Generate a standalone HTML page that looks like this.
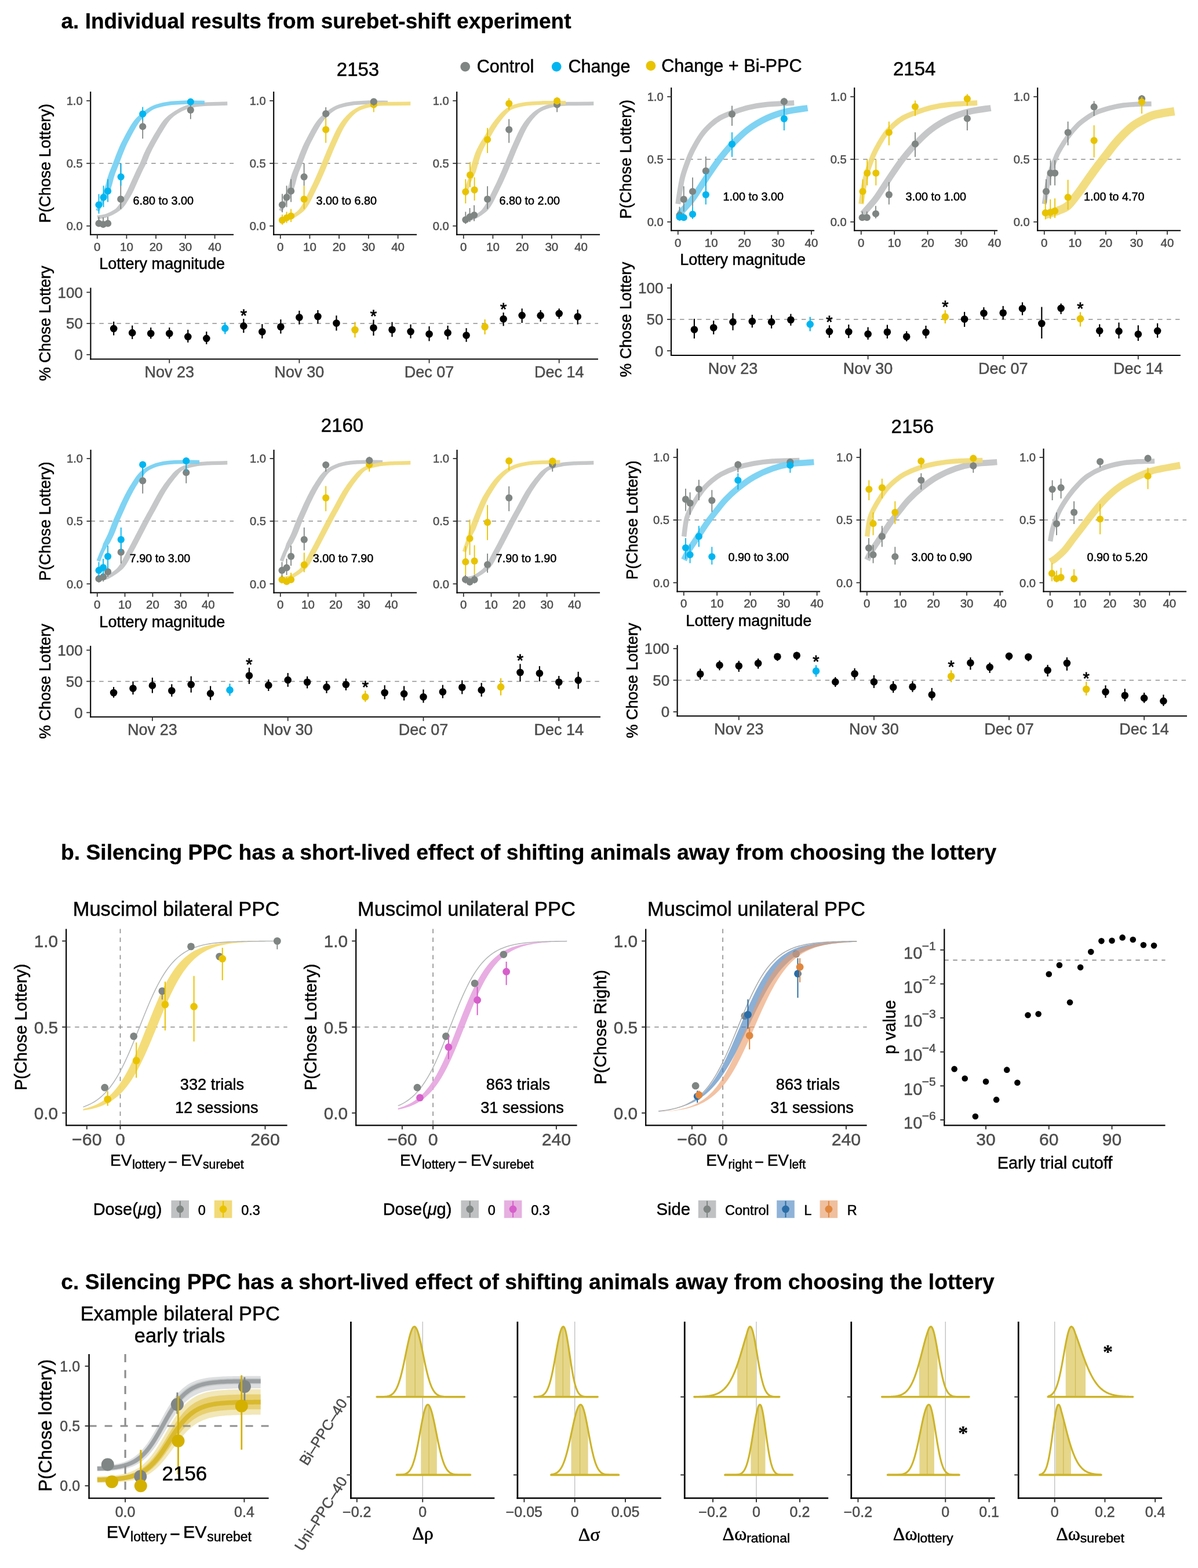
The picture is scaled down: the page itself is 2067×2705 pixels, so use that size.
<!DOCTYPE html>
<html><head><meta charset="utf-8"><title>Figure</title>
<style>html,body{margin:0;padding:0;background:#fff;}svg{display:block;}
text{font-family:'Liberation Sans',Arial,Helvetica,sans-serif;}</style></head>
<body><svg width="2067" height="2705" viewBox="0 0 2067 2705">
<rect x="0" y="0" width="2067" height="2705" fill="#fff"/>
<text x="105.5" y="48.7" font-size="37" font-weight="bold" stroke="#000" stroke-width="0.3">a. Individual results from surebet-shift experiment</text>
<text x="617.5" y="130.8" font-size="33" text-anchor="middle" stroke="#000" stroke-width="0.5">2153</text>
<text x="1577.7" y="129.5" font-size="33" text-anchor="middle" stroke="#000" stroke-width="0.5">2154</text>
<text x="590.5" y="744.6" font-size="33" text-anchor="middle" stroke="#000" stroke-width="0.5">2160</text>
<text x="1574.3" y="747" font-size="33" text-anchor="middle" stroke="#000" stroke-width="0.5">2156</text>
<circle cx="802.7" cy="115.1" r="8.4" fill="#7e8583"/>
<text x="822.7" y="124.7" font-size="30.6" stroke="#000" stroke-width="0.5">Control</text>
<circle cx="960.2" cy="115.1" r="8.4" fill="#00b5f0"/>
<text x="980.4" y="124.7" font-size="30.6" stroke="#000" stroke-width="0.5">Change</text>
<circle cx="1122.9" cy="113.5" r="8.4" fill="#e8c300"/>
<text x="1141.2" y="123.5" font-size="30.6" stroke="#000" stroke-width="0.5">Change + Bi-PPC</text>
<line x1="156.21" y1="281.79" x2="403.08" y2="281.79" stroke="#8e8e8e" stroke-width="1.5" stroke-dasharray="7.5 7.5"/>
<g opacity="0.93">
<path d="M168.11,375.01 L168.58,374.87 L169.17,374.71 L169.86,374.54 L170.64,374.35 L171.48,374.14 L172.38,373.9 L173.31,373.64 L174.25,373.34 L175.2,373.01 L176.13,372.65 L177.29,372.24 L178.68,371.79 L180.04,371.29 L181.45,370.72 L182.89,370.1 L184.33,369.44 L185.78,368.75 L187.22,368.03 L188.63,367.29 L189.99,366.56 L191.3,365.82 L192.54,365.11 L193.69,364.41 L194.75,363.76 L195.7,363.14 L196.56,362.56 L197.33,362.01 L198.03,361.47 L198.67,360.93 L199.27,360.39 L199.85,359.84 L200.41,359.26 L200.97,358.65 L201.54,358 L202.14,357.29 L202.79,356.53 L203.46,355.7 L204.13,354.82 L204.8,353.91 L205.47,352.95 L206.14,351.97 L206.81,350.95 L207.48,349.91 L208.15,348.85 L208.82,347.77 L209.48,346.68 L210.15,345.58 L210.82,344.47 L211.49,343.36 L212.16,342.24 L212.83,341.1 L213.5,339.95 L214.17,338.78 L214.84,337.59 L215.51,336.38 L216.18,335.16 L216.85,333.91 L217.52,332.63 L218.19,331.33 L218.86,330.01 L219.53,328.65 L220.2,327.25 L220.87,325.81 L221.54,324.35 L222.21,322.87 L222.88,321.37 L223.55,319.86 L224.22,318.34 L224.89,316.82 L225.56,315.31 L226.23,313.81 L226.9,312.33 L227.57,310.84 L228.25,309.32 L228.94,307.79 L229.63,306.26 L230.33,304.72 L231.01,303.19 L231.7,301.67 L232.37,300.18 L233.04,298.73 L233.69,297.32 L234.32,295.95 L234.93,294.65 L235.51,293.44 L236.06,292.34 L236.58,291.32 L237.07,290.36 L237.56,289.44 L238.05,288.52 L238.54,287.59 L239.04,286.61 L239.57,285.57 L240.12,284.44 L240.72,283.18 L241.36,281.79 L242.03,280.27 L242.71,278.67 L243.39,276.99 L244.1,275.24 L244.83,273.42 L245.58,271.54 L246.37,269.61 L247.19,267.62 L248.07,265.59 L248.99,263.52 L249.97,261.42 L251,259.29 L252.12,257.09 L253.31,254.78 L254.57,252.4 L255.89,249.94 L257.24,247.45 L258.64,244.93 L260.05,242.4 L261.48,239.88 L262.91,237.4 L264.32,234.98 L265.72,232.62 L267.08,230.36 L268.42,228.15 L269.75,225.93 L271.09,223.73 L272.43,221.55 L273.77,219.4 L275.11,217.3 L276.45,215.26 L277.79,213.28 L279.13,211.37 L280.47,209.56 L281.81,207.85 L283.15,206.25 L284.49,204.77 L285.83,203.4 L287.17,202.13 L288.51,200.95 L289.84,199.85 L291.18,198.82 L292.52,197.84 L293.86,196.91 L295.2,196.01 L296.54,195.13 L297.88,194.26 L299.22,193.39 L300.56,192.54 L301.9,191.73 L303.24,190.95 L304.58,190.21 L305.92,189.5 L307.26,188.82 L308.6,188.18 L309.93,187.56 L311.27,186.97 L312.61,186.41 L313.95,185.87 L315.29,185.36 L316.63,184.88 L317.97,184.43 L319.31,184.01 L320.65,183.63 L321.99,183.28 L323.33,182.95 L324.67,182.64 L326.01,182.35 L327.35,182.08 L328.69,181.82 L330.02,181.58 L331.36,181.34 L332.63,181.12 L333.77,180.93 L334.84,180.76 L335.86,180.61 L336.88,180.48 L337.94,180.36 L339.09,180.25 L340.35,180.14 L341.78,180.04 L343.41,179.95 L345.28,179.84 L347.44,179.73 L350.03,179.62 L353.11,179.5 L356.56,179.39 L360.29,179.28 L364.18,179.17 L368.13,179.07 L372.02,178.97 L375.74,178.88 L379.19,178.8 L382.26,178.72 L384.84,178.66 L386.81,178.61 L392.31,178.61 L390.19,178.8 L386.74,178.88 L383.02,178.97 L379.13,179.07 L375.18,179.17 L371.29,179.28 L367.56,179.39 L364.11,179.5 L361.03,179.62 L358.44,179.73 L356.28,179.84 L354.41,179.95 L352.78,180.04 L351.35,180.14 L350.09,180.25 L348.94,180.36 L347.88,180.48 L346.86,180.61 L345.84,180.76 L344.77,180.93 L343.63,181.12 L342.36,181.34 L341.02,181.58 L339.69,181.82 L338.35,182.08 L337.01,182.35 L335.67,182.64 L334.33,182.95 L332.99,183.28 L331.65,183.63 L330.31,184.01 L328.97,184.43 L327.63,184.88 L326.29,185.36 L324.95,185.87 L323.61,186.41 L322.27,186.97 L320.93,187.56 L319.6,188.18 L318.26,188.82 L316.92,189.5 L315.58,190.21 L314.24,190.95 L312.9,191.73 L311.56,192.54 L310.22,193.39 L308.88,194.26 L307.54,195.13 L306.2,196.01 L304.86,196.91 L303.52,197.84 L302.18,198.82 L300.84,199.85 L299.51,200.95 L298.17,202.13 L296.83,203.4 L295.49,204.77 L294.15,206.25 L292.81,207.85 L291.47,209.56 L290.13,211.37 L288.79,213.28 L287.45,215.26 L286.11,217.3 L284.77,219.4 L283.43,221.55 L282.09,223.73 L280.75,225.93 L279.42,228.15 L278.08,230.36 L276.72,232.62 L275.32,234.98 L273.91,237.4 L272.48,239.88 L271.05,242.4 L269.64,244.93 L268.24,247.45 L266.89,249.94 L265.57,252.4 L264.31,254.78 L263.12,257.09 L262,259.29 L260.97,261.42 L259.99,263.52 L259.07,265.59 L258.19,267.62 L257.37,269.61 L256.58,271.54 L255.83,273.42 L255.1,275.24 L254.39,276.99 L253.71,278.67 L253.03,280.27 L252.36,281.79 L251.72,283.18 L251.12,284.44 L250.57,285.57 L250.04,286.61 L249.54,287.59 L249.05,288.52 L248.56,289.44 L248.07,290.36 L247.58,291.32 L247.06,292.34 L246.51,293.44 L245.93,294.65 L245.32,295.95 L244.69,297.32 L244.04,298.73 L243.37,300.18 L242.7,301.67 L242.01,303.19 L241.33,304.72 L240.63,306.26 L239.94,307.79 L239.25,309.32 L238.57,310.84 L237.9,312.33 L237.23,313.81 L236.56,315.31 L235.89,316.82 L235.22,318.34 L234.55,319.86 L233.88,321.37 L233.21,322.87 L232.54,324.35 L231.87,325.81 L231.2,327.25 L230.53,328.65 L229.86,330.01 L229.19,331.33 L228.52,332.63 L227.85,333.91 L227.18,335.16 L226.51,336.38 L225.84,337.59 L225.17,338.78 L224.5,339.95 L223.83,341.1 L223.16,342.24 L222.49,343.36 L221.82,344.47 L221.15,345.58 L220.48,346.68 L219.82,347.77 L219.15,348.85 L218.48,349.91 L217.81,350.95 L217.14,351.97 L216.47,352.95 L215.8,353.91 L215.13,354.82 L214.46,355.7 L213.79,356.53 L213.14,357.29 L212.54,358 L211.97,358.65 L211.41,359.26 L210.85,359.84 L210.27,360.39 L209.67,360.93 L209.03,361.47 L208.33,362.01 L207.56,362.56 L206.7,363.14 L205.75,363.76 L204.69,364.41 L203.54,365.11 L202.3,365.82 L200.99,366.56 L199.63,367.29 L198.22,368.03 L196.78,368.75 L195.33,369.44 L193.89,370.1 L192.45,370.72 L191.04,371.29 L189.68,371.79 L188.29,372.24 L186.5,372.65 L184.37,373.01 L182.2,373.34 L180.03,373.64 L177.9,373.9 L175.85,374.14 L173.91,374.35 L172.13,374.54 L170.54,374.71 L169.19,374.87 L168.11,375.01Z" fill="#c1c3c4"/>
<path d="M168.11,375.01C170.79,374.47 178.82,373.67 184.18,371.79C189.54,369.92 196.23,366.3 200.25,363.76C204.27,361.21 205.61,359.74 208.29,356.53C210.97,353.31 213.65,348.89 216.32,344.47C219,340.05 221.68,335.36 224.36,330.01C227.04,324.65 229.72,318.22 232.4,312.33C235.07,306.43 238.02,299.74 240.43,294.65C242.84,289.56 244.18,287.68 246.86,281.79C249.54,275.9 252.22,267.86 256.5,259.29C260.79,250.72 267.22,239.2 272.58,230.36C277.93,221.52 283.29,212.41 288.65,206.25C294.01,200.09 299.36,196.88 304.72,193.39C310.08,189.91 315.43,187.37 320.79,185.36C326.15,183.35 331.51,182.28 336.86,181.34C342.22,180.4 343.69,180.19 352.94,179.73C362.18,179.28 385.75,178.8 392.31,178.61" fill="none" stroke="#c1c3c4" stroke-width="6.5"/>
</g>
<g opacity="0.93">
<path d="M168.11,363.76 L168.34,363 L168.63,362.08 L168.96,361.02 L169.34,359.83 L169.75,358.53 L170.18,357.13 L170.64,355.65 L171.11,354.11 L171.58,352.53 L172.06,350.92 L172.53,349.3 L172.99,347.69 L173.45,346.04 L173.93,344.31 L174.43,342.51 L174.94,340.66 L175.46,338.77 L175.98,336.84 L176.49,334.89 L177.25,332.92 L178.06,330.96 L178.85,329.01 L179.59,327.08 L180.29,325.18 L180.93,323.3 L181.53,321.42 L182.08,319.52 L182.61,317.63 L183.11,315.73 L183.6,313.83 L184.09,311.95 L184.57,310.07 L185.07,308.2 L185.59,306.34 L186.13,304.5 L186.72,302.68 L187.33,300.89 L187.96,299.11 L188.61,297.35 L189.28,295.6 L189.95,293.86 L190.63,292.14 L191.32,290.41 L192.01,288.7 L192.71,286.98 L193.39,285.25 L194.08,283.53 L194.75,281.79 L195.42,280.04 L196.09,278.27 L196.76,276.49 L197.43,274.71 L198.1,272.92 L198.77,271.14 L199.44,269.37 L200.11,267.62 L200.78,265.89 L201.45,264.19 L202.12,262.53 L202.79,260.9 L203.43,259.35 L204.03,257.89 L204.61,256.51 L205.17,255.18 L205.73,253.87 L206.3,252.56 L206.91,251.22 L207.55,249.82 L208.25,248.35 L209.02,246.78 L209.87,245.07 L210.82,243.22 L211.89,241.16 L213.06,238.9 L214.33,236.47 L215.67,233.93 L217.06,231.31 L218.5,228.65 L219.95,226 L221.41,223.4 L222.85,220.88 L224.25,218.5 L225.61,216.28 L226.9,214.29 L228.11,212.49 L229.28,210.83 L230.4,209.29 L231.5,207.86 L232.59,206.52 L233.67,205.25 L234.75,204.03 L235.86,202.86 L237,201.71 L238.18,200.56 L239.42,199.4 L240.72,198.22 L242.07,197.01 L243.44,195.81 L244.85,194.62 L246.28,193.45 L247.74,192.31 L249.24,191.18 L250.77,190.1 L252.34,189.05 L253.95,188.05 L255.6,187.09 L257.3,186.19 L259.04,185.36 L260.82,184.58 L262.63,183.87 L264.47,183.21 L266.35,182.59 L268.27,182.02 L270.23,181.49 L272.24,181 L274.3,180.54 L276.42,180.1 L278.6,179.69 L280.84,179.3 L283.15,178.93 L285.55,178.58 L288.04,178.26 L290.62,177.98 L293.27,177.72 L295.97,177.49 L298.72,177.29 L301.49,177.11 L304.28,176.96 L307.07,176.82 L309.84,176.71 L312.59,176.61 L315.29,176.52 L318.07,176.46 L321.02,176.44 L324.08,176.45 L327.2,176.48 L330.31,176.54 L333.37,176.61 L336.32,176.69 L339.1,176.77 L341.66,176.85 L343.94,176.92 L345.88,176.97 L347.44,177 L352.94,177 L352.66,176.85 L350.1,176.77 L347.32,176.69 L344.37,176.61 L341.31,176.54 L338.2,176.48 L335.08,176.45 L332.02,176.44 L329.07,176.46 L326.29,176.52 L323.59,176.61 L320.84,176.71 L318.07,176.82 L315.28,176.96 L312.49,177.11 L309.72,177.29 L306.97,177.49 L304.27,177.72 L301.62,177.98 L299.04,178.26 L296.55,178.58 L294.15,178.93 L291.84,179.3 L289.6,179.69 L287.42,180.1 L285.3,180.54 L283.24,181 L281.23,181.49 L279.27,182.02 L277.35,182.59 L275.47,183.21 L273.63,183.87 L271.82,184.58 L270.04,185.36 L268.3,186.19 L266.6,187.09 L264.95,188.05 L263.34,189.05 L261.77,190.1 L260.24,191.18 L258.74,192.31 L257.28,193.45 L255.85,194.62 L254.44,195.81 L253.07,197.01 L251.72,198.22 L250.42,199.4 L249.18,200.56 L248,201.71 L246.86,202.86 L245.75,204.03 L244.67,205.25 L243.59,206.52 L242.5,207.86 L241.4,209.29 L240.28,210.83 L239.11,212.49 L237.9,214.29 L236.61,216.28 L235.25,218.5 L233.85,220.88 L232.41,223.4 L230.95,226 L229.5,228.65 L228.06,231.31 L226.67,233.93 L225.33,236.47 L224.06,238.9 L222.89,241.16 L221.82,243.22 L220.87,245.07 L220.02,246.78 L219.25,248.35 L218.55,249.82 L217.91,251.22 L217.3,252.56 L216.73,253.87 L216.17,255.18 L215.61,256.51 L215.03,257.89 L214.43,259.35 L213.79,260.9 L213.12,262.53 L212.45,264.19 L211.78,265.89 L211.11,267.62 L210.44,269.37 L209.77,271.14 L209.1,272.92 L208.43,274.71 L207.76,276.49 L207.09,278.27 L206.42,280.04 L205.75,281.79 L205.08,283.53 L204.39,285.25 L203.71,286.98 L203.01,288.7 L202.32,290.41 L201.63,292.14 L200.95,293.86 L200.28,295.6 L199.61,297.35 L198.96,299.11 L198.33,300.89 L197.72,302.68 L197.13,304.5 L196.59,306.34 L196.07,308.2 L195.57,310.07 L195.09,311.95 L194.6,313.83 L194.11,315.73 L193.61,317.63 L193.08,319.52 L192.53,321.42 L191.93,323.3 L191.29,325.18 L190.59,327.08 L189.85,329.01 L189.06,330.96 L188.25,332.92 L187.34,334.89 L186.16,336.84 L184.97,338.77 L183.78,340.66 L182.61,342.51 L181.46,344.31 L180.36,346.04 L179.3,347.69 L178.25,349.3 L177.18,350.92 L176.08,352.53 L174.99,354.11 L173.91,355.65 L172.87,357.13 L171.86,358.53 L170.93,359.83 L170.07,361.02 L169.3,362.08 L168.64,363 L168.11,363.76Z" fill="#76d0f3"/>
<path d="M168.11,363.76C169.45,361.08 173.2,354.11 176.14,347.69C179.09,341.26 183.11,332.69 185.79,325.18C188.47,317.68 189.81,309.92 192.22,302.68C194.63,295.45 197.57,288.75 200.25,281.79C202.93,274.83 205.61,267.33 208.29,260.9C210.97,254.47 212.31,250.99 216.32,243.22C220.34,235.45 227.41,221.79 232.4,214.29C237.38,206.79 240.86,203.04 246.22,198.22C251.58,193.39 257.47,188.57 264.54,185.36C271.61,182.14 279.27,180.4 288.65,178.93C298.02,177.46 310.08,176.84 320.79,176.52C331.51,176.2 347.58,176.92 352.94,177" fill="none" stroke="#76d0f3" stroke-width="6.5"/>
</g>
<line x1="170.52" y1="374.2" x2="170.52" y2="391.08" stroke="#7e8583" stroke-width="1.8"/>
<line x1="178.07" y1="375.01" x2="178.07" y2="391.88" stroke="#7e8583" stroke-width="1.8"/>
<line x1="186.11" y1="374.2" x2="186.11" y2="391.08" stroke="#7e8583" stroke-width="1.8"/>
<line x1="208.29" y1="281.79" x2="208.29" y2="360.54" stroke="#7e8583" stroke-width="1.8"/>
<line x1="246.22" y1="196.61" x2="246.22" y2="239.2" stroke="#7e8583" stroke-width="1.8"/>
<line x1="328.83" y1="175.72" x2="328.83" y2="205.45" stroke="#7e8583" stroke-width="1.8"/>
<circle cx="170.52" cy="385.45" r="6.1" fill="#7e8583"/>
<circle cx="178.07" cy="387.06" r="6.1" fill="#7e8583"/>
<circle cx="186.11" cy="385.45" r="6.1" fill="#7e8583"/>
<circle cx="208.29" cy="343.67" r="6.1" fill="#7e8583"/>
<circle cx="246.22" cy="218.31" r="6.1" fill="#7e8583"/>
<circle cx="328.83" cy="189.86" r="6.1" fill="#7e8583"/>
<line x1="170.52" y1="334.83" x2="170.52" y2="368.58" stroke="#00b5f0" stroke-width="1.8"/>
<line x1="178.55" y1="320.36" x2="178.55" y2="357.33" stroke="#00b5f0" stroke-width="1.8"/>
<line x1="186.11" y1="309.11" x2="186.11" y2="348.49" stroke="#00b5f0" stroke-width="1.8"/>
<line x1="208.61" y1="281.79" x2="208.61" y2="320.36" stroke="#00b5f0" stroke-width="1.8"/>
<line x1="246.22" y1="184.55" x2="246.22" y2="207.86" stroke="#00b5f0" stroke-width="1.8"/>
<line x1="328.83" y1="170.89" x2="328.83" y2="182.14" stroke="#00b5f0" stroke-width="1.8"/>
<circle cx="170.52" cy="353.31" r="6.1" fill="#00b5f0"/>
<circle cx="178.55" cy="340.45" r="6.1" fill="#00b5f0"/>
<circle cx="186.11" cy="329.68" r="6.1" fill="#00b5f0"/>
<circle cx="208.61" cy="305.09" r="6.1" fill="#00b5f0"/>
<circle cx="246.22" cy="196.61" r="6.1" fill="#00b5f0"/>
<circle cx="328.83" cy="175.72" r="6.1" fill="#00b5f0"/>
<line x1="156.21" y1="158.04" x2="156.21" y2="405.74" stroke="#000" stroke-width="2.1"/>
<line x1="155.21" y1="404.74" x2="403.08" y2="404.74" stroke="#000" stroke-width="2.1"/>
<line x1="149.21" y1="389.79" x2="156.21" y2="389.79" stroke="#333" stroke-width="1.8"/>
<text x="142.71" y="397.09" font-size="20.2" text-anchor="end" fill="#4d4d4d" stroke="#4d4d4d" stroke-width="0.5">0.0</text>
<line x1="149.21" y1="281.79" x2="156.21" y2="281.79" stroke="#333" stroke-width="1.8"/>
<text x="142.71" y="289.09" font-size="20.2" text-anchor="end" fill="#4d4d4d" stroke="#4d4d4d" stroke-width="0.5">0.5</text>
<line x1="149.21" y1="173.79" x2="156.21" y2="173.79" stroke="#333" stroke-width="1.8"/>
<text x="142.71" y="181.09" font-size="20.2" text-anchor="end" fill="#4d4d4d" stroke="#4d4d4d" stroke-width="0.5">1.0</text>
<line x1="167.79" y1="404.74" x2="167.79" y2="411.74" stroke="#333" stroke-width="1.8"/>
<text x="167.79" y="432.54" font-size="20.5" text-anchor="middle" fill="#4d4d4d" stroke="#4d4d4d" stroke-width="0.5">0</text>
<line x1="218.41" y1="404.74" x2="218.41" y2="411.74" stroke="#333" stroke-width="1.8"/>
<text x="218.41" y="432.54" font-size="20.5" text-anchor="middle" fill="#4d4d4d" stroke="#4d4d4d" stroke-width="0.5">10</text>
<line x1="269.04" y1="404.74" x2="269.04" y2="411.74" stroke="#333" stroke-width="1.8"/>
<text x="269.04" y="432.54" font-size="20.5" text-anchor="middle" fill="#4d4d4d" stroke="#4d4d4d" stroke-width="0.5">20</text>
<line x1="319.83" y1="404.74" x2="319.83" y2="411.74" stroke="#333" stroke-width="1.8"/>
<text x="319.83" y="432.54" font-size="20.5" text-anchor="middle" fill="#4d4d4d" stroke="#4d4d4d" stroke-width="0.5">30</text>
<line x1="370.62" y1="404.74" x2="370.62" y2="411.74" stroke="#333" stroke-width="1.8"/>
<text x="370.62" y="432.54" font-size="20.5" text-anchor="middle" fill="#4d4d4d" stroke="#4d4d4d" stroke-width="0.5">40</text>
<text x="229.49" y="353.31" font-size="19.8" stroke="#000" stroke-width="0.5">6.80 to 3.00</text>
<text x="279.65" y="463.74" font-size="27.1" text-anchor="middle" stroke="#000" stroke-width="0.5">Lottery magnitude</text>
<text x="87" y="281.79" font-size="27.2" text-anchor="middle" transform="rotate(-90 87 281.79)" stroke="#000" stroke-width="0.5">P(Chose Lottery)</text>
<line x1="472.21" y1="281.79" x2="719.08" y2="281.79" stroke="#8e8e8e" stroke-width="1.5" stroke-dasharray="7.5 7.5"/>
<g opacity="0.93">
<path d="M484.11,363.76 L484.34,363 L484.63,362.08 L484.96,361.02 L485.34,359.83 L485.75,358.53 L486.18,357.13 L486.64,355.65 L487.11,354.11 L487.58,352.53 L488.06,350.92 L488.53,349.3 L488.99,347.69 L489.45,346.04 L489.93,344.31 L490.43,342.51 L490.94,340.66 L491.46,338.77 L491.98,336.84 L492.49,334.89 L493.25,332.92 L494.06,330.96 L494.85,329.01 L495.59,327.08 L496.29,325.18 L496.93,323.3 L497.53,321.42 L498.08,319.52 L498.61,317.63 L499.11,315.73 L499.6,313.83 L500.09,311.95 L500.57,310.07 L501.07,308.2 L501.59,306.34 L502.13,304.5 L502.72,302.68 L503.33,300.89 L503.96,299.11 L504.61,297.35 L505.28,295.6 L505.95,293.86 L506.63,292.14 L507.32,290.41 L508.01,288.7 L508.71,286.98 L509.39,285.25 L510.08,283.53 L510.75,281.79 L511.42,280.04 L512.09,278.27 L512.76,276.49 L513.43,274.71 L514.1,272.92 L514.77,271.14 L515.44,269.37 L516.11,267.62 L516.78,265.89 L517.45,264.19 L518.12,262.53 L518.79,260.9 L519.43,259.35 L520.03,257.89 L520.61,256.51 L521.17,255.18 L521.73,253.87 L522.3,252.56 L522.91,251.22 L523.55,249.82 L524.25,248.35 L525.02,246.78 L525.87,245.07 L526.82,243.22 L527.89,241.16 L529.06,238.9 L530.33,236.47 L531.67,233.93 L533.06,231.31 L534.5,228.65 L535.95,226 L537.41,223.4 L538.85,220.88 L540.25,218.5 L541.61,216.28 L542.9,214.29 L544.11,212.49 L545.28,210.83 L546.4,209.29 L547.5,207.86 L548.59,206.52 L549.67,205.25 L550.75,204.03 L551.86,202.86 L553,201.71 L554.18,200.56 L555.42,199.4 L556.72,198.22 L558.07,197.01 L559.44,195.81 L560.85,194.62 L562.28,193.45 L563.74,192.31 L565.24,191.18 L566.77,190.1 L568.34,189.05 L569.95,188.05 L571.6,187.09 L573.3,186.19 L575.04,185.36 L576.82,184.58 L578.63,183.87 L580.47,183.21 L582.35,182.59 L584.27,182.02 L586.23,181.49 L588.24,181 L590.3,180.54 L592.42,180.1 L594.6,179.69 L596.84,179.3 L599.15,178.93 L601.55,178.58 L604.04,178.26 L606.62,177.98 L609.27,177.72 L611.97,177.49 L614.72,177.29 L617.49,177.11 L620.28,176.96 L623.07,176.82 L625.84,176.71 L628.59,176.61 L631.29,176.52 L634.07,176.46 L637.02,176.44 L640.08,176.45 L643.2,176.48 L646.31,176.54 L649.37,176.61 L652.32,176.69 L655.1,176.77 L657.66,176.85 L659.94,176.92 L661.88,176.97 L663.44,177 L668.94,177 L668.66,176.85 L666.1,176.77 L663.32,176.69 L660.37,176.61 L657.31,176.54 L654.2,176.48 L651.08,176.45 L648.02,176.44 L645.07,176.46 L642.29,176.52 L639.59,176.61 L636.84,176.71 L634.07,176.82 L631.28,176.96 L628.49,177.11 L625.72,177.29 L622.97,177.49 L620.27,177.72 L617.62,177.98 L615.04,178.26 L612.55,178.58 L610.15,178.93 L607.84,179.3 L605.6,179.69 L603.42,180.1 L601.3,180.54 L599.24,181 L597.23,181.49 L595.27,182.02 L593.35,182.59 L591.47,183.21 L589.63,183.87 L587.82,184.58 L586.04,185.36 L584.3,186.19 L582.6,187.09 L580.95,188.05 L579.34,189.05 L577.77,190.1 L576.24,191.18 L574.74,192.31 L573.28,193.45 L571.85,194.62 L570.44,195.81 L569.07,197.01 L567.72,198.22 L566.42,199.4 L565.18,200.56 L564,201.71 L562.86,202.86 L561.75,204.03 L560.67,205.25 L559.59,206.52 L558.5,207.86 L557.4,209.29 L556.28,210.83 L555.11,212.49 L553.9,214.29 L552.61,216.28 L551.25,218.5 L549.85,220.88 L548.41,223.4 L546.95,226 L545.5,228.65 L544.06,231.31 L542.67,233.93 L541.33,236.47 L540.06,238.9 L538.89,241.16 L537.82,243.22 L536.87,245.07 L536.02,246.78 L535.25,248.35 L534.55,249.82 L533.91,251.22 L533.3,252.56 L532.73,253.87 L532.17,255.18 L531.61,256.51 L531.03,257.89 L530.43,259.35 L529.79,260.9 L529.12,262.53 L528.45,264.19 L527.78,265.89 L527.11,267.62 L526.44,269.37 L525.77,271.14 L525.1,272.92 L524.43,274.71 L523.76,276.49 L523.09,278.27 L522.42,280.04 L521.75,281.79 L521.08,283.53 L520.39,285.25 L519.71,286.98 L519.01,288.7 L518.32,290.41 L517.63,292.14 L516.95,293.86 L516.28,295.6 L515.61,297.35 L514.96,299.11 L514.33,300.89 L513.72,302.68 L513.13,304.5 L512.59,306.34 L512.07,308.2 L511.57,310.07 L511.09,311.95 L510.6,313.83 L510.11,315.73 L509.61,317.63 L509.08,319.52 L508.53,321.42 L507.93,323.3 L507.29,325.18 L506.59,327.08 L505.85,329.01 L505.06,330.96 L504.25,332.92 L503.34,334.89 L502.16,336.84 L500.97,338.77 L499.78,340.66 L498.61,342.51 L497.46,344.31 L496.36,346.04 L495.3,347.69 L494.25,349.3 L493.18,350.92 L492.08,352.53 L490.99,354.11 L489.91,355.65 L488.87,357.13 L487.86,358.53 L486.93,359.83 L486.07,361.02 L485.3,362.08 L484.64,363 L484.11,363.76Z" fill="#c1c3c4"/>
<path d="M484.11,363.76C485.45,361.08 489.2,354.11 492.14,347.69C495.09,341.26 499.11,332.69 501.79,325.18C504.47,317.68 505.81,309.92 508.22,302.68C510.63,295.45 513.57,288.75 516.25,281.79C518.93,274.83 521.61,267.33 524.29,260.9C526.97,254.47 528.31,250.99 532.32,243.22C536.34,235.45 543.41,221.79 548.4,214.29C553.38,206.79 556.86,203.04 562.22,198.22C567.58,193.39 573.47,188.57 580.54,185.36C587.61,182.14 595.27,180.4 604.65,178.93C614.02,177.46 626.08,176.84 636.79,176.52C647.51,176.2 663.58,176.92 668.94,177" fill="none" stroke="#c1c3c4" stroke-width="6.5"/>
</g>
<g opacity="0.93">
<path d="M484.11,382.24 L484.83,381.75 L485.76,381.15 L486.85,380.46 L488.08,379.68 L489.42,378.83 L490.82,377.92 L492.25,376.96 L494.38,375.96 L496.69,374.93 L498.88,373.89 L500.91,372.84 L502.72,371.79 L504.34,370.78 L505.86,369.8 L507.3,368.84 L508.67,367.86 L509.98,366.87 L511.25,365.82 L512.5,364.7 L513.73,363.49 L514.96,362.17 L516.2,360.72 L517.47,359.11 L518.79,357.33 L520.14,355.33 L521.52,353.1 L522.92,350.67 L524.32,348.1 L525.73,345.42 L527.13,342.66 L528.51,339.87 L529.86,337.09 L531.18,334.35 L532.46,331.7 L533.69,329.16 L534.86,326.79 L535.97,324.55 L537.04,322.36 L538.07,320.24 L539.06,318.16 L540.01,316.13 L540.94,314.14 L541.84,312.18 L542.72,310.24 L543.58,308.33 L544.43,306.44 L545.27,304.56 L546.11,302.68 L546.92,300.86 L547.69,299.11 L548.41,297.42 L549.12,295.78 L549.8,294.16 L550.48,292.54 L551.16,290.9 L551.85,289.23 L552.57,287.5 L553.32,285.7 L554.11,283.8 L554.95,281.79 L555.83,279.68 L556.73,277.49 L557.64,275.24 L558.58,272.92 L559.54,270.55 L560.52,268.13 L561.53,265.66 L562.57,263.16 L563.63,260.62 L564.73,258.05 L565.85,255.47 L567,252.86 L568.2,250.18 L569.45,247.37 L570.74,244.46 L572.06,241.49 L573.42,238.49 L574.79,235.48 L576.18,232.51 L577.57,229.59 L578.96,226.76 L580.35,224.05 L581.72,221.49 L583.08,219.11 L584.42,216.89 L585.75,214.77 L587.09,212.76 L588.43,210.84 L589.77,209 L591.11,207.26 L592.45,205.59 L593.79,203.99 L595.13,202.46 L596.47,200.99 L597.81,199.58 L599.15,198.22 L600.46,196.93 L601.73,195.73 L602.98,194.61 L604.21,193.57 L605.44,192.6 L606.68,191.69 L607.95,190.82 L609.27,190 L610.64,189.21 L612.08,188.45 L613.6,187.7 L615.22,186.97 L616.95,186.25 L618.77,185.56 L620.68,184.91 L622.66,184.29 L624.7,183.7 L626.77,183.15 L628.88,182.63 L630.99,182.14 L633.11,181.69 L635.22,181.27 L637.29,180.89 L639.33,180.54 L641.29,180.23 L643.17,179.98 L645,179.77 L646.8,179.6 L648.6,179.46 L650.43,179.35 L652.31,179.26 L654.27,179.19 L656.34,179.13 L658.53,179.07 L660.89,179 L663.44,178.93 L666.31,178.86 L669.57,178.8 L673.13,178.75 L676.89,178.72 L680.75,178.69 L684.63,178.67 L688.42,178.65 L692.04,178.64 L695.38,178.64 L698.35,178.63 L700.86,178.62 L702.81,178.61 L708.31,178.61 L706.38,178.64 L703.04,178.64 L699.42,178.65 L695.63,178.67 L691.75,178.69 L687.89,178.72 L684.13,178.75 L680.57,178.8 L677.31,178.86 L674.44,178.93 L671.89,179 L669.53,179.07 L667.34,179.13 L665.27,179.19 L663.31,179.26 L661.43,179.35 L659.6,179.46 L657.8,179.6 L656,179.77 L654.17,179.98 L652.29,180.23 L650.33,180.54 L648.29,180.89 L646.22,181.27 L644.11,181.69 L641.99,182.14 L639.88,182.63 L637.77,183.15 L635.7,183.7 L633.66,184.29 L631.68,184.91 L629.77,185.56 L627.95,186.25 L626.22,186.97 L624.6,187.7 L623.08,188.45 L621.64,189.21 L620.27,190 L618.95,190.82 L617.68,191.69 L616.44,192.6 L615.21,193.57 L613.98,194.61 L612.73,195.73 L611.46,196.93 L610.15,198.22 L608.81,199.58 L607.47,200.99 L606.13,202.46 L604.79,203.99 L603.45,205.59 L602.11,207.26 L600.77,209 L599.43,210.84 L598.09,212.76 L596.75,214.77 L595.42,216.89 L594.08,219.11 L592.72,221.49 L591.35,224.05 L589.96,226.76 L588.57,229.59 L587.18,232.51 L585.79,235.48 L584.42,238.49 L583.06,241.49 L581.74,244.46 L580.45,247.37 L579.2,250.18 L578,252.86 L576.85,255.47 L575.73,258.05 L574.63,260.62 L573.57,263.16 L572.53,265.66 L571.52,268.13 L570.54,270.55 L569.58,272.92 L568.64,275.24 L567.73,277.49 L566.83,279.68 L565.95,281.79 L565.11,283.8 L564.32,285.7 L563.57,287.5 L562.85,289.23 L562.16,290.9 L561.48,292.54 L560.8,294.16 L560.12,295.78 L559.41,297.42 L558.69,299.11 L557.92,300.86 L557.11,302.68 L556.27,304.56 L555.43,306.44 L554.58,308.33 L553.72,310.24 L552.84,312.18 L551.94,314.14 L551.01,316.13 L550.06,318.16 L549.07,320.24 L548.04,322.36 L546.97,324.55 L545.86,326.79 L544.69,329.16 L543.46,331.7 L542.18,334.35 L540.86,337.09 L539.51,339.87 L538.13,342.66 L536.73,345.42 L535.32,348.1 L533.92,350.67 L532.52,353.1 L531.14,355.33 L529.79,357.33 L528.47,359.11 L527.2,360.72 L525.96,362.17 L524.73,363.49 L523.5,364.7 L522.25,365.82 L520.98,366.87 L519.67,367.86 L518.3,368.84 L516.86,369.8 L515.34,370.78 L513.72,371.79 L511.91,372.84 L509.88,373.89 L507.69,374.93 L505.38,375.96 L502.79,376.96 L499.5,377.92 L496.29,378.83 L493.23,379.68 L490.4,380.46 L487.89,381.15 L485.77,381.75 L484.11,382.24Z" fill="#f2db78"/>
<path d="M484.11,382.24C488.13,380.5 501.52,375.95 508.22,371.79C514.91,367.64 518.93,364.83 524.29,357.33C529.65,349.83 535.81,335.9 540.36,326.79C544.91,317.68 548.26,310.18 551.61,302.68C554.96,295.18 556.97,290.09 560.45,281.79C563.93,273.49 567.82,263.31 572.5,252.86C577.19,242.41 583.22,228.22 588.58,219.11C593.93,210 599.29,203.57 604.65,198.22C610.01,192.86 614.02,189.91 620.72,186.97C627.42,184.02 636.79,181.88 644.83,180.54C652.86,179.2 658.36,179.25 668.94,178.93C679.52,178.61 701.75,178.66 708.31,178.61" fill="none" stroke="#f2db78" stroke-width="6.5"/>
</g>
<line x1="487" y1="370.19" x2="487" y2="387.87" stroke="#e8c300" stroke-width="1.8"/>
<line x1="494.55" y1="365.36" x2="494.55" y2="384.65" stroke="#e8c300" stroke-width="1.8"/>
<line x1="502.11" y1="360.54" x2="502.11" y2="383.04" stroke="#e8c300" stroke-width="1.8"/>
<line x1="524.61" y1="320.36" x2="524.61" y2="360.54" stroke="#e8c300" stroke-width="1.8"/>
<line x1="562.22" y1="203.04" x2="562.22" y2="246.43" stroke="#e8c300" stroke-width="1.8"/>
<line x1="644.83" y1="174.11" x2="644.83" y2="193.39" stroke="#e8c300" stroke-width="1.8"/>
<circle cx="487" cy="379.83" r="6.1" fill="#e8c300"/>
<circle cx="494.55" cy="375.81" r="6.1" fill="#e8c300"/>
<circle cx="502.11" cy="372.6" r="6.1" fill="#e8c300"/>
<circle cx="524.61" cy="343.67" r="6.1" fill="#e8c300"/>
<circle cx="562.22" cy="223.61" r="6.1" fill="#e8c300"/>
<circle cx="644.83" cy="180.54" r="6.1" fill="#e8c300"/>
<line x1="487" y1="334.51" x2="487" y2="366.17" stroke="#7e8583" stroke-width="1.8"/>
<line x1="494.55" y1="320.36" x2="494.55" y2="357.33" stroke="#7e8583" stroke-width="1.8"/>
<line x1="502.11" y1="309.11" x2="502.11" y2="348.49" stroke="#7e8583" stroke-width="1.8"/>
<line x1="524.61" y1="281.79" x2="524.61" y2="320.36" stroke="#7e8583" stroke-width="1.8"/>
<line x1="562.22" y1="185.04" x2="562.22" y2="203.04" stroke="#7e8583" stroke-width="1.8"/>
<line x1="644.83" y1="170.89" x2="644.83" y2="182.14" stroke="#7e8583" stroke-width="1.8"/>
<circle cx="487" cy="353.31" r="6.1" fill="#7e8583"/>
<circle cx="494.55" cy="340.45" r="6.1" fill="#7e8583"/>
<circle cx="502.11" cy="329.68" r="6.1" fill="#7e8583"/>
<circle cx="524.61" cy="305.09" r="6.1" fill="#7e8583"/>
<circle cx="562.22" cy="196.13" r="6.1" fill="#7e8583"/>
<circle cx="644.83" cy="175.39" r="6.1" fill="#7e8583"/>
<line x1="472.21" y1="158.04" x2="472.21" y2="405.74" stroke="#000" stroke-width="2.1"/>
<line x1="471.21" y1="404.74" x2="719.08" y2="404.74" stroke="#000" stroke-width="2.1"/>
<line x1="465.21" y1="389.79" x2="472.21" y2="389.79" stroke="#333" stroke-width="1.8"/>
<text x="458.71" y="397.09" font-size="20.2" text-anchor="end" fill="#4d4d4d" stroke="#4d4d4d" stroke-width="0.5">0.0</text>
<line x1="465.21" y1="281.79" x2="472.21" y2="281.79" stroke="#333" stroke-width="1.8"/>
<text x="458.71" y="289.09" font-size="20.2" text-anchor="end" fill="#4d4d4d" stroke="#4d4d4d" stroke-width="0.5">0.5</text>
<line x1="465.21" y1="173.79" x2="472.21" y2="173.79" stroke="#333" stroke-width="1.8"/>
<text x="458.71" y="181.09" font-size="20.2" text-anchor="end" fill="#4d4d4d" stroke="#4d4d4d" stroke-width="0.5">1.0</text>
<line x1="483.79" y1="404.74" x2="483.79" y2="411.74" stroke="#333" stroke-width="1.8"/>
<text x="483.79" y="432.54" font-size="20.5" text-anchor="middle" fill="#4d4d4d" stroke="#4d4d4d" stroke-width="0.5">0</text>
<line x1="534.41" y1="404.74" x2="534.41" y2="411.74" stroke="#333" stroke-width="1.8"/>
<text x="534.41" y="432.54" font-size="20.5" text-anchor="middle" fill="#4d4d4d" stroke="#4d4d4d" stroke-width="0.5">10</text>
<line x1="585.04" y1="404.74" x2="585.04" y2="411.74" stroke="#333" stroke-width="1.8"/>
<text x="585.04" y="432.54" font-size="20.5" text-anchor="middle" fill="#4d4d4d" stroke="#4d4d4d" stroke-width="0.5">20</text>
<line x1="635.83" y1="404.74" x2="635.83" y2="411.74" stroke="#333" stroke-width="1.8"/>
<text x="635.83" y="432.54" font-size="20.5" text-anchor="middle" fill="#4d4d4d" stroke="#4d4d4d" stroke-width="0.5">30</text>
<line x1="686.62" y1="404.74" x2="686.62" y2="411.74" stroke="#333" stroke-width="1.8"/>
<text x="686.62" y="432.54" font-size="20.5" text-anchor="middle" fill="#4d4d4d" stroke="#4d4d4d" stroke-width="0.5">40</text>
<text x="545.49" y="353.31" font-size="19.8" stroke="#000" stroke-width="0.5">3.00 to 6.80</text>
<line x1="788.21" y1="281.79" x2="1035.08" y2="281.79" stroke="#8e8e8e" stroke-width="1.5" stroke-dasharray="7.5 7.5"/>
<g opacity="0.93">
<path d="M800.11,382.24 L800.83,381.75 L801.76,381.15 L802.85,380.46 L804.08,379.68 L805.42,378.83 L806.82,377.92 L808.25,376.96 L810.38,375.96 L812.69,374.93 L814.88,373.89 L816.91,372.84 L818.72,371.79 L820.34,370.78 L821.86,369.8 L823.3,368.84 L824.67,367.86 L825.98,366.87 L827.25,365.82 L828.5,364.7 L829.73,363.49 L830.96,362.17 L832.2,360.72 L833.47,359.11 L834.79,357.33 L836.14,355.33 L837.52,353.1 L838.92,350.67 L840.32,348.1 L841.73,345.42 L843.13,342.66 L844.51,339.87 L845.86,337.09 L847.18,334.35 L848.46,331.7 L849.69,329.16 L850.86,326.79 L851.97,324.55 L853.04,322.36 L854.07,320.24 L855.06,318.16 L856.01,316.13 L856.94,314.14 L857.84,312.18 L858.72,310.24 L859.58,308.33 L860.43,306.44 L861.27,304.56 L862.11,302.68 L862.92,300.86 L863.69,299.11 L864.41,297.42 L865.12,295.78 L865.8,294.16 L866.48,292.54 L867.16,290.9 L867.85,289.23 L868.57,287.5 L869.32,285.7 L870.11,283.8 L870.95,281.79 L871.83,279.68 L872.73,277.49 L873.64,275.24 L874.58,272.92 L875.54,270.55 L876.52,268.13 L877.53,265.66 L878.57,263.16 L879.63,260.62 L880.73,258.05 L881.85,255.47 L883,252.86 L884.2,250.18 L885.45,247.37 L886.74,244.46 L888.06,241.49 L889.42,238.49 L890.79,235.48 L892.18,232.51 L893.57,229.59 L894.96,226.76 L896.35,224.05 L897.72,221.49 L899.08,219.11 L900.42,216.89 L901.75,214.77 L903.09,212.76 L904.43,210.84 L905.77,209 L907.11,207.26 L908.45,205.59 L909.79,203.99 L911.13,202.46 L912.47,200.99 L913.81,199.58 L915.15,198.22 L916.46,196.93 L917.73,195.73 L918.98,194.61 L920.21,193.57 L921.44,192.6 L922.68,191.69 L923.95,190.82 L925.27,190 L926.64,189.21 L928.08,188.45 L929.6,187.7 L931.22,186.97 L932.95,186.25 L934.77,185.56 L936.68,184.91 L938.66,184.29 L940.7,183.7 L942.77,183.15 L944.88,182.63 L946.99,182.14 L949.11,181.69 L951.22,181.27 L953.29,180.89 L955.33,180.54 L957.29,180.23 L959.17,179.98 L961,179.77 L962.8,179.6 L964.6,179.46 L966.43,179.35 L968.31,179.26 L970.27,179.19 L972.34,179.13 L974.53,179.07 L976.89,179 L979.44,178.93 L982.31,178.86 L985.57,178.8 L989.13,178.75 L992.89,178.72 L996.75,178.69 L1000.63,178.67 L1004.42,178.65 L1008.04,178.64 L1011.38,178.64 L1014.35,178.63 L1016.86,178.62 L1018.81,178.61 L1024.31,178.61 L1022.38,178.64 L1019.04,178.64 L1015.42,178.65 L1011.63,178.67 L1007.75,178.69 L1003.89,178.72 L1000.13,178.75 L996.57,178.8 L993.31,178.86 L990.44,178.93 L987.89,179 L985.53,179.07 L983.34,179.13 L981.27,179.19 L979.31,179.26 L977.43,179.35 L975.6,179.46 L973.8,179.6 L972,179.77 L970.17,179.98 L968.29,180.23 L966.33,180.54 L964.29,180.89 L962.22,181.27 L960.11,181.69 L957.99,182.14 L955.88,182.63 L953.77,183.15 L951.7,183.7 L949.66,184.29 L947.68,184.91 L945.77,185.56 L943.95,186.25 L942.22,186.97 L940.6,187.7 L939.08,188.45 L937.64,189.21 L936.27,190 L934.95,190.82 L933.68,191.69 L932.44,192.6 L931.21,193.57 L929.98,194.61 L928.73,195.73 L927.46,196.93 L926.15,198.22 L924.81,199.58 L923.47,200.99 L922.13,202.46 L920.79,203.99 L919.45,205.59 L918.11,207.26 L916.77,209 L915.43,210.84 L914.09,212.76 L912.75,214.77 L911.42,216.89 L910.08,219.11 L908.72,221.49 L907.35,224.05 L905.96,226.76 L904.57,229.59 L903.18,232.51 L901.79,235.48 L900.42,238.49 L899.06,241.49 L897.74,244.46 L896.45,247.37 L895.2,250.18 L894,252.86 L892.85,255.47 L891.73,258.05 L890.63,260.62 L889.57,263.16 L888.53,265.66 L887.52,268.13 L886.54,270.55 L885.58,272.92 L884.64,275.24 L883.73,277.49 L882.83,279.68 L881.95,281.79 L881.11,283.8 L880.32,285.7 L879.57,287.5 L878.85,289.23 L878.16,290.9 L877.48,292.54 L876.8,294.16 L876.12,295.78 L875.41,297.42 L874.69,299.11 L873.92,300.86 L873.11,302.68 L872.27,304.56 L871.43,306.44 L870.58,308.33 L869.72,310.24 L868.84,312.18 L867.94,314.14 L867.01,316.13 L866.06,318.16 L865.07,320.24 L864.04,322.36 L862.97,324.55 L861.86,326.79 L860.69,329.16 L859.46,331.7 L858.18,334.35 L856.86,337.09 L855.51,339.87 L854.13,342.66 L852.73,345.42 L851.32,348.1 L849.92,350.67 L848.52,353.1 L847.14,355.33 L845.79,357.33 L844.47,359.11 L843.2,360.72 L841.96,362.17 L840.73,363.49 L839.5,364.7 L838.25,365.82 L836.98,366.87 L835.67,367.86 L834.3,368.84 L832.86,369.8 L831.34,370.78 L829.72,371.79 L827.91,372.84 L825.88,373.89 L823.69,374.93 L821.38,375.96 L818.79,376.96 L815.5,377.92 L812.29,378.83 L809.23,379.68 L806.4,380.46 L803.89,381.15 L801.77,381.75 L800.11,382.24Z" fill="#c1c3c4"/>
<path d="M800.11,382.24C804.13,380.5 817.52,375.95 824.22,371.79C830.91,367.64 834.93,364.83 840.29,357.33C845.65,349.83 851.81,335.9 856.36,326.79C860.91,317.68 864.26,310.18 867.61,302.68C870.96,295.18 872.97,290.09 876.45,281.79C879.93,273.49 883.82,263.31 888.5,252.86C893.19,242.41 899.22,228.22 904.58,219.11C909.93,210 915.29,203.57 920.65,198.22C926.01,192.86 930.02,189.91 936.72,186.97C943.42,184.02 952.79,181.88 960.83,180.54C968.86,179.2 974.36,179.25 984.94,178.93C995.52,178.61 1017.75,178.66 1024.31,178.61" fill="none" stroke="#c1c3c4" stroke-width="6.5"/>
</g>
<g opacity="0.93">
<path d="M801.72,336.44 L801.9,335.5 L802.14,334.32 L802.42,332.93 L802.73,331.38 L803.06,329.69 L803.42,327.9 L803.79,326.05 L804.17,324.17 L804.55,322.31 L804.92,320.49 L805.28,318.76 L805.62,317.15 L805.94,315.67 L806.25,314.28 L806.55,312.96 L806.85,311.67 L807.15,310.4 L807.45,309.11 L807.76,307.78 L808.08,306.37 L808.41,304.87 L808.76,303.23 L809.13,301.44 L809.52,299.47 L809.94,297.25 L810.51,294.78 L811.3,292.11 L812.11,289.29 L812.94,286.37 L813.79,283.4 L814.65,280.43 L815.5,277.5 L816.34,274.68 L817.16,272.01 L817.96,269.54 L818.72,267.33 L819.44,265.33 L820.15,263.49 L820.84,261.78 L821.51,260.18 L822.18,258.69 L822.83,257.28 L823.49,255.94 L824.13,254.65 L824.78,253.39 L825.43,252.15 L826.09,250.9 L826.75,249.65 L827.4,248.45 L828,247.37 L828.57,246.39 L829.13,245.48 L829.69,244.6 L830.27,243.72 L830.87,242.81 L831.51,241.85 L832.21,240.79 L832.98,239.62 L833.84,238.3 L834.79,236.79 L835.83,235.09 L836.93,233.22 L838.11,231.21 L839.34,229.08 L840.62,226.86 L841.96,224.58 L843.35,222.27 L844.78,219.94 L846.25,217.63 L847.75,215.37 L849.29,213.17 L850.86,211.07 L852.46,209 L854.12,206.87 L855.81,204.72 L857.55,202.56 L859.33,200.42 L861.15,198.32 L863,196.27 L864.88,194.32 L866.8,192.47 L868.75,190.74 L870.72,189.17 L872.72,187.77 L874.74,186.55 L876.78,185.48 L878.86,184.55 L880.96,183.75 L883.09,183.05 L885.25,182.45 L887.46,181.91 L889.69,181.43 L891.97,180.99 L894.3,180.57 L896.66,180.16 L899.08,179.73 L901.53,179.33 L904.01,178.98 L906.54,178.68 L909.09,178.42 L911.69,178.21 L914.33,178.03 L917.02,177.87 L919.76,177.74 L922.54,177.62 L925.38,177.52 L928.27,177.42 L931.22,177.32 L934.37,177.24 L937.82,177.18 L941.48,177.15 L945.27,177.14 L949.11,177.15 L952.92,177.17 L956.61,177.2 L960.12,177.23 L963.35,177.27 L966.23,177.29 L968.67,177.31 L970.6,177.32 L976.1,177.32 L974.35,177.27 L971.12,177.23 L967.61,177.2 L963.92,177.17 L960.11,177.15 L956.27,177.14 L952.48,177.15 L948.82,177.18 L945.37,177.24 L942.22,177.32 L939.27,177.42 L936.38,177.52 L933.54,177.62 L930.76,177.74 L928.02,177.87 L925.33,178.03 L922.69,178.21 L920.09,178.42 L917.54,178.68 L915.01,178.98 L912.53,179.33 L910.08,179.73 L907.66,180.16 L905.3,180.57 L902.97,180.99 L900.69,181.43 L898.46,181.91 L896.25,182.45 L894.09,183.05 L891.96,183.75 L889.86,184.55 L887.78,185.48 L885.74,186.55 L883.72,187.77 L881.72,189.17 L879.75,190.74 L877.8,192.47 L875.88,194.32 L874,196.27 L872.15,198.32 L870.33,200.42 L868.55,202.56 L866.81,204.72 L865.12,206.87 L863.46,209 L861.86,211.07 L860.29,213.17 L858.75,215.37 L857.25,217.63 L855.78,219.94 L854.35,222.27 L852.96,224.58 L851.62,226.86 L850.34,229.08 L849.11,231.21 L847.93,233.22 L846.83,235.09 L845.79,236.79 L844.84,238.3 L843.98,239.62 L843.21,240.79 L842.51,241.85 L841.87,242.81 L841.27,243.72 L840.69,244.6 L840.13,245.48 L839.57,246.39 L839,247.37 L838.4,248.45 L837.75,249.65 L837.09,250.9 L836.43,252.15 L835.78,253.39 L835.13,254.65 L834.49,255.94 L833.83,257.28 L833.18,258.69 L832.51,260.18 L831.84,261.78 L831.15,263.49 L830.44,265.33 L829.72,267.33 L828.96,269.54 L828.16,272.01 L827.34,274.68 L826.5,277.5 L825.65,280.43 L824.79,283.4 L823.94,286.37 L823.11,289.29 L822.3,292.11 L821.51,294.78 L820.59,297.25 L819.62,299.47 L818.72,301.44 L817.87,303.23 L817.07,304.87 L816.31,306.37 L815.58,307.78 L814.87,309.11 L814.17,310.4 L813.49,311.67 L812.8,312.96 L812.11,314.28 L811.4,315.67 L810.67,317.15 L809.89,318.76 L809.07,320.49 L808.22,322.31 L807.35,324.17 L806.49,326.05 L805.63,327.9 L804.81,329.69 L804.04,331.38 L803.32,332.93 L802.69,334.32 L802.15,335.5 L801.72,336.44Z" fill="#f2db78"/>
<path d="M801.72,336.44C802.79,333.22 806,323.31 808.14,317.15C810.29,310.99 811.89,307.77 814.57,299.47C817.25,291.17 821.27,275.63 824.22,267.33C827.16,259.02 829.57,254.74 832.25,249.65C834.93,244.56 836.27,243.22 840.29,236.79C844.31,230.36 850.04,219.24 856.36,211.07C862.68,202.9 870.18,192.99 878.22,187.77C886.25,182.55 894.83,181.47 904.58,179.73C914.33,177.99 924.8,177.72 936.72,177.32C948.64,176.92 969.53,177.32 976.1,177.32" fill="none" stroke="#f2db78" stroke-width="6.5"/>
</g>
<line x1="803.32" y1="365.36" x2="803.32" y2="386.26" stroke="#7e8583" stroke-width="1.8"/>
<line x1="810.55" y1="358.94" x2="810.55" y2="383.04" stroke="#7e8583" stroke-width="1.8"/>
<line x1="818.11" y1="354.11" x2="818.11" y2="381.44" stroke="#7e8583" stroke-width="1.8"/>
<line x1="841.09" y1="321.17" x2="841.09" y2="360.54" stroke="#7e8583" stroke-width="1.8"/>
<line x1="878.22" y1="205.45" x2="878.22" y2="246.43" stroke="#7e8583" stroke-width="1.8"/>
<line x1="961.15" y1="174.11" x2="961.15" y2="193.39" stroke="#7e8583" stroke-width="1.8"/>
<circle cx="803.32" cy="379.03" r="6.1" fill="#7e8583"/>
<circle cx="810.55" cy="374.2" r="6.1" fill="#7e8583"/>
<circle cx="818.11" cy="370.99" r="6.1" fill="#7e8583"/>
<circle cx="841.09" cy="343.67" r="6.1" fill="#7e8583"/>
<circle cx="878.22" cy="223.61" r="6.1" fill="#7e8583"/>
<circle cx="961.15" cy="180.54" r="6.1" fill="#7e8583"/>
<line x1="803.32" y1="309.11" x2="803.32" y2="350.9" stroke="#e8c300" stroke-width="1.8"/>
<line x1="811.04" y1="279.38" x2="811.04" y2="322.77" stroke="#e8c300" stroke-width="1.8"/>
<line x1="818.59" y1="305.9" x2="818.59" y2="346.08" stroke="#e8c300" stroke-width="1.8"/>
<line x1="841.09" y1="220.72" x2="841.09" y2="264.11" stroke="#e8c300" stroke-width="1.8"/>
<line x1="878.22" y1="169.29" x2="878.22" y2="189.38" stroke="#e8c300" stroke-width="1.8"/>
<line x1="961.15" y1="167.68" x2="961.15" y2="180.54" stroke="#e8c300" stroke-width="1.8"/>
<circle cx="803.32" cy="330.81" r="6.1" fill="#e8c300"/>
<circle cx="811.04" cy="301.88" r="6.1" fill="#e8c300"/>
<circle cx="818.59" cy="327.6" r="6.1" fill="#e8c300"/>
<circle cx="841.09" cy="240.81" r="6.1" fill="#e8c300"/>
<circle cx="878.22" cy="178.61" r="6.1" fill="#e8c300"/>
<circle cx="961.15" cy="174.11" r="6.1" fill="#e8c300"/>
<line x1="788.21" y1="158.04" x2="788.21" y2="405.74" stroke="#000" stroke-width="2.1"/>
<line x1="787.21" y1="404.74" x2="1035.08" y2="404.74" stroke="#000" stroke-width="2.1"/>
<line x1="781.21" y1="389.79" x2="788.21" y2="389.79" stroke="#333" stroke-width="1.8"/>
<text x="774.71" y="397.09" font-size="20.2" text-anchor="end" fill="#4d4d4d" stroke="#4d4d4d" stroke-width="0.5">0.0</text>
<line x1="781.21" y1="281.79" x2="788.21" y2="281.79" stroke="#333" stroke-width="1.8"/>
<text x="774.71" y="289.09" font-size="20.2" text-anchor="end" fill="#4d4d4d" stroke="#4d4d4d" stroke-width="0.5">0.5</text>
<line x1="781.21" y1="173.79" x2="788.21" y2="173.79" stroke="#333" stroke-width="1.8"/>
<text x="774.71" y="181.09" font-size="20.2" text-anchor="end" fill="#4d4d4d" stroke="#4d4d4d" stroke-width="0.5">1.0</text>
<line x1="799.79" y1="404.74" x2="799.79" y2="411.74" stroke="#333" stroke-width="1.8"/>
<text x="799.79" y="432.54" font-size="20.5" text-anchor="middle" fill="#4d4d4d" stroke="#4d4d4d" stroke-width="0.5">0</text>
<line x1="850.41" y1="404.74" x2="850.41" y2="411.74" stroke="#333" stroke-width="1.8"/>
<text x="850.41" y="432.54" font-size="20.5" text-anchor="middle" fill="#4d4d4d" stroke="#4d4d4d" stroke-width="0.5">10</text>
<line x1="901.04" y1="404.74" x2="901.04" y2="411.74" stroke="#333" stroke-width="1.8"/>
<text x="901.04" y="432.54" font-size="20.5" text-anchor="middle" fill="#4d4d4d" stroke="#4d4d4d" stroke-width="0.5">20</text>
<line x1="951.83" y1="404.74" x2="951.83" y2="411.74" stroke="#333" stroke-width="1.8"/>
<text x="951.83" y="432.54" font-size="20.5" text-anchor="middle" fill="#4d4d4d" stroke="#4d4d4d" stroke-width="0.5">30</text>
<line x1="1002.62" y1="404.74" x2="1002.62" y2="411.74" stroke="#333" stroke-width="1.8"/>
<text x="1002.62" y="432.54" font-size="20.5" text-anchor="middle" fill="#4d4d4d" stroke="#4d4d4d" stroke-width="0.5">40</text>
<text x="861.49" y="353.31" font-size="19.8" stroke="#000" stroke-width="0.5">6.80 to 2.00</text>
<line x1="1158.21" y1="274.79" x2="1405.08" y2="274.79" stroke="#8e8e8e" stroke-width="1.5" stroke-dasharray="7.5 7.5"/>
<g opacity="0.93">
<path d="M1169.79,351.94 L1169.91,350.77 L1170.05,349.31 L1170.22,347.6 L1170.41,345.69 L1170.61,343.6 L1170.83,341.39 L1171.07,339.09 L1171.31,336.76 L1171.56,334.42 L1171.81,332.13 L1172.06,329.91 L1172.31,327.83 L1172.56,325.82 L1172.81,323.81 L1173.05,321.8 L1173.31,319.79 L1173.57,317.78 L1173.83,315.77 L1174.11,313.77 L1174.4,311.76 L1174.71,309.75 L1175.04,307.74 L1175.39,305.73 L1175.76,303.72 L1176.15,301.7 L1176.58,299.65 L1177.03,297.58 L1177.5,295.51 L1177.99,293.43 L1178.48,291.36 L1178.99,289.32 L1179.5,287.29 L1180.1,285.3 L1180.8,283.35 L1181.5,281.45 L1182.18,279.61 L1182.82,277.86 L1183.43,276.21 L1184,274.64 L1184.56,273.12 L1185.12,271.64 L1185.7,270.17 L1186.3,268.69 L1186.94,267.17 L1187.64,265.6 L1188.41,263.95 L1189.26,262.2 L1190.22,260.33 L1191.27,258.3 L1192.43,256.13 L1193.67,253.83 L1194.98,251.46 L1196.34,249.02 L1197.75,246.56 L1199.18,244.11 L1200.63,241.69 L1202.08,239.34 L1203.52,237.09 L1204.92,234.97 L1206.29,233 L1207.63,231.17 L1208.97,229.43 L1210.31,227.77 L1211.65,226.19 L1212.98,224.67 L1214.32,223.21 L1215.66,221.8 L1217,220.44 L1218.34,219.12 L1219.68,217.83 L1221.02,216.57 L1222.36,215.32 L1223.69,214.11 L1224.99,212.95 L1226.27,211.84 L1227.55,210.77 L1228.83,209.74 L1230.11,208.74 L1231.42,207.78 L1232.74,206.84 L1234.1,205.93 L1235.49,205.03 L1236.94,204.14 L1238.43,203.27 L1239.97,202.42 L1241.52,201.61 L1243.09,200.83 L1244.69,200.09 L1246.33,199.36 L1247.99,198.65 L1249.7,197.95 L1251.46,197.26 L1253.26,196.56 L1255.11,195.87 L1257.03,195.16 L1259,194.43 L1261.05,193.68 L1263.15,192.92 L1265.31,192.14 L1267.53,191.35 L1269.79,190.57 L1272.1,189.79 L1274.45,189.02 L1276.84,188.28 L1279.25,187.55 L1281.7,186.86 L1284.16,186.2 L1286.65,185.59 L1289.12,185.02 L1291.57,184.47 L1294.01,183.96 L1296.46,183.47 L1298.95,183 L1301.48,182.56 L1304.09,182.14 L1306.78,181.73 L1309.58,181.35 L1312.5,180.98 L1315.56,180.63 L1318.79,180.29 L1322.36,179.96 L1326.36,179.65 L1330.68,179.36 L1335.22,179.08 L1339.87,178.83 L1344.51,178.59 L1349.04,178.37 L1353.35,178.17 L1357.33,177.99 L1360.87,177.82 L1363.86,177.68 L1366.2,177.55 L1370.2,177.55 L1368.87,177.82 L1365.33,177.99 L1361.35,178.17 L1357.04,178.37 L1352.51,178.59 L1347.87,178.83 L1343.22,179.08 L1338.68,179.36 L1334.36,179.65 L1330.36,179.96 L1326.79,180.29 L1323.56,180.63 L1320.5,180.98 L1317.58,181.35 L1314.78,181.73 L1312.09,182.14 L1309.48,182.56 L1306.95,183 L1304.46,183.47 L1302.01,183.96 L1299.57,184.47 L1297.12,185.02 L1294.65,185.59 L1292.16,186.2 L1289.7,186.86 L1287.25,187.55 L1284.84,188.28 L1282.45,189.02 L1280.1,189.79 L1277.79,190.57 L1275.53,191.35 L1273.31,192.14 L1271.15,192.92 L1269.05,193.68 L1267,194.43 L1265.03,195.16 L1263.11,195.87 L1261.26,196.56 L1259.46,197.26 L1257.7,197.95 L1255.99,198.65 L1254.33,199.36 L1252.69,200.09 L1251.09,200.83 L1249.52,201.61 L1247.97,202.42 L1246.43,203.27 L1244.94,204.14 L1243.49,205.03 L1242.1,205.93 L1240.74,206.84 L1239.42,207.78 L1238.11,208.74 L1236.83,209.74 L1235.55,210.77 L1234.27,211.84 L1232.99,212.95 L1231.69,214.11 L1230.36,215.32 L1229.02,216.57 L1227.68,217.83 L1226.34,219.12 L1225,220.44 L1223.66,221.8 L1222.32,223.21 L1220.98,224.67 L1219.65,226.19 L1218.31,227.77 L1216.97,229.43 L1215.63,231.17 L1214.29,233 L1212.92,234.97 L1211.52,237.09 L1210.08,239.34 L1208.63,241.69 L1207.18,244.11 L1205.75,246.56 L1204.34,249.02 L1202.98,251.46 L1201.67,253.83 L1200.43,256.13 L1199.27,258.3 L1198.22,260.33 L1197.26,262.2 L1196.41,263.95 L1195.64,265.6 L1194.94,267.17 L1194.3,268.69 L1193.7,270.17 L1193.12,271.64 L1192.56,273.12 L1192,274.64 L1191.43,276.21 L1190.82,277.86 L1190.18,279.61 L1189.5,281.45 L1188.8,283.35 L1188.1,285.3 L1187.27,287.29 L1186.35,289.32 L1185.44,291.36 L1184.54,293.43 L1183.67,295.51 L1182.82,297.58 L1182.01,299.65 L1181.25,301.7 L1180.53,303.72 L1179.87,305.73 L1179.24,307.74 L1178.65,309.75 L1178.1,311.76 L1177.57,313.77 L1177.07,315.77 L1176.59,317.78 L1176.12,319.79 L1175.67,321.8 L1175.22,323.81 L1174.78,325.82 L1174.33,327.83 L1173.88,329.91 L1173.43,332.13 L1172.97,334.42 L1172.53,336.76 L1172.09,339.09 L1171.67,341.39 L1171.27,343.6 L1170.9,345.69 L1170.56,347.6 L1170.26,349.31 L1170,350.77 L1169.79,351.94Z" fill="#c1c3c4"/>
<path d="M1169.79,351.94C1170.38,347.92 1171.93,335.86 1173.32,327.83C1174.72,319.79 1176,311.76 1178.14,303.72C1180.29,295.68 1183.5,286.84 1186.18,279.61C1188.86,272.38 1190.2,268.09 1194.22,260.33C1198.23,252.56 1204.93,240.5 1210.29,233C1215.65,225.5 1221,220.28 1226.36,215.32C1231.72,210.37 1236.32,206.75 1242.43,203.27C1248.54,199.79 1254.97,197.38 1263,194.43C1271.04,191.48 1280.68,187.95 1290.65,185.59C1300.61,183.23 1309.53,181.63 1322.79,180.29C1336.05,178.95 1362.3,178.01 1370.2,177.55" fill="none" stroke="#c1c3c4" stroke-width="9"/>
</g>
<g opacity="0.93">
<path d="M1172.52,368.81 L1173.24,367.61 L1174.16,366.09 L1175.25,364.32 L1176.48,362.32 L1177.8,360.16 L1179.2,357.86 L1180.63,355.48 L1182.1,353.07 L1184.18,350.66 L1186.17,348.29 L1188.04,346.03 L1189.72,343.9 L1191.25,341.86 L1192.72,339.84 L1194.13,337.82 L1195.49,335.8 L1196.81,333.8 L1198.1,331.8 L1199.38,329.8 L1200.64,327.8 L1201.9,325.8 L1203.17,323.8 L1204.47,321.8 L1205.79,319.79 L1207.13,317.78 L1208.47,315.76 L1209.81,313.73 L1211.15,311.7 L1212.48,309.67 L1213.82,307.64 L1215.16,305.62 L1216.5,303.6 L1217.84,301.6 L1219.18,299.61 L1220.52,297.64 L1221.86,295.68 L1223.19,293.76 L1224.49,291.86 L1225.77,289.98 L1227.05,288.12 L1228.33,286.28 L1229.61,284.43 L1230.92,282.59 L1232.24,280.74 L1233.6,278.88 L1234.99,277.01 L1236.44,275.11 L1237.93,273.18 L1239.47,271.24 L1241.02,269.28 L1242.59,267.31 L1244.19,265.33 L1245.83,263.33 L1247.49,261.33 L1249.2,259.32 L1250.96,257.29 L1252.76,255.25 L1254.61,253.2 L1256.53,251.15 L1258.5,249.08 L1260.55,246.97 L1262.65,244.81 L1264.81,242.61 L1267.03,240.38 L1269.29,238.15 L1271.6,235.92 L1273.95,233.7 L1276.34,231.52 L1278.75,229.37 L1281.2,227.29 L1283.66,225.28 L1286.15,223.36 L1288.67,221.5 L1291.24,219.68 L1293.87,217.9 L1296.53,216.16 L1299.22,214.46 L1301.94,212.81 L1304.67,211.21 L1307.41,209.67 L1310.15,208.18 L1312.88,206.75 L1315.6,205.38 L1318.29,204.07 L1320.95,202.84 L1323.57,201.68 L1326.18,200.58 L1328.77,199.55 L1331.36,198.57 L1333.96,197.64 L1336.59,196.76 L1339.25,195.92 L1341.95,195.11 L1344.71,194.33 L1347.53,193.57 L1350.44,192.82 L1353.55,192.1 L1356.94,191.4 L1360.53,190.73 L1364.25,190.09 L1368.01,189.48 L1371.73,188.91 L1375.35,188.37 L1378.77,187.88 L1381.93,187.44 L1384.74,187.04 L1387.12,186.69 L1389.01,186.39 L1393.51,186.39 L1390.93,187.44 L1387.77,187.88 L1384.35,188.37 L1380.73,188.91 L1377.01,189.48 L1373.25,190.09 L1369.53,190.73 L1365.94,191.4 L1362.55,192.1 L1359.44,192.82 L1356.53,193.57 L1353.71,194.33 L1350.95,195.11 L1348.25,195.92 L1345.59,196.76 L1342.96,197.64 L1340.36,198.57 L1337.77,199.55 L1335.18,200.58 L1332.57,201.68 L1329.95,202.84 L1327.29,204.07 L1324.6,205.38 L1321.88,206.75 L1319.15,208.18 L1316.41,209.67 L1313.67,211.21 L1310.94,212.81 L1308.22,214.46 L1305.53,216.16 L1302.87,217.9 L1300.24,219.68 L1297.67,221.5 L1295.15,223.36 L1292.66,225.28 L1290.2,227.29 L1287.75,229.37 L1285.34,231.52 L1282.95,233.7 L1280.6,235.92 L1278.29,238.15 L1276.03,240.38 L1273.81,242.61 L1271.65,244.81 L1269.55,246.97 L1267.5,249.08 L1265.53,251.15 L1263.61,253.2 L1261.76,255.25 L1259.96,257.29 L1258.2,259.32 L1256.49,261.33 L1254.83,263.33 L1253.19,265.33 L1251.59,267.31 L1250.02,269.28 L1248.47,271.24 L1246.93,273.18 L1245.44,275.11 L1243.99,277.01 L1242.6,278.88 L1241.24,280.74 L1239.92,282.59 L1238.61,284.43 L1237.33,286.28 L1236.05,288.12 L1234.77,289.98 L1233.49,291.86 L1232.19,293.76 L1230.86,295.68 L1229.52,297.64 L1228.18,299.61 L1226.84,301.6 L1225.5,303.6 L1224.16,305.62 L1222.82,307.64 L1221.48,309.67 L1220.15,311.7 L1218.81,313.73 L1217.47,315.76 L1216.13,317.78 L1214.79,319.79 L1213.47,321.8 L1212.17,323.8 L1210.9,325.8 L1209.64,327.8 L1208.38,329.8 L1207.1,331.8 L1205.81,333.8 L1204.49,335.8 L1203.13,337.82 L1201.72,339.84 L1200.25,341.86 L1198.72,343.9 L1197.04,346.03 L1195.17,348.29 L1193.18,350.66 L1191.1,353.07 L1188.32,355.48 L1185.53,357.86 L1182.81,360.16 L1180.23,362.32 L1177.84,364.32 L1175.72,366.09 L1173.93,367.61 L1172.52,368.81Z" fill="#76d0f3"/>
<path d="M1172.52,368.81C1176.14,364.66 1187.92,352.07 1194.22,343.9C1200.51,335.73 1204.93,327.83 1210.29,319.79C1215.65,311.76 1221,303.45 1226.36,295.68C1231.72,287.92 1236.32,280.95 1242.43,273.18C1248.54,265.42 1254.97,257.38 1263,249.08C1271.04,240.77 1280.68,230.86 1290.65,223.36C1300.61,215.86 1312.08,209.16 1322.79,204.07C1333.51,198.98 1343.15,195.77 1354.94,192.82C1366.72,189.88 1387.08,187.47 1393.51,186.39" fill="none" stroke="#76d0f3" stroke-width="11"/>
</g>
<line x1="1172.52" y1="356.76" x2="1172.52" y2="379.26" stroke="#7e8583" stroke-width="1.8"/>
<line x1="1179.75" y1="321.4" x2="1179.75" y2="364.79" stroke="#7e8583" stroke-width="1.8"/>
<line x1="1195.02" y1="306.13" x2="1195.02" y2="356.76" stroke="#7e8583" stroke-width="1.8"/>
<line x1="1217.84" y1="269.97" x2="1217.84" y2="335.86" stroke="#7e8583" stroke-width="1.8"/>
<line x1="1263" y1="182.38" x2="1263" y2="216.93" stroke="#7e8583" stroke-width="1.8"/>
<line x1="1352.85" y1="168.72" x2="1352.85" y2="192.82" stroke="#7e8583" stroke-width="1.8"/>
<circle cx="1172.52" cy="371.22" r="6.1" fill="#7e8583"/>
<circle cx="1179.75" cy="343.9" r="6.1" fill="#7e8583"/>
<circle cx="1195.02" cy="330.24" r="6.1" fill="#7e8583"/>
<circle cx="1217.84" cy="294.88" r="6.1" fill="#7e8583"/>
<circle cx="1263" cy="196.84" r="6.1" fill="#7e8583"/>
<circle cx="1352.85" cy="175.14" r="6.1" fill="#7e8583"/>
<line x1="1172.52" y1="366.4" x2="1172.52" y2="380.87" stroke="#00b5f0" stroke-width="1.8"/>
<line x1="1179.75" y1="368.01" x2="1179.75" y2="380.87" stroke="#00b5f0" stroke-width="1.8"/>
<line x1="1195.02" y1="356.76" x2="1195.02" y2="377.65" stroke="#00b5f0" stroke-width="1.8"/>
<line x1="1217.84" y1="297.29" x2="1217.84" y2="352.74" stroke="#00b5f0" stroke-width="1.8"/>
<line x1="1263" y1="228.18" x2="1263" y2="270.77" stroke="#00b5f0" stroke-width="1.8"/>
<line x1="1352.85" y1="183.18" x2="1352.85" y2="224.97" stroke="#00b5f0" stroke-width="1.8"/>
<circle cx="1172.52" cy="374.44" r="6.1" fill="#00b5f0"/>
<circle cx="1179.75" cy="375.24" r="6.1" fill="#00b5f0"/>
<circle cx="1195.02" cy="369.62" r="6.1" fill="#00b5f0"/>
<circle cx="1217.84" cy="335.86" r="6.1" fill="#00b5f0"/>
<circle cx="1263" cy="248.59" r="6.1" fill="#00b5f0"/>
<circle cx="1352.85" cy="204.88" r="6.1" fill="#00b5f0"/>
<line x1="1158.21" y1="151.04" x2="1158.21" y2="398.74" stroke="#000" stroke-width="2.1"/>
<line x1="1157.21" y1="397.74" x2="1405.08" y2="397.74" stroke="#000" stroke-width="2.1"/>
<line x1="1151.21" y1="382.79" x2="1158.21" y2="382.79" stroke="#333" stroke-width="1.8"/>
<text x="1144.71" y="390.09" font-size="20.2" text-anchor="end" fill="#4d4d4d" stroke="#4d4d4d" stroke-width="0.5">0.0</text>
<line x1="1151.21" y1="274.79" x2="1158.21" y2="274.79" stroke="#333" stroke-width="1.8"/>
<text x="1144.71" y="282.09" font-size="20.2" text-anchor="end" fill="#4d4d4d" stroke="#4d4d4d" stroke-width="0.5">0.5</text>
<line x1="1151.21" y1="166.79" x2="1158.21" y2="166.79" stroke="#333" stroke-width="1.8"/>
<text x="1144.71" y="174.09" font-size="20.2" text-anchor="end" fill="#4d4d4d" stroke="#4d4d4d" stroke-width="0.5">1.0</text>
<line x1="1169.79" y1="397.74" x2="1169.79" y2="404.74" stroke="#333" stroke-width="1.8"/>
<text x="1169.79" y="425.54" font-size="20.5" text-anchor="middle" fill="#4d4d4d" stroke="#4d4d4d" stroke-width="0.5">0</text>
<line x1="1227.16" y1="397.74" x2="1227.16" y2="404.74" stroke="#333" stroke-width="1.8"/>
<text x="1227.16" y="425.54" font-size="20.5" text-anchor="middle" fill="#4d4d4d" stroke="#4d4d4d" stroke-width="0.5">10</text>
<line x1="1284.54" y1="397.74" x2="1284.54" y2="404.74" stroke="#333" stroke-width="1.8"/>
<text x="1284.54" y="425.54" font-size="20.5" text-anchor="middle" fill="#4d4d4d" stroke="#4d4d4d" stroke-width="0.5">20</text>
<line x1="1342.4" y1="397.74" x2="1342.4" y2="404.74" stroke="#333" stroke-width="1.8"/>
<text x="1342.4" y="425.54" font-size="20.5" text-anchor="middle" fill="#4d4d4d" stroke="#4d4d4d" stroke-width="0.5">30</text>
<line x1="1399.94" y1="397.74" x2="1399.94" y2="404.74" stroke="#333" stroke-width="1.8"/>
<text x="1399.94" y="425.54" font-size="20.5" text-anchor="middle" fill="#4d4d4d" stroke="#4d4d4d" stroke-width="0.5">40</text>
<text x="1247.56" y="346.31" font-size="19.8" stroke="#000" stroke-width="0.5">1.00 to 3.00</text>
<text x="1281.65" y="456.74" font-size="27.1" text-anchor="middle" stroke="#000" stroke-width="0.5">Lottery magnitude</text>
<text x="1089" y="274.79" font-size="27.2" text-anchor="middle" transform="rotate(-90 1089 274.79)" stroke="#000" stroke-width="0.5">P(Chose Lottery)</text>
<line x1="1474.21" y1="274.79" x2="1721.08" y2="274.79" stroke="#8e8e8e" stroke-width="1.5" stroke-dasharray="7.5 7.5"/>
<g opacity="0.93">
<path d="M1488.52,368.81 L1489.24,367.61 L1490.16,366.09 L1491.25,364.32 L1492.48,362.32 L1493.8,360.16 L1495.2,357.86 L1496.63,355.48 L1498.1,353.07 L1500.18,350.66 L1502.17,348.29 L1504.04,346.03 L1505.72,343.9 L1507.25,341.86 L1508.72,339.84 L1510.13,337.82 L1511.49,335.8 L1512.81,333.8 L1514.1,331.8 L1515.38,329.8 L1516.64,327.8 L1517.9,325.8 L1519.17,323.8 L1520.47,321.8 L1521.79,319.79 L1523.13,317.78 L1524.47,315.76 L1525.81,313.73 L1527.15,311.7 L1528.48,309.67 L1529.82,307.64 L1531.16,305.62 L1532.5,303.6 L1533.84,301.6 L1535.18,299.61 L1536.52,297.64 L1537.86,295.68 L1539.19,293.76 L1540.49,291.86 L1541.77,289.98 L1543.05,288.12 L1544.33,286.28 L1545.61,284.43 L1546.92,282.59 L1548.24,280.74 L1549.6,278.88 L1550.99,277.01 L1552.44,275.11 L1553.93,273.18 L1555.47,271.24 L1557.02,269.28 L1558.59,267.31 L1560.19,265.33 L1561.83,263.33 L1563.49,261.33 L1565.2,259.32 L1566.96,257.29 L1568.76,255.25 L1570.61,253.2 L1572.53,251.15 L1574.5,249.08 L1576.55,246.97 L1578.65,244.81 L1580.81,242.61 L1583.03,240.38 L1585.29,238.15 L1587.6,235.92 L1589.95,233.7 L1592.34,231.52 L1594.75,229.37 L1597.2,227.29 L1599.66,225.28 L1602.15,223.36 L1604.67,221.5 L1607.24,219.68 L1609.87,217.9 L1612.53,216.16 L1615.22,214.46 L1617.94,212.81 L1620.67,211.21 L1623.41,209.67 L1626.15,208.18 L1628.88,206.75 L1631.6,205.38 L1634.29,204.07 L1636.95,202.84 L1639.57,201.68 L1642.18,200.58 L1644.77,199.55 L1647.36,198.57 L1649.96,197.64 L1652.59,196.76 L1655.25,195.92 L1657.95,195.11 L1660.71,194.33 L1663.53,193.57 L1666.44,192.82 L1669.55,192.1 L1672.94,191.4 L1676.53,190.73 L1680.25,190.09 L1684.01,189.48 L1687.73,188.91 L1691.35,188.37 L1694.77,187.88 L1697.93,187.44 L1700.74,187.04 L1703.12,186.69 L1705.01,186.39 L1709.51,186.39 L1706.93,187.44 L1703.77,187.88 L1700.35,188.37 L1696.73,188.91 L1693.01,189.48 L1689.25,190.09 L1685.53,190.73 L1681.94,191.4 L1678.55,192.1 L1675.44,192.82 L1672.53,193.57 L1669.71,194.33 L1666.95,195.11 L1664.25,195.92 L1661.59,196.76 L1658.96,197.64 L1656.36,198.57 L1653.77,199.55 L1651.18,200.58 L1648.57,201.68 L1645.95,202.84 L1643.29,204.07 L1640.6,205.38 L1637.88,206.75 L1635.15,208.18 L1632.41,209.67 L1629.67,211.21 L1626.94,212.81 L1624.22,214.46 L1621.53,216.16 L1618.87,217.9 L1616.24,219.68 L1613.67,221.5 L1611.15,223.36 L1608.66,225.28 L1606.2,227.29 L1603.75,229.37 L1601.34,231.52 L1598.95,233.7 L1596.6,235.92 L1594.29,238.15 L1592.03,240.38 L1589.81,242.61 L1587.65,244.81 L1585.55,246.97 L1583.5,249.08 L1581.53,251.15 L1579.61,253.2 L1577.76,255.25 L1575.96,257.29 L1574.2,259.32 L1572.49,261.33 L1570.83,263.33 L1569.19,265.33 L1567.59,267.31 L1566.02,269.28 L1564.47,271.24 L1562.93,273.18 L1561.44,275.11 L1559.99,277.01 L1558.6,278.88 L1557.24,280.74 L1555.92,282.59 L1554.61,284.43 L1553.33,286.28 L1552.05,288.12 L1550.77,289.98 L1549.49,291.86 L1548.19,293.76 L1546.86,295.68 L1545.52,297.64 L1544.18,299.61 L1542.84,301.6 L1541.5,303.6 L1540.16,305.62 L1538.82,307.64 L1537.48,309.67 L1536.15,311.7 L1534.81,313.73 L1533.47,315.76 L1532.13,317.78 L1530.79,319.79 L1529.47,321.8 L1528.17,323.8 L1526.9,325.8 L1525.64,327.8 L1524.38,329.8 L1523.1,331.8 L1521.81,333.8 L1520.49,335.8 L1519.13,337.82 L1517.72,339.84 L1516.25,341.86 L1514.72,343.9 L1513.04,346.03 L1511.17,348.29 L1509.18,350.66 L1507.1,353.07 L1504.32,355.48 L1501.53,357.86 L1498.81,360.16 L1496.23,362.32 L1493.84,364.32 L1491.72,366.09 L1489.93,367.61 L1488.52,368.81Z" fill="#c1c3c4"/>
<path d="M1488.52,368.81C1492.14,364.66 1503.92,352.07 1510.22,343.9C1516.51,335.73 1520.93,327.83 1526.29,319.79C1531.65,311.76 1537,303.45 1542.36,295.68C1547.72,287.92 1552.32,280.95 1558.43,273.18C1564.54,265.42 1570.97,257.38 1579,249.08C1587.04,240.77 1596.68,230.86 1606.65,223.36C1616.61,215.86 1628.08,209.16 1638.79,204.07C1649.51,198.98 1659.15,195.77 1670.94,192.82C1682.72,189.88 1703.08,187.47 1709.51,186.39" fill="none" stroke="#c1c3c4" stroke-width="11"/>
</g>
<g opacity="0.93">
<path d="M1485.79,351.94 L1485.91,350.77 L1486.05,349.31 L1486.22,347.6 L1486.41,345.69 L1486.61,343.6 L1486.83,341.39 L1487.07,339.09 L1487.31,336.76 L1487.56,334.42 L1487.81,332.13 L1488.06,329.91 L1488.31,327.83 L1488.56,325.82 L1488.81,323.81 L1489.05,321.8 L1489.31,319.79 L1489.57,317.78 L1489.83,315.77 L1490.11,313.77 L1490.4,311.76 L1490.71,309.75 L1491.04,307.74 L1491.39,305.73 L1491.76,303.72 L1492.15,301.7 L1492.58,299.65 L1493.03,297.58 L1493.5,295.51 L1493.99,293.43 L1494.48,291.36 L1494.99,289.32 L1495.5,287.29 L1496.1,285.3 L1496.8,283.35 L1497.5,281.45 L1498.18,279.61 L1498.82,277.86 L1499.43,276.21 L1500,274.64 L1500.56,273.12 L1501.12,271.64 L1501.7,270.17 L1502.3,268.69 L1502.94,267.17 L1503.64,265.6 L1504.41,263.95 L1505.26,262.2 L1506.22,260.33 L1507.27,258.3 L1508.43,256.13 L1509.67,253.83 L1510.98,251.46 L1512.34,249.02 L1513.75,246.56 L1515.18,244.11 L1516.63,241.69 L1518.08,239.34 L1519.52,237.09 L1520.92,234.97 L1522.29,233 L1523.63,231.17 L1524.97,229.43 L1526.31,227.77 L1527.65,226.19 L1528.98,224.67 L1530.32,223.21 L1531.66,221.8 L1533,220.44 L1534.34,219.12 L1535.68,217.83 L1537.02,216.57 L1538.36,215.32 L1539.69,214.11 L1540.99,212.95 L1542.27,211.84 L1543.55,210.77 L1544.83,209.74 L1546.11,208.74 L1547.42,207.78 L1548.74,206.84 L1550.1,205.93 L1551.49,205.03 L1552.94,204.14 L1554.43,203.27 L1555.97,202.42 L1557.52,201.61 L1559.09,200.83 L1560.69,200.09 L1562.33,199.36 L1563.99,198.65 L1565.7,197.95 L1567.46,197.26 L1569.26,196.56 L1571.11,195.87 L1573.03,195.16 L1575,194.43 L1577.05,193.68 L1579.15,192.92 L1581.31,192.14 L1583.53,191.35 L1585.79,190.57 L1588.1,189.79 L1590.45,189.02 L1592.84,188.28 L1595.25,187.55 L1597.7,186.86 L1600.16,186.2 L1602.65,185.59 L1605.12,185.02 L1607.57,184.47 L1610.01,183.96 L1612.46,183.47 L1614.95,183 L1617.48,182.56 L1620.09,182.14 L1622.78,181.73 L1625.58,181.35 L1628.5,180.98 L1631.56,180.63 L1634.79,180.29 L1638.36,179.96 L1642.36,179.65 L1646.68,179.36 L1651.22,179.08 L1655.87,178.83 L1660.51,178.59 L1665.04,178.37 L1669.35,178.17 L1673.33,177.99 L1676.87,177.82 L1679.86,177.68 L1682.2,177.55 L1686.2,177.55 L1684.87,177.82 L1681.33,177.99 L1677.35,178.17 L1673.04,178.37 L1668.51,178.59 L1663.87,178.83 L1659.22,179.08 L1654.68,179.36 L1650.36,179.65 L1646.36,179.96 L1642.79,180.29 L1639.56,180.63 L1636.5,180.98 L1633.58,181.35 L1630.78,181.73 L1628.09,182.14 L1625.48,182.56 L1622.95,183 L1620.46,183.47 L1618.01,183.96 L1615.57,184.47 L1613.12,185.02 L1610.65,185.59 L1608.16,186.2 L1605.7,186.86 L1603.25,187.55 L1600.84,188.28 L1598.45,189.02 L1596.1,189.79 L1593.79,190.57 L1591.53,191.35 L1589.31,192.14 L1587.15,192.92 L1585.05,193.68 L1583,194.43 L1581.03,195.16 L1579.11,195.87 L1577.26,196.56 L1575.46,197.26 L1573.7,197.95 L1571.99,198.65 L1570.33,199.36 L1568.69,200.09 L1567.09,200.83 L1565.52,201.61 L1563.97,202.42 L1562.43,203.27 L1560.94,204.14 L1559.49,205.03 L1558.1,205.93 L1556.74,206.84 L1555.42,207.78 L1554.11,208.74 L1552.83,209.74 L1551.55,210.77 L1550.27,211.84 L1548.99,212.95 L1547.69,214.11 L1546.36,215.32 L1545.02,216.57 L1543.68,217.83 L1542.34,219.12 L1541,220.44 L1539.66,221.8 L1538.32,223.21 L1536.98,224.67 L1535.65,226.19 L1534.31,227.77 L1532.97,229.43 L1531.63,231.17 L1530.29,233 L1528.92,234.97 L1527.52,237.09 L1526.08,239.34 L1524.63,241.69 L1523.18,244.11 L1521.75,246.56 L1520.34,249.02 L1518.98,251.46 L1517.67,253.83 L1516.43,256.13 L1515.27,258.3 L1514.22,260.33 L1513.26,262.2 L1512.41,263.95 L1511.64,265.6 L1510.94,267.17 L1510.3,268.69 L1509.7,270.17 L1509.12,271.64 L1508.56,273.12 L1508,274.64 L1507.43,276.21 L1506.82,277.86 L1506.18,279.61 L1505.5,281.45 L1504.8,283.35 L1504.1,285.3 L1503.27,287.29 L1502.35,289.32 L1501.44,291.36 L1500.54,293.43 L1499.67,295.51 L1498.82,297.58 L1498.01,299.65 L1497.25,301.7 L1496.53,303.72 L1495.87,305.73 L1495.24,307.74 L1494.65,309.75 L1494.1,311.76 L1493.57,313.77 L1493.07,315.77 L1492.59,317.78 L1492.12,319.79 L1491.67,321.8 L1491.22,323.81 L1490.78,325.82 L1490.33,327.83 L1489.88,329.91 L1489.43,332.13 L1488.97,334.42 L1488.53,336.76 L1488.09,339.09 L1487.67,341.39 L1487.27,343.6 L1486.9,345.69 L1486.56,347.6 L1486.26,349.31 L1486,350.77 L1485.79,351.94Z" fill="#f2db78"/>
<path d="M1485.79,351.94C1486.38,347.92 1487.93,335.86 1489.32,327.83C1490.72,319.79 1492,311.76 1494.14,303.72C1496.29,295.68 1499.5,286.84 1502.18,279.61C1504.86,272.38 1506.2,268.09 1510.22,260.33C1514.23,252.56 1520.93,240.5 1526.29,233C1531.65,225.5 1537,220.28 1542.36,215.32C1547.72,210.37 1552.32,206.75 1558.43,203.27C1564.54,199.79 1570.97,197.38 1579,194.43C1587.04,191.48 1596.68,187.95 1606.65,185.59C1616.61,183.23 1625.53,181.63 1638.79,180.29C1652.05,178.95 1678.3,178.01 1686.2,177.55" fill="none" stroke="#f2db78" stroke-width="9"/>
</g>
<line x1="1487.72" y1="364.79" x2="1487.72" y2="380.87" stroke="#7e8583" stroke-width="1.8"/>
<line x1="1495.75" y1="364.79" x2="1495.75" y2="380.87" stroke="#7e8583" stroke-width="1.8"/>
<line x1="1511.02" y1="355.15" x2="1511.02" y2="376.85" stroke="#7e8583" stroke-width="1.8"/>
<line x1="1533.84" y1="314.17" x2="1533.84" y2="352.74" stroke="#7e8583" stroke-width="1.8"/>
<line x1="1579" y1="228.18" x2="1579" y2="270.77" stroke="#7e8583" stroke-width="1.8"/>
<line x1="1668.85" y1="189.61" x2="1668.85" y2="224.97" stroke="#7e8583" stroke-width="1.8"/>
<circle cx="1487.72" cy="375.24" r="6.1" fill="#7e8583"/>
<circle cx="1495.75" cy="375.24" r="6.1" fill="#7e8583"/>
<circle cx="1511.02" cy="368.81" r="6.1" fill="#7e8583"/>
<circle cx="1533.84" cy="335.86" r="6.1" fill="#7e8583"/>
<circle cx="1579" cy="248.27" r="6.1" fill="#7e8583"/>
<circle cx="1668.85" cy="204.56" r="6.1" fill="#7e8583"/>
<line x1="1488.52" y1="309.35" x2="1488.52" y2="350.33" stroke="#e8c300" stroke-width="1.8"/>
<line x1="1496.23" y1="274.79" x2="1496.23" y2="319.79" stroke="#e8c300" stroke-width="1.8"/>
<line x1="1511.34" y1="274.79" x2="1511.34" y2="319.79" stroke="#e8c300" stroke-width="1.8"/>
<line x1="1533.84" y1="209.7" x2="1533.84" y2="250.68" stroke="#e8c300" stroke-width="1.8"/>
<line x1="1579" y1="173.54" x2="1579" y2="200.06" stroke="#e8c300" stroke-width="1.8"/>
<line x1="1668.85" y1="162.29" x2="1668.85" y2="182.38" stroke="#e8c300" stroke-width="1.8"/>
<circle cx="1488.52" cy="330.24" r="6.1" fill="#e8c300"/>
<circle cx="1496.23" cy="298.58" r="6.1" fill="#e8c300"/>
<circle cx="1511.34" cy="298.58" r="6.1" fill="#e8c300"/>
<circle cx="1533.84" cy="228.5" r="6.1" fill="#e8c300"/>
<circle cx="1579" cy="183.98" r="6.1" fill="#e8c300"/>
<circle cx="1668.85" cy="170.32" r="6.1" fill="#e8c300"/>
<line x1="1474.21" y1="151.04" x2="1474.21" y2="398.74" stroke="#000" stroke-width="2.1"/>
<line x1="1473.21" y1="397.74" x2="1721.08" y2="397.74" stroke="#000" stroke-width="2.1"/>
<line x1="1467.21" y1="382.79" x2="1474.21" y2="382.79" stroke="#333" stroke-width="1.8"/>
<text x="1460.71" y="390.09" font-size="20.2" text-anchor="end" fill="#4d4d4d" stroke="#4d4d4d" stroke-width="0.5">0.0</text>
<line x1="1467.21" y1="274.79" x2="1474.21" y2="274.79" stroke="#333" stroke-width="1.8"/>
<text x="1460.71" y="282.09" font-size="20.2" text-anchor="end" fill="#4d4d4d" stroke="#4d4d4d" stroke-width="0.5">0.5</text>
<line x1="1467.21" y1="166.79" x2="1474.21" y2="166.79" stroke="#333" stroke-width="1.8"/>
<text x="1460.71" y="174.09" font-size="20.2" text-anchor="end" fill="#4d4d4d" stroke="#4d4d4d" stroke-width="0.5">1.0</text>
<line x1="1485.79" y1="397.74" x2="1485.79" y2="404.74" stroke="#333" stroke-width="1.8"/>
<text x="1485.79" y="425.54" font-size="20.5" text-anchor="middle" fill="#4d4d4d" stroke="#4d4d4d" stroke-width="0.5">0</text>
<line x1="1543.16" y1="397.74" x2="1543.16" y2="404.74" stroke="#333" stroke-width="1.8"/>
<text x="1543.16" y="425.54" font-size="20.5" text-anchor="middle" fill="#4d4d4d" stroke="#4d4d4d" stroke-width="0.5">10</text>
<line x1="1600.54" y1="397.74" x2="1600.54" y2="404.74" stroke="#333" stroke-width="1.8"/>
<text x="1600.54" y="425.54" font-size="20.5" text-anchor="middle" fill="#4d4d4d" stroke="#4d4d4d" stroke-width="0.5">20</text>
<line x1="1658.4" y1="397.74" x2="1658.4" y2="404.74" stroke="#333" stroke-width="1.8"/>
<text x="1658.4" y="425.54" font-size="20.5" text-anchor="middle" fill="#4d4d4d" stroke="#4d4d4d" stroke-width="0.5">30</text>
<line x1="1715.94" y1="397.74" x2="1715.94" y2="404.74" stroke="#333" stroke-width="1.8"/>
<text x="1715.94" y="425.54" font-size="20.5" text-anchor="middle" fill="#4d4d4d" stroke="#4d4d4d" stroke-width="0.5">40</text>
<text x="1562.43" y="346.31" font-size="19.8" stroke="#000" stroke-width="0.5">3.00 to 1.00</text>
<line x1="1790.21" y1="274.79" x2="2037.08" y2="274.79" stroke="#8e8e8e" stroke-width="1.5" stroke-dasharray="7.5 7.5"/>
<g opacity="0.93">
<path d="M1801.79,351.94 L1802.07,349.54 L1802.42,346.45 L1802.83,342.78 L1803.29,338.66 L1803.79,334.21 L1804.33,329.54 L1804.89,324.77 L1805.46,320.03 L1806.04,315.44 L1806.63,311.1 L1807.2,307.16 L1807.76,303.72 L1808.32,300.67 L1808.91,297.81 L1809.52,295.12 L1810.15,292.59 L1810.78,290.2 L1811.42,287.95 L1812.15,285.81 L1813.01,283.78 L1813.85,281.83 L1814.65,279.97 L1815.41,278.16 L1816.11,276.4 L1816.72,274.78 L1817.23,273.37 L1817.67,272.14 L1818.06,271.04 L1818.42,270.03 L1818.78,269.06 L1819.16,268.11 L1819.58,267.11 L1820.08,266.04 L1820.67,264.85 L1821.37,263.49 L1822.22,261.93 L1823.21,260.16 L1824.32,258.22 L1825.53,256.14 L1826.84,253.96 L1828.21,251.69 L1829.63,249.38 L1831.09,247.05 L1832.56,244.73 L1834.04,242.46 L1835.49,240.26 L1836.92,238.17 L1838.29,236.22 L1839.63,234.36 L1840.97,232.56 L1842.31,230.79 L1843.65,229.07 L1844.98,227.4 L1846.32,225.77 L1847.66,224.19 L1849,222.65 L1850.34,221.15 L1851.68,219.7 L1853.02,218.29 L1854.36,216.93 L1855.7,215.62 L1857.04,214.38 L1858.38,213.19 L1859.72,212.05 L1861.06,210.96 L1862.4,209.9 L1863.74,208.88 L1865.07,207.88 L1866.41,206.91 L1867.75,205.96 L1869.09,205.01 L1870.43,204.07 L1871.75,203.15 L1873.02,202.26 L1874.26,201.4 L1875.49,200.56 L1876.72,199.75 L1877.97,198.95 L1879.24,198.17 L1880.55,197.41 L1881.92,196.65 L1883.36,195.91 L1884.88,195.17 L1886.5,194.43 L1888.23,193.69 L1890.06,192.96 L1891.97,192.23 L1893.94,191.51 L1895.98,190.81 L1898.06,190.11 L1900.16,189.43 L1902.28,188.78 L1904.4,188.14 L1906.5,187.53 L1908.58,186.95 L1910.61,186.39 L1912.62,185.87 L1914.63,185.37 L1916.64,184.9 L1918.65,184.44 L1920.66,184.01 L1922.67,183.6 L1924.68,183.21 L1926.68,182.85 L1928.69,182.5 L1930.7,182.17 L1932.71,181.86 L1934.72,181.57 L1936.73,181.31 L1938.74,181.07 L1940.75,180.85 L1942.77,180.66 L1944.78,180.49 L1946.79,180.34 L1948.81,180.2 L1950.82,180.07 L1952.82,179.96 L1954.83,179.85 L1956.83,179.75 L1958.83,179.64 L1960.9,179.55 L1963.09,179.47 L1965.35,179.41 L1967.66,179.36 L1969.97,179.32 L1972.23,179.28 L1974.41,179.26 L1976.46,179.23 L1978.35,179.21 L1980.03,179.2 L1981.47,179.18 L1982.61,179.16 L1986.61,179.16 L1986.35,179.21 L1984.46,179.23 L1982.41,179.26 L1980.23,179.28 L1977.97,179.32 L1975.66,179.36 L1973.35,179.41 L1971.09,179.47 L1968.9,179.55 L1966.83,179.64 L1964.83,179.75 L1962.83,179.85 L1960.82,179.96 L1958.82,180.07 L1956.81,180.2 L1954.79,180.34 L1952.78,180.49 L1950.77,180.66 L1948.75,180.85 L1946.74,181.07 L1944.73,181.31 L1942.72,181.57 L1940.71,181.86 L1938.7,182.17 L1936.69,182.5 L1934.68,182.85 L1932.68,183.21 L1930.67,183.6 L1928.66,184.01 L1926.65,184.44 L1924.64,184.9 L1922.63,185.37 L1920.62,185.87 L1918.61,186.39 L1916.58,186.95 L1914.5,187.53 L1912.4,188.14 L1910.28,188.78 L1908.16,189.43 L1906.06,190.11 L1903.98,190.81 L1901.94,191.51 L1899.97,192.23 L1898.06,192.96 L1896.23,193.69 L1894.5,194.43 L1892.88,195.17 L1891.36,195.91 L1889.92,196.65 L1888.55,197.41 L1887.24,198.17 L1885.97,198.95 L1884.72,199.75 L1883.49,200.56 L1882.26,201.4 L1881.02,202.26 L1879.75,203.15 L1878.43,204.07 L1877.09,205.01 L1875.75,205.96 L1874.41,206.91 L1873.07,207.88 L1871.74,208.88 L1870.4,209.9 L1869.06,210.96 L1867.72,212.05 L1866.38,213.19 L1865.04,214.38 L1863.7,215.62 L1862.36,216.93 L1861.02,218.29 L1859.68,219.7 L1858.34,221.15 L1857,222.65 L1855.66,224.19 L1854.32,225.77 L1852.98,227.4 L1851.65,229.07 L1850.31,230.79 L1848.97,232.56 L1847.63,234.36 L1846.29,236.22 L1844.92,238.17 L1843.49,240.26 L1842.04,242.46 L1840.56,244.73 L1839.09,247.05 L1837.63,249.38 L1836.21,251.69 L1834.84,253.96 L1833.53,256.14 L1832.32,258.22 L1831.21,260.16 L1830.22,261.93 L1829.37,263.49 L1828.67,264.85 L1828.08,266.04 L1827.58,267.11 L1827.16,268.11 L1826.78,269.06 L1826.42,270.03 L1826.06,271.04 L1825.67,272.14 L1825.23,273.37 L1824.72,274.78 L1824.11,276.4 L1823.41,278.16 L1822.65,279.97 L1821.85,281.83 L1821.01,283.78 L1820.15,285.81 L1819.12,287.95 L1817.97,290.2 L1816.83,292.59 L1815.71,295.12 L1814.6,297.81 L1813.54,300.67 L1812.53,303.72 L1811.53,307.16 L1810.5,311.1 L1809.45,315.44 L1808.4,320.03 L1807.36,324.77 L1806.36,329.54 L1805.4,334.21 L1804.5,338.66 L1803.67,342.78 L1802.93,346.45 L1802.3,349.54 L1801.79,351.94Z" fill="#c1c3c4"/>
<path d="M1801.79,351.94C1803.18,343.9 1807.09,316.31 1810.14,303.72C1813.2,291.13 1817.43,283.36 1820.11,276.4C1822.79,269.43 1822.52,268.63 1826.22,261.93C1829.91,255.24 1836.93,243.72 1842.29,236.22C1847.65,228.72 1853,222.29 1858.36,216.93C1863.72,211.57 1869.07,207.82 1874.43,204.07C1879.79,200.32 1883.81,197.38 1890.5,194.43C1897.2,191.48 1906.58,188.54 1914.61,186.39C1922.65,184.25 1930.68,182.7 1938.72,181.57C1946.76,180.45 1954.85,180.05 1962.83,179.64C1970.81,179.24 1982.65,179.24 1986.61,179.16" fill="none" stroke="#c1c3c4" stroke-width="8.5"/>
</g>
<g opacity="0.93">
<path d="M1801.79,371.22 L1802.65,370.83 L1803.75,370.35 L1805.06,369.78 L1806.53,369.14 L1808.12,368.44 L1809.79,367.71 L1811.51,366.94 L1813.79,366.16 L1816.12,365.38 L1818.35,364.62 L1820.4,363.88 L1822.22,363.19 L1823.85,362.55 L1825.38,361.98 L1826.82,361.44 L1828.19,360.92 L1829.51,360.41 L1830.77,359.87 L1832.01,359.3 L1833.24,358.66 L1834.47,357.95 L1835.71,357.14 L1836.98,356.21 L1838.29,355.15 L1839.63,353.95 L1840.97,352.62 L1842.31,351.2 L1843.65,349.67 L1844.98,348.07 L1846.32,346.41 L1847.66,344.7 L1849,342.95 L1850.34,341.18 L1851.68,339.39 L1853.02,337.62 L1854.36,335.86 L1855.7,334.1 L1857.04,332.3 L1858.38,330.46 L1859.72,328.6 L1861.06,326.72 L1862.4,324.81 L1863.74,322.9 L1865.07,320.98 L1866.41,319.06 L1867.75,317.15 L1869.09,315.25 L1870.43,313.36 L1871.77,311.48 L1873.11,309.59 L1874.45,307.7 L1875.79,305.8 L1877.13,303.91 L1878.47,302.01 L1879.81,300.12 L1881.15,298.24 L1882.49,296.37 L1883.83,294.52 L1885.16,292.68 L1886.5,290.86 L1887.84,289.07 L1889.18,287.29 L1890.52,285.53 L1891.86,283.78 L1893.2,282.04 L1894.54,280.32 L1895.88,278.59 L1897.22,276.87 L1898.56,275.15 L1899.9,273.43 L1901.24,271.7 L1902.58,269.97 L1903.92,268.22 L1905.25,266.45 L1906.59,264.67 L1907.93,262.89 L1909.27,261.1 L1910.61,259.32 L1911.95,257.55 L1913.29,255.8 L1914.63,254.07 L1915.97,252.37 L1917.31,250.7 L1918.65,249.08 L1919.99,247.48 L1921.33,245.91 L1922.67,244.35 L1924.01,242.82 L1925.34,241.32 L1926.68,239.83 L1928.02,238.37 L1929.36,236.93 L1930.7,235.51 L1932.04,234.12 L1933.38,232.75 L1934.72,231.4 L1936.06,230.06 L1937.4,228.74 L1938.74,227.44 L1940.08,226.16 L1941.42,224.9 L1942.76,223.66 L1944.1,222.45 L1945.43,221.28 L1946.77,220.13 L1948.11,219.03 L1949.45,217.96 L1950.79,216.93 L1952.13,215.95 L1953.47,215.02 L1954.81,214.14 L1956.15,213.29 L1957.49,212.47 L1958.83,211.69 L1960.17,210.93 L1961.51,210.18 L1962.85,209.45 L1964.19,208.73 L1965.52,208.01 L1966.86,207.29 L1968.19,206.57 L1969.51,205.85 L1970.81,205.14 L1972.1,204.45 L1973.4,203.77 L1974.7,203.1 L1976.01,202.45 L1977.34,201.82 L1978.69,201.22 L1980.07,200.64 L1981.48,200.09 L1982.94,199.57 L1984.43,199.09 L1985.96,198.64 L1987.51,198.22 L1989.1,197.84 L1990.7,197.47 L1992.33,197.12 L1993.97,196.79 L1995.62,196.47 L1997.27,196.16 L1998.92,195.85 L2000.58,195.55 L2002.22,195.23 L2003.93,194.92 L2005.76,194.6 L2007.66,194.28 L2009.6,193.96 L2011.55,193.65 L2013.47,193.36 L2015.33,193.07 L2017.07,192.81 L2018.68,192.57 L2020.12,192.36 L2021.34,192.17 L2022.31,192.02 L2026.31,192.02 L2025.07,192.81 L2023.33,193.07 L2021.47,193.36 L2019.55,193.65 L2017.6,193.96 L2015.66,194.28 L2013.76,194.6 L2011.93,194.92 L2010.22,195.23 L2008.58,195.55 L2006.92,195.85 L2005.27,196.16 L2003.62,196.47 L2001.97,196.79 L2000.33,197.12 L1998.7,197.47 L1997.1,197.84 L1995.51,198.22 L1993.96,198.64 L1992.43,199.09 L1990.94,199.57 L1989.48,200.09 L1988.07,200.64 L1986.69,201.22 L1985.34,201.82 L1984.01,202.45 L1982.7,203.1 L1981.4,203.77 L1980.1,204.45 L1978.81,205.14 L1977.51,205.85 L1976.19,206.57 L1974.86,207.29 L1973.52,208.01 L1972.19,208.73 L1970.85,209.45 L1969.51,210.18 L1968.17,210.93 L1966.83,211.69 L1965.49,212.47 L1964.15,213.29 L1962.81,214.14 L1961.47,215.02 L1960.13,215.95 L1958.79,216.93 L1957.45,217.96 L1956.11,219.03 L1954.77,220.13 L1953.43,221.28 L1952.1,222.45 L1950.76,223.66 L1949.42,224.9 L1948.08,226.16 L1946.74,227.44 L1945.4,228.74 L1944.06,230.06 L1942.72,231.4 L1941.38,232.75 L1940.04,234.12 L1938.7,235.51 L1937.36,236.93 L1936.02,238.37 L1934.68,239.83 L1933.34,241.32 L1932.01,242.82 L1930.67,244.35 L1929.33,245.91 L1927.99,247.48 L1926.65,249.08 L1925.31,250.7 L1923.97,252.37 L1922.63,254.07 L1921.29,255.8 L1919.95,257.55 L1918.61,259.32 L1917.27,261.1 L1915.93,262.89 L1914.59,264.67 L1913.25,266.45 L1911.92,268.22 L1910.58,269.97 L1909.24,271.7 L1907.9,273.43 L1906.56,275.15 L1905.22,276.87 L1903.88,278.59 L1902.54,280.32 L1901.2,282.04 L1899.86,283.78 L1898.52,285.53 L1897.18,287.29 L1895.84,289.07 L1894.5,290.86 L1893.16,292.68 L1891.83,294.52 L1890.49,296.37 L1889.15,298.24 L1887.81,300.12 L1886.47,302.01 L1885.13,303.91 L1883.79,305.8 L1882.45,307.7 L1881.11,309.59 L1879.77,311.48 L1878.43,313.36 L1877.09,315.25 L1875.75,317.15 L1874.41,319.06 L1873.07,320.98 L1871.74,322.9 L1870.4,324.81 L1869.06,326.72 L1867.72,328.6 L1866.38,330.46 L1865.04,332.3 L1863.7,334.1 L1862.36,335.86 L1861.02,337.62 L1859.68,339.39 L1858.34,341.18 L1857,342.95 L1855.66,344.7 L1854.32,346.41 L1852.98,348.07 L1851.65,349.67 L1850.31,351.2 L1848.97,352.62 L1847.63,353.95 L1846.29,355.15 L1844.98,356.21 L1843.71,357.14 L1842.47,357.95 L1841.24,358.66 L1840.01,359.3 L1838.77,359.87 L1837.51,360.41 L1836.19,360.92 L1834.82,361.44 L1833.38,361.98 L1831.85,362.55 L1830.22,363.19 L1828.4,363.88 L1826.35,364.62 L1824.12,365.38 L1821.79,366.16 L1819.28,366.94 L1816.2,367.71 L1813.19,368.44 L1810.33,369.14 L1807.68,369.78 L1805.33,370.35 L1803.34,370.83 L1801.79,371.22Z" fill="#f2db78"/>
<path d="M1801.79,371.22C1805.86,369.88 1819.47,365.87 1826.22,363.19C1832.97,360.51 1836.93,359.7 1842.29,355.15C1847.65,350.6 1853,342.83 1858.36,335.86C1863.72,328.9 1869.07,320.86 1874.43,313.36C1879.79,305.86 1885.15,298.09 1890.5,290.86C1895.86,283.63 1901.22,276.93 1906.58,269.97C1911.93,263 1917.29,255.5 1922.65,249.08C1928.01,242.65 1933.36,236.75 1938.72,231.4C1944.08,226.04 1949.43,220.95 1954.79,216.93C1960.15,212.91 1965.51,210.18 1970.86,207.29C1976.22,204.4 1981.04,201.58 1986.94,199.57C1992.83,197.56 1999.66,196.49 2006.22,195.23C2012.79,193.98 2022.96,192.56 2026.31,192.02" fill="none" stroke="#f2db78" stroke-width="14.5"/>
</g>
<line x1="1805" y1="309.35" x2="1805" y2="350.33" stroke="#7e8583" stroke-width="1.8"/>
<line x1="1812.55" y1="276.4" x2="1812.55" y2="319.79" stroke="#7e8583" stroke-width="1.8"/>
<line x1="1820.11" y1="276.4" x2="1820.11" y2="319.79" stroke="#7e8583" stroke-width="1.8"/>
<line x1="1842.61" y1="209.7" x2="1842.61" y2="250.68" stroke="#7e8583" stroke-width="1.8"/>
<line x1="1887.61" y1="174.34" x2="1887.61" y2="200.06" stroke="#7e8583" stroke-width="1.8"/>
<line x1="1970.06" y1="163.89" x2="1970.06" y2="175.14" stroke="#7e8583" stroke-width="1.8"/>
<circle cx="1805" cy="330.24" r="6.1" fill="#7e8583"/>
<circle cx="1812.55" cy="298.58" r="6.1" fill="#7e8583"/>
<circle cx="1820.11" cy="298.58" r="6.1" fill="#7e8583"/>
<circle cx="1842.61" cy="228.5" r="6.1" fill="#7e8583"/>
<circle cx="1887.61" cy="184.47" r="6.1" fill="#7e8583"/>
<circle cx="1970.06" cy="170.32" r="6.1" fill="#7e8583"/>
<line x1="1803.72" y1="344.7" x2="1803.72" y2="378.45" stroke="#e8c300" stroke-width="1.8"/>
<line x1="1812.23" y1="343.9" x2="1812.23" y2="377.65" stroke="#e8c300" stroke-width="1.8"/>
<line x1="1820.11" y1="342.29" x2="1820.11" y2="376.04" stroke="#e8c300" stroke-width="1.8"/>
<line x1="1842.61" y1="310.15" x2="1842.61" y2="361.58" stroke="#e8c300" stroke-width="1.8"/>
<line x1="1887.61" y1="216.13" x2="1887.61" y2="271.58" stroke="#e8c300" stroke-width="1.8"/>
<line x1="1970.06" y1="167.11" x2="1970.06" y2="196.04" stroke="#e8c300" stroke-width="1.8"/>
<circle cx="1803.72" cy="367.2" r="6.1" fill="#e8c300"/>
<circle cx="1812.23" cy="366.4" r="6.1" fill="#e8c300"/>
<circle cx="1820.11" cy="363.99" r="6.1" fill="#e8c300"/>
<circle cx="1842.61" cy="340.36" r="6.1" fill="#e8c300"/>
<circle cx="1887.61" cy="242.32" r="6.1" fill="#e8c300"/>
<circle cx="1970.06" cy="175.95" r="6.1" fill="#e8c300"/>
<line x1="1790.21" y1="151.04" x2="1790.21" y2="398.74" stroke="#000" stroke-width="2.1"/>
<line x1="1789.21" y1="397.74" x2="2037.08" y2="397.74" stroke="#000" stroke-width="2.1"/>
<line x1="1783.21" y1="382.79" x2="1790.21" y2="382.79" stroke="#333" stroke-width="1.8"/>
<text x="1776.71" y="390.09" font-size="20.2" text-anchor="end" fill="#4d4d4d" stroke="#4d4d4d" stroke-width="0.5">0.0</text>
<line x1="1783.21" y1="274.79" x2="1790.21" y2="274.79" stroke="#333" stroke-width="1.8"/>
<text x="1776.71" y="282.09" font-size="20.2" text-anchor="end" fill="#4d4d4d" stroke="#4d4d4d" stroke-width="0.5">0.5</text>
<line x1="1783.21" y1="166.79" x2="1790.21" y2="166.79" stroke="#333" stroke-width="1.8"/>
<text x="1776.71" y="174.09" font-size="20.2" text-anchor="end" fill="#4d4d4d" stroke="#4d4d4d" stroke-width="0.5">1.0</text>
<line x1="1801.79" y1="397.74" x2="1801.79" y2="404.74" stroke="#333" stroke-width="1.8"/>
<text x="1801.79" y="425.54" font-size="20.5" text-anchor="middle" fill="#4d4d4d" stroke="#4d4d4d" stroke-width="0.5">0</text>
<line x1="1854.82" y1="397.74" x2="1854.82" y2="404.74" stroke="#333" stroke-width="1.8"/>
<text x="1854.82" y="425.54" font-size="20.5" text-anchor="middle" fill="#4d4d4d" stroke="#4d4d4d" stroke-width="0.5">10</text>
<line x1="1907.86" y1="397.74" x2="1907.86" y2="404.74" stroke="#333" stroke-width="1.8"/>
<text x="1907.86" y="425.54" font-size="20.5" text-anchor="middle" fill="#4d4d4d" stroke="#4d4d4d" stroke-width="0.5">20</text>
<line x1="1960.9" y1="397.74" x2="1960.9" y2="404.74" stroke="#333" stroke-width="1.8"/>
<text x="1960.9" y="425.54" font-size="20.5" text-anchor="middle" fill="#4d4d4d" stroke="#4d4d4d" stroke-width="0.5">30</text>
<line x1="2013.94" y1="397.74" x2="2013.94" y2="404.74" stroke="#333" stroke-width="1.8"/>
<text x="2013.94" y="425.54" font-size="20.5" text-anchor="middle" fill="#4d4d4d" stroke="#4d4d4d" stroke-width="0.5">40</text>
<text x="1869.91" y="346.31" font-size="19.8" stroke="#000" stroke-width="0.5">1.00 to 4.70</text>
<line x1="156.54" y1="899.11" x2="403.08" y2="899.11" stroke="#8e8e8e" stroke-width="1.5" stroke-dasharray="7.5 7.5"/>
<g opacity="0.93">
<path d="M169.72,998.44 L170.18,998.32 L170.76,998.24 L171.42,998.16 L172.17,998.08 L172.98,997.98 L173.85,997.83 L174.77,997.64 L175.72,997.37 L176.7,997.01 L177.69,996.54 L178.99,995.95 L180.61,995.22 L182.27,994.37 L184.04,993.42 L185.89,992.37 L187.8,991.23 L189.75,990.01 L191.72,988.69 L193.69,987.3 L195.63,985.82 L197.54,984.26 L199.38,982.63 L201.14,980.92 L202.79,979.15 L204.34,977.28 L205.82,975.28 L207.24,973.19 L208.6,971 L209.92,968.73 L211.21,966.39 L212.47,964.01 L213.73,961.59 L214.99,959.15 L216.25,956.7 L217.54,954.25 L218.86,951.83 L220.21,949.37 L221.59,946.83 L222.98,944.22 L224.38,941.58 L225.78,938.91 L227.18,936.24 L228.55,933.59 L229.91,930.97 L231.23,928.41 L232.51,925.93 L233.75,923.55 L234.93,921.29 L236.05,919.15 L237.11,917.12 L238.12,915.17 L239.09,913.3 L240.02,911.49 L240.94,909.72 L241.84,907.98 L242.74,906.24 L243.65,904.51 L244.57,902.75 L245.52,900.96 L246.5,899.11 L247.5,897.25 L248.5,895.42 L249.49,893.59 L250.48,891.78 L251.48,889.96 L252.49,888.12 L253.52,886.26 L254.56,884.37 L255.63,882.44 L256.73,880.45 L257.87,878.41 L259.04,876.29 L260.26,874.07 L261.51,871.75 L262.81,869.34 L264.14,866.86 L265.49,864.34 L266.86,861.8 L268.24,859.27 L269.62,856.75 L271.01,854.28 L272.39,851.88 L273.76,849.57 L275.11,847.36 L276.45,845.24 L277.79,843.16 L279.13,841.13 L280.47,839.15 L281.81,837.2 L283.15,835.31 L284.49,833.45 L285.83,831.65 L287.17,829.88 L288.51,828.16 L289.84,826.49 L291.18,824.86 L292.5,823.27 L293.77,821.71 L295.01,820.18 L296.24,818.7 L297.47,817.26 L298.72,815.87 L299.99,814.53 L301.3,813.25 L302.67,812.03 L304.11,810.88 L305.64,809.8 L307.26,808.79 L308.98,807.86 L310.81,807.01 L312.72,806.24 L314.7,805.54 L316.73,804.9 L318.81,804.32 L320.91,803.78 L323.03,803.28 L325.15,802.82 L327.25,802.38 L329.33,801.96 L331.36,801.55 L333.35,801.18 L335.3,800.86 L337.22,800.58 L339.13,800.33 L341.04,800.13 L342.97,799.95 L344.91,799.79 L346.9,799.65 L348.94,799.52 L351.04,799.4 L353.21,799.27 L355.47,799.14 L357.93,799.02 L360.64,798.91 L363.53,798.81 L366.54,798.73 L369.6,798.65 L372.65,798.59 L375.61,798.54 L378.42,798.49 L381.01,798.45 L383.32,798.41 L385.27,798.37 L386.81,798.34 L392.31,798.34 L392.01,798.45 L389.42,798.49 L386.61,798.54 L383.65,798.59 L380.6,798.65 L377.54,798.73 L374.53,798.81 L371.64,798.91 L368.93,799.02 L366.47,799.14 L364.21,799.27 L362.04,799.4 L359.94,799.52 L357.9,799.65 L355.91,799.79 L353.97,799.95 L352.04,800.13 L350.13,800.33 L348.22,800.58 L346.3,800.86 L344.35,801.18 L342.36,801.55 L340.33,801.96 L338.25,802.38 L336.15,802.82 L334.03,803.28 L331.91,803.78 L329.81,804.32 L327.73,804.9 L325.7,805.54 L323.72,806.24 L321.81,807.01 L319.98,807.86 L318.26,808.79 L316.64,809.8 L315.11,810.88 L313.67,812.03 L312.3,813.25 L310.99,814.53 L309.72,815.87 L308.47,817.26 L307.24,818.7 L306.01,820.18 L304.77,821.71 L303.5,823.27 L302.18,824.86 L300.84,826.49 L299.51,828.16 L298.17,829.88 L296.83,831.65 L295.49,833.45 L294.15,835.31 L292.81,837.2 L291.47,839.15 L290.13,841.13 L288.79,843.16 L287.45,845.24 L286.11,847.36 L284.76,849.57 L283.39,851.88 L282.01,854.28 L280.62,856.75 L279.24,859.27 L277.86,861.8 L276.49,864.34 L275.14,866.86 L273.81,869.34 L272.51,871.75 L271.26,874.07 L270.04,876.29 L268.87,878.41 L267.73,880.45 L266.63,882.44 L265.56,884.37 L264.52,886.26 L263.49,888.12 L262.48,889.96 L261.48,891.78 L260.49,893.59 L259.5,895.42 L258.5,897.25 L257.5,899.11 L256.52,900.96 L255.57,902.75 L254.65,904.51 L253.74,906.24 L252.84,907.98 L251.94,909.72 L251.02,911.49 L250.09,913.3 L249.12,915.17 L248.11,917.12 L247.05,919.15 L245.93,921.29 L244.75,923.55 L243.51,925.93 L242.23,928.41 L240.91,930.97 L239.55,933.59 L238.18,936.24 L236.78,938.91 L235.38,941.58 L233.98,944.22 L232.59,946.83 L231.21,949.37 L229.86,951.83 L228.54,954.25 L227.25,956.7 L225.99,959.15 L224.73,961.59 L223.47,964.01 L222.21,966.39 L220.92,968.73 L219.6,971 L218.24,973.19 L216.82,975.28 L215.34,977.28 L213.79,979.15 L212.14,980.92 L210.38,982.63 L208.54,984.26 L206.63,985.82 L204.69,987.3 L202.72,988.69 L200.75,990.01 L198.8,991.23 L196.89,992.37 L195.04,993.42 L193.27,994.37 L191.61,995.22 L189.99,995.95 L188.01,996.54 L185.74,997.01 L183.5,997.37 L181.31,997.64 L179.2,997.83 L177.2,997.98 L175.34,998.08 L173.63,998.16 L172.11,998.24 L170.79,998.32 L169.72,998.44Z" fill="#c1c3c4"/>
<path d="M169.72,998.44C172.45,997.9 179.68,998.44 186.11,995.22C192.54,992.01 201.91,986.38 208.29,979.15C214.66,971.92 219,961.47 224.36,951.83C229.72,942.18 235.82,930.08 240.43,921.29C245.04,912.51 247.99,906.61 252,899.11C256.02,891.61 259.77,884.91 264.54,876.29C269.31,867.66 275.25,855.93 280.61,847.36C285.97,838.79 291.33,831.29 296.68,824.86C302.04,818.43 306.06,812.67 312.76,808.79C319.45,804.9 328.83,803.16 336.86,801.55C344.9,799.95 351.73,799.68 360.97,799.14C370.21,798.61 387.09,798.47 392.31,798.34" fill="none" stroke="#c1c3c4" stroke-width="6.5"/>
</g>
<g opacity="0.93">
<path d="M169.72,967.9 L169.9,967.13 L170.12,966.19 L170.37,965.09 L170.65,963.85 L170.96,962.51 L171.29,961.07 L171.64,959.57 L172.01,958.02 L172.4,956.45 L172.8,954.88 L173.21,953.33 L173.62,951.83 L174.05,950.31 L174.53,948.73 L175.03,947.08 L175.56,945.4 L176.11,943.69 L176.66,941.98 L177.2,940.28 L177.75,938.61 L178.31,936.99 L179.13,935.42 L179.9,933.93 L180.61,932.54 L181.25,931.27 L181.83,930.12 L182.36,929.06 L182.86,928.07 L183.33,927.12 L183.78,926.19 L184.23,925.26 L184.68,924.3 L185.14,923.29 L185.63,922.2 L186.15,921.01 L186.72,919.68 L187.32,918.23 L187.94,916.67 L188.59,915.02 L189.25,913.3 L189.93,911.53 L190.61,909.72 L191.31,907.89 L192,906.06 L192.7,904.25 L193.39,902.48 L194.08,900.76 L194.75,899.11 L195.42,897.52 L196.09,895.96 L196.76,894.42 L197.43,892.91 L198.1,891.41 L198.77,889.93 L199.44,888.46 L200.11,886.99 L200.78,885.53 L201.45,884.06 L202.12,882.59 L202.79,881.11 L203.44,879.65 L204.07,878.22 L204.68,876.82 L205.29,875.43 L205.89,874.05 L206.5,872.65 L207.13,871.24 L207.79,869.79 L208.48,868.3 L209.21,866.75 L209.99,865.13 L210.82,863.43 L211.71,861.65 L212.64,859.79 L213.6,857.86 L214.6,855.87 L215.63,853.84 L216.69,851.78 L217.78,849.69 L218.91,847.6 L220.06,845.5 L221.24,843.42 L222.45,841.35 L223.68,839.32 L224.95,837.27 L226.26,835.16 L227.62,833 L229,830.81 L230.42,828.63 L231.86,826.47 L233.32,824.35 L234.79,822.3 L236.27,820.34 L237.76,818.49 L239.24,816.77 L240.72,815.22 L242.18,813.81 L243.63,812.53 L245.07,811.37 L246.52,810.31 L247.97,809.33 L249.44,808.44 L250.93,807.6 L252.46,806.82 L254.02,806.08 L255.64,805.37 L257.31,804.67 L259.04,803.97 L260.82,803.29 L262.63,802.66 L264.47,802.07 L266.35,801.53 L268.27,801.02 L270.23,800.55 L272.24,800.11 L274.3,799.71 L276.42,799.33 L278.6,798.98 L280.84,798.65 L283.15,798.34 L285.57,798.06 L288.14,797.82 L290.83,797.61 L293.59,797.43 L296.42,797.28 L299.27,797.16 L302.12,797.05 L304.93,796.97 L307.69,796.89 L310.35,796.83 L312.9,796.78 L315.29,796.73 L317.62,796.7 L319.96,796.7 L322.29,796.72 L324.58,796.76 L326.81,796.81 L328.95,796.87 L330.99,796.94 L332.88,797.01 L334.62,797.08 L336.16,797.14 L337.5,797.19 L338.6,797.22 L344.1,797.22 L343.88,797.01 L341.99,796.94 L339.95,796.87 L337.81,796.81 L335.58,796.76 L333.29,796.72 L330.96,796.7 L328.62,796.7 L326.29,796.73 L323.9,796.78 L321.35,796.83 L318.69,796.89 L315.93,796.97 L313.12,797.05 L310.27,797.16 L307.42,797.28 L304.59,797.43 L301.83,797.61 L299.14,797.82 L296.57,798.06 L294.15,798.34 L291.84,798.65 L289.6,798.98 L287.42,799.33 L285.3,799.71 L283.24,800.11 L281.23,800.55 L279.27,801.02 L277.35,801.53 L275.47,802.07 L273.63,802.66 L271.82,803.29 L270.04,803.97 L268.31,804.67 L266.64,805.37 L265.02,806.08 L263.46,806.82 L261.93,807.6 L260.44,808.44 L258.97,809.33 L257.52,810.31 L256.07,811.37 L254.63,812.53 L253.18,813.81 L251.72,815.22 L250.24,816.77 L248.76,818.49 L247.27,820.34 L245.79,822.3 L244.32,824.35 L242.86,826.47 L241.42,828.63 L240,830.81 L238.62,833 L237.26,835.16 L235.95,837.27 L234.68,839.32 L233.45,841.35 L232.24,843.42 L231.06,845.5 L229.91,847.6 L228.78,849.69 L227.69,851.78 L226.63,853.84 L225.6,855.87 L224.6,857.86 L223.64,859.79 L222.71,861.65 L221.82,863.43 L220.99,865.13 L220.21,866.75 L219.48,868.3 L218.79,869.79 L218.13,871.24 L217.5,872.65 L216.89,874.05 L216.29,875.43 L215.68,876.82 L215.07,878.22 L214.44,879.65 L213.79,881.11 L213.12,882.59 L212.45,884.06 L211.78,885.53 L211.11,886.99 L210.44,888.46 L209.77,889.93 L209.1,891.41 L208.43,892.91 L207.76,894.42 L207.09,895.96 L206.42,897.52 L205.75,899.11 L205.08,900.76 L204.39,902.48 L203.7,904.25 L203,906.06 L202.31,907.89 L201.61,909.72 L200.93,911.53 L200.25,913.3 L199.59,915.02 L198.94,916.67 L198.32,918.23 L197.72,919.68 L197.15,921.01 L196.63,922.2 L196.14,923.29 L195.68,924.3 L195.23,925.26 L194.78,926.19 L194.33,927.12 L193.86,928.07 L193.36,929.06 L192.83,930.12 L192.25,931.27 L191.61,932.54 L190.9,933.93 L190.13,935.42 L189.31,936.99 L188.14,938.61 L186.9,940.28 L185.64,941.98 L184.38,943.69 L183.13,945.4 L181.92,947.08 L180.76,948.73 L179.67,950.31 L178.67,951.83 L177.72,953.33 L176.79,954.88 L175.87,956.45 L174.99,958.02 L174.14,959.57 L173.32,961.07 L172.56,962.51 L171.85,963.85 L171.21,965.09 L170.63,966.19 L170.13,967.13 L169.72,967.9Z" fill="#76d0f3"/>
<path d="M169.72,967.9C170.79,965.22 173.41,957.72 176.14,951.83C178.88,945.93 183.43,937.9 186.11,932.54C188.79,927.18 189.86,925.26 192.22,919.68C194.57,914.11 197.57,905.54 200.25,899.11C202.93,892.68 205.61,887.06 208.29,881.11C210.97,875.16 212.84,870.4 216.32,863.43C219.81,856.47 224.2,847.36 229.18,839.32C234.16,831.29 240.32,821.11 246.22,815.22C252.11,809.32 257.47,806.78 264.54,803.97C271.61,801.15 279.27,799.55 288.65,798.34C298.02,797.14 311.55,796.92 320.79,796.73C330.03,796.55 340.21,797.14 344.1,797.22" fill="none" stroke="#76d0f3" stroke-width="6.5"/>
</g>
<line x1="170.52" y1="992.01" x2="170.52" y2="1004.87" stroke="#7e8583" stroke-width="1.8"/>
<line x1="178.07" y1="988.79" x2="178.07" y2="1003.26" stroke="#7e8583" stroke-width="1.8"/>
<line x1="186.11" y1="977.54" x2="186.11" y2="995.22" stroke="#7e8583" stroke-width="1.8"/>
<line x1="208.77" y1="930.93" x2="208.77" y2="971.92" stroke="#7e8583" stroke-width="1.8"/>
<line x1="246.22" y1="807.18" x2="246.22" y2="851.38" stroke="#7e8583" stroke-width="1.8"/>
<line x1="321.27" y1="803.97" x2="321.27" y2="833.7" stroke="#7e8583" stroke-width="1.8"/>
<circle cx="170.52" cy="998.44" r="6.1" fill="#7e8583"/>
<circle cx="178.07" cy="995.22" r="6.1" fill="#7e8583"/>
<circle cx="186.11" cy="986.38" r="6.1" fill="#7e8583"/>
<circle cx="208.77" cy="952.63" r="6.1" fill="#7e8583"/>
<circle cx="246.22" cy="829.36" r="6.1" fill="#7e8583"/>
<circle cx="321.27" cy="815.22" r="6.1" fill="#7e8583"/>
<line x1="170.52" y1="969.51" x2="170.52" y2="995.22" stroke="#00b5f0" stroke-width="1.8"/>
<line x1="178.07" y1="963.88" x2="178.07" y2="992.01" stroke="#00b5f0" stroke-width="1.8"/>
<line x1="186.11" y1="941.38" x2="186.11" y2="980.76" stroke="#00b5f0" stroke-width="1.8"/>
<line x1="208.77" y1="910.04" x2="208.77" y2="951.83" stroke="#00b5f0" stroke-width="1.8"/>
<line x1="246.22" y1="795.93" x2="246.22" y2="821.64" stroke="#00b5f0" stroke-width="1.8"/>
<line x1="321.27" y1="789.5" x2="321.27" y2="813.61" stroke="#00b5f0" stroke-width="1.8"/>
<circle cx="170.52" cy="983.97" r="6.1" fill="#00b5f0"/>
<circle cx="178.07" cy="979.15" r="6.1" fill="#00b5f0"/>
<circle cx="186.11" cy="959.86" r="6.1" fill="#00b5f0"/>
<circle cx="208.77" cy="930.93" r="6.1" fill="#00b5f0"/>
<circle cx="246.22" cy="801.55" r="6.1" fill="#00b5f0"/>
<circle cx="321.27" cy="795.13" r="6.1" fill="#00b5f0"/>
<line x1="156.54" y1="775.84" x2="156.54" y2="1023.54" stroke="#000" stroke-width="2.1"/>
<line x1="155.54" y1="1022.54" x2="403.08" y2="1022.54" stroke="#000" stroke-width="2.1"/>
<line x1="149.54" y1="1007.28" x2="156.54" y2="1007.28" stroke="#333" stroke-width="1.8"/>
<text x="143.04" y="1014.58" font-size="20.2" text-anchor="end" fill="#4d4d4d" stroke="#4d4d4d" stroke-width="0.5">0.0</text>
<line x1="149.54" y1="899.11" x2="156.54" y2="899.11" stroke="#333" stroke-width="1.8"/>
<text x="143.04" y="906.41" font-size="20.2" text-anchor="end" fill="#4d4d4d" stroke="#4d4d4d" stroke-width="0.5">0.5</text>
<line x1="149.54" y1="791.11" x2="156.54" y2="791.11" stroke="#333" stroke-width="1.8"/>
<text x="143.04" y="798.41" font-size="20.2" text-anchor="end" fill="#4d4d4d" stroke="#4d4d4d" stroke-width="0.5">1.0</text>
<line x1="167.79" y1="1022.54" x2="167.79" y2="1029.54" stroke="#333" stroke-width="1.8"/>
<text x="167.79" y="1050.34" font-size="20.5" text-anchor="middle" fill="#4d4d4d" stroke="#4d4d4d" stroke-width="0.5">0</text>
<line x1="215.52" y1="1022.54" x2="215.52" y2="1029.54" stroke="#333" stroke-width="1.8"/>
<text x="215.52" y="1050.34" font-size="20.5" text-anchor="middle" fill="#4d4d4d" stroke="#4d4d4d" stroke-width="0.5">10</text>
<line x1="263.41" y1="1022.54" x2="263.41" y2="1029.54" stroke="#333" stroke-width="1.8"/>
<text x="263.41" y="1050.34" font-size="20.5" text-anchor="middle" fill="#4d4d4d" stroke="#4d4d4d" stroke-width="0.5">20</text>
<line x1="311.63" y1="1022.54" x2="311.63" y2="1029.54" stroke="#333" stroke-width="1.8"/>
<text x="311.63" y="1050.34" font-size="20.5" text-anchor="middle" fill="#4d4d4d" stroke="#4d4d4d" stroke-width="0.5">30</text>
<line x1="359.36" y1="1022.54" x2="359.36" y2="1029.54" stroke="#333" stroke-width="1.8"/>
<text x="359.36" y="1050.34" font-size="20.5" text-anchor="middle" fill="#4d4d4d" stroke="#4d4d4d" stroke-width="0.5">40</text>
<text x="223.86" y="970.31" font-size="19.8" stroke="#000" stroke-width="0.5">7.90 to 3.00</text>
<text x="279.81" y="1081.54" font-size="27.1" text-anchor="middle" stroke="#000" stroke-width="0.5">Lottery magnitude</text>
<text x="87" y="899.19" font-size="27.2" text-anchor="middle" transform="rotate(-90 87 899.19)" stroke="#000" stroke-width="0.5">P(Chose Lottery)</text>
<line x1="472.54" y1="899.11" x2="719.08" y2="899.11" stroke="#8e8e8e" stroke-width="1.5" stroke-dasharray="7.5 7.5"/>
<g opacity="0.93">
<path d="M485.72,967.9 L485.9,967.13 L486.12,966.19 L486.37,965.09 L486.65,963.85 L486.96,962.51 L487.29,961.07 L487.64,959.57 L488.01,958.02 L488.4,956.45 L488.8,954.88 L489.21,953.33 L489.62,951.83 L490.05,950.31 L490.53,948.73 L491.03,947.08 L491.56,945.4 L492.11,943.69 L492.66,941.98 L493.2,940.28 L493.75,938.61 L494.31,936.99 L495.13,935.42 L495.9,933.93 L496.61,932.54 L497.25,931.27 L497.83,930.12 L498.36,929.06 L498.86,928.07 L499.33,927.12 L499.78,926.19 L500.23,925.26 L500.68,924.3 L501.14,923.29 L501.63,922.2 L502.15,921.01 L502.72,919.68 L503.32,918.23 L503.94,916.67 L504.59,915.02 L505.25,913.3 L505.93,911.53 L506.61,909.72 L507.31,907.89 L508,906.06 L508.7,904.25 L509.39,902.48 L510.08,900.76 L510.75,899.11 L511.42,897.52 L512.09,895.96 L512.76,894.42 L513.43,892.91 L514.1,891.41 L514.77,889.93 L515.44,888.46 L516.11,886.99 L516.78,885.53 L517.45,884.06 L518.12,882.59 L518.79,881.11 L519.44,879.65 L520.07,878.22 L520.68,876.82 L521.29,875.43 L521.89,874.05 L522.5,872.65 L523.13,871.24 L523.79,869.79 L524.48,868.3 L525.21,866.75 L525.99,865.13 L526.82,863.43 L527.71,861.65 L528.64,859.79 L529.6,857.86 L530.6,855.87 L531.63,853.84 L532.69,851.78 L533.78,849.69 L534.91,847.6 L536.06,845.5 L537.24,843.42 L538.45,841.35 L539.68,839.32 L540.95,837.27 L542.26,835.16 L543.62,833 L545,830.81 L546.42,828.63 L547.86,826.47 L549.32,824.35 L550.79,822.3 L552.27,820.34 L553.76,818.49 L555.24,816.77 L556.72,815.22 L558.18,813.81 L559.63,812.53 L561.07,811.37 L562.52,810.31 L563.97,809.33 L565.44,808.44 L566.93,807.6 L568.46,806.82 L570.02,806.08 L571.64,805.37 L573.31,804.67 L575.04,803.97 L576.82,803.29 L578.63,802.66 L580.47,802.07 L582.35,801.53 L584.27,801.02 L586.23,800.55 L588.24,800.11 L590.3,799.71 L592.42,799.33 L594.6,798.98 L596.84,798.65 L599.15,798.34 L601.57,798.06 L604.14,797.82 L606.83,797.61 L609.59,797.43 L612.42,797.28 L615.27,797.16 L618.12,797.05 L620.93,796.97 L623.69,796.89 L626.35,796.83 L628.9,796.78 L631.29,796.73 L633.62,796.7 L635.96,796.7 L638.29,796.72 L640.58,796.76 L642.81,796.81 L644.95,796.87 L646.99,796.94 L648.88,797.01 L650.62,797.08 L652.16,797.14 L653.5,797.19 L654.6,797.22 L660.1,797.22 L659.88,797.01 L657.99,796.94 L655.95,796.87 L653.81,796.81 L651.58,796.76 L649.29,796.72 L646.96,796.7 L644.62,796.7 L642.29,796.73 L639.9,796.78 L637.35,796.83 L634.69,796.89 L631.93,796.97 L629.12,797.05 L626.27,797.16 L623.42,797.28 L620.59,797.43 L617.83,797.61 L615.14,797.82 L612.57,798.06 L610.15,798.34 L607.84,798.65 L605.6,798.98 L603.42,799.33 L601.3,799.71 L599.24,800.11 L597.23,800.55 L595.27,801.02 L593.35,801.53 L591.47,802.07 L589.63,802.66 L587.82,803.29 L586.04,803.97 L584.31,804.67 L582.64,805.37 L581.02,806.08 L579.46,806.82 L577.93,807.6 L576.44,808.44 L574.97,809.33 L573.52,810.31 L572.07,811.37 L570.63,812.53 L569.18,813.81 L567.72,815.22 L566.24,816.77 L564.76,818.49 L563.27,820.34 L561.79,822.3 L560.32,824.35 L558.86,826.47 L557.42,828.63 L556,830.81 L554.62,833 L553.26,835.16 L551.95,837.27 L550.68,839.32 L549.45,841.35 L548.24,843.42 L547.06,845.5 L545.91,847.6 L544.78,849.69 L543.69,851.78 L542.63,853.84 L541.6,855.87 L540.6,857.86 L539.64,859.79 L538.71,861.65 L537.82,863.43 L536.99,865.13 L536.21,866.75 L535.48,868.3 L534.79,869.79 L534.13,871.24 L533.5,872.65 L532.89,874.05 L532.29,875.43 L531.68,876.82 L531.07,878.22 L530.44,879.65 L529.79,881.11 L529.12,882.59 L528.45,884.06 L527.78,885.53 L527.11,886.99 L526.44,888.46 L525.77,889.93 L525.1,891.41 L524.43,892.91 L523.76,894.42 L523.09,895.96 L522.42,897.52 L521.75,899.11 L521.08,900.76 L520.39,902.48 L519.7,904.25 L519,906.06 L518.31,907.89 L517.61,909.72 L516.93,911.53 L516.25,913.3 L515.59,915.02 L514.94,916.67 L514.32,918.23 L513.72,919.68 L513.15,921.01 L512.63,922.2 L512.14,923.29 L511.68,924.3 L511.23,925.26 L510.78,926.19 L510.33,927.12 L509.86,928.07 L509.36,929.06 L508.83,930.12 L508.25,931.27 L507.61,932.54 L506.9,933.93 L506.13,935.42 L505.31,936.99 L504.14,938.61 L502.9,940.28 L501.64,941.98 L500.38,943.69 L499.13,945.4 L497.92,947.08 L496.76,948.73 L495.67,950.31 L494.67,951.83 L493.72,953.33 L492.79,954.88 L491.87,956.45 L490.99,958.02 L490.14,959.57 L489.32,961.07 L488.56,962.51 L487.85,963.85 L487.21,965.09 L486.63,966.19 L486.13,967.13 L485.72,967.9Z" fill="#c1c3c4"/>
<path d="M485.72,967.9C486.79,965.22 489.41,957.72 492.14,951.83C494.88,945.93 499.43,937.9 502.11,932.54C504.79,927.18 505.86,925.26 508.22,919.68C510.57,914.11 513.57,905.54 516.25,899.11C518.93,892.68 521.61,887.06 524.29,881.11C526.97,875.16 528.84,870.4 532.32,863.43C535.81,856.47 540.2,847.36 545.18,839.32C550.16,831.29 556.32,821.11 562.22,815.22C568.11,809.32 573.47,806.78 580.54,803.97C587.61,801.15 595.27,799.55 604.65,798.34C614.02,797.14 627.55,796.92 636.79,796.73C646.03,796.55 656.21,797.14 660.1,797.22" fill="none" stroke="#c1c3c4" stroke-width="6.5"/>
</g>
<g opacity="0.93">
<path d="M485.72,998.44 L486.18,998.32 L486.76,998.24 L487.42,998.16 L488.17,998.08 L488.98,997.98 L489.85,997.83 L490.77,997.64 L491.72,997.37 L492.7,997.01 L493.69,996.54 L494.99,995.95 L496.61,995.22 L498.27,994.37 L500.04,993.42 L501.89,992.37 L503.8,991.23 L505.75,990.01 L507.72,988.69 L509.69,987.3 L511.63,985.82 L513.54,984.26 L515.38,982.63 L517.14,980.92 L518.79,979.15 L520.34,977.28 L521.82,975.28 L523.24,973.19 L524.6,971 L525.92,968.73 L527.21,966.39 L528.47,964.01 L529.73,961.59 L530.99,959.15 L532.25,956.7 L533.54,954.25 L534.86,951.83 L536.21,949.37 L537.59,946.83 L538.98,944.22 L540.38,941.58 L541.78,938.91 L543.18,936.24 L544.55,933.59 L545.91,930.97 L547.23,928.41 L548.51,925.93 L549.75,923.55 L550.93,921.29 L552.05,919.15 L553.11,917.12 L554.12,915.17 L555.09,913.3 L556.02,911.49 L556.94,909.72 L557.84,907.98 L558.74,906.24 L559.65,904.51 L560.57,902.75 L561.52,900.96 L562.5,899.11 L563.5,897.25 L564.5,895.42 L565.49,893.59 L566.48,891.78 L567.48,889.96 L568.49,888.12 L569.52,886.26 L570.56,884.37 L571.63,882.44 L572.73,880.45 L573.87,878.41 L575.04,876.29 L576.26,874.07 L577.51,871.75 L578.81,869.34 L580.14,866.86 L581.49,864.34 L582.86,861.8 L584.24,859.27 L585.62,856.75 L587.01,854.28 L588.39,851.88 L589.76,849.57 L591.11,847.36 L592.45,845.24 L593.79,843.16 L595.13,841.13 L596.47,839.15 L597.81,837.2 L599.15,835.31 L600.49,833.45 L601.83,831.65 L603.17,829.88 L604.51,828.16 L605.84,826.49 L607.18,824.86 L608.5,823.27 L609.77,821.71 L611.01,820.18 L612.24,818.7 L613.47,817.26 L614.72,815.87 L615.99,814.53 L617.3,813.25 L618.67,812.03 L620.11,810.88 L621.64,809.8 L623.26,808.79 L624.98,807.86 L626.81,807.01 L628.72,806.24 L630.7,805.54 L632.73,804.9 L634.81,804.32 L636.91,803.78 L639.03,803.28 L641.15,802.82 L643.25,802.38 L645.33,801.96 L647.36,801.55 L649.35,801.18 L651.3,800.86 L653.22,800.58 L655.13,800.33 L657.04,800.13 L658.97,799.95 L660.91,799.79 L662.9,799.65 L664.94,799.52 L667.04,799.4 L669.21,799.27 L671.47,799.14 L673.93,799.02 L676.64,798.91 L679.53,798.81 L682.54,798.73 L685.6,798.65 L688.65,798.59 L691.61,798.54 L694.42,798.49 L697.01,798.45 L699.32,798.41 L701.27,798.37 L702.81,798.34 L708.31,798.34 L708.01,798.45 L705.42,798.49 L702.61,798.54 L699.65,798.59 L696.6,798.65 L693.54,798.73 L690.53,798.81 L687.64,798.91 L684.93,799.02 L682.47,799.14 L680.21,799.27 L678.04,799.4 L675.94,799.52 L673.9,799.65 L671.91,799.79 L669.97,799.95 L668.04,800.13 L666.13,800.33 L664.22,800.58 L662.3,800.86 L660.35,801.18 L658.36,801.55 L656.33,801.96 L654.25,802.38 L652.15,802.82 L650.03,803.28 L647.91,803.78 L645.81,804.32 L643.73,804.9 L641.7,805.54 L639.72,806.24 L637.81,807.01 L635.98,807.86 L634.26,808.79 L632.64,809.8 L631.11,810.88 L629.67,812.03 L628.3,813.25 L626.99,814.53 L625.72,815.87 L624.47,817.26 L623.24,818.7 L622.01,820.18 L620.77,821.71 L619.5,823.27 L618.18,824.86 L616.84,826.49 L615.51,828.16 L614.17,829.88 L612.83,831.65 L611.49,833.45 L610.15,835.31 L608.81,837.2 L607.47,839.15 L606.13,841.13 L604.79,843.16 L603.45,845.24 L602.11,847.36 L600.76,849.57 L599.39,851.88 L598.01,854.28 L596.62,856.75 L595.24,859.27 L593.86,861.8 L592.49,864.34 L591.14,866.86 L589.81,869.34 L588.51,871.75 L587.26,874.07 L586.04,876.29 L584.87,878.41 L583.73,880.45 L582.63,882.44 L581.56,884.37 L580.52,886.26 L579.49,888.12 L578.48,889.96 L577.48,891.78 L576.49,893.59 L575.5,895.42 L574.5,897.25 L573.5,899.11 L572.52,900.96 L571.57,902.75 L570.65,904.51 L569.74,906.24 L568.84,907.98 L567.94,909.72 L567.02,911.49 L566.09,913.3 L565.12,915.17 L564.11,917.12 L563.05,919.15 L561.93,921.29 L560.75,923.55 L559.51,925.93 L558.23,928.41 L556.91,930.97 L555.55,933.59 L554.18,936.24 L552.78,938.91 L551.38,941.58 L549.98,944.22 L548.59,946.83 L547.21,949.37 L545.86,951.83 L544.54,954.25 L543.25,956.7 L541.99,959.15 L540.73,961.59 L539.47,964.01 L538.21,966.39 L536.92,968.73 L535.6,971 L534.24,973.19 L532.82,975.28 L531.34,977.28 L529.79,979.15 L528.14,980.92 L526.38,982.63 L524.54,984.26 L522.63,985.82 L520.69,987.3 L518.72,988.69 L516.75,990.01 L514.8,991.23 L512.89,992.37 L511.04,993.42 L509.27,994.37 L507.61,995.22 L505.99,995.95 L504.01,996.54 L501.74,997.01 L499.5,997.37 L497.31,997.64 L495.2,997.83 L493.2,997.98 L491.34,998.08 L489.63,998.16 L488.11,998.24 L486.79,998.32 L485.72,998.44Z" fill="#f2db78"/>
<path d="M485.72,998.44C488.45,997.9 495.68,998.44 502.11,995.22C508.54,992.01 517.91,986.38 524.29,979.15C530.66,971.92 535,961.47 540.36,951.83C545.72,942.18 551.82,930.08 556.43,921.29C561.04,912.51 563.99,906.61 568,899.11C572.02,891.61 575.77,884.91 580.54,876.29C585.31,867.66 591.25,855.93 596.61,847.36C601.97,838.79 607.33,831.29 612.68,824.86C618.04,818.43 622.06,812.67 628.76,808.79C635.45,804.9 644.83,803.16 652.86,801.55C660.9,799.95 667.73,799.68 676.97,799.14C686.21,798.61 703.09,798.47 708.31,798.34" fill="none" stroke="#f2db78" stroke-width="6.5"/>
</g>
<line x1="486.52" y1="992.01" x2="486.52" y2="1006.47" stroke="#e8c300" stroke-width="1.8"/>
<line x1="494.55" y1="995.22" x2="494.55" y2="1008.08" stroke="#e8c300" stroke-width="1.8"/>
<line x1="502.11" y1="987.99" x2="502.11" y2="1004.87" stroke="#e8c300" stroke-width="1.8"/>
<line x1="524.77" y1="953.44" x2="524.77" y2="987.19" stroke="#e8c300" stroke-width="1.8"/>
<line x1="562.22" y1="838.52" x2="562.22" y2="881.91" stroke="#e8c300" stroke-width="1.8"/>
<line x1="637.27" y1="791.11" x2="637.27" y2="813.61" stroke="#e8c300" stroke-width="1.8"/>
<circle cx="486.52" cy="1000.04" r="6.1" fill="#e8c300"/>
<circle cx="494.55" cy="1003.26" r="6.1" fill="#e8c300"/>
<circle cx="502.11" cy="1000.04" r="6.1" fill="#e8c300"/>
<circle cx="524.77" cy="974.33" r="6.1" fill="#e8c300"/>
<circle cx="562.22" cy="858.93" r="6.1" fill="#e8c300"/>
<circle cx="637.27" cy="801.55" r="6.1" fill="#e8c300"/>
<line x1="486.52" y1="969.51" x2="486.52" y2="995.22" stroke="#7e8583" stroke-width="1.8"/>
<line x1="494.55" y1="963.88" x2="494.55" y2="992.01" stroke="#7e8583" stroke-width="1.8"/>
<line x1="502.11" y1="941.38" x2="502.11" y2="975.94" stroke="#7e8583" stroke-width="1.8"/>
<line x1="524.77" y1="910.04" x2="524.77" y2="949.42" stroke="#7e8583" stroke-width="1.8"/>
<line x1="562.22" y1="795.93" x2="562.22" y2="813.61" stroke="#7e8583" stroke-width="1.8"/>
<line x1="637.27" y1="787.89" x2="637.27" y2="800.75" stroke="#7e8583" stroke-width="1.8"/>
<circle cx="486.52" cy="983.97" r="6.1" fill="#7e8583"/>
<circle cx="494.55" cy="979.47" r="6.1" fill="#7e8583"/>
<circle cx="502.11" cy="959.86" r="6.1" fill="#7e8583"/>
<circle cx="524.77" cy="930.93" r="6.1" fill="#7e8583"/>
<circle cx="562.22" cy="802.04" r="6.1" fill="#7e8583"/>
<circle cx="637.27" cy="794.32" r="6.1" fill="#7e8583"/>
<line x1="472.54" y1="775.84" x2="472.54" y2="1023.54" stroke="#000" stroke-width="2.1"/>
<line x1="471.54" y1="1022.54" x2="719.08" y2="1022.54" stroke="#000" stroke-width="2.1"/>
<line x1="465.54" y1="1007.28" x2="472.54" y2="1007.28" stroke="#333" stroke-width="1.8"/>
<text x="459.04" y="1014.58" font-size="20.2" text-anchor="end" fill="#4d4d4d" stroke="#4d4d4d" stroke-width="0.5">0.0</text>
<line x1="465.54" y1="899.11" x2="472.54" y2="899.11" stroke="#333" stroke-width="1.8"/>
<text x="459.04" y="906.41" font-size="20.2" text-anchor="end" fill="#4d4d4d" stroke="#4d4d4d" stroke-width="0.5">0.5</text>
<line x1="465.54" y1="791.11" x2="472.54" y2="791.11" stroke="#333" stroke-width="1.8"/>
<text x="459.04" y="798.41" font-size="20.2" text-anchor="end" fill="#4d4d4d" stroke="#4d4d4d" stroke-width="0.5">1.0</text>
<line x1="483.79" y1="1022.54" x2="483.79" y2="1029.54" stroke="#333" stroke-width="1.8"/>
<text x="483.79" y="1050.34" font-size="20.5" text-anchor="middle" fill="#4d4d4d" stroke="#4d4d4d" stroke-width="0.5">0</text>
<line x1="531.52" y1="1022.54" x2="531.52" y2="1029.54" stroke="#333" stroke-width="1.8"/>
<text x="531.52" y="1050.34" font-size="20.5" text-anchor="middle" fill="#4d4d4d" stroke="#4d4d4d" stroke-width="0.5">10</text>
<line x1="579.41" y1="1022.54" x2="579.41" y2="1029.54" stroke="#333" stroke-width="1.8"/>
<text x="579.41" y="1050.34" font-size="20.5" text-anchor="middle" fill="#4d4d4d" stroke="#4d4d4d" stroke-width="0.5">20</text>
<line x1="627.63" y1="1022.54" x2="627.63" y2="1029.54" stroke="#333" stroke-width="1.8"/>
<text x="627.63" y="1050.34" font-size="20.5" text-anchor="middle" fill="#4d4d4d" stroke="#4d4d4d" stroke-width="0.5">30</text>
<line x1="675.36" y1="1022.54" x2="675.36" y2="1029.54" stroke="#333" stroke-width="1.8"/>
<text x="675.36" y="1050.34" font-size="20.5" text-anchor="middle" fill="#4d4d4d" stroke="#4d4d4d" stroke-width="0.5">40</text>
<text x="539.86" y="970.31" font-size="19.8" stroke="#000" stroke-width="0.5">3.00 to 7.90</text>
<line x1="788.54" y1="899.11" x2="1035.08" y2="899.11" stroke="#8e8e8e" stroke-width="1.5" stroke-dasharray="7.5 7.5"/>
<g opacity="0.93">
<path d="M801.72,998.44 L802.18,998.32 L802.76,998.24 L803.42,998.16 L804.17,998.08 L804.98,997.98 L805.85,997.83 L806.77,997.64 L807.72,997.37 L808.7,997.01 L809.69,996.54 L810.99,995.95 L812.61,995.22 L814.27,994.37 L816.04,993.42 L817.89,992.37 L819.8,991.23 L821.75,990.01 L823.72,988.69 L825.69,987.3 L827.63,985.82 L829.54,984.26 L831.38,982.63 L833.14,980.92 L834.79,979.15 L836.34,977.28 L837.82,975.28 L839.24,973.19 L840.6,971 L841.92,968.73 L843.21,966.39 L844.47,964.01 L845.73,961.59 L846.99,959.15 L848.25,956.7 L849.54,954.25 L850.86,951.83 L852.21,949.37 L853.59,946.83 L854.98,944.22 L856.38,941.58 L857.78,938.91 L859.18,936.24 L860.55,933.59 L861.91,930.97 L863.23,928.41 L864.51,925.93 L865.75,923.55 L866.93,921.29 L868.05,919.15 L869.11,917.12 L870.12,915.17 L871.09,913.3 L872.02,911.49 L872.94,909.72 L873.84,907.98 L874.74,906.24 L875.65,904.51 L876.57,902.75 L877.52,900.96 L878.5,899.11 L879.5,897.25 L880.5,895.42 L881.49,893.59 L882.48,891.78 L883.48,889.96 L884.49,888.12 L885.52,886.26 L886.56,884.37 L887.63,882.44 L888.73,880.45 L889.87,878.41 L891.04,876.29 L892.26,874.07 L893.51,871.75 L894.81,869.34 L896.14,866.86 L897.49,864.34 L898.86,861.8 L900.24,859.27 L901.62,856.75 L903.01,854.28 L904.39,851.88 L905.76,849.57 L907.11,847.36 L908.45,845.24 L909.79,843.16 L911.13,841.13 L912.47,839.15 L913.81,837.2 L915.15,835.31 L916.49,833.45 L917.83,831.65 L919.17,829.88 L920.51,828.16 L921.84,826.49 L923.18,824.86 L924.5,823.27 L925.77,821.71 L927.01,820.18 L928.24,818.7 L929.47,817.26 L930.72,815.87 L931.99,814.53 L933.3,813.25 L934.67,812.03 L936.11,810.88 L937.64,809.8 L939.26,808.79 L940.98,807.86 L942.81,807.01 L944.72,806.24 L946.7,805.54 L948.73,804.9 L950.81,804.32 L952.91,803.78 L955.03,803.28 L957.15,802.82 L959.25,802.38 L961.33,801.96 L963.36,801.55 L965.35,801.18 L967.3,800.86 L969.22,800.58 L971.13,800.33 L973.04,800.13 L974.97,799.95 L976.91,799.79 L978.9,799.65 L980.94,799.52 L983.04,799.4 L985.21,799.27 L987.47,799.14 L989.93,799.02 L992.64,798.91 L995.53,798.81 L998.54,798.73 L1001.6,798.65 L1004.65,798.59 L1007.61,798.54 L1010.42,798.49 L1013.01,798.45 L1015.32,798.41 L1017.27,798.37 L1018.81,798.34 L1024.31,798.34 L1024.01,798.45 L1021.42,798.49 L1018.61,798.54 L1015.65,798.59 L1012.6,798.65 L1009.54,798.73 L1006.53,798.81 L1003.64,798.91 L1000.93,799.02 L998.47,799.14 L996.21,799.27 L994.04,799.4 L991.94,799.52 L989.9,799.65 L987.91,799.79 L985.97,799.95 L984.04,800.13 L982.13,800.33 L980.22,800.58 L978.3,800.86 L976.35,801.18 L974.36,801.55 L972.33,801.96 L970.25,802.38 L968.15,802.82 L966.03,803.28 L963.91,803.78 L961.81,804.32 L959.73,804.9 L957.7,805.54 L955.72,806.24 L953.81,807.01 L951.98,807.86 L950.26,808.79 L948.64,809.8 L947.11,810.88 L945.67,812.03 L944.3,813.25 L942.99,814.53 L941.72,815.87 L940.47,817.26 L939.24,818.7 L938.01,820.18 L936.77,821.71 L935.5,823.27 L934.18,824.86 L932.84,826.49 L931.51,828.16 L930.17,829.88 L928.83,831.65 L927.49,833.45 L926.15,835.31 L924.81,837.2 L923.47,839.15 L922.13,841.13 L920.79,843.16 L919.45,845.24 L918.11,847.36 L916.76,849.57 L915.39,851.88 L914.01,854.28 L912.62,856.75 L911.24,859.27 L909.86,861.8 L908.49,864.34 L907.14,866.86 L905.81,869.34 L904.51,871.75 L903.26,874.07 L902.04,876.29 L900.87,878.41 L899.73,880.45 L898.63,882.44 L897.56,884.37 L896.52,886.26 L895.49,888.12 L894.48,889.96 L893.48,891.78 L892.49,893.59 L891.5,895.42 L890.5,897.25 L889.5,899.11 L888.52,900.96 L887.57,902.75 L886.65,904.51 L885.74,906.24 L884.84,907.98 L883.94,909.72 L883.02,911.49 L882.09,913.3 L881.12,915.17 L880.11,917.12 L879.05,919.15 L877.93,921.29 L876.75,923.55 L875.51,925.93 L874.23,928.41 L872.91,930.97 L871.55,933.59 L870.18,936.24 L868.78,938.91 L867.38,941.58 L865.98,944.22 L864.59,946.83 L863.21,949.37 L861.86,951.83 L860.54,954.25 L859.25,956.7 L857.99,959.15 L856.73,961.59 L855.47,964.01 L854.21,966.39 L852.92,968.73 L851.6,971 L850.24,973.19 L848.82,975.28 L847.34,977.28 L845.79,979.15 L844.14,980.92 L842.38,982.63 L840.54,984.26 L838.63,985.82 L836.69,987.3 L834.72,988.69 L832.75,990.01 L830.8,991.23 L828.89,992.37 L827.04,993.42 L825.27,994.37 L823.61,995.22 L821.99,995.95 L820.01,996.54 L817.74,997.01 L815.5,997.37 L813.31,997.64 L811.2,997.83 L809.2,997.98 L807.34,998.08 L805.63,998.16 L804.11,998.24 L802.79,998.32 L801.72,998.44Z" fill="#c1c3c4"/>
<path d="M801.72,998.44C804.45,997.9 811.68,998.44 818.11,995.22C824.54,992.01 833.91,986.38 840.29,979.15C846.66,971.92 851,961.47 856.36,951.83C861.72,942.18 867.82,930.08 872.43,921.29C877.04,912.51 879.99,906.61 884,899.11C888.02,891.61 891.77,884.91 896.54,876.29C901.31,867.66 907.25,855.93 912.61,847.36C917.97,838.79 923.33,831.29 928.68,824.86C934.04,818.43 938.06,812.67 944.76,808.79C951.45,804.9 960.83,803.16 968.86,801.55C976.9,799.95 983.73,799.68 992.97,799.14C1002.21,798.61 1019.09,798.47 1024.31,798.34" fill="none" stroke="#c1c3c4" stroke-width="6.5"/>
</g>
<g opacity="0.93">
<path d="M800.91,951.83 L801.12,950.82 L801.38,949.55 L801.69,948.07 L802.03,946.41 L802.41,944.6 L802.8,942.69 L803.22,940.7 L803.64,938.67 L804.07,936.65 L804.49,934.66 L804.91,932.74 L805.3,930.93 L805.69,929.19 L806.09,927.45 L806.49,925.71 L806.89,923.97 L807.3,922.23 L807.71,920.49 L808.12,918.75 L808.54,917.01 L808.95,915.26 L809.36,913.52 L810.01,911.78 L810.68,910.04 L811.35,908.29 L812.02,906.54 L812.69,904.78 L813.36,903.02 L814.03,901.25 L814.7,899.49 L815.37,897.74 L816.04,895.99 L816.71,894.26 L817.38,892.54 L818.05,890.83 L818.72,889.15 L819.39,887.47 L820.06,885.8 L820.73,884.14 L821.39,882.48 L822.06,880.83 L822.73,879.2 L823.4,877.59 L824.07,875.99 L824.74,874.42 L825.41,872.87 L826.08,871.35 L826.75,869.86 L827.4,868.43 L828,867.09 L828.57,865.81 L829.13,864.56 L829.69,863.34 L830.27,862.13 L830.87,860.89 L831.51,859.62 L832.21,858.3 L832.98,856.9 L833.84,855.4 L834.79,853.79 L835.85,852.04 L837,850.14 L838.24,848.14 L839.55,846.05 L840.91,843.91 L842.32,841.73 L843.76,839.56 L845.21,837.42 L846.65,835.33 L848.09,833.33 L849.5,831.43 L850.86,829.68 L852.2,828.04 L853.54,826.45 L854.88,824.93 L856.22,823.46 L857.56,822.05 L858.9,820.69 L860.24,819.39 L861.57,818.13 L862.91,816.93 L864.25,815.78 L865.59,814.67 L866.93,813.61 L868.25,812.61 L869.52,811.68 L870.76,810.82 L871.99,810.01 L873.22,809.25 L874.47,808.54 L875.74,807.86 L877.05,807.21 L878.42,806.58 L879.86,805.97 L881.38,805.37 L883,804.77 L884.73,804.18 L886.56,803.6 L888.47,803.04 L890.44,802.51 L892.48,801.99 L894.56,801.5 L896.66,801.04 L898.78,800.6 L900.9,800.19 L903,799.81 L905.08,799.46 L907.11,799.14 L909.1,798.87 L911.06,798.63 L913.01,798.44 L914.94,798.28 L916.87,798.15 L918.81,798.04 L920.78,797.95 L922.77,797.86 L924.8,797.79 L926.88,797.71 L929.01,797.63 L931.22,797.54 L933.6,797.44 L936.19,797.35 L938.95,797.26 L941.82,797.18 L944.72,797.1 L947.59,797.03 L950.39,796.97 L953.04,796.91 L955.48,796.86 L957.65,796.81 L959.5,796.77 L960.95,796.73 L966.45,796.73 L964.04,796.91 L961.39,796.97 L958.59,797.03 L955.72,797.1 L952.82,797.18 L949.95,797.26 L947.19,797.35 L944.6,797.44 L942.22,797.54 L940.01,797.63 L937.88,797.71 L935.8,797.79 L933.77,797.86 L931.78,797.95 L929.81,798.04 L927.87,798.15 L925.94,798.28 L924.01,798.44 L922.06,798.63 L920.1,798.87 L918.11,799.14 L916.08,799.46 L914,799.81 L911.9,800.19 L909.78,800.6 L907.66,801.04 L905.56,801.5 L903.48,801.99 L901.44,802.51 L899.47,803.04 L897.56,803.6 L895.73,804.18 L894,804.77 L892.38,805.37 L890.86,805.97 L889.42,806.58 L888.05,807.21 L886.74,807.86 L885.47,808.54 L884.22,809.25 L882.99,810.01 L881.76,810.82 L880.52,811.68 L879.25,812.61 L877.93,813.61 L876.59,814.67 L875.25,815.78 L873.91,816.93 L872.57,818.13 L871.24,819.39 L869.9,820.69 L868.56,822.05 L867.22,823.46 L865.88,824.93 L864.54,826.45 L863.2,828.04 L861.86,829.68 L860.5,831.43 L859.09,833.33 L857.65,835.33 L856.21,837.42 L854.76,839.56 L853.32,841.73 L851.91,843.91 L850.55,846.05 L849.24,848.14 L848,850.14 L846.85,852.04 L845.79,853.79 L844.84,855.4 L843.98,856.9 L843.21,858.3 L842.51,859.62 L841.87,860.89 L841.27,862.13 L840.69,863.34 L840.13,864.56 L839.57,865.81 L839,867.09 L838.4,868.43 L837.75,869.86 L837.08,871.35 L836.41,872.87 L835.74,874.42 L835.07,875.99 L834.4,877.59 L833.73,879.2 L833.06,880.83 L832.39,882.48 L831.73,884.14 L831.06,885.8 L830.39,887.47 L829.72,889.15 L829.05,890.83 L828.38,892.54 L827.71,894.26 L827.04,895.99 L826.37,897.74 L825.7,899.49 L825.03,901.25 L824.36,903.02 L823.69,904.78 L823.02,906.54 L822.35,908.29 L821.68,910.04 L821.01,911.78 L820.3,913.52 L819.35,915.26 L818.41,917.01 L817.46,918.75 L816.51,920.49 L815.57,922.23 L814.63,923.97 L813.7,925.71 L812.79,927.45 L811.88,929.19 L810.99,930.93 L810.07,932.74 L809.12,934.66 L808.15,936.65 L807.17,938.67 L806.2,940.7 L805.25,942.69 L804.34,944.6 L803.48,946.41 L802.7,948.07 L801.99,949.55 L801.39,950.82 L800.91,951.83Z" fill="#f2db78"/>
<path d="M800.91,951.83C802.12,948.35 805.6,937.9 808.14,930.93C810.69,923.97 813.5,917.01 816.18,910.04C818.86,903.08 821.54,895.84 824.22,889.15C826.89,882.45 829.57,875.75 832.25,869.86C834.93,863.97 836.27,860.49 840.29,853.79C844.31,847.09 851,836.38 856.36,829.68C861.72,822.98 867.07,817.76 872.43,813.61C877.79,809.46 881.81,807.18 888.5,804.77C895.2,802.36 904.58,800.35 912.61,799.14C920.65,797.94 927.75,797.94 936.72,797.54C945.69,797.14 961.5,796.87 966.45,796.73" fill="none" stroke="#f2db78" stroke-width="6.5"/>
</g>
<line x1="803" y1="992.01" x2="803" y2="1006.47" stroke="#7e8583" stroke-width="1.8"/>
<line x1="810.55" y1="996.83" x2="810.55" y2="1008.08" stroke="#7e8583" stroke-width="1.8"/>
<line x1="818.59" y1="992.01" x2="818.59" y2="1006.47" stroke="#7e8583" stroke-width="1.8"/>
<line x1="841.09" y1="955.04" x2="841.09" y2="987.99" stroke="#7e8583" stroke-width="1.8"/>
<line x1="878.22" y1="839" x2="878.22" y2="881.91" stroke="#7e8583" stroke-width="1.8"/>
<line x1="953.27" y1="791.11" x2="953.27" y2="813.61" stroke="#7e8583" stroke-width="1.8"/>
<circle cx="803" cy="999.72" r="6.1" fill="#7e8583"/>
<circle cx="810.55" cy="1004.06" r="6.1" fill="#7e8583"/>
<circle cx="818.59" cy="1000.04" r="6.1" fill="#7e8583"/>
<circle cx="841.09" cy="974.01" r="6.1" fill="#7e8583"/>
<circle cx="878.22" cy="858.93" r="6.1" fill="#7e8583"/>
<circle cx="953.27" cy="801.55" r="6.1" fill="#7e8583"/>
<line x1="803.32" y1="942.18" x2="803.32" y2="992.01" stroke="#e8c300" stroke-width="1.8"/>
<line x1="810.55" y1="896.38" x2="810.55" y2="957.45" stroke="#e8c300" stroke-width="1.8"/>
<line x1="818.59" y1="940.58" x2="818.59" y2="991.2" stroke="#e8c300" stroke-width="1.8"/>
<line x1="841.09" y1="871.15" x2="841.09" y2="931.74" stroke="#e8c300" stroke-width="1.8"/>
<line x1="878.22" y1="789.5" x2="878.22" y2="811.2" stroke="#e8c300" stroke-width="1.8"/>
<line x1="953.27" y1="789.5" x2="953.27" y2="803.97" stroke="#e8c300" stroke-width="1.8"/>
<circle cx="803.32" cy="969.19" r="6.1" fill="#e8c300"/>
<circle cx="810.55" cy="929.01" r="6.1" fill="#e8c300"/>
<circle cx="818.59" cy="967.9" r="6.1" fill="#e8c300"/>
<circle cx="841.09" cy="901.2" r="6.1" fill="#e8c300"/>
<circle cx="878.22" cy="795.13" r="6.1" fill="#e8c300"/>
<circle cx="953.27" cy="795.61" r="6.1" fill="#e8c300"/>
<line x1="788.54" y1="775.84" x2="788.54" y2="1023.54" stroke="#000" stroke-width="2.1"/>
<line x1="787.54" y1="1022.54" x2="1035.08" y2="1022.54" stroke="#000" stroke-width="2.1"/>
<line x1="781.54" y1="1007.28" x2="788.54" y2="1007.28" stroke="#333" stroke-width="1.8"/>
<text x="775.04" y="1014.58" font-size="20.2" text-anchor="end" fill="#4d4d4d" stroke="#4d4d4d" stroke-width="0.5">0.0</text>
<line x1="781.54" y1="899.11" x2="788.54" y2="899.11" stroke="#333" stroke-width="1.8"/>
<text x="775.04" y="906.41" font-size="20.2" text-anchor="end" fill="#4d4d4d" stroke="#4d4d4d" stroke-width="0.5">0.5</text>
<line x1="781.54" y1="791.11" x2="788.54" y2="791.11" stroke="#333" stroke-width="1.8"/>
<text x="775.04" y="798.41" font-size="20.2" text-anchor="end" fill="#4d4d4d" stroke="#4d4d4d" stroke-width="0.5">1.0</text>
<line x1="799.79" y1="1022.54" x2="799.79" y2="1029.54" stroke="#333" stroke-width="1.8"/>
<text x="799.79" y="1050.34" font-size="20.5" text-anchor="middle" fill="#4d4d4d" stroke="#4d4d4d" stroke-width="0.5">0</text>
<line x1="847.52" y1="1022.54" x2="847.52" y2="1029.54" stroke="#333" stroke-width="1.8"/>
<text x="847.52" y="1050.34" font-size="20.5" text-anchor="middle" fill="#4d4d4d" stroke="#4d4d4d" stroke-width="0.5">10</text>
<line x1="895.41" y1="1022.54" x2="895.41" y2="1029.54" stroke="#333" stroke-width="1.8"/>
<text x="895.41" y="1050.34" font-size="20.5" text-anchor="middle" fill="#4d4d4d" stroke="#4d4d4d" stroke-width="0.5">20</text>
<line x1="943.63" y1="1022.54" x2="943.63" y2="1029.54" stroke="#333" stroke-width="1.8"/>
<text x="943.63" y="1050.34" font-size="20.5" text-anchor="middle" fill="#4d4d4d" stroke="#4d4d4d" stroke-width="0.5">30</text>
<line x1="991.36" y1="1022.54" x2="991.36" y2="1029.54" stroke="#333" stroke-width="1.8"/>
<text x="991.36" y="1050.34" font-size="20.5" text-anchor="middle" fill="#4d4d4d" stroke="#4d4d4d" stroke-width="0.5">40</text>
<text x="855.86" y="970.31" font-size="19.8" stroke="#000" stroke-width="0.5">7.90 to 1.90</text>
<line x1="1168.54" y1="897.11" x2="1415.08" y2="897.11" stroke="#8e8e8e" stroke-width="1.5" stroke-dasharray="7.5 7.5"/>
<g opacity="0.93">
<path d="M1180.11,925.72 L1180.26,924.14 L1180.43,922.13 L1180.62,919.76 L1180.83,917.09 L1181.07,914.2 L1181.33,911.15 L1181.62,908.03 L1181.94,904.89 L1182.29,901.8 L1182.67,898.84 L1183.09,896.08 L1183.55,893.58 L1184.05,891.29 L1184.59,889.09 L1185.16,886.98 L1185.76,884.94 L1186.4,882.96 L1187.07,881.02 L1187.76,879.11 L1188.48,877.21 L1189.23,875.31 L1190,873.39 L1191.05,871.45 L1192.18,869.47 L1193.35,867.43 L1194.58,865.36 L1195.86,863.25 L1197.18,861.13 L1198.53,859.02 L1199.91,856.91 L1201.31,854.84 L1202.72,852.8 L1204.12,850.82 L1205.52,848.91 L1206.9,847.09 L1208.25,845.36 L1209.59,843.72 L1210.93,842.16 L1212.27,840.66 L1213.61,839.23 L1214.95,837.85 L1216.29,836.52 L1217.63,835.24 L1218.97,833.99 L1220.31,832.78 L1221.65,831.59 L1222.98,830.43 L1224.32,829.29 L1225.64,828.18 L1226.91,827.12 L1228.15,826.12 L1229.38,825.15 L1230.61,824.22 L1231.86,823.31 L1233.13,822.42 L1234.44,821.55 L1235.81,820.68 L1237.25,819.81 L1238.78,818.93 L1240.4,818.04 L1242.1,817.13 L1243.86,816.22 L1245.67,815.31 L1247.54,814.41 L1249.46,813.51 L1251.45,812.61 L1253.48,811.73 L1255.58,810.86 L1257.72,810.01 L1259.93,809.18 L1262.19,808.37 L1264.5,807.59 L1266.9,806.82 L1269.4,806.07 L1271.97,805.32 L1274.62,804.58 L1277.33,803.87 L1280.07,803.17 L1282.85,802.5 L1285.64,801.85 L1288.42,801.22 L1291.2,800.63 L1293.94,800.08 L1296.65,799.55 L1299.28,799.07 L1301.84,798.62 L1304.35,798.21 L1306.83,797.83 L1309.31,797.47 L1311.82,797.14 L1314.37,796.84 L1317.01,796.55 L1319.74,796.28 L1322.6,796.02 L1325.61,795.77 L1328.79,795.54 L1332.32,795.31 L1336.26,795.11 L1340.52,794.93 L1344.98,794.76 L1349.55,794.61 L1354.11,794.48 L1358.55,794.36 L1362.78,794.26 L1366.69,794.16 L1370.16,794.08 L1373.1,794 L1375.4,793.93 L1379.4,793.93 L1378.16,794.08 L1374.69,794.16 L1370.78,794.26 L1366.55,794.36 L1362.11,794.48 L1357.55,794.61 L1352.98,794.76 L1348.52,794.93 L1344.26,795.11 L1340.32,795.31 L1336.79,795.54 L1333.61,795.77 L1330.6,796.02 L1327.74,796.28 L1325.01,796.55 L1322.37,796.84 L1319.82,797.14 L1317.31,797.47 L1314.83,797.83 L1312.35,798.21 L1309.84,798.62 L1307.28,799.07 L1304.65,799.55 L1301.94,800.08 L1299.2,800.63 L1296.42,801.22 L1293.64,801.85 L1290.85,802.5 L1288.07,803.17 L1285.33,803.87 L1282.62,804.58 L1279.97,805.32 L1277.4,806.07 L1274.9,806.82 L1272.5,807.59 L1270.19,808.37 L1267.93,809.18 L1265.72,810.01 L1263.58,810.86 L1261.48,811.73 L1259.45,812.61 L1257.46,813.51 L1255.54,814.41 L1253.67,815.31 L1251.86,816.22 L1250.1,817.13 L1248.4,818.04 L1246.78,818.93 L1245.25,819.81 L1243.81,820.68 L1242.44,821.55 L1241.13,822.42 L1239.86,823.31 L1238.61,824.22 L1237.38,825.15 L1236.15,826.12 L1234.91,827.12 L1233.64,828.18 L1232.32,829.29 L1230.98,830.43 L1229.65,831.59 L1228.31,832.78 L1226.97,833.99 L1225.63,835.24 L1224.29,836.52 L1222.95,837.85 L1221.61,839.23 L1220.27,840.66 L1218.93,842.16 L1217.59,843.72 L1216.25,845.36 L1214.9,847.09 L1213.52,848.91 L1212.12,850.82 L1210.72,852.8 L1209.31,854.84 L1207.91,856.91 L1206.53,859.02 L1205.18,861.13 L1203.86,863.25 L1202.58,865.36 L1201.35,867.43 L1200.18,869.47 L1199.05,871.45 L1197.91,873.39 L1196.53,875.31 L1195.19,877.21 L1193.89,879.11 L1192.64,881.02 L1191.43,882.96 L1190.29,884.94 L1189.2,886.98 L1188.17,889.09 L1187.2,891.29 L1186.31,893.58 L1185.48,896.08 L1184.72,898.84 L1184.03,901.8 L1183.4,904.89 L1182.82,908.03 L1182.3,911.15 L1181.83,914.2 L1181.41,917.09 L1181.03,919.76 L1180.69,922.13 L1180.38,924.14 L1180.11,925.72Z" fill="#c1c3c4"/>
<path d="M1180.11,925.72C1180.91,920.36 1182.25,902.95 1184.93,893.58C1187.61,884.2 1191.63,877.5 1196.18,869.47C1200.73,861.43 1206.89,852.06 1212.25,845.36C1217.61,838.66 1222.97,833.84 1228.32,829.29C1233.68,824.73 1237.7,821.65 1244.4,818.04C1251.09,814.42 1259.13,810.67 1268.5,807.59C1277.88,804.51 1289.93,801.56 1300.65,799.55C1311.36,797.55 1319.67,796.47 1332.79,795.54C1345.92,794.6 1371.63,794.2 1379.4,793.93" fill="none" stroke="#c1c3c4" stroke-width="8.5"/>
</g>
<g opacity="0.93">
<path d="M1180.11,965.9 L1180.37,965.15 L1180.67,964.24 L1181,963.2 L1181.38,962.03 L1181.8,960.75 L1182.26,959.37 L1182.76,957.91 L1183.3,956.38 L1183.87,954.79 L1184.49,953.16 L1185.15,951.5 L1185.85,949.83 L1186.6,948.1 L1187.43,946.28 L1188.31,944.37 L1189.25,942.39 L1190.27,940.35 L1191.68,938.28 L1193.11,936.17 L1194.56,934.05 L1196.01,931.94 L1197.44,929.83 L1198.85,927.75 L1200.22,925.72 L1201.56,923.7 L1202.89,921.66 L1204.23,919.62 L1205.57,917.56 L1206.91,915.51 L1208.25,913.47 L1209.59,911.43 L1210.93,909.41 L1212.27,907.41 L1213.61,905.44 L1214.95,903.51 L1216.29,901.61 L1217.63,899.75 L1218.97,897.93 L1220.31,896.12 L1221.65,894.35 L1222.98,892.6 L1224.32,890.86 L1225.66,889.15 L1227,887.44 L1228.34,885.75 L1229.68,884.07 L1231.02,882.39 L1232.36,880.72 L1233.68,879.05 L1234.98,877.41 L1236.27,875.78 L1237.54,874.17 L1238.81,872.57 L1240.09,870.97 L1241.39,869.39 L1242.72,867.8 L1244.07,866.22 L1245.47,864.63 L1246.92,863.03 L1248.43,861.43 L1249.98,859.82 L1251.56,858.22 L1253.17,856.61 L1254.8,855 L1256.47,853.4 L1258.18,851.79 L1259.92,850.18 L1261.71,848.57 L1263.54,846.97 L1265.42,845.36 L1267.34,843.75 L1269.33,842.15 L1271.36,840.52 L1273.45,838.88 L1275.59,837.21 L1277.78,835.54 L1280.01,833.87 L1282.28,832.2 L1284.6,830.55 L1286.95,828.93 L1289.33,827.34 L1291.74,825.79 L1294.18,824.3 L1296.65,822.86 L1299.16,821.46 L1301.73,820.09 L1304.35,818.75 L1307.01,817.44 L1309.7,816.16 L1312.42,814.92 L1315.15,813.72 L1317.9,812.56 L1320.64,811.45 L1323.38,810.38 L1326.1,809.36 L1328.79,808.39 L1331.45,807.48 L1334.07,806.63 L1336.66,805.82 L1339.24,805.06 L1341.82,804.35 L1344.41,803.67 L1347.03,803.04 L1349.69,802.44 L1352.39,801.88 L1355.16,801.34 L1358,800.84 L1360.94,800.36 L1364.09,799.91 L1367.54,799.51 L1371.19,799.14 L1374.98,798.81 L1378.82,798.51 L1382.63,798.25 L1386.33,798.01 L1389.84,797.8 L1393.07,797.61 L1395.94,797.44 L1398.39,797.28 L1400.31,797.14 L1404.31,797.14 L1403.94,797.44 L1401.07,797.61 L1397.84,797.8 L1394.33,798.01 L1390.63,798.25 L1386.82,798.51 L1382.98,798.81 L1379.19,799.14 L1375.54,799.51 L1372.09,799.91 L1368.94,800.36 L1366,800.84 L1363.16,801.34 L1360.39,801.88 L1357.69,802.44 L1355.03,803.04 L1352.41,803.67 L1349.82,804.35 L1347.24,805.06 L1344.66,805.82 L1342.07,806.63 L1339.45,807.48 L1336.79,808.39 L1334.1,809.36 L1331.38,810.38 L1328.64,811.45 L1325.9,812.56 L1323.15,813.72 L1320.42,814.92 L1317.7,816.16 L1315.01,817.44 L1312.35,818.75 L1309.73,820.09 L1307.16,821.46 L1304.65,822.86 L1302.18,824.3 L1299.74,825.79 L1297.33,827.34 L1294.95,828.93 L1292.6,830.55 L1290.28,832.2 L1288.01,833.87 L1285.78,835.54 L1283.59,837.21 L1281.45,838.88 L1279.36,840.52 L1277.33,842.15 L1275.34,843.75 L1273.42,845.36 L1271.54,846.97 L1269.71,848.57 L1267.92,850.18 L1266.18,851.79 L1264.47,853.4 L1262.8,855 L1261.17,856.61 L1259.56,858.22 L1257.98,859.82 L1256.43,861.43 L1254.92,863.03 L1253.47,864.63 L1252.07,866.22 L1250.72,867.8 L1249.39,869.39 L1248.09,870.97 L1246.81,872.57 L1245.54,874.17 L1244.27,875.78 L1242.98,877.41 L1241.68,879.05 L1240.36,880.72 L1239.02,882.39 L1237.68,884.07 L1236.34,885.75 L1235,887.44 L1233.66,889.15 L1232.32,890.86 L1230.98,892.6 L1229.65,894.35 L1228.31,896.12 L1226.97,897.93 L1225.63,899.75 L1224.29,901.61 L1222.95,903.51 L1221.61,905.44 L1220.27,907.41 L1218.93,909.41 L1217.59,911.43 L1216.25,913.47 L1214.91,915.51 L1213.57,917.56 L1212.23,919.62 L1210.89,921.66 L1209.56,923.7 L1208.22,925.72 L1206.85,927.75 L1205.44,929.83 L1204.01,931.94 L1202.56,934.05 L1201.11,936.17 L1199.68,938.28 L1198.27,940.35 L1196.56,942.39 L1194.88,944.37 L1193.29,946.28 L1191.8,948.1 L1190.44,949.83 L1189.18,951.5 L1188,953.16 L1186.89,954.79 L1185.85,956.38 L1184.88,957.91 L1183.98,959.37 L1183.16,960.75 L1182.4,962.03 L1181.72,963.2 L1181.11,964.24 L1180.57,965.15 L1180.11,965.9Z" fill="#76d0f3"/>
<path d="M1180.11,965.9C1181.45,963.22 1184.13,956.52 1188.14,949.83C1192.16,943.13 1198.86,933.76 1204.22,925.72C1209.57,917.68 1214.93,909.11 1220.29,901.61C1225.65,894.11 1231,887.42 1236.36,880.72C1241.72,874.02 1246.27,867.86 1252.43,861.43C1258.59,855 1265.29,848.57 1273.33,842.15C1281.36,835.72 1290.74,828.48 1300.65,822.86C1310.56,817.23 1322.08,812.14 1332.79,808.39C1343.51,804.64 1353.02,802.23 1364.94,800.36C1376.86,798.48 1397.75,797.68 1404.31,797.14" fill="none" stroke="#76d0f3" stroke-width="10.5"/>
</g>
<line x1="1183" y1="842.95" x2="1183" y2="881.52" stroke="#7e8583" stroke-width="1.8"/>
<line x1="1190.55" y1="849.38" x2="1190.55" y2="887.95" stroke="#7e8583" stroke-width="1.8"/>
<line x1="1205.82" y1="827.68" x2="1205.82" y2="863.04" stroke="#7e8583" stroke-width="1.8"/>
<line x1="1228.32" y1="845.36" x2="1228.32" y2="883.13" stroke="#7e8583" stroke-width="1.8"/>
<line x1="1273.33" y1="795.54" x2="1273.33" y2="814.82" stroke="#7e8583" stroke-width="1.8"/>
<line x1="1363.33" y1="792.32" x2="1363.33" y2="803.57" stroke="#7e8583" stroke-width="1.8"/>
<circle cx="1183" cy="861.43" r="6.1" fill="#7e8583"/>
<circle cx="1190.55" cy="867.86" r="6.1" fill="#7e8583"/>
<circle cx="1205.82" cy="843.75" r="6.1" fill="#7e8583"/>
<circle cx="1228.32" cy="863.36" r="6.1" fill="#7e8583"/>
<circle cx="1273.33" cy="801.64" r="6.1" fill="#7e8583"/>
<circle cx="1363.33" cy="797.14" r="6.1" fill="#7e8583"/>
<line x1="1183" y1="928.13" x2="1183" y2="964.29" stroke="#00b5f0" stroke-width="1.8"/>
<line x1="1190.55" y1="939.38" x2="1190.55" y2="971.53" stroke="#00b5f0" stroke-width="1.8"/>
<line x1="1205.82" y1="907.24" x2="1205.82" y2="943.4" stroke="#00b5f0" stroke-width="1.8"/>
<line x1="1228.32" y1="943.4" x2="1228.32" y2="973.94" stroke="#00b5f0" stroke-width="1.8"/>
<line x1="1273.33" y1="816.43" x2="1273.33" y2="844.56" stroke="#00b5f0" stroke-width="1.8"/>
<line x1="1363.33" y1="793.93" x2="1363.33" y2="815.63" stroke="#00b5f0" stroke-width="1.8"/>
<circle cx="1183" cy="945.01" r="6.1" fill="#00b5f0"/>
<circle cx="1190.55" cy="957.06" r="6.1" fill="#00b5f0"/>
<circle cx="1205.82" cy="925.4" r="6.1" fill="#00b5f0"/>
<circle cx="1228.32" cy="960.27" r="6.1" fill="#00b5f0"/>
<circle cx="1273.33" cy="828.48" r="6.1" fill="#00b5f0"/>
<circle cx="1363.33" cy="802.77" r="6.1" fill="#00b5f0"/>
<line x1="1168.54" y1="773.84" x2="1168.54" y2="1021.54" stroke="#000" stroke-width="2.1"/>
<line x1="1167.54" y1="1020.54" x2="1415.08" y2="1020.54" stroke="#000" stroke-width="2.1"/>
<line x1="1161.54" y1="1005.28" x2="1168.54" y2="1005.28" stroke="#333" stroke-width="1.8"/>
<text x="1155.04" y="1012.58" font-size="20.2" text-anchor="end" fill="#4d4d4d" stroke="#4d4d4d" stroke-width="0.5">0.0</text>
<line x1="1161.54" y1="897.11" x2="1168.54" y2="897.11" stroke="#333" stroke-width="1.8"/>
<text x="1155.04" y="904.41" font-size="20.2" text-anchor="end" fill="#4d4d4d" stroke="#4d4d4d" stroke-width="0.5">0.5</text>
<line x1="1161.54" y1="789.11" x2="1168.54" y2="789.11" stroke="#333" stroke-width="1.8"/>
<text x="1155.04" y="796.41" font-size="20.2" text-anchor="end" fill="#4d4d4d" stroke="#4d4d4d" stroke-width="0.5">1.0</text>
<line x1="1179.79" y1="1020.54" x2="1179.79" y2="1027.54" stroke="#333" stroke-width="1.8"/>
<text x="1179.79" y="1048.34" font-size="20.5" text-anchor="middle" fill="#4d4d4d" stroke="#4d4d4d" stroke-width="0.5">0</text>
<line x1="1237.16" y1="1020.54" x2="1237.16" y2="1027.54" stroke="#333" stroke-width="1.8"/>
<text x="1237.16" y="1048.34" font-size="20.5" text-anchor="middle" fill="#4d4d4d" stroke="#4d4d4d" stroke-width="0.5">10</text>
<line x1="1294.54" y1="1020.54" x2="1294.54" y2="1027.54" stroke="#333" stroke-width="1.8"/>
<text x="1294.54" y="1048.34" font-size="20.5" text-anchor="middle" fill="#4d4d4d" stroke="#4d4d4d" stroke-width="0.5">20</text>
<line x1="1352.08" y1="1020.54" x2="1352.08" y2="1027.54" stroke="#333" stroke-width="1.8"/>
<text x="1352.08" y="1048.34" font-size="20.5" text-anchor="middle" fill="#4d4d4d" stroke="#4d4d4d" stroke-width="0.5">30</text>
<line x1="1409.62" y1="1020.54" x2="1409.62" y2="1027.54" stroke="#333" stroke-width="1.8"/>
<text x="1409.62" y="1048.34" font-size="20.5" text-anchor="middle" fill="#4d4d4d" stroke="#4d4d4d" stroke-width="0.5">40</text>
<text x="1256.43" y="968.31" font-size="19.8" stroke="#000" stroke-width="0.5">0.90 to 3.00</text>
<text x="1291.81" y="1079.54" font-size="27.1" text-anchor="middle" stroke="#000" stroke-width="0.5">Lottery magnitude</text>
<text x="1100" y="897.19" font-size="27.2" text-anchor="middle" transform="rotate(-90 1100 897.19)" stroke="#000" stroke-width="0.5">P(Chose Lottery)</text>
<line x1="1484.54" y1="897.11" x2="1731.08" y2="897.11" stroke="#8e8e8e" stroke-width="1.5" stroke-dasharray="7.5 7.5"/>
<g opacity="0.93">
<path d="M1496.11,965.9 L1496.37,965.15 L1496.67,964.24 L1497,963.2 L1497.38,962.03 L1497.8,960.75 L1498.26,959.37 L1498.76,957.91 L1499.3,956.38 L1499.87,954.79 L1500.49,953.16 L1501.15,951.5 L1501.85,949.83 L1502.6,948.1 L1503.43,946.28 L1504.31,944.37 L1505.25,942.39 L1506.27,940.35 L1507.68,938.28 L1509.11,936.17 L1510.56,934.05 L1512.01,931.94 L1513.44,929.83 L1514.85,927.75 L1516.22,925.72 L1517.56,923.7 L1518.89,921.66 L1520.23,919.62 L1521.57,917.56 L1522.91,915.51 L1524.25,913.47 L1525.59,911.43 L1526.93,909.41 L1528.27,907.41 L1529.61,905.44 L1530.95,903.51 L1532.29,901.61 L1533.63,899.75 L1534.97,897.93 L1536.31,896.12 L1537.65,894.35 L1538.98,892.6 L1540.32,890.86 L1541.66,889.15 L1543,887.44 L1544.34,885.75 L1545.68,884.07 L1547.02,882.39 L1548.36,880.72 L1549.68,879.05 L1550.98,877.41 L1552.27,875.78 L1553.54,874.17 L1554.81,872.57 L1556.09,870.97 L1557.39,869.39 L1558.72,867.8 L1560.07,866.22 L1561.47,864.63 L1562.92,863.03 L1564.43,861.43 L1565.98,859.82 L1567.56,858.22 L1569.17,856.61 L1570.8,855 L1572.47,853.4 L1574.18,851.79 L1575.92,850.18 L1577.71,848.57 L1579.54,846.97 L1581.42,845.36 L1583.34,843.75 L1585.33,842.15 L1587.36,840.52 L1589.45,838.88 L1591.59,837.21 L1593.78,835.54 L1596.01,833.87 L1598.28,832.2 L1600.6,830.55 L1602.95,828.93 L1605.33,827.34 L1607.74,825.79 L1610.18,824.3 L1612.65,822.86 L1615.16,821.46 L1617.73,820.09 L1620.35,818.75 L1623.01,817.44 L1625.7,816.16 L1628.42,814.92 L1631.15,813.72 L1633.9,812.56 L1636.64,811.45 L1639.38,810.38 L1642.1,809.36 L1644.79,808.39 L1647.45,807.48 L1650.07,806.63 L1652.66,805.82 L1655.24,805.06 L1657.82,804.35 L1660.41,803.67 L1663.03,803.04 L1665.69,802.44 L1668.39,801.88 L1671.16,801.34 L1674,800.84 L1676.94,800.36 L1680.09,799.91 L1683.54,799.51 L1687.19,799.14 L1690.98,798.81 L1694.82,798.51 L1698.63,798.25 L1702.33,798.01 L1705.84,797.8 L1709.07,797.61 L1711.94,797.44 L1714.39,797.28 L1716.31,797.14 L1720.31,797.14 L1719.94,797.44 L1717.07,797.61 L1713.84,797.8 L1710.33,798.01 L1706.63,798.25 L1702.82,798.51 L1698.98,798.81 L1695.19,799.14 L1691.54,799.51 L1688.09,799.91 L1684.94,800.36 L1682,800.84 L1679.16,801.34 L1676.39,801.88 L1673.69,802.44 L1671.03,803.04 L1668.41,803.67 L1665.82,804.35 L1663.24,805.06 L1660.66,805.82 L1658.07,806.63 L1655.45,807.48 L1652.79,808.39 L1650.1,809.36 L1647.38,810.38 L1644.64,811.45 L1641.9,812.56 L1639.15,813.72 L1636.42,814.92 L1633.7,816.16 L1631.01,817.44 L1628.35,818.75 L1625.73,820.09 L1623.16,821.46 L1620.65,822.86 L1618.18,824.3 L1615.74,825.79 L1613.33,827.34 L1610.95,828.93 L1608.6,830.55 L1606.28,832.2 L1604.01,833.87 L1601.78,835.54 L1599.59,837.21 L1597.45,838.88 L1595.36,840.52 L1593.33,842.15 L1591.34,843.75 L1589.42,845.36 L1587.54,846.97 L1585.71,848.57 L1583.92,850.18 L1582.18,851.79 L1580.47,853.4 L1578.8,855 L1577.17,856.61 L1575.56,858.22 L1573.98,859.82 L1572.43,861.43 L1570.92,863.03 L1569.47,864.63 L1568.07,866.22 L1566.72,867.8 L1565.39,869.39 L1564.09,870.97 L1562.81,872.57 L1561.54,874.17 L1560.27,875.78 L1558.98,877.41 L1557.68,879.05 L1556.36,880.72 L1555.02,882.39 L1553.68,884.07 L1552.34,885.75 L1551,887.44 L1549.66,889.15 L1548.32,890.86 L1546.98,892.6 L1545.65,894.35 L1544.31,896.12 L1542.97,897.93 L1541.63,899.75 L1540.29,901.61 L1538.95,903.51 L1537.61,905.44 L1536.27,907.41 L1534.93,909.41 L1533.59,911.43 L1532.25,913.47 L1530.91,915.51 L1529.57,917.56 L1528.23,919.62 L1526.89,921.66 L1525.56,923.7 L1524.22,925.72 L1522.85,927.75 L1521.44,929.83 L1520.01,931.94 L1518.56,934.05 L1517.11,936.17 L1515.68,938.28 L1514.27,940.35 L1512.56,942.39 L1510.88,944.37 L1509.29,946.28 L1507.8,948.1 L1506.44,949.83 L1505.18,951.5 L1504,953.16 L1502.89,954.79 L1501.85,956.38 L1500.88,957.91 L1499.98,959.37 L1499.16,960.75 L1498.4,962.03 L1497.72,963.2 L1497.11,964.24 L1496.57,965.15 L1496.11,965.9Z" fill="#c1c3c4"/>
<path d="M1496.11,965.9C1497.45,963.22 1500.13,956.52 1504.14,949.83C1508.16,943.13 1514.86,933.76 1520.22,925.72C1525.57,917.68 1530.93,909.11 1536.29,901.61C1541.65,894.11 1547,887.42 1552.36,880.72C1557.72,874.02 1562.27,867.86 1568.43,861.43C1574.59,855 1581.29,848.57 1589.33,842.15C1597.36,835.72 1606.74,828.48 1616.65,822.86C1626.56,817.23 1638.08,812.14 1648.79,808.39C1659.51,804.64 1669.02,802.23 1680.94,800.36C1692.86,798.48 1713.75,797.68 1720.31,797.14" fill="none" stroke="#c1c3c4" stroke-width="10.5"/>
</g>
<g opacity="0.93">
<path d="M1496.11,925.72 L1496.26,924.14 L1496.43,922.13 L1496.62,919.76 L1496.83,917.09 L1497.07,914.2 L1497.33,911.15 L1497.62,908.03 L1497.94,904.89 L1498.29,901.8 L1498.67,898.84 L1499.09,896.08 L1499.55,893.58 L1500.05,891.29 L1500.59,889.09 L1501.16,886.98 L1501.76,884.94 L1502.4,882.96 L1503.07,881.02 L1503.76,879.11 L1504.48,877.21 L1505.23,875.31 L1506,873.39 L1507.05,871.45 L1508.18,869.47 L1509.35,867.43 L1510.58,865.36 L1511.86,863.25 L1513.18,861.13 L1514.53,859.02 L1515.91,856.91 L1517.31,854.84 L1518.72,852.8 L1520.12,850.82 L1521.52,848.91 L1522.9,847.09 L1524.25,845.36 L1525.59,843.72 L1526.93,842.16 L1528.27,840.66 L1529.61,839.23 L1530.95,837.85 L1532.29,836.52 L1533.63,835.24 L1534.97,833.99 L1536.31,832.78 L1537.65,831.59 L1538.98,830.43 L1540.32,829.29 L1541.64,828.18 L1542.91,827.12 L1544.15,826.12 L1545.38,825.15 L1546.61,824.22 L1547.86,823.31 L1549.13,822.42 L1550.44,821.55 L1551.81,820.68 L1553.25,819.81 L1554.78,818.93 L1556.4,818.04 L1558.1,817.13 L1559.86,816.22 L1561.67,815.31 L1563.54,814.41 L1565.46,813.51 L1567.45,812.61 L1569.48,811.73 L1571.58,810.86 L1573.72,810.01 L1575.93,809.18 L1578.19,808.37 L1580.5,807.59 L1582.9,806.82 L1585.4,806.07 L1587.97,805.32 L1590.62,804.58 L1593.33,803.87 L1596.07,803.17 L1598.85,802.5 L1601.64,801.85 L1604.42,801.22 L1607.2,800.63 L1609.94,800.08 L1612.65,799.55 L1615.28,799.07 L1617.84,798.62 L1620.35,798.21 L1622.83,797.83 L1625.31,797.47 L1627.82,797.14 L1630.37,796.84 L1633.01,796.55 L1635.74,796.28 L1638.6,796.02 L1641.61,795.77 L1644.79,795.54 L1648.32,795.31 L1652.26,795.11 L1656.52,794.93 L1660.98,794.76 L1665.55,794.61 L1670.11,794.48 L1674.55,794.36 L1678.78,794.26 L1682.69,794.16 L1686.16,794.08 L1689.1,794 L1691.4,793.93 L1695.4,793.93 L1694.16,794.08 L1690.69,794.16 L1686.78,794.26 L1682.55,794.36 L1678.11,794.48 L1673.55,794.61 L1668.98,794.76 L1664.52,794.93 L1660.26,795.11 L1656.32,795.31 L1652.79,795.54 L1649.61,795.77 L1646.6,796.02 L1643.74,796.28 L1641.01,796.55 L1638.37,796.84 L1635.82,797.14 L1633.31,797.47 L1630.83,797.83 L1628.35,798.21 L1625.84,798.62 L1623.28,799.07 L1620.65,799.55 L1617.94,800.08 L1615.2,800.63 L1612.42,801.22 L1609.64,801.85 L1606.85,802.5 L1604.07,803.17 L1601.33,803.87 L1598.62,804.58 L1595.97,805.32 L1593.4,806.07 L1590.9,806.82 L1588.5,807.59 L1586.19,808.37 L1583.93,809.18 L1581.72,810.01 L1579.58,810.86 L1577.48,811.73 L1575.45,812.61 L1573.46,813.51 L1571.54,814.41 L1569.67,815.31 L1567.86,816.22 L1566.1,817.13 L1564.4,818.04 L1562.78,818.93 L1561.25,819.81 L1559.81,820.68 L1558.44,821.55 L1557.13,822.42 L1555.86,823.31 L1554.61,824.22 L1553.38,825.15 L1552.15,826.12 L1550.91,827.12 L1549.64,828.18 L1548.32,829.29 L1546.98,830.43 L1545.65,831.59 L1544.31,832.78 L1542.97,833.99 L1541.63,835.24 L1540.29,836.52 L1538.95,837.85 L1537.61,839.23 L1536.27,840.66 L1534.93,842.16 L1533.59,843.72 L1532.25,845.36 L1530.9,847.09 L1529.52,848.91 L1528.12,850.82 L1526.72,852.8 L1525.31,854.84 L1523.91,856.91 L1522.53,859.02 L1521.18,861.13 L1519.86,863.25 L1518.58,865.36 L1517.35,867.43 L1516.18,869.47 L1515.05,871.45 L1513.91,873.39 L1512.53,875.31 L1511.19,877.21 L1509.89,879.11 L1508.64,881.02 L1507.43,882.96 L1506.29,884.94 L1505.2,886.98 L1504.17,889.09 L1503.2,891.29 L1502.31,893.58 L1501.48,896.08 L1500.72,898.84 L1500.03,901.8 L1499.4,904.89 L1498.82,908.03 L1498.3,911.15 L1497.83,914.2 L1497.41,917.09 L1497.03,919.76 L1496.69,922.13 L1496.38,924.14 L1496.11,925.72Z" fill="#f2db78"/>
<path d="M1496.11,925.72C1496.91,920.36 1498.25,902.95 1500.93,893.58C1503.61,884.2 1507.63,877.5 1512.18,869.47C1516.73,861.43 1522.89,852.06 1528.25,845.36C1533.61,838.66 1538.97,833.84 1544.32,829.29C1549.68,824.73 1553.7,821.65 1560.4,818.04C1567.09,814.42 1575.13,810.67 1584.5,807.59C1593.88,804.51 1605.93,801.56 1616.65,799.55C1627.36,797.55 1635.67,796.47 1648.79,795.54C1661.92,794.6 1687.63,794.2 1695.4,793.93" fill="none" stroke="#f2db78" stroke-width="8.5"/>
</g>
<line x1="1499" y1="928.13" x2="1499" y2="962.69" stroke="#7e8583" stroke-width="1.8"/>
<line x1="1506.55" y1="940.18" x2="1506.55" y2="971.53" stroke="#7e8583" stroke-width="1.8"/>
<line x1="1521.82" y1="907.24" x2="1521.82" y2="943.4" stroke="#7e8583" stroke-width="1.8"/>
<line x1="1544.32" y1="943.4" x2="1544.32" y2="973.94" stroke="#7e8583" stroke-width="1.8"/>
<line x1="1589.33" y1="816.43" x2="1589.33" y2="844.56" stroke="#7e8583" stroke-width="1.8"/>
<line x1="1679.33" y1="797.14" x2="1679.33" y2="815.63" stroke="#7e8583" stroke-width="1.8"/>
<circle cx="1499" cy="945.33" r="6.1" fill="#7e8583"/>
<circle cx="1506.55" cy="957.06" r="6.1" fill="#7e8583"/>
<circle cx="1521.82" cy="925.4" r="6.1" fill="#7e8583"/>
<circle cx="1544.32" cy="960.27" r="6.1" fill="#7e8583"/>
<circle cx="1589.33" cy="828.48" r="6.1" fill="#7e8583"/>
<circle cx="1679.33" cy="803.57" r="6.1" fill="#7e8583"/>
<line x1="1499.32" y1="828.48" x2="1499.32" y2="863.04" stroke="#e8c300" stroke-width="1.8"/>
<line x1="1506.55" y1="883.93" x2="1506.55" y2="923.31" stroke="#e8c300" stroke-width="1.8"/>
<line x1="1521.82" y1="825.75" x2="1521.82" y2="859.82" stroke="#e8c300" stroke-width="1.8"/>
<line x1="1544.32" y1="864.65" x2="1544.32" y2="904.02" stroke="#e8c300" stroke-width="1.8"/>
<line x1="1589.33" y1="789.11" x2="1589.33" y2="806.79" stroke="#e8c300" stroke-width="1.8"/>
<line x1="1679.33" y1="785.89" x2="1679.33" y2="797.14" stroke="#e8c300" stroke-width="1.8"/>
<circle cx="1499.32" cy="844.07" r="6.1" fill="#e8c300"/>
<circle cx="1506.55" cy="903.22" r="6.1" fill="#e8c300"/>
<circle cx="1521.82" cy="841.34" r="6.1" fill="#e8c300"/>
<circle cx="1544.32" cy="883.93" r="6.1" fill="#e8c300"/>
<circle cx="1589.33" cy="795.54" r="6.1" fill="#e8c300"/>
<circle cx="1679.33" cy="790.72" r="6.1" fill="#e8c300"/>
<line x1="1484.54" y1="773.84" x2="1484.54" y2="1021.54" stroke="#000" stroke-width="2.1"/>
<line x1="1483.54" y1="1020.54" x2="1731.08" y2="1020.54" stroke="#000" stroke-width="2.1"/>
<line x1="1477.54" y1="1005.28" x2="1484.54" y2="1005.28" stroke="#333" stroke-width="1.8"/>
<text x="1471.04" y="1012.58" font-size="20.2" text-anchor="end" fill="#4d4d4d" stroke="#4d4d4d" stroke-width="0.5">0.0</text>
<line x1="1477.54" y1="897.11" x2="1484.54" y2="897.11" stroke="#333" stroke-width="1.8"/>
<text x="1471.04" y="904.41" font-size="20.2" text-anchor="end" fill="#4d4d4d" stroke="#4d4d4d" stroke-width="0.5">0.5</text>
<line x1="1477.54" y1="789.11" x2="1484.54" y2="789.11" stroke="#333" stroke-width="1.8"/>
<text x="1471.04" y="796.41" font-size="20.2" text-anchor="end" fill="#4d4d4d" stroke="#4d4d4d" stroke-width="0.5">1.0</text>
<line x1="1495.79" y1="1020.54" x2="1495.79" y2="1027.54" stroke="#333" stroke-width="1.8"/>
<text x="1495.79" y="1048.34" font-size="20.5" text-anchor="middle" fill="#4d4d4d" stroke="#4d4d4d" stroke-width="0.5">0</text>
<line x1="1553.16" y1="1020.54" x2="1553.16" y2="1027.54" stroke="#333" stroke-width="1.8"/>
<text x="1553.16" y="1048.34" font-size="20.5" text-anchor="middle" fill="#4d4d4d" stroke="#4d4d4d" stroke-width="0.5">10</text>
<line x1="1610.54" y1="1020.54" x2="1610.54" y2="1027.54" stroke="#333" stroke-width="1.8"/>
<text x="1610.54" y="1048.34" font-size="20.5" text-anchor="middle" fill="#4d4d4d" stroke="#4d4d4d" stroke-width="0.5">20</text>
<line x1="1668.08" y1="1020.54" x2="1668.08" y2="1027.54" stroke="#333" stroke-width="1.8"/>
<text x="1668.08" y="1048.34" font-size="20.5" text-anchor="middle" fill="#4d4d4d" stroke="#4d4d4d" stroke-width="0.5">30</text>
<line x1="1725.62" y1="1020.54" x2="1725.62" y2="1027.54" stroke="#333" stroke-width="1.8"/>
<text x="1725.62" y="1048.34" font-size="20.5" text-anchor="middle" fill="#4d4d4d" stroke="#4d4d4d" stroke-width="0.5">40</text>
<text x="1572.43" y="968.31" font-size="19.8" stroke="#000" stroke-width="0.5">3.00 to 0.90</text>
<line x1="1800.54" y1="897.11" x2="2047.08" y2="897.11" stroke="#8e8e8e" stroke-width="1.5" stroke-dasharray="7.5 7.5"/>
<g opacity="0.93">
<path d="M1812.11,933.76 L1812.26,932.61 L1812.43,931.19 L1812.62,929.54 L1812.83,927.68 L1813.07,925.66 L1813.33,923.51 L1813.62,921.26 L1813.94,918.93 L1814.29,916.58 L1814.67,914.22 L1815.09,911.9 L1815.55,909.65 L1816.05,907.4 L1816.59,905.07 L1817.16,902.68 L1817.76,900.24 L1818.4,897.77 L1819.07,895.28 L1819.76,892.79 L1820.48,890.3 L1821.23,887.84 L1822,885.41 L1823.05,883.03 L1824.18,880.72 L1825.35,878.44 L1826.58,876.17 L1827.86,873.91 L1829.18,871.67 L1830.53,869.45 L1831.91,867.26 L1833.31,865.1 L1834.72,862.98 L1836.12,860.9 L1837.52,858.88 L1838.9,856.91 L1840.25,855 L1841.59,853.16 L1842.93,851.36 L1844.27,849.62 L1845.61,847.92 L1846.95,846.27 L1848.29,844.66 L1849.63,843.09 L1850.97,841.55 L1852.31,840.05 L1853.65,838.58 L1854.98,837.13 L1856.32,835.72 L1857.64,834.34 L1858.91,833.01 L1860.15,831.72 L1861.38,830.48 L1862.61,829.27 L1863.86,828.08 L1865.13,826.92 L1866.44,825.78 L1867.81,824.64 L1869.25,823.51 L1870.78,822.39 L1872.4,821.25 L1874.1,820.11 L1875.86,818.97 L1877.67,817.83 L1879.54,816.7 L1881.46,815.58 L1883.45,814.47 L1885.48,813.39 L1887.58,812.32 L1889.72,811.29 L1891.93,810.29 L1894.19,809.32 L1896.5,808.39 L1898.9,807.5 L1901.4,806.62 L1903.97,805.77 L1906.62,804.94 L1909.33,804.14 L1912.07,803.37 L1914.85,802.64 L1917.64,801.94 L1920.42,801.28 L1923.2,800.66 L1925.94,800.08 L1928.65,799.55 L1931.34,799.08 L1934.06,798.67 L1936.8,798.3 L1939.54,797.98 L1942.29,797.69 L1945.02,797.45 L1947.74,797.22 L1950.43,797.02 L1953.1,796.84 L1955.71,796.67 L1958.28,796.51 L1960.79,796.34 L1963.32,796.19 L1965.94,796.06 L1968.6,795.95 L1971.27,795.86 L1973.9,795.79 L1976.46,795.74 L1978.91,795.69 L1981.21,795.66 L1983.32,795.62 L1985.2,795.6 L1986.81,795.57 L1988.11,795.54 L1992.11,795.54 L1991.32,795.62 L1989.21,795.66 L1986.91,795.69 L1984.46,795.74 L1981.9,795.79 L1979.27,795.86 L1976.6,795.95 L1973.94,796.06 L1971.32,796.19 L1968.79,796.34 L1966.28,796.51 L1963.71,796.67 L1961.1,796.84 L1958.43,797.02 L1955.74,797.22 L1953.02,797.45 L1950.29,797.69 L1947.54,797.98 L1944.8,798.3 L1942.06,798.67 L1939.34,799.08 L1936.65,799.55 L1933.94,800.08 L1931.2,800.66 L1928.42,801.28 L1925.64,801.94 L1922.85,802.64 L1920.07,803.37 L1917.33,804.14 L1914.62,804.94 L1911.97,805.77 L1909.4,806.62 L1906.9,807.5 L1904.5,808.39 L1902.19,809.32 L1899.93,810.29 L1897.72,811.29 L1895.58,812.32 L1893.48,813.39 L1891.45,814.47 L1889.46,815.58 L1887.54,816.7 L1885.67,817.83 L1883.86,818.97 L1882.1,820.11 L1880.4,821.25 L1878.78,822.39 L1877.25,823.51 L1875.81,824.64 L1874.44,825.78 L1873.13,826.92 L1871.86,828.08 L1870.61,829.27 L1869.38,830.48 L1868.15,831.72 L1866.91,833.01 L1865.64,834.34 L1864.32,835.72 L1862.98,837.13 L1861.65,838.58 L1860.31,840.05 L1858.97,841.55 L1857.63,843.09 L1856.29,844.66 L1854.95,846.27 L1853.61,847.92 L1852.27,849.62 L1850.93,851.36 L1849.59,853.16 L1848.25,855 L1846.9,856.91 L1845.52,858.88 L1844.12,860.9 L1842.72,862.98 L1841.31,865.1 L1839.91,867.26 L1838.53,869.45 L1837.18,871.67 L1835.86,873.91 L1834.58,876.17 L1833.35,878.44 L1832.18,880.72 L1831.05,883.03 L1829.91,885.41 L1828.53,887.84 L1827.19,890.3 L1825.89,892.79 L1824.64,895.28 L1823.43,897.77 L1822.29,900.24 L1821.2,902.68 L1820.17,905.07 L1819.2,907.4 L1818.31,909.65 L1817.48,911.9 L1816.72,914.22 L1816.03,916.58 L1815.4,918.93 L1814.82,921.26 L1814.3,923.51 L1813.83,925.66 L1813.41,927.68 L1813.03,929.54 L1812.69,931.19 L1812.38,932.61 L1812.11,933.76Z" fill="#c1c3c4"/>
<path d="M1812.11,933.76C1812.91,929.74 1814.25,918.49 1816.93,909.65C1819.61,900.81 1823.63,889.83 1828.18,880.72C1832.73,871.61 1838.89,862.5 1844.25,855C1849.61,847.5 1854.97,841.34 1860.32,835.72C1865.68,830.09 1869.7,825.81 1876.4,821.25C1883.09,816.7 1891.13,812.01 1900.5,808.39C1909.88,804.78 1921.93,801.56 1932.65,799.55C1943.36,797.55 1954.88,797.01 1964.79,796.34C1974.7,795.67 1987.56,795.67 1992.11,795.54" fill="none" stroke="#c1c3c4" stroke-width="8.5"/>
</g>
<g opacity="0.93">
<path d="M1812.11,969.11 L1812.37,968.91 L1812.67,968.7 L1813,968.47 L1813.38,968.22 L1813.8,967.94 L1814.26,967.61 L1814.76,967.23 L1815.3,966.79 L1815.87,966.29 L1816.49,965.71 L1817.15,965.05 L1817.85,964.29 L1818.6,963.45 L1819.43,962.51 L1820.31,961.51 L1821.25,960.42 L1822.27,959.27 L1823.68,958.06 L1825.11,956.8 L1826.56,955.48 L1828.01,954.12 L1829.44,952.72 L1830.85,951.29 L1832.22,949.83 L1833.56,948.31 L1834.89,946.72 L1836.23,945.06 L1837.57,943.34 L1838.91,941.58 L1840.25,939.78 L1841.59,937.97 L1842.93,936.14 L1844.27,934.31 L1845.61,932.49 L1846.95,930.7 L1848.29,928.93 L1849.63,927.19 L1850.97,925.45 L1852.31,923.71 L1853.65,921.97 L1854.98,920.23 L1856.32,918.49 L1857.66,916.75 L1859,915.01 L1860.34,913.26 L1861.68,911.52 L1863.02,909.78 L1864.36,908.04 L1865.7,906.29 L1867.04,904.54 L1868.38,902.78 L1869.72,901.02 L1871.06,899.25 L1872.4,897.49 L1873.74,895.74 L1875.07,893.99 L1876.41,892.26 L1877.75,890.54 L1879.09,888.83 L1880.43,887.15 L1881.77,885.47 L1883.11,883.8 L1884.45,882.14 L1885.79,880.48 L1887.13,878.83 L1888.47,877.2 L1889.81,875.59 L1891.15,873.99 L1892.49,872.42 L1893.83,870.87 L1895.16,869.35 L1896.5,867.86 L1897.84,866.4 L1899.18,864.96 L1900.52,863.54 L1901.86,862.15 L1903.2,860.77 L1904.54,859.42 L1905.88,858.09 L1907.22,856.79 L1908.56,855.51 L1909.9,854.24 L1911.24,853.01 L1912.58,851.79 L1913.92,850.59 L1915.25,849.42 L1916.59,848.27 L1917.93,847.15 L1919.27,846.04 L1920.61,844.96 L1921.95,843.9 L1923.29,842.86 L1924.63,841.84 L1925.97,840.85 L1927.31,839.88 L1928.65,838.93 L1929.99,838.01 L1931.33,837.12 L1932.67,836.26 L1934.01,835.42 L1935.34,834.6 L1936.68,833.81 L1938.02,833.03 L1939.36,832.26 L1940.7,831.51 L1942.04,830.76 L1943.38,830.03 L1944.72,829.29 L1946.06,828.56 L1947.4,827.84 L1948.74,827.13 L1950.08,826.43 L1951.42,825.74 L1952.76,825.07 L1954.1,824.41 L1955.43,823.75 L1956.77,823.11 L1958.11,822.48 L1959.45,821.86 L1960.79,821.25 L1962.13,820.65 L1963.47,820.07 L1964.81,819.49 L1966.15,818.93 L1967.49,818.38 L1968.83,817.84 L1970.17,817.31 L1971.51,816.79 L1972.85,816.28 L1974.19,815.78 L1975.52,815.3 L1976.86,814.82 L1978.13,814.37 L1979.27,813.95 L1980.34,813.56 L1981.36,813.19 L1982.38,812.82 L1983.44,812.46 L1984.59,812.1 L1985.85,811.73 L1987.28,811.34 L1988.91,810.93 L1990.78,810.48 L1992.94,810 L1995.53,809.46 L1998.61,808.85 L2002.06,808.19 L2005.79,807.5 L2009.68,806.79 L2013.63,806.08 L2017.52,805.39 L2021.24,804.73 L2024.69,804.13 L2027.76,803.58 L2030.34,803.13 L2032.31,802.77 L2036.31,802.77 L2035.76,803.58 L2032.69,804.13 L2029.24,804.73 L2025.52,805.39 L2021.63,806.08 L2017.68,806.79 L2013.79,807.5 L2010.06,808.19 L2006.61,808.85 L2003.53,809.46 L2000.94,810 L1998.78,810.48 L1996.91,810.93 L1995.28,811.34 L1993.85,811.73 L1992.59,812.1 L1991.44,812.46 L1990.38,812.82 L1989.36,813.19 L1988.34,813.56 L1987.27,813.95 L1986.13,814.37 L1984.86,814.82 L1983.52,815.3 L1982.19,815.78 L1980.85,816.28 L1979.51,816.79 L1978.17,817.31 L1976.83,817.84 L1975.49,818.38 L1974.15,818.93 L1972.81,819.49 L1971.47,820.07 L1970.13,820.65 L1968.79,821.25 L1967.45,821.86 L1966.11,822.48 L1964.77,823.11 L1963.43,823.75 L1962.1,824.41 L1960.76,825.07 L1959.42,825.74 L1958.08,826.43 L1956.74,827.13 L1955.4,827.84 L1954.06,828.56 L1952.72,829.29 L1951.38,830.03 L1950.04,830.76 L1948.7,831.51 L1947.36,832.26 L1946.02,833.03 L1944.68,833.81 L1943.34,834.6 L1942.01,835.42 L1940.67,836.26 L1939.33,837.12 L1937.99,838.01 L1936.65,838.93 L1935.31,839.88 L1933.97,840.85 L1932.63,841.84 L1931.29,842.86 L1929.95,843.9 L1928.61,844.96 L1927.27,846.04 L1925.93,847.15 L1924.59,848.27 L1923.25,849.42 L1921.92,850.59 L1920.58,851.79 L1919.24,853.01 L1917.9,854.24 L1916.56,855.51 L1915.22,856.79 L1913.88,858.09 L1912.54,859.42 L1911.2,860.77 L1909.86,862.15 L1908.52,863.54 L1907.18,864.96 L1905.84,866.4 L1904.5,867.86 L1903.16,869.35 L1901.83,870.87 L1900.49,872.42 L1899.15,873.99 L1897.81,875.59 L1896.47,877.2 L1895.13,878.83 L1893.79,880.48 L1892.45,882.14 L1891.11,883.8 L1889.77,885.47 L1888.43,887.15 L1887.09,888.83 L1885.75,890.54 L1884.41,892.26 L1883.07,893.99 L1881.74,895.74 L1880.4,897.49 L1879.06,899.25 L1877.72,901.02 L1876.38,902.78 L1875.04,904.54 L1873.7,906.29 L1872.36,908.04 L1871.02,909.78 L1869.68,911.52 L1868.34,913.26 L1867,915.01 L1865.66,916.75 L1864.32,918.49 L1862.98,920.23 L1861.65,921.97 L1860.31,923.71 L1858.97,925.45 L1857.63,927.19 L1856.29,928.93 L1854.95,930.7 L1853.61,932.49 L1852.27,934.31 L1850.93,936.14 L1849.59,937.97 L1848.25,939.78 L1846.91,941.58 L1845.57,943.34 L1844.23,945.06 L1842.89,946.72 L1841.56,948.31 L1840.22,949.83 L1838.85,951.29 L1837.44,952.72 L1836.01,954.12 L1834.56,955.48 L1833.11,956.8 L1831.68,958.06 L1830.27,959.27 L1828.56,960.42 L1826.88,961.51 L1825.29,962.51 L1823.8,963.45 L1822.44,964.29 L1821.18,965.05 L1820,965.71 L1818.89,966.29 L1817.85,966.79 L1816.88,967.23 L1815.98,967.61 L1815.16,967.94 L1814.4,968.22 L1813.72,968.47 L1813.11,968.7 L1812.57,968.91 L1812.11,969.11Z" fill="#f2db78"/>
<path d="M1812.11,969.11C1813.45,968.31 1816.13,967.51 1820.14,964.29C1824.16,961.08 1830.86,955.72 1836.22,949.83C1841.57,943.93 1846.93,935.9 1852.29,928.93C1857.65,921.97 1863,915.01 1868.36,908.04C1873.72,901.08 1879.07,893.84 1884.43,887.15C1889.79,880.45 1895.15,873.75 1900.5,867.86C1905.86,861.97 1911.22,856.61 1916.58,851.79C1921.93,846.97 1927.29,842.68 1932.65,838.93C1938.01,835.18 1943.36,832.23 1948.72,829.29C1954.08,826.34 1959.43,823.66 1964.79,821.25C1970.15,818.84 1975.51,816.7 1980.86,814.82C1986.22,812.95 1987.69,812.01 1996.94,810C2006.18,807.99 2029.75,803.97 2036.31,802.77" fill="none" stroke="#f2db78" stroke-width="12"/>
</g>
<line x1="1815.64" y1="828.48" x2="1815.64" y2="863.04" stroke="#7e8583" stroke-width="1.8"/>
<line x1="1823.04" y1="883.93" x2="1823.04" y2="923.31" stroke="#7e8583" stroke-width="1.8"/>
<line x1="1830.59" y1="825.75" x2="1830.59" y2="859.82" stroke="#7e8583" stroke-width="1.8"/>
<line x1="1853.09" y1="864.65" x2="1853.09" y2="904.02" stroke="#7e8583" stroke-width="1.8"/>
<line x1="1898.09" y1="790.72" x2="1898.09" y2="806.79" stroke="#7e8583" stroke-width="1.8"/>
<line x1="1980.54" y1="785.89" x2="1980.54" y2="797.14" stroke="#7e8583" stroke-width="1.8"/>
<circle cx="1815.64" cy="844.07" r="6.1" fill="#7e8583"/>
<circle cx="1823.04" cy="903.54" r="6.1" fill="#7e8583"/>
<circle cx="1830.59" cy="841.34" r="6.1" fill="#7e8583"/>
<circle cx="1853.09" cy="883.93" r="6.1" fill="#7e8583"/>
<circle cx="1898.09" cy="796.34" r="6.1" fill="#7e8583"/>
<circle cx="1980.54" cy="790.72" r="6.1" fill="#7e8583"/>
<line x1="1815" y1="971.53" x2="1815" y2="1002.87" stroke="#e8c300" stroke-width="1.8"/>
<line x1="1823.04" y1="984.38" x2="1823.04" y2="1004.47" stroke="#e8c300" stroke-width="1.8"/>
<line x1="1830.59" y1="979.56" x2="1830.59" y2="1002.87" stroke="#e8c300" stroke-width="1.8"/>
<line x1="1853.09" y1="981.97" x2="1853.09" y2="1004.47" stroke="#e8c300" stroke-width="1.8"/>
<line x1="1898.09" y1="869.15" x2="1898.09" y2="921.7" stroke="#e8c300" stroke-width="1.8"/>
<line x1="1980.54" y1="806.79" x2="1980.54" y2="843.75" stroke="#e8c300" stroke-width="1.8"/>
<circle cx="1815" cy="989.2" r="6.1" fill="#e8c300"/>
<circle cx="1823.04" cy="998.04" r="6.1" fill="#e8c300"/>
<circle cx="1830.59" cy="996.12" r="6.1" fill="#e8c300"/>
<circle cx="1853.09" cy="998.37" r="6.1" fill="#e8c300"/>
<circle cx="1898.09" cy="895.5" r="6.1" fill="#e8c300"/>
<circle cx="1980.54" cy="821.25" r="6.1" fill="#e8c300"/>
<line x1="1800.54" y1="773.84" x2="1800.54" y2="1021.54" stroke="#000" stroke-width="2.1"/>
<line x1="1799.54" y1="1020.54" x2="2047.08" y2="1020.54" stroke="#000" stroke-width="2.1"/>
<line x1="1793.54" y1="1005.28" x2="1800.54" y2="1005.28" stroke="#333" stroke-width="1.8"/>
<text x="1787.04" y="1012.58" font-size="20.2" text-anchor="end" fill="#4d4d4d" stroke="#4d4d4d" stroke-width="0.5">0.0</text>
<line x1="1793.54" y1="897.11" x2="1800.54" y2="897.11" stroke="#333" stroke-width="1.8"/>
<text x="1787.04" y="904.41" font-size="20.2" text-anchor="end" fill="#4d4d4d" stroke="#4d4d4d" stroke-width="0.5">0.5</text>
<line x1="1793.54" y1="789.11" x2="1800.54" y2="789.11" stroke="#333" stroke-width="1.8"/>
<text x="1787.04" y="796.41" font-size="20.2" text-anchor="end" fill="#4d4d4d" stroke="#4d4d4d" stroke-width="0.5">1.0</text>
<line x1="1811.79" y1="1020.54" x2="1811.79" y2="1027.54" stroke="#333" stroke-width="1.8"/>
<text x="1811.79" y="1048.34" font-size="20.5" text-anchor="middle" fill="#4d4d4d" stroke="#4d4d4d" stroke-width="0.5">0</text>
<line x1="1863.22" y1="1020.54" x2="1863.22" y2="1027.54" stroke="#333" stroke-width="1.8"/>
<text x="1863.22" y="1048.34" font-size="20.5" text-anchor="middle" fill="#4d4d4d" stroke="#4d4d4d" stroke-width="0.5">10</text>
<line x1="1914.81" y1="1020.54" x2="1914.81" y2="1027.54" stroke="#333" stroke-width="1.8"/>
<text x="1914.81" y="1048.34" font-size="20.5" text-anchor="middle" fill="#4d4d4d" stroke="#4d4d4d" stroke-width="0.5">20</text>
<line x1="1966.4" y1="1020.54" x2="1966.4" y2="1027.54" stroke="#333" stroke-width="1.8"/>
<text x="1966.4" y="1048.34" font-size="20.5" text-anchor="middle" fill="#4d4d4d" stroke="#4d4d4d" stroke-width="0.5">30</text>
<line x1="2017.83" y1="1020.54" x2="2017.83" y2="1027.54" stroke="#333" stroke-width="1.8"/>
<text x="2017.83" y="1048.34" font-size="20.5" text-anchor="middle" fill="#4d4d4d" stroke="#4d4d4d" stroke-width="0.5">40</text>
<text x="1875.57" y="968.31" font-size="19.8" stroke="#000" stroke-width="0.5">0.90 to 5.20</text>
<line x1="156.4" y1="558.05" x2="1032" y2="558.05" stroke="#8e8e8e" stroke-width="1.5" stroke-dasharray="7.5 7.5"/>
<line x1="196.2" y1="554.82" x2="196.2" y2="578.48" stroke="#000" stroke-width="2.2"/>
<circle cx="196.2" cy="566.92" r="6.3" fill="#000"/>
<line x1="228.22" y1="561.54" x2="228.22" y2="584.92" stroke="#000" stroke-width="2.2"/>
<circle cx="228.22" cy="574.17" r="6.3" fill="#000"/>
<line x1="260.24" y1="565.04" x2="260.24" y2="584.39" stroke="#000" stroke-width="2.2"/>
<circle cx="260.24" cy="575.25" r="6.3" fill="#000"/>
<line x1="292.26" y1="565.04" x2="292.26" y2="584.39" stroke="#000" stroke-width="2.2"/>
<circle cx="292.26" cy="575.25" r="6.3" fill="#000"/>
<line x1="324.28" y1="568.8" x2="324.28" y2="590.84" stroke="#000" stroke-width="2.2"/>
<circle cx="324.28" cy="580.89" r="6.3" fill="#000"/>
<line x1="356.3" y1="572.02" x2="356.3" y2="593.79" stroke="#000" stroke-width="2.2"/>
<circle cx="356.3" cy="583.85" r="6.3" fill="#000"/>
<line x1="388.32" y1="556.17" x2="388.32" y2="576.32" stroke="#00b5f0" stroke-width="2.2"/>
<circle cx="388.32" cy="566.38" r="6.3" fill="#00b5f0"/>
<line x1="420.34" y1="549.99" x2="420.34" y2="574.17" stroke="#000" stroke-width="2.2"/>
<circle cx="420.34" cy="562.35" r="6.3" fill="#000"/>
<text x="420.34" y="553.69" font-size="29" text-anchor="middle" stroke="#000" stroke-width="0.9">*</text>
<line x1="452.36" y1="559.12" x2="452.36" y2="583.85" stroke="#000" stroke-width="2.2"/>
<circle cx="452.36" cy="572.29" r="6.3" fill="#000"/>
<line x1="484.38" y1="551.06" x2="484.38" y2="575.52" stroke="#000" stroke-width="2.2"/>
<circle cx="484.38" cy="563.69" r="6.3" fill="#000"/>
<line x1="516.4" y1="536.01" x2="516.4" y2="559.66" stroke="#000" stroke-width="2.2"/>
<circle cx="516.4" cy="547.57" r="6.3" fill="#000"/>
<line x1="548.42" y1="534.94" x2="548.42" y2="558.32" stroke="#000" stroke-width="2.2"/>
<circle cx="548.42" cy="545.96" r="6.3" fill="#000"/>
<line x1="580.44" y1="544.34" x2="580.44" y2="570.41" stroke="#000" stroke-width="2.2"/>
<circle cx="580.44" cy="557.51" r="6.3" fill="#000"/>
<line x1="612.46" y1="555.36" x2="612.46" y2="582.24" stroke="#e8c300" stroke-width="2.2"/>
<circle cx="612.46" cy="569.07" r="6.3" fill="#e8c300"/>
<line x1="644.48" y1="551.6" x2="644.48" y2="579.01" stroke="#000" stroke-width="2.2"/>
<circle cx="644.48" cy="565.57" r="6.3" fill="#000"/>
<text x="644.48" y="555.3" font-size="29" text-anchor="middle" stroke="#000" stroke-width="0.9">*</text>
<line x1="676.5" y1="555.63" x2="676.5" y2="581.16" stroke="#000" stroke-width="2.2"/>
<circle cx="676.5" cy="568.8" r="6.3" fill="#000"/>
<line x1="708.52" y1="559.66" x2="708.52" y2="583.58" stroke="#000" stroke-width="2.2"/>
<circle cx="708.52" cy="572.02" r="6.3" fill="#000"/>
<line x1="740.54" y1="562.89" x2="740.54" y2="588.42" stroke="#000" stroke-width="2.2"/>
<circle cx="740.54" cy="576.32" r="6.3" fill="#000"/>
<line x1="772.56" y1="561.81" x2="772.56" y2="585.73" stroke="#000" stroke-width="2.2"/>
<circle cx="772.56" cy="574.17" r="6.3" fill="#000"/>
<line x1="804.58" y1="566.11" x2="804.58" y2="589.76" stroke="#000" stroke-width="2.2"/>
<circle cx="804.58" cy="578.48" r="6.3" fill="#000"/>
<line x1="836.6" y1="551.06" x2="836.6" y2="576.86" stroke="#e8c300" stroke-width="2.2"/>
<circle cx="836.6" cy="563.69" r="6.3" fill="#e8c300"/>
<line x1="868.62" y1="539.24" x2="868.62" y2="562.35" stroke="#000" stroke-width="2.2"/>
<circle cx="868.62" cy="550.26" r="6.3" fill="#000"/>
<text x="868.62" y="542.94" font-size="29" text-anchor="middle" stroke="#000" stroke-width="0.9">*</text>
<line x1="900.64" y1="532.25" x2="900.64" y2="556.98" stroke="#000" stroke-width="2.2"/>
<circle cx="900.64" cy="544.08" r="6.3" fill="#000"/>
<line x1="932.66" y1="534.94" x2="932.66" y2="554.82" stroke="#000" stroke-width="2.2"/>
<circle cx="932.66" cy="544.34" r="6.3" fill="#000"/>
<line x1="964.68" y1="532.25" x2="964.68" y2="549.99" stroke="#000" stroke-width="2.2"/>
<circle cx="964.68" cy="540.85" r="6.3" fill="#000"/>
<line x1="996.7" y1="534.13" x2="996.7" y2="559.66" stroke="#000" stroke-width="2.2"/>
<circle cx="996.7" cy="546.23" r="6.3" fill="#000"/>
<line x1="156.4" y1="496.4" x2="156.4" y2="620.5" stroke="#000" stroke-width="2.1"/>
<line x1="155.4" y1="619.5" x2="1032" y2="619.5" stroke="#000" stroke-width="2.1"/>
<line x1="149.4" y1="611.8" x2="156.4" y2="611.8" stroke="#333" stroke-width="1.8"/>
<text x="142.9" y="621.2" font-size="26" text-anchor="end" fill="#4d4d4d" stroke="#4d4d4d" stroke-width="0.5">0</text>
<line x1="149.4" y1="558.05" x2="156.4" y2="558.05" stroke="#333" stroke-width="1.8"/>
<text x="142.9" y="567.45" font-size="26" text-anchor="end" fill="#4d4d4d" stroke="#4d4d4d" stroke-width="0.5">50</text>
<line x1="149.4" y1="504.3" x2="156.4" y2="504.3" stroke="#333" stroke-width="1.8"/>
<text x="142.9" y="513.7" font-size="26" text-anchor="end" fill="#4d4d4d" stroke="#4d4d4d" stroke-width="0.5">100</text>
<line x1="292.26" y1="619.5" x2="292.26" y2="626.5" stroke="#333" stroke-width="1.8"/>
<text x="292.26" y="651" font-size="27" text-anchor="middle" fill="#4d4d4d" stroke="#4d4d4d" stroke-width="0.5">Nov 23</text>
<line x1="516.4" y1="619.5" x2="516.4" y2="626.5" stroke="#333" stroke-width="1.8"/>
<text x="516.4" y="651" font-size="27" text-anchor="middle" fill="#4d4d4d" stroke="#4d4d4d" stroke-width="0.5">Nov 30</text>
<line x1="740.54" y1="619.5" x2="740.54" y2="626.5" stroke="#333" stroke-width="1.8"/>
<text x="740.54" y="651" font-size="27" text-anchor="middle" fill="#4d4d4d" stroke="#4d4d4d" stroke-width="0.5">Dec 07</text>
<line x1="964.68" y1="619.5" x2="964.68" y2="626.5" stroke="#333" stroke-width="1.8"/>
<text x="964.68" y="651" font-size="27" text-anchor="middle" fill="#4d4d4d" stroke="#4d4d4d" stroke-width="0.5">Dec 14</text>
<text x="87" y="557.95" font-size="26.9" text-anchor="middle" transform="rotate(-90 87 557.95)" stroke="#000" stroke-width="0.5">% Chose Lottery</text>
<line x1="1158" y1="551" x2="2036.8" y2="551" stroke="#8e8e8e" stroke-width="1.5" stroke-dasharray="7.5 7.5"/>
<line x1="1197.9" y1="549.92" x2="1197.9" y2="583.95" stroke="#000" stroke-width="2.2"/>
<circle cx="1197.9" cy="568.45" r="6.3" fill="#000"/>
<line x1="1231.2" y1="553.17" x2="1231.2" y2="576.8" stroke="#000" stroke-width="2.2"/>
<circle cx="1231.2" cy="565.2" r="6.3" fill="#000"/>
<line x1="1264.5" y1="540.27" x2="1264.5" y2="569.75" stroke="#000" stroke-width="2.2"/>
<circle cx="1264.5" cy="555.34" r="6.3" fill="#000"/>
<line x1="1297.8" y1="542.98" x2="1297.8" y2="565.2" stroke="#000" stroke-width="2.2"/>
<circle cx="1297.8" cy="554.25" r="6.3" fill="#000"/>
<line x1="1331.1" y1="543.52" x2="1331.1" y2="566.61" stroke="#000" stroke-width="2.2"/>
<circle cx="1331.1" cy="555.34" r="6.3" fill="#000"/>
<line x1="1364.4" y1="541.57" x2="1364.4" y2="561.73" stroke="#000" stroke-width="2.2"/>
<circle cx="1364.4" cy="551.76" r="6.3" fill="#000"/>
<line x1="1397.7" y1="546.66" x2="1397.7" y2="571.38" stroke="#00b5f0" stroke-width="2.2"/>
<circle cx="1397.7" cy="559.35" r="6.3" fill="#00b5f0"/>
<line x1="1431" y1="561.19" x2="1431" y2="582.65" stroke="#000" stroke-width="2.2"/>
<circle cx="1431" cy="571.92" r="6.3" fill="#000"/>
<text x="1431" y="564.89" font-size="29" text-anchor="middle" stroke="#000" stroke-width="0.9">*</text>
<line x1="1464.3" y1="559.89" x2="1464.3" y2="583.19" stroke="#000" stroke-width="2.2"/>
<circle cx="1464.3" cy="572.25" r="6.3" fill="#000"/>
<line x1="1497.6" y1="564.44" x2="1497.6" y2="585.9" stroke="#000" stroke-width="2.2"/>
<circle cx="1497.6" cy="576.26" r="6.3" fill="#000"/>
<line x1="1530.9" y1="560.43" x2="1530.9" y2="583.95" stroke="#000" stroke-width="2.2"/>
<circle cx="1530.9" cy="572.68" r="6.3" fill="#000"/>
<line x1="1564.2" y1="571.38" x2="1564.2" y2="588.83" stroke="#000" stroke-width="2.2"/>
<circle cx="1564.2" cy="580.81" r="6.3" fill="#000"/>
<line x1="1597.5" y1="561.84" x2="1597.5" y2="583.74" stroke="#000" stroke-width="2.2"/>
<circle cx="1597.5" cy="573.22" r="6.3" fill="#000"/>
<line x1="1630.8" y1="535.17" x2="1630.8" y2="557.94" stroke="#e8c300" stroke-width="2.2"/>
<circle cx="1630.8" cy="546.45" r="6.3" fill="#e8c300"/>
<text x="1630.8" y="538.87" font-size="29" text-anchor="middle" stroke="#000" stroke-width="0.9">*</text>
<line x1="1664.1" y1="538.1" x2="1664.1" y2="563.9" stroke="#000" stroke-width="2.2"/>
<circle cx="1664.1" cy="550.46" r="6.3" fill="#000"/>
<line x1="1697.4" y1="530.08" x2="1697.4" y2="551.22" stroke="#000" stroke-width="2.2"/>
<circle cx="1697.4" cy="540.27" r="6.3" fill="#000"/>
<line x1="1730.7" y1="527.91" x2="1730.7" y2="551.22" stroke="#000" stroke-width="2.2"/>
<circle cx="1730.7" cy="539.73" r="6.3" fill="#000"/>
<line x1="1764" y1="521.52" x2="1764" y2="543.74" stroke="#000" stroke-width="2.2"/>
<circle cx="1764" cy="532.25" r="6.3" fill="#000"/>
<line x1="1797.3" y1="529.54" x2="1797.3" y2="583.95" stroke="#000" stroke-width="2.2"/>
<circle cx="1797.3" cy="557.94" r="6.3" fill="#000"/>
<line x1="1830.6" y1="523.57" x2="1830.6" y2="541.89" stroke="#000" stroke-width="2.2"/>
<circle cx="1830.6" cy="531.92" r="6.3" fill="#000"/>
<line x1="1863.9" y1="538.43" x2="1863.9" y2="563.36" stroke="#e8c300" stroke-width="2.2"/>
<circle cx="1863.9" cy="549.92" r="6.3" fill="#e8c300"/>
<text x="1863.9" y="542.13" font-size="29" text-anchor="middle" stroke="#000" stroke-width="0.9">*</text>
<line x1="1897.2" y1="559.35" x2="1897.2" y2="580.81" stroke="#000" stroke-width="2.2"/>
<circle cx="1897.2" cy="570.62" r="6.3" fill="#000"/>
<line x1="1930.5" y1="556.42" x2="1930.5" y2="583.95" stroke="#000" stroke-width="2.2"/>
<circle cx="1930.5" cy="571.38" r="6.3" fill="#000"/>
<line x1="1963.8" y1="561.19" x2="1963.8" y2="588.07" stroke="#000" stroke-width="2.2"/>
<circle cx="1963.8" cy="576.47" r="6.3" fill="#000"/>
<line x1="1997.1" y1="557.72" x2="1997.1" y2="582.65" stroke="#000" stroke-width="2.2"/>
<circle cx="1997.1" cy="570.84" r="6.3" fill="#000"/>
<line x1="1158" y1="489.6" x2="1158" y2="614" stroke="#000" stroke-width="2.1"/>
<line x1="1157" y1="613" x2="2036.8" y2="613" stroke="#000" stroke-width="2.1"/>
<line x1="1151" y1="605.2" x2="1158" y2="605.2" stroke="#333" stroke-width="1.8"/>
<text x="1144.5" y="614.6" font-size="26" text-anchor="end" fill="#4d4d4d" stroke="#4d4d4d" stroke-width="0.5">0</text>
<line x1="1151" y1="551" x2="1158" y2="551" stroke="#333" stroke-width="1.8"/>
<text x="1144.5" y="560.4" font-size="26" text-anchor="end" fill="#4d4d4d" stroke="#4d4d4d" stroke-width="0.5">50</text>
<line x1="1151" y1="496.8" x2="1158" y2="496.8" stroke="#333" stroke-width="1.8"/>
<text x="1144.5" y="506.2" font-size="26" text-anchor="end" fill="#4d4d4d" stroke="#4d4d4d" stroke-width="0.5">100</text>
<line x1="1264.5" y1="613" x2="1264.5" y2="620" stroke="#333" stroke-width="1.8"/>
<text x="1264.5" y="644.5" font-size="27" text-anchor="middle" fill="#4d4d4d" stroke="#4d4d4d" stroke-width="0.5">Nov 23</text>
<line x1="1497.6" y1="613" x2="1497.6" y2="620" stroke="#333" stroke-width="1.8"/>
<text x="1497.6" y="644.5" font-size="27" text-anchor="middle" fill="#4d4d4d" stroke="#4d4d4d" stroke-width="0.5">Nov 30</text>
<line x1="1730.7" y1="613" x2="1730.7" y2="620" stroke="#333" stroke-width="1.8"/>
<text x="1730.7" y="644.5" font-size="27" text-anchor="middle" fill="#4d4d4d" stroke="#4d4d4d" stroke-width="0.5">Dec 07</text>
<line x1="1963.8" y1="613" x2="1963.8" y2="620" stroke="#333" stroke-width="1.8"/>
<text x="1963.8" y="644.5" font-size="27" text-anchor="middle" fill="#4d4d4d" stroke="#4d4d4d" stroke-width="0.5">Dec 14</text>
<text x="1089" y="551.3" font-size="26.9" text-anchor="middle" transform="rotate(-90 1089 551.3)" stroke="#000" stroke-width="0.5">% Chose Lottery</text>
<line x1="156.2" y1="1175.45" x2="1036" y2="1175.45" stroke="#8e8e8e" stroke-width="1.5" stroke-dasharray="7.5 7.5"/>
<line x1="196.1" y1="1185.14" x2="196.1" y2="1203.56" stroke="#000" stroke-width="2.2"/>
<circle cx="196.1" cy="1195.05" r="6.3" fill="#000"/>
<line x1="229.5" y1="1175.45" x2="229.5" y2="1198.17" stroke="#000" stroke-width="2.2"/>
<circle cx="229.5" cy="1187.51" r="6.3" fill="#000"/>
<line x1="262.9" y1="1168.99" x2="262.9" y2="1195.59" stroke="#000" stroke-width="2.2"/>
<circle cx="262.9" cy="1182.67" r="6.3" fill="#000"/>
<line x1="296.3" y1="1180.3" x2="296.3" y2="1201.73" stroke="#000" stroke-width="2.2"/>
<circle cx="296.3" cy="1191.5" r="6.3" fill="#000"/>
<line x1="329.7" y1="1166.62" x2="329.7" y2="1194.73" stroke="#000" stroke-width="2.2"/>
<circle cx="329.7" cy="1180.84" r="6.3" fill="#000"/>
<line x1="363.1" y1="1183.53" x2="363.1" y2="1207.65" stroke="#000" stroke-width="2.2"/>
<circle cx="363.1" cy="1196.34" r="6.3" fill="#000"/>
<line x1="396.5" y1="1179.43" x2="396.5" y2="1200.33" stroke="#00b5f0" stroke-width="2.2"/>
<circle cx="396.5" cy="1190.42" r="6.3" fill="#00b5f0"/>
<line x1="429.9" y1="1151.86" x2="429.9" y2="1179.97" stroke="#000" stroke-width="2.2"/>
<circle cx="429.9" cy="1165.54" r="6.3" fill="#000"/>
<text x="429.9" y="1155.56" font-size="29" text-anchor="middle" stroke="#000" stroke-width="0.9">*</text>
<line x1="463.3" y1="1172.22" x2="463.3" y2="1192.04" stroke="#000" stroke-width="2.2"/>
<circle cx="463.3" cy="1182.13" r="6.3" fill="#000"/>
<line x1="496.7" y1="1161.02" x2="496.7" y2="1184.82" stroke="#000" stroke-width="2.2"/>
<circle cx="496.7" cy="1173.08" r="6.3" fill="#000"/>
<line x1="530.1" y1="1166.83" x2="530.1" y2="1187.51" stroke="#000" stroke-width="2.2"/>
<circle cx="530.1" cy="1176.74" r="6.3" fill="#000"/>
<line x1="563.5" y1="1174.91" x2="563.5" y2="1195.81" stroke="#000" stroke-width="2.2"/>
<circle cx="563.5" cy="1185.36" r="6.3" fill="#000"/>
<line x1="596.9" y1="1170.6" x2="596.9" y2="1190.96" stroke="#000" stroke-width="2.2"/>
<circle cx="596.9" cy="1180.84" r="6.3" fill="#000"/>
<line x1="630.3" y1="1191.61" x2="630.3" y2="1210.78" stroke="#e8c300" stroke-width="2.2"/>
<circle cx="630.3" cy="1202.27" r="6.3" fill="#e8c300"/>
<text x="630.3" y="1195.31" font-size="29" text-anchor="middle" stroke="#000" stroke-width="0.9">*</text>
<line x1="663.7" y1="1182.13" x2="663.7" y2="1206.25" stroke="#000" stroke-width="2.2"/>
<circle cx="663.7" cy="1195.05" r="6.3" fill="#000"/>
<line x1="697.1" y1="1183.53" x2="697.1" y2="1208.41" stroke="#000" stroke-width="2.2"/>
<circle cx="697.1" cy="1196.88" r="6.3" fill="#000"/>
<line x1="730.5" y1="1189.45" x2="730.5" y2="1212.39" stroke="#000" stroke-width="2.2"/>
<circle cx="730.5" cy="1202.27" r="6.3" fill="#000"/>
<line x1="763.9" y1="1181.59" x2="763.9" y2="1204.42" stroke="#000" stroke-width="2.2"/>
<circle cx="763.9" cy="1193.44" r="6.3" fill="#000"/>
<line x1="797.3" y1="1173.62" x2="797.3" y2="1197.42" stroke="#000" stroke-width="2.2"/>
<circle cx="797.3" cy="1185.68" r="6.3" fill="#000"/>
<line x1="830.7" y1="1178.14" x2="830.7" y2="1201.73" stroke="#000" stroke-width="2.2"/>
<circle cx="830.7" cy="1190.42" r="6.3" fill="#000"/>
<line x1="864.1" y1="1170.06" x2="864.1" y2="1199.57" stroke="#e8c300" stroke-width="2.2"/>
<circle cx="864.1" cy="1185.14" r="6.3" fill="#e8c300"/>
<line x1="897.5" y1="1145.4" x2="897.5" y2="1175.45" stroke="#000" stroke-width="2.2"/>
<circle cx="897.5" cy="1159.94" r="6.3" fill="#000"/>
<text x="897.5" y="1149.1" font-size="29" text-anchor="middle" stroke="#000" stroke-width="0.9">*</text>
<line x1="930.9" y1="1149.17" x2="930.9" y2="1175.45" stroke="#000" stroke-width="2.2"/>
<circle cx="930.9" cy="1161.56" r="6.3" fill="#000"/>
<line x1="964.3" y1="1166.08" x2="964.3" y2="1188.37" stroke="#000" stroke-width="2.2"/>
<circle cx="964.3" cy="1176.74" r="6.3" fill="#000"/>
<line x1="997.7" y1="1158.86" x2="997.7" y2="1188.37" stroke="#000" stroke-width="2.2"/>
<circle cx="997.7" cy="1173.62" r="6.3" fill="#000"/>
<line x1="156.2" y1="1114.1" x2="156.2" y2="1237.8" stroke="#000" stroke-width="2.1"/>
<line x1="155.2" y1="1236.8" x2="1036" y2="1236.8" stroke="#000" stroke-width="2.1"/>
<line x1="149.2" y1="1229.3" x2="156.2" y2="1229.3" stroke="#333" stroke-width="1.8"/>
<text x="142.7" y="1238.7" font-size="26" text-anchor="end" fill="#4d4d4d" stroke="#4d4d4d" stroke-width="0.5">0</text>
<line x1="149.2" y1="1175.45" x2="156.2" y2="1175.45" stroke="#333" stroke-width="1.8"/>
<text x="142.7" y="1184.85" font-size="26" text-anchor="end" fill="#4d4d4d" stroke="#4d4d4d" stroke-width="0.5">50</text>
<line x1="149.2" y1="1121.6" x2="156.2" y2="1121.6" stroke="#333" stroke-width="1.8"/>
<text x="142.7" y="1131" font-size="26" text-anchor="end" fill="#4d4d4d" stroke="#4d4d4d" stroke-width="0.5">100</text>
<line x1="262.9" y1="1236.8" x2="262.9" y2="1243.8" stroke="#333" stroke-width="1.8"/>
<text x="262.9" y="1268.3" font-size="27" text-anchor="middle" fill="#4d4d4d" stroke="#4d4d4d" stroke-width="0.5">Nov 23</text>
<line x1="496.7" y1="1236.8" x2="496.7" y2="1243.8" stroke="#333" stroke-width="1.8"/>
<text x="496.7" y="1268.3" font-size="27" text-anchor="middle" fill="#4d4d4d" stroke="#4d4d4d" stroke-width="0.5">Nov 30</text>
<line x1="730.5" y1="1236.8" x2="730.5" y2="1243.8" stroke="#333" stroke-width="1.8"/>
<text x="730.5" y="1268.3" font-size="27" text-anchor="middle" fill="#4d4d4d" stroke="#4d4d4d" stroke-width="0.5">Dec 07</text>
<line x1="964.3" y1="1236.8" x2="964.3" y2="1243.8" stroke="#333" stroke-width="1.8"/>
<text x="964.3" y="1268.3" font-size="27" text-anchor="middle" fill="#4d4d4d" stroke="#4d4d4d" stroke-width="0.5">Dec 14</text>
<text x="87" y="1175.45" font-size="26.9" text-anchor="middle" transform="rotate(-90 87 1175.45)" stroke="#000" stroke-width="0.5">% Chose Lottery</text>
<line x1="1168.6" y1="1173.45" x2="2048" y2="1173.45" stroke="#8e8e8e" stroke-width="1.5" stroke-dasharray="7.5 7.5"/>
<line x1="1208.2" y1="1153.59" x2="1208.2" y2="1172.36" stroke="#000" stroke-width="2.2"/>
<circle cx="1208.2" cy="1162.76" r="6.3" fill="#000"/>
<line x1="1241.5" y1="1139.41" x2="1241.5" y2="1156.32" stroke="#000" stroke-width="2.2"/>
<circle cx="1241.5" cy="1147.48" r="6.3" fill="#000"/>
<line x1="1274.8" y1="1139.96" x2="1274.8" y2="1158.94" stroke="#000" stroke-width="2.2"/>
<circle cx="1274.8" cy="1148.79" r="6.3" fill="#000"/>
<line x1="1308.1" y1="1135.92" x2="1308.1" y2="1153.59" stroke="#000" stroke-width="2.2"/>
<circle cx="1308.1" cy="1144.21" r="6.3" fill="#000"/>
<line x1="1341.4" y1="1127.3" x2="1341.4" y2="1140.17" stroke="#000" stroke-width="2.2"/>
<circle cx="1341.4" cy="1132.76" r="6.3" fill="#000"/>
<line x1="1374.7" y1="1124.68" x2="1374.7" y2="1138.87" stroke="#000" stroke-width="2.2"/>
<circle cx="1374.7" cy="1130.79" r="6.3" fill="#000"/>
<line x1="1408" y1="1147.48" x2="1408" y2="1167.56" stroke="#00b5f0" stroke-width="2.2"/>
<circle cx="1408" cy="1157.63" r="6.3" fill="#00b5f0"/>
<text x="1408" y="1151.18" font-size="29" text-anchor="middle" stroke="#000" stroke-width="0.9">*</text>
<line x1="1441.3" y1="1168.1" x2="1441.3" y2="1185.01" stroke="#000" stroke-width="2.2"/>
<circle cx="1441.3" cy="1176.4" r="6.3" fill="#000"/>
<line x1="1474.6" y1="1152.83" x2="1474.6" y2="1172.36" stroke="#000" stroke-width="2.2"/>
<circle cx="1474.6" cy="1162.21" r="6.3" fill="#000"/>
<line x1="1507.9" y1="1164.83" x2="1507.9" y2="1186.87" stroke="#000" stroke-width="2.2"/>
<circle cx="1507.9" cy="1176.18" r="6.3" fill="#000"/>
<line x1="1541.2" y1="1175.09" x2="1541.2" y2="1195.16" stroke="#000" stroke-width="2.2"/>
<circle cx="1541.2" cy="1185.56" r="6.3" fill="#000"/>
<line x1="1574.5" y1="1175.09" x2="1574.5" y2="1193.85" stroke="#000" stroke-width="2.2"/>
<circle cx="1574.5" cy="1184.69" r="6.3" fill="#000"/>
<line x1="1607.8" y1="1186.87" x2="1607.8" y2="1208.36" stroke="#000" stroke-width="2.2"/>
<circle cx="1607.8" cy="1198.43" r="6.3" fill="#000"/>
<line x1="1641.1" y1="1156.32" x2="1641.1" y2="1176.94" stroke="#e8c300" stroke-width="2.2"/>
<circle cx="1641.1" cy="1166.79" r="6.3" fill="#e8c300"/>
<text x="1641.1" y="1160.02" font-size="29" text-anchor="middle" stroke="#000" stroke-width="0.9">*</text>
<line x1="1674.4" y1="1134.06" x2="1674.4" y2="1155.45" stroke="#000" stroke-width="2.2"/>
<circle cx="1674.4" cy="1143.45" r="6.3" fill="#000"/>
<line x1="1707.7" y1="1142.9" x2="1707.7" y2="1160.9" stroke="#000" stroke-width="2.2"/>
<circle cx="1707.7" cy="1150.98" r="6.3" fill="#000"/>
<line x1="1741" y1="1127.3" x2="1741" y2="1139.41" stroke="#000" stroke-width="2.2"/>
<circle cx="1741" cy="1131.88" r="6.3" fill="#000"/>
<line x1="1774.3" y1="1128.72" x2="1774.3" y2="1140.72" stroke="#000" stroke-width="2.2"/>
<circle cx="1774.3" cy="1133.19" r="6.3" fill="#000"/>
<line x1="1807.6" y1="1146.94" x2="1807.6" y2="1167.01" stroke="#000" stroke-width="2.2"/>
<circle cx="1807.6" cy="1156.32" r="6.3" fill="#000"/>
<line x1="1840.9" y1="1134.06" x2="1840.9" y2="1156.87" stroke="#000" stroke-width="2.2"/>
<circle cx="1840.9" cy="1143.99" r="6.3" fill="#000"/>
<line x1="1874.2" y1="1176.18" x2="1874.2" y2="1199.74" stroke="#e8c300" stroke-width="2.2"/>
<circle cx="1874.2" cy="1189.05" r="6.3" fill="#e8c300"/>
<text x="1874.2" y="1179.88" font-size="29" text-anchor="middle" stroke="#000" stroke-width="0.9">*</text>
<line x1="1907.5" y1="1182.29" x2="1907.5" y2="1203.78" stroke="#000" stroke-width="2.2"/>
<circle cx="1907.5" cy="1193.52" r="6.3" fill="#000"/>
<line x1="1940.8" y1="1188.18" x2="1940.8" y2="1209.89" stroke="#000" stroke-width="2.2"/>
<circle cx="1940.8" cy="1199.74" r="6.3" fill="#000"/>
<line x1="1974.1" y1="1194.94" x2="1974.1" y2="1212.62" stroke="#000" stroke-width="2.2"/>
<circle cx="1974.1" cy="1204.33" r="6.3" fill="#000"/>
<line x1="2007.4" y1="1198.43" x2="2007.4" y2="1217.96" stroke="#000" stroke-width="2.2"/>
<circle cx="2007.4" cy="1209.34" r="6.3" fill="#000"/>
<line x1="1168.6" y1="1112.8" x2="1168.6" y2="1236.2" stroke="#000" stroke-width="2.1"/>
<line x1="1167.6" y1="1235.2" x2="2048" y2="1235.2" stroke="#000" stroke-width="2.1"/>
<line x1="1161.6" y1="1228" x2="1168.6" y2="1228" stroke="#333" stroke-width="1.8"/>
<text x="1155.1" y="1237.4" font-size="26" text-anchor="end" fill="#4d4d4d" stroke="#4d4d4d" stroke-width="0.5">0</text>
<line x1="1161.6" y1="1173.45" x2="1168.6" y2="1173.45" stroke="#333" stroke-width="1.8"/>
<text x="1155.1" y="1182.85" font-size="26" text-anchor="end" fill="#4d4d4d" stroke="#4d4d4d" stroke-width="0.5">50</text>
<line x1="1161.6" y1="1118.9" x2="1168.6" y2="1118.9" stroke="#333" stroke-width="1.8"/>
<text x="1155.1" y="1128.3" font-size="26" text-anchor="end" fill="#4d4d4d" stroke="#4d4d4d" stroke-width="0.5">100</text>
<line x1="1274.8" y1="1235.2" x2="1274.8" y2="1242.2" stroke="#333" stroke-width="1.8"/>
<text x="1274.8" y="1266.7" font-size="27" text-anchor="middle" fill="#4d4d4d" stroke="#4d4d4d" stroke-width="0.5">Nov 23</text>
<line x1="1507.9" y1="1235.2" x2="1507.9" y2="1242.2" stroke="#333" stroke-width="1.8"/>
<text x="1507.9" y="1266.7" font-size="27" text-anchor="middle" fill="#4d4d4d" stroke="#4d4d4d" stroke-width="0.5">Nov 30</text>
<line x1="1741" y1="1235.2" x2="1741" y2="1242.2" stroke="#333" stroke-width="1.8"/>
<text x="1741" y="1266.7" font-size="27" text-anchor="middle" fill="#4d4d4d" stroke="#4d4d4d" stroke-width="0.5">Dec 07</text>
<line x1="1974.1" y1="1235.2" x2="1974.1" y2="1242.2" stroke="#333" stroke-width="1.8"/>
<text x="1974.1" y="1266.7" font-size="27" text-anchor="middle" fill="#4d4d4d" stroke="#4d4d4d" stroke-width="0.5">Dec 14</text>
<text x="1100" y="1174" font-size="26.9" text-anchor="middle" transform="rotate(-90 1100 1174)" stroke="#000" stroke-width="0.5">% Chose Lottery</text>
<text x="104.9" y="1482.9" font-size="37.3" font-weight="bold" stroke="#000" stroke-width="0.3">b. Silencing PPC has a short-lived effect of shifting animals away from choosing the lottery</text>
<text x="304" y="1580.2" font-size="34.5" text-anchor="middle" stroke="#000" stroke-width="0.5">Muscimol bilateral PPC</text>
<line x1="114.2" y1="1771.75" x2="495.6" y2="1771.75" stroke="#8c8c8c" stroke-width="1.6" stroke-dasharray="7.5 7.5"/>
<line x1="207.5" y1="1602.5" x2="207.5" y2="1941.3" stroke="#8c8c8c" stroke-width="1.6" stroke-dasharray="7.5 7.5"/>
<path d="M143.46,1913.22 L147.23,1912.31 L150.99,1911.27 L154.75,1910.1 L158.52,1908.79 L162.28,1907.3 L166.04,1905.64 L169.8,1903.77 L173.57,1901.67 L177.33,1899.32 L181.09,1896.7 L184.86,1893.78 L188.62,1890.54 L192.38,1886.94 L196.14,1882.97 L199.91,1878.6 L203.67,1873.8 L207.43,1868.57 L211.19,1862.87 L214.96,1856.71 L218.72,1850.08 L222.48,1842.99 L226.25,1835.44 L230.01,1827.47 L233.77,1819.1 L237.53,1810.39 L241.3,1801.38 L245.06,1792.14 L248.82,1782.73 L252.59,1773.23 L256.35,1763.72 L260.11,1754.28 L263.87,1744.98 L267.64,1735.89 L271.4,1727.07 L275.16,1718.59 L278.93,1710.5 L282.69,1702.82 L286.45,1695.58 L290.21,1688.8 L293.98,1682.5 L297.74,1676.66 L301.5,1671.28 L305.27,1666.35 L309.03,1661.85 L312.79,1657.75 L316.55,1654.04 L320.32,1650.69 L324.08,1647.67 L327.84,1644.96 L331.6,1642.53 L335.37,1640.36 L339.13,1638.42 L342.89,1636.69 L346.66,1635.16 L350.42,1633.79 L354.18,1632.58 L357.94,1631.5 L361.71,1630.55 L365.47,1629.71 L369.23,1628.96 L373,1628.3 L376.76,1627.72 L380.52,1627.21 L384.28,1626.75 L388.05,1626.35 L391.81,1626 L395.57,1625.69 L399.34,1625.42 L403.1,1625.18 L406.86,1624.96 L410.62,1624.78 L414.39,1624.61 L418.15,1624.47 L421.91,1624.34 L425.68,1624.22 L429.44,1624.13 L433.2,1624.04 L436.96,1623.96 L440.73,1623.89 L444.49,1623.83 L448.25,1623.78 L452.01,1623.74 L455.78,1623.7 L459.54,1623.66 L463.3,1623.63 L467.07,1623.6 L470.83,1623.58 L474.59,1623.56 L478.35,1623.54 L478.35,1623.71 L474.59,1623.75 L470.83,1623.8 L467.07,1623.85 L463.3,1623.91 L459.54,1623.98 L455.78,1624.05 L452.01,1624.14 L448.25,1624.24 L444.49,1624.35 L440.73,1624.47 L436.96,1624.61 L433.2,1624.77 L429.44,1624.95 L425.68,1625.16 L421.91,1625.39 L418.15,1625.65 L414.39,1625.94 L410.62,1626.27 L406.86,1626.65 L403.1,1627.07 L399.34,1627.55 L395.57,1628.1 L391.81,1628.71 L388.05,1629.39 L384.28,1630.17 L380.52,1631.04 L376.76,1632.02 L373,1633.12 L369.23,1634.36 L365.47,1635.75 L361.71,1637.31 L357.94,1639.05 L354.18,1641 L350.42,1643.17 L346.66,1645.59 L342.89,1648.28 L339.13,1651.27 L335.37,1654.56 L331.6,1658.2 L327.84,1662.21 L324.08,1666.59 L320.32,1671.38 L316.55,1676.59 L312.79,1682.23 L309.03,1688.31 L305.27,1694.83 L301.5,1701.78 L297.74,1709.16 L293.98,1716.92 L290.21,1725.06 L286.45,1733.51 L282.69,1742.25 L278.93,1751.2 L275.16,1760.3 L271.4,1769.49 L267.64,1778.7 L263.87,1787.86 L260.11,1796.89 L256.35,1805.74 L252.59,1814.34 L248.82,1822.64 L245.06,1830.59 L241.3,1838.16 L237.53,1845.32 L233.77,1852.05 L230.01,1858.35 L226.25,1864.2 L222.48,1869.62 L218.72,1874.61 L214.96,1879.2 L211.19,1883.38 L207.43,1887.2 L203.67,1890.66 L199.91,1893.79 L196.14,1896.62 L192.38,1899.17 L188.62,1901.46 L184.86,1903.52 L181.09,1905.36 L177.33,1907.01 L173.57,1908.48 L169.8,1909.79 L166.04,1910.96 L162.28,1911.99 L158.52,1912.92 L154.75,1913.74 L150.99,1914.47 L147.23,1915.12 L143.46,1915.69Z" fill="#f3da72" fill-opacity="0.95"/>
<path d="M143.46,1909.73 L147.23,1908.36 L150.99,1906.83 L154.75,1905.1 L158.52,1903.17 L162.28,1901 L166.04,1898.57 L169.8,1895.87 L173.57,1892.86 L177.33,1889.51 L181.09,1885.81 L184.86,1881.72 L188.62,1877.22 L192.38,1872.3 L196.14,1866.93 L199.91,1861.1 L203.67,1854.8 L207.43,1848.03 L211.19,1840.8 L214.96,1833.12 L218.72,1825.03 L222.48,1816.56 L226.25,1807.75 L230.01,1798.66 L233.77,1789.36 L237.53,1779.92 L241.3,1770.41 L245.06,1760.91 L248.82,1751.5 L252.59,1742.26 L256.35,1733.24 L260.11,1724.52 L263.87,1716.15 L267.64,1708.18 L271.4,1700.62 L275.16,1693.52 L278.93,1686.88 L282.69,1680.72 L286.45,1675.02 L290.21,1669.77 L293.98,1664.97 L297.74,1660.59 L301.5,1656.61 L305.27,1653.01 L309.03,1649.76 L312.79,1646.84 L316.55,1644.22 L320.32,1641.87 L324.08,1639.76 L327.84,1637.89 L331.6,1636.22 L335.37,1634.74 L339.13,1633.42 L342.89,1632.25 L346.66,1631.21 L350.42,1630.29 L354.18,1629.48 L357.94,1628.76 L361.71,1628.12 L365.47,1627.56 L369.23,1627.07 L373,1626.63 L376.76,1626.25 L380.52,1625.91 L384.28,1625.61 L388.05,1625.34 L391.81,1625.11 L395.57,1624.91 L399.34,1624.72 L403.1,1624.57 L406.86,1624.43 L410.62,1624.3 L414.39,1624.19 L418.15,1624.1 L421.91,1624.01 L425.68,1623.94 L429.44,1623.88 L433.2,1623.82 L436.96,1623.77 L440.73,1623.72 L444.49,1623.69 L448.25,1623.65 L452.01,1623.62 L455.78,1623.59 L459.54,1623.57 L463.3,1623.55 L467.07,1623.53 L470.83,1623.52 L474.59,1623.5 L478.35,1623.49" fill="none" stroke="#b4b6b7" stroke-width="1.6"/>
<line x1="180.67" y1="1878.56" x2="180.67" y2="1872.63" stroke="#7e8583" stroke-width="1.8"/>
<circle cx="180.67" cy="1876.19" r="6.4" fill="#7e8583"/>
<line x1="230.67" y1="1792.52" x2="230.67" y2="1783.62" stroke="#7e8583" stroke-width="1.8"/>
<circle cx="230.67" cy="1787.77" r="6.4" fill="#7e8583"/>
<line x1="279.8" y1="1724.28" x2="279.8" y2="1706.48" stroke="#7e8583" stroke-width="1.8"/>
<circle cx="279.8" cy="1709.74" r="6.4" fill="#7e8583"/>
<line x1="329.51" y1="1635.27" x2="329.51" y2="1630.82" stroke="#7e8583" stroke-width="1.8"/>
<circle cx="329.51" cy="1632.89" r="6.4" fill="#7e8583"/>
<line x1="378.65" y1="1653.07" x2="378.65" y2="1647.14" stroke="#7e8583" stroke-width="1.8"/>
<circle cx="378.65" cy="1650.1" r="6.4" fill="#7e8583"/>
<line x1="478.35" y1="1637.64" x2="478.35" y2="1623.4" stroke="#7e8583" stroke-width="1.8"/>
<circle cx="478.35" cy="1623.4" r="6.4" fill="#7e8583"/>
<line x1="185.77" y1="1907.64" x2="185.77" y2="1882.42" stroke="#e9c300" stroke-width="2"/>
<circle cx="185.77" cy="1896.36" r="6.4" fill="#e9c300"/>
<line x1="235.19" y1="1859.28" x2="235.19" y2="1798.45" stroke="#e9c300" stroke-width="2"/>
<circle cx="235.19" cy="1829.61" r="6.4" fill="#e9c300"/>
<line x1="284.9" y1="1777.68" x2="284.9" y2="1693.42" stroke="#e9c300" stroke-width="2"/>
<circle cx="284.9" cy="1732.88" r="6.4" fill="#e9c300"/>
<line x1="334.61" y1="1796.67" x2="334.61" y2="1683.63" stroke="#e9c300" stroke-width="2"/>
<circle cx="334.61" cy="1736.44" r="6.4" fill="#e9c300"/>
<line x1="383.74" y1="1691.05" x2="383.74" y2="1634.97" stroke="#e9c300" stroke-width="2"/>
<circle cx="383.74" cy="1653.96" r="6.4" fill="#e9c300"/>
<line x1="114.2" y1="1602.5" x2="114.2" y2="1942.3" stroke="#000" stroke-width="2.2"/>
<line x1="113.2" y1="1941.3" x2="495.6" y2="1941.3" stroke="#000" stroke-width="2.2"/>
<line x1="107.2" y1="1920.1" x2="114.2" y2="1920.1" stroke="#333" stroke-width="2"/>
<text x="100.2" y="1930.9" font-size="29.8" text-anchor="end" fill="#4d4d4d" stroke="#4d4d4d" stroke-width="0.5">0.0</text>
<line x1="107.2" y1="1771.75" x2="114.2" y2="1771.75" stroke="#333" stroke-width="2"/>
<text x="100.2" y="1782.55" font-size="29.8" text-anchor="end" fill="#4d4d4d" stroke="#4d4d4d" stroke-width="0.5">0.5</text>
<line x1="107.2" y1="1623.4" x2="114.2" y2="1623.4" stroke="#333" stroke-width="2"/>
<text x="100.2" y="1634.2" font-size="29.8" text-anchor="end" fill="#4d4d4d" stroke="#4d4d4d" stroke-width="0.5">1.0</text>
<line x1="149.81" y1="1941.3" x2="149.81" y2="1948.3" stroke="#333" stroke-width="2"/>
<text x="149.81" y="1976.3" font-size="30.3" text-anchor="middle" fill="#4d4d4d" stroke="#4d4d4d" stroke-width="0.5">−60</text>
<line x1="207.5" y1="1941.3" x2="207.5" y2="1948.3" stroke="#333" stroke-width="2"/>
<text x="207.5" y="1976.3" font-size="30.3" text-anchor="middle" fill="#4d4d4d" stroke="#4d4d4d" stroke-width="0.5">0</text>
<line x1="457.49" y1="1941.3" x2="457.49" y2="1948.3" stroke="#333" stroke-width="2"/>
<text x="457.49" y="1976.3" font-size="30.3" text-anchor="middle" fill="#4d4d4d" stroke="#4d4d4d" stroke-width="0.5">260</text>
<text x="45.5" y="1771.75" font-size="28.9" text-anchor="middle" transform="rotate(-90 45.5 1771.75)" stroke="#000" stroke-width="0.5">P(Chose Lottery)</text>
<text x="366" y="1879.9" font-size="27.2" text-anchor="middle" stroke="#000" stroke-width="0.5">332 trials</text>
<text x="373.7" y="1919.5" font-size="27.2" text-anchor="middle" stroke="#000" stroke-width="0.5">12 sessions</text>
<text stroke="#000" stroke-width="0.5"><tspan x="190" y="2010.7" font-size="28">EV</tspan><tspan x="228.15" y="2015.7" font-size="21.2">lottery</tspan><tspan x="289.82" y="2013.78" font-size="28">−</tspan><tspan x="311.88" y="2010.7" font-size="28">EV</tspan><tspan x="350.03" y="2015.7" font-size="21.2">surebet</tspan></text>
<text x="805" y="1580.2" font-size="34.5" text-anchor="middle" stroke="#000" stroke-width="0.5">Muscimol unilateral PPC</text>
<line x1="614.2" y1="1771.75" x2="995.6" y2="1771.75" stroke="#8c8c8c" stroke-width="1.6" stroke-dasharray="7.5 7.5"/>
<line x1="747.1" y1="1602.5" x2="747.1" y2="1941.3" stroke="#8c8c8c" stroke-width="1.6" stroke-dasharray="7.5 7.5"/>
<path d="M686.72,1911.87 L689.99,1910.91 L693.27,1909.84 L696.54,1908.66 L699.82,1907.34 L703.09,1905.87 L706.37,1904.25 L709.65,1902.46 L712.92,1900.48 L716.2,1898.29 L719.47,1895.88 L722.75,1893.22 L726.03,1890.31 L729.3,1887.13 L732.58,1883.64 L735.85,1879.85 L739.13,1875.73 L742.4,1871.27 L745.68,1866.45 L748.96,1861.27 L752.23,1855.73 L755.51,1849.81 L758.78,1843.54 L762.06,1836.9 L765.34,1829.93 L768.61,1822.64 L771.89,1815.06 L775.16,1807.23 L778.44,1799.18 L781.71,1790.96 L784.99,1782.61 L788.27,1774.2 L791.54,1765.77 L794.82,1757.38 L798.09,1749.09 L801.37,1740.93 L804.64,1732.96 L807.92,1725.23 L811.2,1717.77 L814.47,1710.61 L817.75,1703.78 L821.02,1697.29 L824.3,1691.17 L827.58,1685.41 L830.85,1680.02 L834.13,1674.99 L837.4,1670.32 L840.68,1666.01 L843.95,1662.02 L847.23,1658.36 L850.51,1655.01 L853.78,1651.94 L857.06,1649.14 L860.33,1646.59 L863.61,1644.27 L866.89,1642.17 L870.16,1640.27 L873.44,1638.55 L876.71,1636.99 L879.99,1635.59 L883.26,1634.33 L886.54,1633.2 L889.82,1632.17 L893.09,1631.26 L896.37,1630.43 L899.64,1629.69 L902.92,1629.03 L906.19,1628.44 L909.47,1627.9 L912.75,1627.43 L916.02,1627 L919.3,1626.62 L922.57,1626.27 L925.85,1625.97 L929.13,1625.69 L932.4,1625.45 L935.68,1625.23 L938.95,1625.03 L942.23,1624.86 L945.5,1624.7 L948.78,1624.56 L952.06,1624.44 L955.33,1624.33 L958.61,1624.23 L961.88,1624.14 L965.16,1624.06 L968.44,1623.99 L971.71,1623.93 L974.99,1623.87 L978.26,1623.82 L978.26,1624.1 L974.99,1624.18 L971.71,1624.27 L968.44,1624.37 L965.16,1624.49 L961.88,1624.62 L958.61,1624.76 L955.33,1624.92 L952.06,1625.1 L948.78,1625.3 L945.5,1625.52 L942.23,1625.77 L938.95,1626.05 L935.68,1626.36 L932.4,1626.71 L929.13,1627.1 L925.85,1627.53 L922.57,1628.01 L919.3,1628.55 L916.02,1629.15 L912.75,1629.81 L909.47,1630.55 L906.19,1631.38 L902.92,1632.3 L899.64,1633.31 L896.37,1634.45 L893.09,1635.7 L889.82,1637.09 L886.54,1638.63 L883.26,1640.33 L879.99,1642.21 L876.71,1644.28 L873.44,1646.56 L870.16,1649.06 L866.89,1651.81 L863.61,1654.82 L860.33,1658.11 L857.06,1661.69 L853.78,1665.58 L850.51,1669.8 L847.23,1674.35 L843.95,1679.25 L840.68,1684.5 L837.4,1690.11 L834.13,1696.08 L830.85,1702.4 L827.58,1709.05 L824.3,1716.03 L821.02,1723.31 L817.75,1730.86 L814.47,1738.64 L811.2,1746.63 L807.92,1754.76 L804.64,1763 L801.37,1771.29 L798.09,1779.59 L794.82,1787.84 L791.54,1795.99 L788.27,1803.99 L784.99,1811.8 L781.71,1819.37 L778.44,1826.68 L775.16,1833.69 L771.89,1840.39 L768.61,1846.74 L765.34,1852.75 L762.06,1858.4 L758.78,1863.69 L755.51,1868.63 L752.23,1873.22 L748.96,1877.47 L745.68,1881.4 L742.4,1885.01 L739.13,1888.33 L735.85,1891.37 L732.58,1894.14 L729.3,1896.68 L726.03,1898.98 L722.75,1901.07 L719.47,1902.97 L716.2,1904.69 L712.92,1906.25 L709.65,1907.65 L706.37,1908.92 L703.09,1910.07 L699.82,1911.1 L696.54,1912.02 L693.27,1912.86 L689.99,1913.61 L686.72,1914.28Z" fill="#e6a4df" fill-opacity="0.9"/>
<path d="M686.72,1907.63 L689.99,1906.2 L693.27,1904.6 L696.54,1902.84 L699.82,1900.89 L703.09,1898.74 L706.37,1896.37 L709.65,1893.75 L712.92,1890.88 L716.2,1887.74 L719.47,1884.3 L722.75,1880.56 L726.03,1876.48 L729.3,1872.07 L732.58,1867.3 L735.85,1862.17 L739.13,1856.66 L742.4,1850.79 L745.68,1844.55 L748.96,1837.96 L752.23,1831.01 L755.51,1823.75 L758.78,1816.19 L762.06,1808.36 L765.34,1800.31 L768.61,1792.09 L771.89,1783.73 L775.16,1775.3 L778.44,1766.85 L781.71,1758.42 L784.99,1750.09 L788.27,1741.88 L791.54,1733.87 L794.82,1726.09 L798.09,1718.57 L801.37,1711.35 L804.64,1704.47 L807.92,1697.92 L811.2,1691.74 L814.47,1685.93 L817.75,1680.49 L821.02,1675.41 L824.3,1670.7 L827.58,1666.34 L830.85,1662.32 L834.13,1658.63 L837.4,1655.24 L840.68,1652.14 L843.95,1649.31 L847.23,1646.74 L850.51,1644.4 L853.78,1642.28 L857.06,1640.36 L860.33,1638.63 L863.61,1637.06 L866.89,1635.65 L870.16,1634.38 L873.44,1633.24 L876.71,1632.21 L879.99,1631.28 L883.26,1630.46 L886.54,1629.71 L889.82,1629.04 L893.09,1628.45 L896.37,1627.91 L899.64,1627.43 L902.92,1627 L906.19,1626.62 L909.47,1626.27 L912.75,1625.97 L916.02,1625.69 L919.3,1625.45 L922.57,1625.23 L925.85,1625.03 L929.13,1624.86 L932.4,1624.7 L935.68,1624.56 L938.95,1624.44 L942.23,1624.33 L945.5,1624.23 L948.78,1624.14 L952.06,1624.06 L955.33,1623.99 L958.61,1623.92 L961.88,1623.87 L965.16,1623.82 L968.44,1623.77 L971.71,1623.73 L974.99,1623.7 L978.26,1623.66" fill="none" stroke="#b4b6b7" stroke-width="1.6"/>
<circle cx="719.97" cy="1876.19" r="6.4" fill="#7e8583"/>
<circle cx="769.36" cy="1787.77" r="6.4" fill="#7e8583"/>
<circle cx="819.1" cy="1696.39" r="6.4" fill="#7e8583"/>
<circle cx="868.84" cy="1646.54" r="6.4" fill="#7e8583"/>
<line x1="724.49" y1="1896.36" x2="724.49" y2="1890.43" stroke="#d65fcb" stroke-width="2"/>
<circle cx="724.49" cy="1893.69" r="6.4" fill="#d65fcb"/>
<line x1="773.88" y1="1827.23" x2="773.88" y2="1787.18" stroke="#d65fcb" stroke-width="2"/>
<circle cx="773.88" cy="1806.46" r="6.4" fill="#d65fcb"/>
<line x1="823.62" y1="1751.28" x2="823.62" y2="1702.32" stroke="#d65fcb" stroke-width="2"/>
<circle cx="823.62" cy="1725.17" r="6.4" fill="#d65fcb"/>
<line x1="873.63" y1="1699.36" x2="873.63" y2="1659" stroke="#d65fcb" stroke-width="2"/>
<circle cx="873.63" cy="1676.21" r="6.4" fill="#d65fcb"/>
<line x1="614.2" y1="1602.5" x2="614.2" y2="1942.3" stroke="#000" stroke-width="2.2"/>
<line x1="613.2" y1="1941.3" x2="995.6" y2="1941.3" stroke="#000" stroke-width="2.2"/>
<line x1="607.2" y1="1920.1" x2="614.2" y2="1920.1" stroke="#333" stroke-width="2"/>
<text x="600.2" y="1930.9" font-size="29.8" text-anchor="end" fill="#4d4d4d" stroke="#4d4d4d" stroke-width="0.5">0.0</text>
<line x1="607.2" y1="1771.75" x2="614.2" y2="1771.75" stroke="#333" stroke-width="2"/>
<text x="600.2" y="1782.55" font-size="29.8" text-anchor="end" fill="#4d4d4d" stroke="#4d4d4d" stroke-width="0.5">0.5</text>
<line x1="607.2" y1="1623.4" x2="614.2" y2="1623.4" stroke="#333" stroke-width="2"/>
<text x="600.2" y="1634.2" font-size="29.8" text-anchor="end" fill="#4d4d4d" stroke="#4d4d4d" stroke-width="0.5">1.0</text>
<line x1="693.9" y1="1941.3" x2="693.9" y2="1948.3" stroke="#333" stroke-width="2"/>
<text x="693.9" y="1976.3" font-size="30.3" text-anchor="middle" fill="#4d4d4d" stroke="#4d4d4d" stroke-width="0.5">−60</text>
<line x1="747.1" y1="1941.3" x2="747.1" y2="1948.3" stroke="#333" stroke-width="2"/>
<text x="747.1" y="1976.3" font-size="30.3" text-anchor="middle" fill="#4d4d4d" stroke="#4d4d4d" stroke-width="0.5">0</text>
<line x1="959.91" y1="1941.3" x2="959.91" y2="1948.3" stroke="#333" stroke-width="2"/>
<text x="959.91" y="1976.3" font-size="30.3" text-anchor="middle" fill="#4d4d4d" stroke="#4d4d4d" stroke-width="0.5">240</text>
<text x="545.5" y="1771.75" font-size="28.9" text-anchor="middle" transform="rotate(-90 545.5 1771.75)" stroke="#000" stroke-width="0.5">P(Chose Lottery)</text>
<text x="894" y="1879.9" font-size="27.2" text-anchor="middle" stroke="#000" stroke-width="0.5">863 trials</text>
<text x="901" y="1919.5" font-size="27.2" text-anchor="middle" stroke="#000" stroke-width="0.5">31 sessions</text>
<text stroke="#000" stroke-width="0.5"><tspan x="690" y="2010.7" font-size="28">EV</tspan><tspan x="728.15" y="2015.7" font-size="21.2">lottery</tspan><tspan x="789.82" y="2013.78" font-size="28">−</tspan><tspan x="811.88" y="2010.7" font-size="28">EV</tspan><tspan x="850.03" y="2015.7" font-size="21.2">surebet</tspan></text>
<text x="1305" y="1580.2" font-size="34.5" text-anchor="middle" stroke="#000" stroke-width="0.5">Muscimol unilateral PPC</text>
<line x1="1114.2" y1="1771.75" x2="1495.6" y2="1771.75" stroke="#8c8c8c" stroke-width="1.6" stroke-dasharray="7.5 7.5"/>
<line x1="1247.1" y1="1602.5" x2="1247.1" y2="1941.3" stroke="#8c8c8c" stroke-width="1.6" stroke-dasharray="7.5 7.5"/>
<circle cx="1200.1" cy="1873.22" r="6.4" fill="#7e8583"/>
<circle cx="1284.87" cy="1752.76" r="6.4" fill="#7e8583"/>
<circle cx="1373.63" cy="1645.65" r="6.4" fill="#7e8583"/>
<path d="M1136.09,1916.9 L1139.22,1916.57 L1142.36,1916.2 L1145.5,1915.79 L1148.64,1915.34 L1151.78,1914.84 L1154.92,1914.29 L1158.06,1913.68 L1161.2,1913.02 L1164.34,1912.28 L1167.48,1911.47 L1170.62,1910.59 L1173.76,1909.61 L1176.9,1908.54 L1180.03,1907.36 L1183.17,1906.06 L1186.31,1904.65 L1189.45,1903.1 L1192.59,1901.4 L1195.73,1899.55 L1198.87,1897.53 L1202.01,1895.33 L1205.15,1892.93 L1208.29,1890.33 L1211.43,1887.51 L1214.57,1884.46 L1217.71,1881.16 L1220.84,1877.61 L1223.98,1873.79 L1227.12,1869.7 L1230.26,1865.33 L1233.4,1860.66 L1236.54,1855.71 L1239.68,1850.46 L1242.82,1844.93 L1245.96,1839.11 L1249.1,1833.02 L1252.24,1826.67 L1255.38,1820.08 L1258.52,1813.26 L1261.65,1806.26 L1264.79,1799.08 L1267.93,1791.77 L1271.07,1784.36 L1274.21,1776.88 L1277.35,1769.38 L1280.49,1761.9 L1283.63,1754.46 L1286.77,1747.11 L1289.91,1739.88 L1293.05,1732.8 L1296.19,1725.91 L1299.33,1719.24 L1302.47,1712.79 L1305.6,1706.61 L1308.74,1700.69 L1311.88,1695.05 L1315.02,1689.69 L1318.16,1684.63 L1321.3,1679.86 L1324.44,1675.38 L1327.58,1671.19 L1330.72,1667.27 L1333.86,1663.62 L1337,1660.23 L1340.14,1657.09 L1343.28,1654.19 L1346.41,1651.5 L1349.55,1649.03 L1352.69,1646.76 L1355.83,1644.68 L1358.97,1642.76 L1362.11,1641.01 L1365.25,1639.41 L1368.39,1637.94 L1371.53,1636.61 L1374.67,1635.39 L1377.81,1634.28 L1380.95,1633.26 L1384.09,1632.34 L1387.22,1631.51 L1390.36,1630.75 L1393.5,1630.06 L1396.64,1629.43 L1399.78,1628.86 L1402.92,1628.34 L1406.06,1627.87 L1409.2,1627.45 L1412.34,1627.06 L1415.48,1626.72 L1418.62,1626.4 L1421.76,1626.11 L1424.9,1625.86 L1428.03,1625.62 L1431.17,1625.41 L1434.31,1625.22 L1437.45,1625.04 L1440.59,1624.89 L1443.73,1624.74 L1446.87,1624.61 L1450.01,1624.5 L1453.15,1624.39 L1456.29,1624.3 L1459.43,1624.21 L1462.57,1624.13 L1465.71,1624.06 L1468.84,1624 L1471.98,1623.94 L1475.12,1623.89 L1478.26,1623.84 L1478.26,1624.81 L1475.12,1624.94 L1471.98,1625.08 L1468.84,1625.24 L1465.71,1625.41 L1462.57,1625.6 L1459.43,1625.8 L1456.29,1626.02 L1453.15,1626.27 L1450.01,1626.53 L1446.87,1626.82 L1443.73,1627.14 L1440.59,1627.49 L1437.45,1627.86 L1434.31,1628.28 L1431.17,1628.72 L1428.03,1629.21 L1424.9,1629.75 L1421.76,1630.33 L1418.62,1630.96 L1415.48,1631.65 L1412.34,1632.4 L1409.2,1633.22 L1406.06,1634.1 L1402.92,1635.07 L1399.78,1636.12 L1396.64,1637.25 L1393.5,1638.49 L1390.36,1639.82 L1387.22,1641.27 L1384.09,1642.83 L1380.95,1644.53 L1377.81,1646.35 L1374.67,1648.33 L1371.53,1650.45 L1368.39,1652.74 L1365.25,1655.19 L1362.11,1657.83 L1358.97,1660.65 L1355.83,1663.67 L1352.69,1666.89 L1349.55,1670.32 L1346.41,1673.97 L1343.28,1677.85 L1340.14,1681.94 L1337,1686.27 L1333.86,1690.83 L1330.72,1695.61 L1327.58,1700.62 L1324.44,1705.85 L1321.3,1711.29 L1318.16,1716.93 L1315.02,1722.77 L1311.88,1728.77 L1308.74,1734.94 L1305.6,1741.24 L1302.47,1747.67 L1299.33,1754.18 L1296.19,1760.77 L1293.05,1767.4 L1289.91,1774.04 L1286.77,1780.68 L1283.63,1787.28 L1280.49,1793.82 L1277.35,1800.28 L1274.21,1806.62 L1271.07,1812.83 L1267.93,1818.89 L1264.79,1824.78 L1261.65,1830.48 L1258.52,1835.99 L1255.38,1841.28 L1252.24,1846.36 L1249.1,1851.22 L1245.96,1855.84 L1242.82,1860.24 L1239.68,1864.41 L1236.54,1868.35 L1233.4,1872.07 L1230.26,1875.57 L1227.12,1878.86 L1223.98,1881.94 L1220.84,1884.82 L1217.71,1887.51 L1214.57,1890.02 L1211.43,1892.36 L1208.29,1894.53 L1205.15,1896.55 L1202.01,1898.42 L1198.87,1900.16 L1195.73,1901.76 L1192.59,1903.24 L1189.45,1904.61 L1186.31,1905.88 L1183.17,1907.04 L1180.03,1908.12 L1176.9,1909.11 L1173.76,1910.02 L1170.62,1910.85 L1167.48,1911.62 L1164.34,1912.33 L1161.2,1912.98 L1158.06,1913.58 L1154.92,1914.13 L1151.78,1914.63 L1148.64,1915.09 L1145.5,1915.51 L1142.36,1915.9 L1139.22,1916.26 L1136.09,1916.58Z" fill="#4f86c0" fill-opacity="0.66"/>
<path d="M1136.09,1918.18 L1139.22,1917.97 L1142.36,1917.74 L1145.5,1917.49 L1148.64,1917.2 L1151.78,1916.89 L1154.92,1916.54 L1158.06,1916.15 L1161.2,1915.73 L1164.34,1915.25 L1167.48,1914.73 L1170.62,1914.15 L1173.76,1913.52 L1176.9,1912.81 L1180.03,1912.03 L1183.17,1911.18 L1186.31,1910.23 L1189.45,1909.19 L1192.59,1908.04 L1195.73,1906.77 L1198.87,1905.38 L1202.01,1903.85 L1205.15,1902.18 L1208.29,1900.34 L1211.43,1898.33 L1214.57,1896.14 L1217.71,1893.74 L1220.84,1891.13 L1223.98,1888.29 L1227.12,1885.21 L1230.26,1881.88 L1233.4,1878.28 L1236.54,1874.39 L1239.68,1870.22 L1242.82,1865.75 L1245.96,1860.97 L1249.1,1855.89 L1252.24,1850.5 L1255.38,1844.8 L1258.52,1838.8 L1261.65,1832.51 L1264.79,1825.95 L1267.93,1819.13 L1271.07,1812.08 L1274.21,1804.83 L1277.35,1797.41 L1280.49,1789.86 L1283.63,1782.21 L1286.77,1774.5 L1289.91,1766.78 L1293.05,1759.09 L1296.19,1751.46 L1299.33,1743.94 L1302.47,1736.57 L1305.6,1729.37 L1308.74,1722.39 L1311.88,1715.65 L1315.02,1709.16 L1318.16,1702.95 L1321.3,1697.04 L1324.44,1691.43 L1327.58,1686.12 L1330.72,1681.12 L1333.86,1676.44 L1337,1672.05 L1340.14,1667.96 L1343.28,1664.16 L1346.41,1660.64 L1349.55,1657.38 L1352.69,1654.37 L1355.83,1651.6 L1358.97,1649.05 L1362.11,1646.71 L1365.25,1644.57 L1368.39,1642.61 L1371.53,1640.82 L1374.67,1639.19 L1377.81,1637.71 L1380.95,1636.35 L1384.09,1635.12 L1387.22,1634.01 L1390.36,1632.99 L1393.5,1632.07 L1396.64,1631.23 L1399.78,1630.48 L1402.92,1629.79 L1406.06,1629.17 L1409.2,1628.61 L1412.34,1628.11 L1415.48,1627.65 L1418.62,1627.23 L1421.76,1626.86 L1424.9,1626.52 L1428.03,1626.21 L1431.17,1625.94 L1434.31,1625.69 L1437.45,1625.46 L1440.59,1625.26 L1443.73,1625.08 L1446.87,1624.91 L1450.01,1624.76 L1453.15,1624.63 L1456.29,1624.51 L1459.43,1624.4 L1462.57,1624.3 L1465.71,1624.21 L1468.84,1624.13 L1471.98,1624.06 L1475.12,1623.99 L1478.26,1623.94 L1478.26,1624.67 L1475.12,1624.8 L1471.98,1624.94 L1468.84,1625.1 L1465.71,1625.27 L1462.57,1625.46 L1459.43,1625.67 L1456.29,1625.89 L1453.15,1626.15 L1450.01,1626.42 L1446.87,1626.73 L1443.73,1627.06 L1440.59,1627.43 L1437.45,1627.83 L1434.31,1628.28 L1431.17,1628.77 L1428.03,1629.3 L1424.9,1629.89 L1421.76,1630.53 L1418.62,1631.24 L1415.48,1632.02 L1412.34,1632.87 L1409.2,1633.8 L1406.06,1634.82 L1402.92,1635.93 L1399.78,1637.15 L1396.64,1638.48 L1393.5,1639.93 L1390.36,1641.51 L1387.22,1643.23 L1384.09,1645.1 L1380.95,1647.13 L1377.81,1649.34 L1374.67,1651.73 L1371.53,1654.32 L1368.39,1657.11 L1365.25,1660.11 L1362.11,1663.35 L1358.97,1666.82 L1355.83,1670.54 L1352.69,1674.52 L1349.55,1678.75 L1346.41,1683.26 L1343.28,1688.02 L1340.14,1693.06 L1337,1698.36 L1333.86,1703.93 L1330.72,1709.74 L1327.58,1715.8 L1324.44,1722.08 L1321.3,1728.57 L1318.16,1735.24 L1315.02,1742.08 L1311.88,1749.05 L1308.74,1756.12 L1305.6,1763.27 L1302.47,1770.45 L1299.33,1777.64 L1296.19,1784.81 L1293.05,1791.91 L1289.91,1798.92 L1286.77,1805.81 L1283.63,1812.54 L1280.49,1819.1 L1277.35,1825.46 L1274.21,1831.6 L1271.07,1837.5 L1267.93,1843.16 L1264.79,1848.55 L1261.65,1853.69 L1258.52,1858.55 L1255.38,1863.15 L1252.24,1867.48 L1249.1,1871.55 L1245.96,1875.36 L1242.82,1878.92 L1239.68,1882.24 L1236.54,1885.33 L1233.4,1888.2 L1230.26,1890.86 L1227.12,1893.32 L1223.98,1895.59 L1220.84,1897.68 L1217.71,1899.61 L1214.57,1901.39 L1211.43,1903.02 L1208.29,1904.51 L1205.15,1905.89 L1202.01,1907.14 L1198.87,1908.29 L1195.73,1909.34 L1192.59,1910.31 L1189.45,1911.18 L1186.31,1911.99 L1183.17,1912.72 L1180.03,1913.38 L1176.9,1913.99 L1173.76,1914.55 L1170.62,1915.05 L1167.48,1915.51 L1164.34,1915.93 L1161.2,1916.31 L1158.06,1916.66 L1154.92,1916.97 L1151.78,1917.26 L1148.64,1917.52 L1145.5,1917.75 L1142.36,1917.97 L1139.22,1918.17 L1136.09,1918.34Z" fill="#eb9c6a" fill-opacity="0.62"/>
<path d="M1136.09,1917 L1139.22,1916.66 L1142.36,1916.29 L1145.5,1915.88 L1148.64,1915.42 L1151.78,1914.92 L1154.92,1914.36 L1158.06,1913.74 L1161.2,1913.06 L1164.34,1912.31 L1167.48,1911.48 L1170.62,1910.56 L1173.76,1909.55 L1176.9,1908.44 L1180.03,1907.21 L1183.17,1905.87 L1186.31,1904.39 L1189.45,1902.77 L1192.59,1900.99 L1195.73,1899.04 L1198.87,1896.91 L1202.01,1894.58 L1205.15,1892.04 L1208.29,1889.28 L1211.43,1886.29 L1214.57,1883.04 L1217.71,1879.53 L1220.84,1875.74 L1223.98,1871.67 L1227.12,1867.3 L1230.26,1862.63 L1233.4,1857.65 L1236.54,1852.36 L1239.68,1846.76 L1242.82,1840.87 L1245.96,1834.67 L1249.1,1828.2 L1252.24,1821.47 L1255.38,1814.5 L1258.52,1807.32 L1261.65,1799.95 L1264.79,1792.44 L1267.93,1784.82 L1271.07,1777.12 L1274.21,1769.4 L1277.35,1761.69 L1280.49,1754.04 L1283.63,1746.48 L1286.77,1739.05 L1289.91,1731.79 L1293.05,1724.74 L1296.19,1717.91 L1299.33,1711.33 L1302.47,1705.03 L1305.6,1699.01 L1308.74,1693.3 L1311.88,1687.89 L1315.02,1682.79 L1318.16,1677.99 L1321.3,1673.51 L1324.44,1669.32 L1327.58,1665.42 L1330.72,1661.8 L1333.86,1658.45 L1337,1655.36 L1340.14,1652.51 L1343.28,1649.89 L1346.41,1647.48 L1349.55,1645.28 L1352.69,1643.26 L1355.83,1641.41 L1358.97,1639.73 L1362.11,1638.2 L1365.25,1636.8 L1368.39,1635.53 L1371.53,1634.37 L1374.67,1633.32 L1377.81,1632.37 L1380.95,1631.51 L1384.09,1630.73 L1387.22,1630.02 L1390.36,1629.38 L1393.5,1628.8 L1396.64,1628.27 L1399.78,1627.8 L1402.92,1627.37 L1406.06,1626.98 L1409.2,1626.63 L1412.34,1626.31 L1415.48,1626.03 L1418.62,1625.77 L1421.76,1625.54 L1424.9,1625.33 L1428.03,1625.14 L1431.17,1624.97 L1434.31,1624.81 L1437.45,1624.67 L1440.59,1624.55 L1443.73,1624.44 L1446.87,1624.33 L1450.01,1624.24 L1453.15,1624.16 L1456.29,1624.08 L1459.43,1624.02 L1462.57,1623.96 L1465.71,1623.9 L1468.84,1623.85 L1471.98,1623.81 L1475.12,1623.77 L1478.26,1623.73" fill="none" stroke="#a9abac" stroke-width="1.6"/>
<line x1="1203.21" y1="1902.3" x2="1203.21" y2="1881.53" stroke="#2a6da6" stroke-width="2"/>
<circle cx="1203.21" cy="1891.32" r="6.4" fill="#2a6da6"/>
<line x1="1290.46" y1="1774.72" x2="1290.46" y2="1723.98" stroke="#2a6da6" stroke-width="2"/>
<circle cx="1290.46" cy="1750.39" r="6.4" fill="#2a6da6"/>
<line x1="1376.47" y1="1721.31" x2="1376.47" y2="1653.07" stroke="#2a6da6" stroke-width="2"/>
<circle cx="1376.47" cy="1679.77" r="6.4" fill="#2a6da6"/>
<line x1="1206.05" y1="1896.36" x2="1206.05" y2="1881.53" stroke="#e0873f" stroke-width="2"/>
<circle cx="1206.05" cy="1888.95" r="6.4" fill="#e0873f"/>
<line x1="1293.21" y1="1810.32" x2="1293.21" y2="1771.75" stroke="#e0873f" stroke-width="2"/>
<circle cx="1293.21" cy="1786.59" r="6.4" fill="#e0873f"/>
<line x1="1380.11" y1="1694.61" x2="1380.11" y2="1653.07" stroke="#e0873f" stroke-width="2"/>
<circle cx="1380.11" cy="1668.2" r="6.4" fill="#e0873f"/>
<line x1="1114.2" y1="1602.5" x2="1114.2" y2="1942.3" stroke="#000" stroke-width="2.2"/>
<line x1="1113.2" y1="1941.3" x2="1495.6" y2="1941.3" stroke="#000" stroke-width="2.2"/>
<line x1="1107.2" y1="1920.1" x2="1114.2" y2="1920.1" stroke="#333" stroke-width="2"/>
<text x="1100.2" y="1930.9" font-size="29.8" text-anchor="end" fill="#4d4d4d" stroke="#4d4d4d" stroke-width="0.5">0.0</text>
<line x1="1107.2" y1="1771.75" x2="1114.2" y2="1771.75" stroke="#333" stroke-width="2"/>
<text x="1100.2" y="1782.55" font-size="29.8" text-anchor="end" fill="#4d4d4d" stroke="#4d4d4d" stroke-width="0.5">0.5</text>
<line x1="1107.2" y1="1623.4" x2="1114.2" y2="1623.4" stroke="#333" stroke-width="2"/>
<text x="1100.2" y="1634.2" font-size="29.8" text-anchor="end" fill="#4d4d4d" stroke="#4d4d4d" stroke-width="0.5">1.0</text>
<line x1="1193.9" y1="1941.3" x2="1193.9" y2="1948.3" stroke="#333" stroke-width="2"/>
<text x="1193.9" y="1976.3" font-size="30.3" text-anchor="middle" fill="#4d4d4d" stroke="#4d4d4d" stroke-width="0.5">−60</text>
<line x1="1247.1" y1="1941.3" x2="1247.1" y2="1948.3" stroke="#333" stroke-width="2"/>
<text x="1247.1" y="1976.3" font-size="30.3" text-anchor="middle" fill="#4d4d4d" stroke="#4d4d4d" stroke-width="0.5">0</text>
<line x1="1459.91" y1="1941.3" x2="1459.91" y2="1948.3" stroke="#333" stroke-width="2"/>
<text x="1459.91" y="1976.3" font-size="30.3" text-anchor="middle" fill="#4d4d4d" stroke="#4d4d4d" stroke-width="0.5">240</text>
<text x="1045.5" y="1771.75" font-size="28.9" text-anchor="middle" transform="rotate(-90 1045.5 1771.75)" stroke="#000" stroke-width="0.5">P(Chose Right)</text>
<text x="1394" y="1879.9" font-size="27.2" text-anchor="middle" stroke="#000" stroke-width="0.5">863 trials</text>
<text x="1401" y="1919.5" font-size="27.2" text-anchor="middle" stroke="#000" stroke-width="0.5">31 sessions</text>
<text stroke="#000" stroke-width="0.5"><tspan x="1218.3" y="2010.7" font-size="28">EV</tspan><tspan x="1256.45" y="2015.7" font-size="21.2">right</tspan><tspan x="1301.63" y="2013.78" font-size="28">−</tspan><tspan x="1323.69" y="2010.7" font-size="28">EV</tspan><tspan x="1361.84" y="2015.7" font-size="21.2">left</tspan></text>
<line x1="1629.3" y1="1656.4" x2="2010.5" y2="1656.4" stroke="#8c8c8c" stroke-width="1.6" stroke-dasharray="7.5 7.5"/>
<circle cx="1646.62" cy="1844.17" r="5.3" fill="#000"/>
<circle cx="1664.75" cy="1860.54" r="5.3" fill="#000"/>
<circle cx="1682.88" cy="1926.01" r="5.3" fill="#000"/>
<circle cx="1701" cy="1865.89" r="5.3" fill="#000"/>
<circle cx="1719.12" cy="1897.14" r="5.3" fill="#000"/>
<circle cx="1737.25" cy="1845.65" r="5.3" fill="#000"/>
<circle cx="1755.38" cy="1867.68" r="5.3" fill="#000"/>
<circle cx="1773.5" cy="1751.31" r="5.3" fill="#000"/>
<circle cx="1791.62" cy="1749.23" r="5.3" fill="#000"/>
<circle cx="1809.75" cy="1680.48" r="5.3" fill="#000"/>
<circle cx="1827.88" cy="1665" r="5.3" fill="#000"/>
<circle cx="1846" cy="1729.29" r="5.3" fill="#000"/>
<circle cx="1864.12" cy="1668.87" r="5.3" fill="#000"/>
<circle cx="1882.25" cy="1642.08" r="5.3" fill="#000"/>
<circle cx="1900.38" cy="1623.33" r="5.3" fill="#000"/>
<circle cx="1918.5" cy="1622.74" r="5.3" fill="#000"/>
<circle cx="1936.62" cy="1617.38" r="5.3" fill="#000"/>
<circle cx="1954.75" cy="1620.95" r="5.3" fill="#000"/>
<circle cx="1972.88" cy="1630.18" r="5.3" fill="#000"/>
<circle cx="1991" cy="1631.37" r="5.3" fill="#000"/>
<line x1="1629.3" y1="1602.5" x2="1629.3" y2="1942.3" stroke="#000" stroke-width="2.2"/>
<line x1="1628.3" y1="1941.3" x2="2010.5" y2="1941.3" stroke="#000" stroke-width="2.2"/>
<line x1="1622.3" y1="1931.95" x2="1629.3" y2="1931.95" stroke="#333" stroke-width="2"/>
<text fill="#4d4d4d" stroke="#4d4d4d" stroke-width="0.5"><tspan x="1559" y="1947.15" font-size="29">10</tspan><tspan x="1590.8" y="1931.95" font-size="21">−6</tspan></text>
<line x1="1622.3" y1="1873.31" x2="1629.3" y2="1873.31" stroke="#333" stroke-width="2"/>
<text fill="#4d4d4d" stroke="#4d4d4d" stroke-width="0.5"><tspan x="1559" y="1888.51" font-size="29">10</tspan><tspan x="1590.8" y="1873.31" font-size="21">−5</tspan></text>
<line x1="1622.3" y1="1814.67" x2="1629.3" y2="1814.67" stroke="#333" stroke-width="2"/>
<text fill="#4d4d4d" stroke="#4d4d4d" stroke-width="0.5"><tspan x="1559" y="1829.87" font-size="29">10</tspan><tspan x="1590.8" y="1814.67" font-size="21">−4</tspan></text>
<line x1="1622.3" y1="1756.03" x2="1629.3" y2="1756.03" stroke="#333" stroke-width="2"/>
<text fill="#4d4d4d" stroke="#4d4d4d" stroke-width="0.5"><tspan x="1559" y="1771.23" font-size="29">10</tspan><tspan x="1590.8" y="1756.03" font-size="21">−3</tspan></text>
<line x1="1622.3" y1="1697.39" x2="1629.3" y2="1697.39" stroke="#333" stroke-width="2"/>
<text fill="#4d4d4d" stroke="#4d4d4d" stroke-width="0.5"><tspan x="1559" y="1712.59" font-size="29">10</tspan><tspan x="1590.8" y="1697.39" font-size="21">−2</tspan></text>
<line x1="1622.3" y1="1638.75" x2="1629.3" y2="1638.75" stroke="#333" stroke-width="2"/>
<text fill="#4d4d4d" stroke="#4d4d4d" stroke-width="0.5"><tspan x="1559" y="1653.95" font-size="29">10</tspan><tspan x="1590.8" y="1638.75" font-size="21">−1</tspan></text>
<line x1="1701" y1="1941.3" x2="1701" y2="1948.3" stroke="#333" stroke-width="2"/>
<text x="1701" y="1976.1" font-size="30" text-anchor="middle" fill="#4d4d4d" stroke="#4d4d4d" stroke-width="0.5">30</text>
<line x1="1809.75" y1="1941.3" x2="1809.75" y2="1948.3" stroke="#333" stroke-width="2"/>
<text x="1809.75" y="1976.1" font-size="30" text-anchor="middle" fill="#4d4d4d" stroke="#4d4d4d" stroke-width="0.5">60</text>
<line x1="1918.5" y1="1941.3" x2="1918.5" y2="1948.3" stroke="#333" stroke-width="2"/>
<text x="1918.5" y="1976.1" font-size="30" text-anchor="middle" fill="#4d4d4d" stroke="#4d4d4d" stroke-width="0.5">90</text>
<text x="1820" y="2016" font-size="28.9" text-anchor="middle" stroke="#000" stroke-width="0.5">Early trial cutoff</text>
<text x="1545" y="1771.9" font-size="29" text-anchor="middle" transform="rotate(-90 1545 1771.9)" stroke="#000" stroke-width="0.5">p value</text>
<text x="160.7" y="2096.1" font-size="28.9" stroke="#000" stroke-width="0.5">Dose(<tspan font-style="italic">μ</tspan>g)</text>
<rect x="295.4" y="2070.8" width="30.6" height="30.4" fill="#bfc1c2"/>
<line x1="310.7" y1="2071.8" x2="310.7" y2="2100.2" stroke="#7e8583" stroke-width="2"/>
<circle cx="310.7" cy="2086" r="6.4" fill="#7e8583"/>
<text x="341.8" y="2096.1" font-size="23.5" stroke="#000" stroke-width="0.5">0</text>
<rect x="369.8" y="2070.8" width="30.6" height="30.4" fill="#f2da78"/>
<line x1="385.1" y1="2071.8" x2="385.1" y2="2100.2" stroke="#e9c300" stroke-width="2"/>
<circle cx="385.1" cy="2086" r="6.4" fill="#e9c300"/>
<text x="416.2" y="2096.1" font-size="23.5" stroke="#000" stroke-width="0.5">0.3</text>
<text x="660.7" y="2096.1" font-size="28.9" stroke="#000" stroke-width="0.5">Dose(<tspan font-style="italic">μ</tspan>g)</text>
<rect x="795.4" y="2070.8" width="30.6" height="30.4" fill="#bfc1c2"/>
<line x1="810.7" y1="2071.8" x2="810.7" y2="2100.2" stroke="#7e8583" stroke-width="2"/>
<circle cx="810.7" cy="2086" r="6.4" fill="#7e8583"/>
<text x="841.8" y="2096.1" font-size="23.5" stroke="#000" stroke-width="0.5">0</text>
<rect x="869.8" y="2070.8" width="30.6" height="30.4" fill="#e6b0e0"/>
<line x1="885.1" y1="2071.8" x2="885.1" y2="2100.2" stroke="#d65fcb" stroke-width="2"/>
<circle cx="885.1" cy="2086" r="6.4" fill="#d65fcb"/>
<text x="916.2" y="2096.1" font-size="23.5" stroke="#000" stroke-width="0.5">0.3</text>
<text x="1132.5" y="2096.1" font-size="29.3" stroke="#000" stroke-width="0.5">Side</text>
<rect x="1204.8" y="2070.8" width="30.6" height="30.4" fill="#bfc1c2"/>
<line x1="1220.1" y1="2071.8" x2="1220.1" y2="2100.2" stroke="#7e8583" stroke-width="2"/>
<circle cx="1220.1" cy="2086" r="6.4" fill="#7e8583"/>
<text x="1251" y="2096.1" font-size="23.5" stroke="#000" stroke-width="0.5">Control</text>
<rect x="1340.2" y="2070.8" width="30.6" height="30.4" fill="#8fb3d8"/>
<line x1="1355.5" y1="2071.8" x2="1355.5" y2="2100.2" stroke="#2a6da6" stroke-width="2"/>
<circle cx="1355.5" cy="2086" r="6.4" fill="#2a6da6"/>
<text x="1387.3" y="2096.1" font-size="23.5" stroke="#000" stroke-width="0.5">L</text>
<rect x="1414.6" y="2070.8" width="30.6" height="30.4" fill="#efbf9e"/>
<line x1="1429.9" y1="2071.8" x2="1429.9" y2="2100.2" stroke="#e0873f" stroke-width="2"/>
<circle cx="1429.9" cy="2086" r="6.4" fill="#e0873f"/>
<text x="1461.7" y="2096.1" font-size="23.5" stroke="#000" stroke-width="0.5">R</text>
<text x="105.3" y="2223.9" font-size="37.25" font-weight="bold" stroke="#000" stroke-width="0.3">c. Silencing PPC has a short-lived effect of shifting animals away from choosing the lottery</text>
<text x="310.7" y="2278.2" font-size="34.4" text-anchor="middle" stroke="#000" stroke-width="0.5">Example bilateral PPC</text>
<text x="310.2" y="2315.7" font-size="34.4" text-anchor="middle" stroke="#000" stroke-width="0.5">early trials</text>
<path d="M167.85,2528.88 L171.42,2528.72 L174.98,2528.53 L178.55,2528.3 L182.12,2528.04 L185.69,2527.72 L189.25,2527.35 L192.82,2526.91 L196.39,2526.4 L199.95,2525.79 L203.52,2525.08 L207.09,2524.25 L210.66,2523.27 L214.22,2522.13 L217.79,2520.8 L221.36,2519.26 L224.92,2517.47 L228.49,2515.41 L232.06,2513.04 L235.62,2510.33 L239.19,2507.26 L242.76,2503.8 L246.33,2499.92 L249.89,2495.61 L253.46,2490.88 L257.03,2485.72 L260.59,2480.17 L264.16,2474.27 L267.73,2468.07 L271.3,2461.65 L274.86,2455.09 L278.43,2448.48 L282,2441.92 L285.56,2435.5 L289.13,2429.3 L292.7,2423.39 L296.27,2417.84 L299.83,2412.67 L303.4,2407.93 L306.97,2403.62 L310.53,2399.74 L314.1,2396.27 L317.67,2393.19 L321.24,2390.48 L324.8,2388.11 L328.37,2386.04 L331.94,2384.25 L335.5,2382.71 L339.07,2381.37 L342.64,2380.23 L346.21,2379.25 L349.77,2378.42 L353.34,2377.7 L356.91,2377.1 L360.47,2376.58 L364.04,2376.14 L367.61,2375.77 L371.18,2375.46 L374.74,2375.19 L378.31,2374.96 L381.88,2374.77 L385.44,2374.61 L389.01,2374.47 L392.58,2374.36 L396.14,2374.26 L399.71,2374.17 L403.28,2374.1 L406.85,2374.05 L410.41,2374 L413.98,2373.95 L417.55,2373.92 L421.11,2373.89 L424.68,2373.86 L428.25,2373.84 L431.82,2373.82 L435.38,2373.81 L438.95,2373.79 L442.52,2373.78 L446.08,2373.77 L449.65,2373.77 L449.65,2395.04 L446.08,2395.06 L442.52,2395.07 L438.95,2395.08 L435.38,2395.1 L431.82,2395.12 L428.25,2395.15 L424.68,2395.18 L421.11,2395.22 L417.55,2395.26 L413.98,2395.31 L410.41,2395.37 L406.85,2395.44 L403.28,2395.53 L399.71,2395.63 L396.14,2395.74 L392.58,2395.88 L389.01,2396.05 L385.44,2396.24 L381.88,2396.47 L378.31,2396.75 L374.74,2397.07 L371.18,2397.44 L367.61,2397.89 L364.04,2398.41 L360.47,2399.03 L356.91,2399.75 L353.34,2400.6 L349.77,2401.59 L346.21,2402.74 L342.64,2404.08 L339.07,2405.64 L335.5,2407.43 L331.94,2409.5 L328.37,2411.87 L324.8,2414.56 L321.24,2417.61 L317.67,2421.03 L314.1,2424.85 L310.53,2429.06 L306.97,2433.66 L303.4,2438.63 L299.83,2443.95 L296.27,2449.56 L292.7,2455.41 L289.13,2461.42 L285.56,2467.5 L282,2473.58 L278.43,2479.56 L274.86,2485.37 L271.3,2490.93 L267.73,2496.18 L264.16,2501.09 L260.59,2505.62 L257.03,2509.75 L253.46,2513.49 L249.89,2516.84 L246.33,2519.81 L242.76,2522.44 L239.19,2524.75 L235.62,2526.76 L232.06,2528.51 L228.49,2530.02 L224.92,2531.33 L221.36,2532.45 L217.79,2533.41 L214.22,2534.23 L210.66,2534.93 L207.09,2535.52 L203.52,2536.03 L199.95,2536.46 L196.39,2536.83 L192.82,2537.14 L189.25,2537.4 L185.69,2537.63 L182.12,2537.81 L178.55,2537.97 L174.98,2538.11 L171.42,2538.22 L167.85,2538.32Z" fill="#dddfe0"/>
<path d="M167.85,2530.42 L171.42,2530.28 L174.98,2530.1 L178.55,2529.9 L182.12,2529.66 L185.69,2529.38 L189.25,2529.05 L192.82,2528.66 L196.39,2528.19 L199.95,2527.65 L203.52,2527.01 L207.09,2526.26 L210.66,2525.38 L214.22,2524.35 L217.79,2523.15 L221.36,2521.76 L224.92,2520.14 L228.49,2518.26 L232.06,2516.11 L235.62,2513.64 L239.19,2510.82 L242.76,2507.63 L246.33,2504.05 L249.89,2500.05 L253.46,2495.62 L257.03,2490.78 L260.59,2485.53 L264.16,2479.91 L267.73,2473.96 L271.3,2467.75 L274.86,2461.35 L278.43,2454.86 L282,2448.35 L285.56,2441.94 L289.13,2435.69 L292.7,2429.69 L296.27,2424.01 L299.83,2418.7 L303.4,2413.79 L306.97,2409.3 L310.53,2405.23 L314.1,2401.57 L317.67,2398.32 L321.24,2395.45 L324.8,2392.92 L328.37,2390.72 L331.94,2388.8 L335.5,2387.14 L339.07,2385.71 L342.64,2384.48 L346.21,2383.42 L349.77,2382.52 L353.34,2381.75 L356.91,2381.1 L360.47,2380.54 L364.04,2380.06 L367.61,2379.66 L371.18,2379.32 L374.74,2379.03 L378.31,2378.78 L381.88,2378.57 L385.44,2378.4 L389.01,2378.25 L392.58,2378.12 L396.14,2378.02 L399.71,2377.93 L403.28,2377.85 L406.85,2377.79 L410.41,2377.73 L413.98,2377.69 L417.55,2377.65 L421.11,2377.62 L424.68,2377.59 L428.25,2377.57 L431.82,2377.55 L435.38,2377.53 L438.95,2377.52 L442.52,2377.5 L446.08,2377.49 L449.65,2377.49 L449.65,2387.82 L446.08,2387.83 L442.52,2387.84 L438.95,2387.85 L435.38,2387.87 L431.82,2387.89 L428.25,2387.92 L424.68,2387.95 L421.11,2387.98 L417.55,2388.02 L413.98,2388.07 L410.41,2388.13 L406.85,2388.19 L403.28,2388.27 L399.71,2388.37 L396.14,2388.48 L392.58,2388.61 L389.01,2388.76 L385.44,2388.95 L381.88,2389.17 L378.31,2389.42 L374.74,2389.73 L371.18,2390.08 L367.61,2390.51 L364.04,2391 L360.47,2391.59 L356.91,2392.27 L353.34,2393.07 L349.77,2394.02 L346.21,2395.11 L342.64,2396.39 L339.07,2397.88 L335.5,2399.6 L331.94,2401.59 L328.37,2403.87 L324.8,2406.47 L321.24,2409.42 L317.67,2412.76 L314.1,2416.49 L310.53,2420.63 L306.97,2425.18 L303.4,2430.14 L299.83,2435.47 L296.27,2441.14 L292.7,2447.09 L289.13,2453.25 L285.56,2459.54 L282,2465.88 L278.43,2472.17 L274.86,2478.33 L271.3,2484.27 L267.73,2489.92 L264.16,2495.24 L260.59,2500.18 L257.03,2504.71 L253.46,2508.84 L249.89,2512.55 L246.33,2515.87 L242.76,2518.81 L239.19,2521.4 L235.62,2523.66 L232.06,2525.64 L228.49,2527.35 L224.92,2528.82 L221.36,2530.1 L217.79,2531.19 L214.22,2532.12 L210.66,2532.92 L207.09,2533.6 L203.52,2534.18 L199.95,2534.67 L196.39,2535.09 L192.82,2535.45 L189.25,2535.75 L185.69,2536 L182.12,2536.22 L178.55,2536.4 L174.98,2536.56 L171.42,2536.69 L167.85,2536.8Z" fill="#c9cccd"/>
<path d="M167.85,2533.62 L171.42,2533.49 L174.98,2533.34 L178.55,2533.16 L182.12,2532.95 L185.69,2532.71 L189.25,2532.41 L192.82,2532.07 L196.39,2531.67 L199.95,2531.19 L203.52,2530.63 L207.09,2529.97 L210.66,2529.19 L214.22,2528.29 L217.79,2527.23 L221.36,2525.99 L224.92,2524.55 L228.49,2522.89 L232.06,2520.97 L235.62,2518.76 L239.19,2516.23 L242.76,2513.35 L246.33,2510.09 L249.89,2506.44 L253.46,2502.38 L257.03,2497.9 L260.59,2493.01 L264.16,2487.72 L267.73,2482.08 L271.3,2476.13 L274.86,2469.94 L278.43,2463.6 L282,2457.18 L285.56,2450.77 L289.13,2444.48 L292.7,2438.38 L296.27,2432.55 L299.83,2427.04 L303.4,2421.91 L306.97,2417.18 L310.53,2412.86 L314.1,2408.96 L317.67,2405.47 L321.24,2402.37 L324.8,2399.63 L328.37,2397.23 L331.94,2395.14 L335.5,2393.32 L339.07,2391.75 L342.64,2390.4 L346.21,2389.24 L349.77,2388.24 L353.34,2387.39 L356.91,2386.66 L360.47,2386.04 L364.04,2385.52 L367.61,2385.07 L371.18,2384.69 L374.74,2384.37 L378.31,2384.09 L381.88,2383.86 L385.44,2383.67 L389.01,2383.5 L392.58,2383.36 L396.14,2383.24 L399.71,2383.14 L403.28,2383.06 L406.85,2382.99 L410.41,2382.93 L413.98,2382.88 L417.55,2382.83 L421.11,2382.8 L424.68,2382.77 L428.25,2382.74 L431.82,2382.72 L435.38,2382.7 L438.95,2382.68 L442.52,2382.67 L446.08,2382.66 L449.65,2382.65" fill="none" stroke="#9ca0a2" stroke-width="7"/>
<path d="M167.85,2547.09 L171.42,2546.98 L174.98,2546.84 L178.55,2546.69 L182.12,2546.5 L185.69,2546.29 L189.25,2546.03 L192.82,2545.73 L196.39,2545.38 L199.95,2544.96 L203.52,2544.48 L207.09,2543.91 L210.66,2543.24 L214.22,2542.47 L217.79,2541.56 L221.36,2540.51 L224.92,2539.28 L228.49,2537.86 L232.06,2536.22 L235.62,2534.33 L239.19,2532.17 L242.76,2529.71 L246.33,2526.91 L249.89,2523.76 L253.46,2520.24 L257.03,2516.32 L260.59,2512 L264.16,2507.29 L267.73,2502.2 L271.3,2496.77 L274.86,2491.04 L278.43,2485.06 L282,2478.92 L285.56,2472.68 L289.13,2466.43 L292.7,2460.26 L296.27,2454.25 L299.83,2448.46 L303.4,2442.97 L306.97,2437.81 L310.53,2433.03 L314.1,2428.63 L317.67,2424.64 L321.24,2421.04 L324.8,2417.81 L328.37,2414.95 L331.94,2412.43 L335.5,2410.21 L339.07,2408.27 L342.64,2406.59 L346.21,2405.13 L349.77,2403.87 L353.34,2402.78 L356.91,2401.85 L360.47,2401.04 L364.04,2400.36 L367.61,2399.77 L371.18,2399.27 L374.74,2398.85 L378.31,2398.48 L381.88,2398.17 L385.44,2397.91 L389.01,2397.69 L392.58,2397.5 L396.14,2397.33 L399.71,2397.2 L403.28,2397.08 L406.85,2396.98 L410.41,2396.9 L413.98,2396.83 L417.55,2396.77 L421.11,2396.71 L424.68,2396.67 L428.25,2396.63 L431.82,2396.6 L435.38,2396.58 L438.95,2396.55 L442.52,2396.53 L446.08,2396.52 L449.65,2396.5 L449.65,2440.5 L446.08,2440.52 L442.52,2440.54 L438.95,2440.56 L435.38,2440.6 L431.82,2440.63 L428.25,2440.67 L424.68,2440.73 L421.11,2440.78 L417.55,2440.86 L413.98,2440.94 L410.41,2441.04 L406.85,2441.15 L403.28,2441.29 L399.71,2441.45 L396.14,2441.63 L392.58,2441.86 L389.01,2442.11 L385.44,2442.42 L381.88,2442.78 L378.31,2443.2 L374.74,2443.69 L371.18,2444.26 L367.61,2444.93 L364.04,2445.71 L360.47,2446.61 L356.91,2447.66 L353.34,2448.88 L349.77,2450.28 L346.21,2451.88 L342.64,2453.72 L339.07,2455.8 L335.5,2458.15 L331.94,2460.8 L328.37,2463.74 L324.8,2466.99 L321.24,2470.55 L317.67,2474.42 L314.1,2478.56 L310.53,2482.94 L306.97,2487.54 L303.4,2492.28 L299.83,2497.13 L296.27,2502 L292.7,2506.83 L289.13,2511.57 L285.56,2516.15 L282,2520.51 L278.43,2524.62 L274.86,2528.45 L271.3,2531.98 L267.73,2535.21 L264.16,2538.12 L260.59,2540.73 L257.03,2543.06 L253.46,2545.12 L249.89,2546.93 L246.33,2548.51 L242.76,2549.89 L239.19,2551.09 L235.62,2552.12 L232.06,2553.01 L228.49,2553.78 L224.92,2554.44 L221.36,2555.01 L217.79,2555.49 L214.22,2555.9 L210.66,2556.25 L207.09,2556.55 L203.52,2556.81 L199.95,2557.02 L196.39,2557.21 L192.82,2557.37 L189.25,2557.5 L185.69,2557.61 L182.12,2557.71 L178.55,2557.79 L174.98,2557.86 L171.42,2557.92 L167.85,2557.97Z" fill="#f1e6b3" fill-opacity="0.95"/>
<path d="M167.85,2549.26 L171.42,2549.17 L174.98,2549.06 L178.55,2548.93 L182.12,2548.78 L185.69,2548.59 L189.25,2548.38 L192.82,2548.13 L196.39,2547.84 L199.95,2547.5 L203.52,2547.09 L207.09,2546.62 L210.66,2546.06 L214.22,2545.42 L217.79,2544.66 L221.36,2543.77 L224.92,2542.74 L228.49,2541.55 L232.06,2540.17 L235.62,2538.57 L239.19,2536.74 L242.76,2534.63 L246.33,2532.24 L249.89,2529.52 L253.46,2526.47 L257.03,2523.05 L260.59,2519.25 L264.16,2515.08 L267.73,2510.53 L271.3,2505.63 L274.86,2500.4 L278.43,2494.89 L282,2489.16 L285.56,2483.27 L289.13,2477.3 L292.7,2471.34 L296.27,2465.47 L299.83,2459.75 L303.4,2454.26 L306.97,2449.05 L310.53,2444.18 L314.1,2439.66 L317.67,2435.52 L321.24,2431.75 L324.8,2428.36 L328.37,2425.33 L331.94,2422.65 L335.5,2420.28 L339.07,2418.2 L342.64,2416.38 L346.21,2414.8 L349.77,2413.44 L353.34,2412.26 L356.91,2411.24 L360.47,2410.37 L364.04,2409.62 L367.61,2408.98 L371.18,2408.43 L374.74,2407.96 L378.31,2407.56 L381.88,2407.22 L385.44,2406.93 L389.01,2406.69 L392.58,2406.48 L396.14,2406.3 L399.71,2406.15 L403.28,2406.02 L406.85,2405.91 L410.41,2405.82 L413.98,2405.74 L417.55,2405.67 L421.11,2405.62 L424.68,2405.57 L428.25,2405.53 L431.82,2405.5 L435.38,2405.47 L438.95,2405.44 L442.52,2405.42 L446.08,2405.4 L449.65,2405.39 L449.65,2431.2 L446.08,2431.22 L442.52,2431.24 L438.95,2431.26 L435.38,2431.29 L431.82,2431.32 L428.25,2431.36 L424.68,2431.41 L421.11,2431.47 L417.55,2431.53 L413.98,2431.61 L410.41,2431.7 L406.85,2431.8 L403.28,2431.93 L399.71,2432.08 L396.14,2432.25 L392.58,2432.45 L389.01,2432.69 L385.44,2432.97 L381.88,2433.3 L378.31,2433.69 L374.74,2434.15 L371.18,2434.68 L367.61,2435.3 L364.04,2436.02 L360.47,2436.87 L356.91,2437.85 L353.34,2438.99 L349.77,2440.3 L346.21,2441.81 L342.64,2443.55 L339.07,2445.53 L335.5,2447.78 L331.94,2450.32 L328.37,2453.17 L324.8,2456.34 L321.24,2459.83 L317.67,2463.66 L314.1,2467.8 L310.53,2472.23 L306.97,2476.92 L303.4,2481.82 L299.83,2486.87 L296.27,2492.02 L292.7,2497.19 L289.13,2502.31 L285.56,2507.32 L282,2512.15 L278.43,2516.75 L274.86,2521.07 L271.3,2525.09 L267.73,2528.8 L264.16,2532.17 L260.59,2535.22 L257.03,2537.95 L253.46,2540.38 L249.89,2542.53 L246.33,2544.41 L242.76,2546.06 L239.19,2547.5 L235.62,2548.74 L232.06,2549.82 L228.49,2550.75 L224.92,2551.55 L221.36,2552.23 L217.79,2552.82 L214.22,2553.32 L210.66,2553.75 L207.09,2554.11 L203.52,2554.42 L199.95,2554.69 L196.39,2554.91 L192.82,2555.11 L189.25,2555.27 L185.69,2555.41 L182.12,2555.52 L178.55,2555.62 L174.98,2555.71 L171.42,2555.78 L167.85,2555.84Z" fill="#e7cf6e" fill-opacity="0.95"/>
<path d="M167.85,2552.87 L171.42,2552.8 L174.98,2552.71 L178.55,2552.6 L182.12,2552.48 L185.69,2552.33 L189.25,2552.16 L192.82,2551.96 L196.39,2551.72 L199.95,2551.44 L203.52,2551.11 L207.09,2550.73 L210.66,2550.28 L214.22,2549.75 L217.79,2549.13 L221.36,2548.41 L224.92,2547.57 L228.49,2546.59 L232.06,2545.46 L235.62,2544.14 L239.19,2542.63 L242.76,2540.89 L246.33,2538.89 L249.89,2536.62 L253.46,2534.05 L257.03,2531.16 L260.59,2527.93 L264.16,2524.35 L267.73,2520.41 L271.3,2516.13 L274.86,2511.52 L278.43,2506.61 L282,2501.44 L285.56,2496.08 L289.13,2490.58 L292.7,2485.02 L296.27,2479.48 L299.83,2474.02 L303.4,2468.72 L306.97,2463.64 L310.53,2458.83 L314.1,2454.33 L317.67,2450.17 L321.24,2446.36 L324.8,2442.9 L328.37,2439.79 L331.94,2437.02 L335.5,2434.55 L339.07,2432.38 L342.64,2430.48 L346.21,2428.82 L349.77,2427.38 L353.34,2426.13 L356.91,2425.06 L360.47,2424.13 L364.04,2423.33 L367.61,2422.65 L371.18,2422.07 L374.74,2421.57 L378.31,2421.14 L381.88,2420.78 L385.44,2420.47 L389.01,2420.2 L392.58,2419.98 L396.14,2419.79 L399.71,2419.63 L403.28,2419.49 L406.85,2419.37 L410.41,2419.27 L413.98,2419.19 L417.55,2419.12 L421.11,2419.06 L424.68,2419.01 L428.25,2418.96 L431.82,2418.93 L435.38,2418.89 L438.95,2418.87 L442.52,2418.85 L446.08,2418.83 L449.65,2418.81" fill="none" stroke="#d9b92f" stroke-width="8"/>
<line x1="216.1" y1="2336" x2="216.1" y2="2584.6" stroke="#8f8f8f" stroke-width="3.2" stroke-dasharray="14 13.5"/>
<line x1="153.6" y1="2460" x2="463.6" y2="2460" stroke="#8f8f8f" stroke-width="3.2" stroke-dasharray="13 14"/>
<line x1="185.82" y1="2532.24" x2="185.82" y2="2521.92" stroke="#7f8584" stroke-width="2.8"/>
<circle cx="185.82" cy="2526.46" r="11" fill="#7f8584"/>
<line x1="242.28" y1="2550.82" x2="242.28" y2="2544.62" stroke="#7f8584" stroke-width="2.8"/>
<circle cx="242.28" cy="2547.1" r="11" fill="#7f8584"/>
<line x1="305.93" y1="2439.36" x2="305.93" y2="2402.21" stroke="#7f8584" stroke-width="2.8"/>
<circle cx="305.93" cy="2422.85" r="11" fill="#7f8584"/>
<line x1="421.93" y1="2416.24" x2="421.93" y2="2375.79" stroke="#7f8584" stroke-width="2.8"/>
<circle cx="421.93" cy="2392.09" r="11" fill="#7f8584"/>
<line x1="193" y1="2557.01" x2="193" y2="2554.94" stroke="#d4b000" stroke-width="2.8"/>
<circle cx="193" cy="2556.18" r="11" fill="#d4b000"/>
<line x1="242.79" y1="2563.2" x2="242.79" y2="2501.28" stroke="#d4b000" stroke-width="2.8"/>
<circle cx="242.79" cy="2563.2" r="11" fill="#d4b000"/>
<line x1="307.47" y1="2543.39" x2="307.47" y2="2408.4" stroke="#d4b000" stroke-width="2.8"/>
<circle cx="307.47" cy="2485.8" r="11" fill="#d4b000"/>
<line x1="416.8" y1="2500.87" x2="416.8" y2="2372.49" stroke="#d4b000" stroke-width="2.8"/>
<circle cx="416.8" cy="2425.53" r="11" fill="#d4b000"/>
<text x="318.4" y="2554.3" font-size="35" text-anchor="middle" stroke="#000" stroke-width="0.5">2156</text>
<line x1="153.6" y1="2336" x2="153.6" y2="2585.6" stroke="#000" stroke-width="2.4"/>
<line x1="152.6" y1="2584.6" x2="463.6" y2="2584.6" stroke="#000" stroke-width="2.4"/>
<line x1="146.6" y1="2563.2" x2="153.6" y2="2563.2" stroke="#333" stroke-width="2"/>
<text x="138.1" y="2572.2" font-size="25" text-anchor="end" fill="#4d4d4d" stroke="#4d4d4d" stroke-width="0.5">0.0</text>
<line x1="146.6" y1="2460" x2="153.6" y2="2460" stroke="#333" stroke-width="2"/>
<text x="138.1" y="2469" font-size="25" text-anchor="end" fill="#4d4d4d" stroke="#4d4d4d" stroke-width="0.5">0.5</text>
<line x1="146.6" y1="2356.8" x2="153.6" y2="2356.8" stroke="#333" stroke-width="2"/>
<text x="138.1" y="2365.8" font-size="25" text-anchor="end" fill="#4d4d4d" stroke="#4d4d4d" stroke-width="0.5">1.0</text>
<line x1="216.1" y1="2584.6" x2="216.1" y2="2591.6" stroke="#333" stroke-width="2"/>
<text x="216.1" y="2616.6" font-size="25" text-anchor="middle" fill="#4d4d4d" stroke="#4d4d4d" stroke-width="0.5">0.0</text>
<line x1="421.42" y1="2584.6" x2="421.42" y2="2591.6" stroke="#333" stroke-width="2"/>
<text x="421.42" y="2616.6" font-size="25" text-anchor="middle" fill="#4d4d4d" stroke="#4d4d4d" stroke-width="0.5">0.4</text>
<text x="88.5" y="2459" font-size="31.6" text-anchor="middle" transform="rotate(-90 88.5 2459)" stroke="#000" stroke-width="0.5">P(Chose lottery)</text>
<text stroke="#000" stroke-width="0.5"><tspan x="183.7" y="2653.2" font-size="30.4">EV</tspan><tspan x="225.05" y="2658.7" font-size="23">lottery</tspan><tspan x="293.16" y="2656.54" font-size="30.4">−</tspan><tspan x="315.91" y="2653.2" font-size="30.4">EV</tspan><tspan x="357.26" y="2658.7" font-size="23">surebet</tspan></text>
<line x1="729.2" y1="2280" x2="729.2" y2="2584.5" stroke="#bdbdbd" stroke-width="1.3"/>
<path d="M700.2,2409.8 L700.2,2335.3 L700.57,2333.51 L701.52,2328.88 L702.47,2324.3 L703.42,2319.84 L704.37,2315.52 L705.32,2311.38 L706.27,2307.48 L707.22,2303.85 L708.17,2300.53 L709.12,2297.56 L710.07,2294.96 L711.02,2292.78 L711.97,2291.04 L712.92,2289.75 L713.87,2288.93 L714.82,2288.6 L715.77,2288.75 L716.72,2289.39 L717.67,2290.5 L718.62,2292.08 L719.57,2294.1 L720.52,2296.54 L721.47,2299.37 L722.42,2302.56 L723.37,2306.08 L724.32,2309.89 L725.27,2313.94 L726.23,2318.19 L727.18,2322.61 L728.13,2327.15 L729.08,2331.76 L730.03,2336.41 L730.98,2341.06 L731.1,2341.67 L731.1,2409.8Z" fill="#e5d68a"/>
<line x1="716.1" y1="2409.8" x2="716.1" y2="2288.92" stroke="#d2bd55" stroke-width="1.3"/>
<path d="M650.2,2409.79 L651.15,2409.79 L652.1,2409.78 L653.05,2409.78 L654,2409.77 L654.95,2409.76 L655.9,2409.75 L656.85,2409.73 L657.8,2409.72 L658.75,2409.69 L659.7,2409.66 L660.65,2409.63 L661.6,2409.59 L662.55,2409.53 L663.5,2409.47 L664.45,2409.39 L665.41,2409.29 L666.36,2409.17 L667.31,2409.03 L668.26,2408.86 L669.21,2408.65 L670.16,2408.41 L671.11,2408.12 L672.06,2407.79 L673.01,2407.39 L673.96,2406.93 L674.91,2406.39 L675.86,2405.77 L676.81,2405.06 L677.76,2404.24 L678.71,2403.31 L679.66,2402.25 L680.61,2401.05 L681.56,2399.7 L682.51,2398.19 L683.46,2396.51 L684.41,2394.65 L685.36,2392.59 L686.31,2390.34 L687.26,2387.87 L688.21,2385.2 L689.16,2382.3 L690.11,2379.2 L691.06,2375.87 L692.01,2372.34 L692.96,2368.6 L693.91,2364.67 L694.86,2360.57 L695.82,2356.31 L696.77,2351.91 L697.72,2347.4 L698.67,2342.81 L699.62,2338.16 L700.57,2333.51 L701.52,2328.88 L702.47,2324.3 L703.42,2319.84 L704.37,2315.52 L705.32,2311.38 L706.27,2307.48 L707.22,2303.85 L708.17,2300.53 L709.12,2297.56 L710.07,2294.96 L711.02,2292.78 L711.97,2291.04 L712.92,2289.75 L713.87,2288.93 L714.82,2288.6 L715.77,2288.75 L716.72,2289.39 L717.67,2290.5 L718.62,2292.08 L719.57,2294.1 L720.52,2296.54 L721.47,2299.37 L722.42,2302.56 L723.37,2306.08 L724.32,2309.89 L725.27,2313.94 L726.23,2318.19 L727.18,2322.61 L728.13,2327.15 L729.08,2331.76 L730.03,2336.41 L730.98,2341.06 L731.93,2345.68 L732.88,2350.22 L733.83,2354.67 L734.78,2358.98 L735.73,2363.15 L736.68,2367.15 L737.63,2370.96 L738.58,2374.57 L739.53,2377.97 L740.48,2381.16 L741.43,2384.13 L742.38,2386.89 L743.33,2389.43 L744.28,2391.77 L745.23,2393.9 L746.18,2395.83 L747.13,2397.58 L748.08,2399.15 L749.03,2400.56 L749.98,2401.81 L750.93,2402.92 L751.88,2403.9 L752.83,2404.76 L753.78,2405.52 L754.73,2406.17 L755.68,2406.74 L756.64,2407.23 L757.59,2407.65 L758.54,2408 L759.49,2408.31 L760.44,2408.57 L761.39,2408.78 L762.34,2408.97 L763.29,2409.12 L764.24,2409.25 L765.19,2409.35 L766.14,2409.44 L767.09,2409.51 L768.04,2409.57 L768.99,2409.61 L769.94,2409.65 L770.89,2409.68 L771.84,2409.71 L772.79,2409.73 L773.74,2409.74 L774.69,2409.76 L775.64,2409.77 L776.59,2409.77 L777.54,2409.78 L778.49,2409.78 L779.44,2409.79 L780.39,2409.79 L781.34,2409.79 L782.29,2409.79 L783.24,2409.8 L784.19,2409.8 L785.14,2409.8 L786.09,2409.8 L787.05,2409.8 L788,2409.8 L788.95,2409.8 L789.9,2409.8 L790.85,2409.8 L791.8,2409.8 L792.75,2409.8 L793.7,2409.8 L794.65,2409.8 L795.6,2409.8 L796.55,2409.8 L797.5,2409.8 L798.45,2409.8 L799.4,2409.8 L800.35,2409.8 L801.3,2409.8" fill="none" stroke="#cdb42a" stroke-width="3.1" stroke-linejoin="round"/>
<line x1="650.2" y1="2409.8" x2="801.3" y2="2409.8" stroke="#cdb42a" stroke-width="3.6" stroke-linecap="round"/>
<path d="M726.25,2544.4 L726.25,2462.85 L726.8,2459.84 L727.6,2455.55 L728.4,2451.38 L729.19,2447.38 L729.99,2443.57 L730.79,2439.99 L731.59,2436.69 L732.39,2433.68 L733.18,2431 L733.98,2428.68 L734.78,2426.75 L735.58,2425.22 L736.38,2424.11 L737.18,2423.44 L737.97,2423.2 L738.77,2423.37 L739.57,2423.9 L740.37,2424.78 L741.17,2426.02 L741.96,2427.59 L742.76,2429.48 L743.56,2431.68 L744.36,2434.17 L745.16,2436.92 L745.95,2439.92 L746.75,2443.14 L747.55,2446.55 L748.35,2450.13 L749.15,2453.84 L749.95,2457.68 L750.74,2461.59 L751.54,2465.57 L752.34,2469.58 L753.14,2473.6 L753.8,2476.92 L753.8,2544.4Z" fill="#e5d68a"/>
<line x1="740" y1="2544.4" x2="740" y2="2424.33" stroke="#d2bd55" stroke-width="1.3"/>
<path d="M684.5,2544.37 L685.3,2544.36 L686.1,2544.35 L686.89,2544.33 L687.69,2544.32 L688.49,2544.29 L689.29,2544.27 L690.09,2544.23 L690.88,2544.19 L691.68,2544.14 L692.48,2544.08 L693.28,2544.01 L694.08,2543.92 L694.88,2543.82 L695.67,2543.69 L696.47,2543.54 L697.27,2543.36 L698.07,2543.15 L698.87,2542.9 L699.66,2542.61 L700.46,2542.27 L701.26,2541.88 L702.06,2541.42 L702.86,2540.9 L703.65,2540.29 L704.45,2539.6 L705.25,2538.82 L706.05,2537.93 L706.85,2536.92 L707.65,2535.79 L708.44,2534.52 L709.24,2533.11 L710.04,2531.54 L710.84,2529.81 L711.64,2527.91 L712.43,2525.83 L713.23,2523.56 L714.03,2521.09 L714.83,2518.44 L715.63,2515.58 L716.42,2512.53 L717.22,2509.29 L718.02,2505.85 L718.82,2502.23 L719.62,2498.44 L720.42,2494.5 L721.21,2490.41 L722.01,2486.2 L722.81,2481.89 L723.61,2477.51 L724.41,2473.08 L725.2,2468.64 L726,2464.21 L726.8,2459.84 L727.6,2455.55 L728.4,2451.38 L729.19,2447.38 L729.99,2443.57 L730.79,2439.99 L731.59,2436.69 L732.39,2433.68 L733.18,2431 L733.98,2428.68 L734.78,2426.75 L735.58,2425.22 L736.38,2424.11 L737.18,2423.44 L737.97,2423.2 L738.77,2423.37 L739.57,2423.9 L740.37,2424.78 L741.17,2426.02 L741.96,2427.59 L742.76,2429.48 L743.56,2431.68 L744.36,2434.17 L745.16,2436.92 L745.95,2439.92 L746.75,2443.14 L747.55,2446.55 L748.35,2450.13 L749.15,2453.84 L749.95,2457.68 L750.74,2461.59 L751.54,2465.57 L752.34,2469.58 L753.14,2473.6 L753.94,2477.6 L754.73,2481.56 L755.53,2485.46 L756.33,2489.29 L757.13,2493.02 L757.93,2496.65 L758.72,2500.15 L759.52,2503.51 L760.32,2506.73 L761.12,2509.81 L761.92,2512.72 L762.72,2515.48 L763.51,2518.07 L764.31,2520.51 L765.11,2522.78 L765.91,2524.9 L766.71,2526.86 L767.5,2528.67 L768.3,2530.34 L769.1,2531.86 L769.9,2533.26 L770.7,2534.53 L771.49,2535.68 L772.29,2536.72 L773.09,2537.65 L773.89,2538.49 L774.69,2539.24 L775.48,2539.91 L776.28,2540.51 L777.08,2541.03 L777.88,2541.49 L778.68,2541.9 L779.48,2542.26 L780.27,2542.57 L781.07,2542.84 L781.87,2543.07 L782.67,2543.28 L783.47,2543.45 L784.26,2543.6 L785.06,2543.73 L785.86,2543.84 L786.66,2543.93 L787.46,2544.01 L788.25,2544.08 L789.05,2544.13 L789.85,2544.18 L790.65,2544.22 L791.45,2544.25 L792.25,2544.28 L793.04,2544.3 L793.84,2544.32 L794.64,2544.33 L795.44,2544.35 L796.24,2544.36 L797.03,2544.37 L797.83,2544.37 L798.63,2544.38 L799.43,2544.38 L800.23,2544.39 L801.02,2544.39 L801.82,2544.39 L802.62,2544.39 L803.42,2544.39 L804.22,2544.4 L805.02,2544.4 L805.81,2544.4 L806.61,2544.4 L807.41,2544.4 L808.21,2544.4 L809.01,2544.4 L809.8,2544.4 L810.6,2544.4 L811.4,2544.4" fill="none" stroke="#cdb42a" stroke-width="3.1" stroke-linejoin="round"/>
<line x1="684.5" y1="2544.4" x2="811.4" y2="2544.4" stroke="#cdb42a" stroke-width="3.6" stroke-linecap="round"/>
<line x1="605.4" y1="2280" x2="605.4" y2="2585.8" stroke="#000" stroke-width="2.7"/>
<line x1="604.1" y1="2584.5" x2="853.3" y2="2584.5" stroke="#000" stroke-width="2.7"/>
<line x1="598.4" y1="2409.8" x2="605.4" y2="2409.8" stroke="#333" stroke-width="2"/>
<line x1="598.4" y1="2544.4" x2="605.4" y2="2544.4" stroke="#333" stroke-width="2"/>
<line x1="615.8" y1="2584.5" x2="615.8" y2="2591.5" stroke="#333" stroke-width="2"/>
<text x="615.8" y="2617.2" font-size="25" text-anchor="middle" fill="#4d4d4d" stroke="#4d4d4d" stroke-width="0.5">−0.2</text>
<line x1="729.2" y1="2584.5" x2="729.2" y2="2591.5" stroke="#333" stroke-width="2"/>
<text x="729.2" y="2617.2" font-size="25" text-anchor="middle" fill="#4d4d4d" stroke="#4d4d4d" stroke-width="0.5">0</text>
<text x="729.4" y="2655.5" font-size="32" text-anchor="middle" style="font-family:'Liberation Serif', 'Times New Roman', serif" stroke="#000" stroke-width="0.6">Δρ</text>
<line x1="991.7" y1="2280" x2="991.7" y2="2584.5" stroke="#bdbdbd" stroke-width="1.3"/>
<path d="M957.9,2409.8 L957.9,2342.23 L958.3,2339.97 L958.99,2336.07 L959.67,2332.18 L960.36,2328.31 L961.05,2324.49 L961.73,2320.73 L962.42,2317.08 L963.11,2313.54 L963.79,2310.15 L964.48,2306.94 L965.17,2303.91 L965.85,2301.1 L966.54,2298.54 L967.23,2296.23 L967.92,2294.2 L968.6,2292.46 L969.29,2291.03 L969.98,2289.92 L970.66,2289.14 L971.35,2288.7 L972.04,2288.6 L972.72,2288.94 L973.41,2289.75 L974.1,2291.03 L974.78,2292.76 L975.47,2294.92 L976.16,2297.49 L976.84,2300.44 L977.53,2303.73 L978.22,2307.33 L978.9,2311.2 L979.59,2315.3 L980.28,2319.59 L980.96,2324.02 L981.65,2328.56 L982.34,2333.17 L983.02,2337.8 L983.71,2342.42 L983.8,2343.01 L983.8,2409.8Z" fill="#e5d68a"/>
<line x1="971.3" y1="2409.8" x2="971.3" y2="2288.72" stroke="#d2bd55" stroke-width="1.3"/>
<path d="M921.9,2409.73 L922.59,2409.71 L923.27,2409.69 L923.96,2409.67 L924.65,2409.64 L925.33,2409.61 L926.02,2409.57 L926.71,2409.53 L927.39,2409.47 L928.08,2409.4 L928.77,2409.33 L929.45,2409.24 L930.14,2409.13 L930.83,2409.01 L931.52,2408.86 L932.2,2408.7 L932.89,2408.5 L933.58,2408.28 L934.26,2408.02 L934.95,2407.73 L935.64,2407.4 L936.32,2407.02 L937.01,2406.58 L937.7,2406.1 L938.38,2405.54 L939.07,2404.93 L939.76,2404.23 L940.44,2403.46 L941.13,2402.6 L941.82,2401.64 L942.5,2400.58 L943.19,2399.42 L943.88,2398.14 L944.56,2396.74 L945.25,2395.21 L945.94,2393.55 L946.62,2391.76 L947.31,2389.82 L948,2387.73 L948.68,2385.5 L949.37,2383.11 L950.06,2380.57 L950.75,2377.88 L951.43,2375.04 L952.12,2372.05 L952.81,2368.93 L953.49,2365.66 L954.18,2362.28 L954.87,2358.77 L955.55,2355.16 L956.24,2351.46 L956.93,2347.68 L957.61,2343.85 L958.3,2339.97 L958.99,2336.07 L959.67,2332.18 L960.36,2328.31 L961.05,2324.49 L961.73,2320.73 L962.42,2317.08 L963.11,2313.54 L963.79,2310.15 L964.48,2306.94 L965.17,2303.91 L965.85,2301.1 L966.54,2298.54 L967.23,2296.23 L967.92,2294.2 L968.6,2292.46 L969.29,2291.03 L969.98,2289.92 L970.66,2289.14 L971.35,2288.7 L972.04,2288.6 L972.72,2288.94 L973.41,2289.75 L974.1,2291.03 L974.78,2292.76 L975.47,2294.92 L976.16,2297.49 L976.84,2300.44 L977.53,2303.73 L978.22,2307.33 L978.9,2311.2 L979.59,2315.3 L980.28,2319.59 L980.96,2324.02 L981.65,2328.56 L982.34,2333.17 L983.02,2337.8 L983.71,2342.42 L984.4,2346.99 L985.08,2351.48 L985.77,2355.87 L986.46,2360.12 L987.15,2364.22 L987.83,2368.15 L988.52,2371.89 L989.21,2375.43 L989.89,2378.77 L990.58,2381.89 L991.27,2384.79 L991.95,2387.49 L992.64,2389.97 L993.33,2392.24 L994.01,2394.32 L994.7,2396.2 L995.39,2397.91 L996.07,2399.44 L996.76,2400.81 L997.45,2402.03 L998.13,2403.11 L998.82,2404.06 L999.51,2404.9 L1000.19,2405.63 L1000.88,2406.26 L1001.57,2406.82 L1002.25,2407.29 L1002.94,2407.7 L1003.63,2408.05 L1004.32,2408.34 L1005,2408.6 L1005.69,2408.81 L1006.38,2408.98 L1007.06,2409.13 L1007.75,2409.26 L1008.44,2409.36 L1009.12,2409.44 L1009.81,2409.51 L1010.5,2409.57 L1011.18,2409.62 L1011.87,2409.65 L1012.56,2409.68 L1013.24,2409.71 L1013.93,2409.73 L1014.62,2409.74 L1015.3,2409.76 L1015.99,2409.77 L1016.68,2409.77 L1017.36,2409.78 L1018.05,2409.78 L1018.74,2409.79 L1019.42,2409.79 L1020.11,2409.79 L1020.8,2409.79 L1021.48,2409.8 L1022.17,2409.8 L1022.86,2409.8 L1023.55,2409.8 L1024.23,2409.8 L1024.92,2409.8 L1025.61,2409.8 L1026.29,2409.8 L1026.98,2409.8 L1027.67,2409.8 L1028.35,2409.8 L1029.04,2409.8 L1029.73,2409.8 L1030.41,2409.8 L1031.1,2409.8" fill="none" stroke="#cdb42a" stroke-width="3.1" stroke-linejoin="round"/>
<line x1="921.9" y1="2409.8" x2="1031.1" y2="2409.8" stroke="#cdb42a" stroke-width="3.6" stroke-linecap="round"/>
<path d="M985.5,2544.4 L985.5,2474.17 L986.07,2471.49 L986.8,2468.03 L987.54,2464.59 L988.27,2461.18 L989,2457.82 L989.73,2454.52 L990.47,2451.29 L991.2,2448.17 L991.93,2445.16 L992.66,2442.27 L993.4,2439.54 L994.13,2436.97 L994.86,2434.59 L995.59,2432.39 L996.33,2430.4 L997.06,2428.64 L997.79,2427.1 L998.53,2425.81 L999.26,2424.77 L999.99,2423.98 L1000.72,2423.46 L1001.46,2423.2 L1002.19,2423.22 L1002.92,2423.58 L1003.65,2424.29 L1004.39,2425.34 L1005.12,2426.73 L1005.85,2428.44 L1006.59,2430.45 L1007.32,2432.75 L1008.05,2435.32 L1008.78,2438.15 L1009.52,2441.19 L1010.25,2444.45 L1010.98,2447.88 L1011.71,2451.46 L1012.45,2455.17 L1013.18,2458.98 L1013.91,2462.86 L1014.6,2466.55 L1014.6,2544.4Z" fill="#e5d68a"/>
<line x1="1000.6" y1="2544.4" x2="1000.6" y2="2423.53" stroke="#d2bd55" stroke-width="1.3"/>
<path d="M950.9,2543.81 L951.63,2543.71 L952.37,2543.6 L953.1,2543.47 L953.83,2543.33 L954.56,2543.16 L955.3,2542.97 L956.03,2542.76 L956.76,2542.52 L957.49,2542.25 L958.23,2541.95 L958.96,2541.61 L959.69,2541.23 L960.43,2540.8 L961.16,2540.33 L961.89,2539.8 L962.62,2539.22 L963.36,2538.58 L964.09,2537.87 L964.82,2537.1 L965.55,2536.25 L966.29,2535.32 L967.02,2534.3 L967.75,2533.2 L968.48,2532.01 L969.22,2530.71 L969.95,2529.32 L970.68,2527.82 L971.42,2526.21 L972.15,2524.49 L972.88,2522.65 L973.61,2520.7 L974.35,2518.63 L975.08,2516.44 L975.81,2514.13 L976.54,2511.71 L977.28,2509.16 L978.01,2506.5 L978.74,2503.73 L979.48,2500.86 L980.21,2497.88 L980.94,2494.81 L981.67,2491.66 L982.41,2488.42 L983.14,2485.12 L983.87,2481.77 L984.6,2478.37 L985.34,2474.93 L986.07,2471.49 L986.8,2468.03 L987.54,2464.59 L988.27,2461.18 L989,2457.82 L989.73,2454.52 L990.47,2451.29 L991.2,2448.17 L991.93,2445.16 L992.66,2442.27 L993.4,2439.54 L994.13,2436.97 L994.86,2434.59 L995.59,2432.39 L996.33,2430.4 L997.06,2428.64 L997.79,2427.1 L998.53,2425.81 L999.26,2424.77 L999.99,2423.98 L1000.72,2423.46 L1001.46,2423.2 L1002.19,2423.22 L1002.92,2423.58 L1003.65,2424.29 L1004.39,2425.34 L1005.12,2426.73 L1005.85,2428.44 L1006.59,2430.45 L1007.32,2432.75 L1008.05,2435.32 L1008.78,2438.15 L1009.52,2441.19 L1010.25,2444.45 L1010.98,2447.88 L1011.71,2451.46 L1012.45,2455.17 L1013.18,2458.98 L1013.91,2462.86 L1014.65,2466.8 L1015.38,2470.75 L1016.11,2474.71 L1016.84,2478.65 L1017.58,2482.54 L1018.31,2486.37 L1019.04,2490.13 L1019.77,2493.78 L1020.51,2497.33 L1021.24,2500.75 L1021.97,2504.05 L1022.71,2507.2 L1023.44,2510.21 L1024.17,2513.06 L1024.9,2515.76 L1025.64,2518.3 L1026.37,2520.69 L1027.1,2522.92 L1027.83,2525 L1028.57,2526.92 L1029.3,2528.7 L1030.03,2530.34 L1030.76,2531.85 L1031.5,2533.23 L1032.23,2534.48 L1032.96,2535.62 L1033.7,2536.65 L1034.43,2537.58 L1035.16,2538.42 L1035.89,2539.16 L1036.63,2539.83 L1037.36,2540.43 L1038.09,2540.95 L1038.82,2541.42 L1039.56,2541.83 L1040.29,2542.19 L1041.02,2542.51 L1041.76,2542.78 L1042.49,2543.02 L1043.22,2543.23 L1043.95,2543.41 L1044.69,2543.56 L1045.42,2543.69 L1046.15,2543.81 L1046.88,2543.9 L1047.62,2543.98 L1048.35,2544.05 L1049.08,2544.11 L1049.82,2544.16 L1050.55,2544.2 L1051.28,2544.24 L1052.01,2544.27 L1052.75,2544.29 L1053.48,2544.31 L1054.21,2544.33 L1054.94,2544.34 L1055.68,2544.35 L1056.41,2544.36 L1057.14,2544.37 L1057.87,2544.38 L1058.61,2544.38 L1059.34,2544.38 L1060.07,2544.39 L1060.81,2544.39 L1061.54,2544.39 L1062.27,2544.39 L1063,2544.4 L1063.74,2544.4 L1064.47,2544.4 L1065.2,2544.4 L1065.93,2544.4 L1066.67,2544.4 L1067.4,2544.4" fill="none" stroke="#cdb42a" stroke-width="3.1" stroke-linejoin="round"/>
<line x1="950.9" y1="2544.4" x2="1067.4" y2="2544.4" stroke="#cdb42a" stroke-width="3.6" stroke-linecap="round"/>
<line x1="892.9" y1="2280" x2="892.9" y2="2585.8" stroke="#000" stroke-width="2.7"/>
<line x1="891.6" y1="2584.5" x2="1140.8" y2="2584.5" stroke="#000" stroke-width="2.7"/>
<line x1="885.9" y1="2409.8" x2="892.9" y2="2409.8" stroke="#333" stroke-width="2"/>
<line x1="885.9" y1="2544.4" x2="892.9" y2="2544.4" stroke="#333" stroke-width="2"/>
<line x1="904.4" y1="2584.5" x2="904.4" y2="2591.5" stroke="#333" stroke-width="2"/>
<text x="904.4" y="2617.2" font-size="25" text-anchor="middle" fill="#4d4d4d" stroke="#4d4d4d" stroke-width="0.5">−0.05</text>
<line x1="991.7" y1="2584.5" x2="991.7" y2="2591.5" stroke="#333" stroke-width="2"/>
<text x="991.7" y="2617.2" font-size="25" text-anchor="middle" fill="#4d4d4d" stroke="#4d4d4d" stroke-width="0.5">0</text>
<line x1="1079" y1="2584.5" x2="1079" y2="2591.5" stroke="#333" stroke-width="2"/>
<text x="1079" y="2617.2" font-size="25" text-anchor="middle" fill="#4d4d4d" stroke="#4d4d4d" stroke-width="0.5">0.05</text>
<text x="1016.7" y="2657.8" font-size="32" text-anchor="middle" style="font-family:'Liberation Serif', 'Times New Roman', serif" stroke="#000" stroke-width="0.6">Δσ</text>
<line x1="1305" y1="2280" x2="1305" y2="2584.5" stroke="#bdbdbd" stroke-width="1.3"/>
<path d="M1272.1,2409.8 L1272.1,2354.6 L1272.68,2352.92 L1273.61,2350.2 L1274.53,2347.42 L1275.45,2344.56 L1276.38,2341.64 L1277.3,2338.67 L1278.22,2335.64 L1279.15,2332.56 L1280.07,2329.45 L1280.99,2326.3 L1281.92,2323.14 L1282.84,2319.96 L1283.76,2316.79 L1284.69,2313.64 L1285.61,2310.53 L1286.53,2307.47 L1287.46,2304.48 L1288.38,2301.59 L1289.3,2298.08 L1290.23,2294.92 L1291.15,2292.35 L1292.07,2290.42 L1293,2289.16 L1293.92,2288.6 L1294.84,2288.74 L1295.77,2289.58 L1296.69,2291.11 L1297.61,2293.3 L1298.54,2296.11 L1299.46,2299.5 L1300.38,2303.41 L1301.31,2307.77 L1302.23,2312.53 L1303.15,2317.6 L1304.08,2322.91 L1304.6,2326.01 L1304.6,2409.8Z" fill="#e5d68a"/>
<line x1="1288.7" y1="2409.8" x2="1288.7" y2="2300.44" stroke="#d2bd55" stroke-width="1.3"/>
<path d="M1197.9,2409.64 L1198.82,2409.63 L1199.75,2409.61 L1200.67,2409.59 L1201.59,2409.57 L1202.52,2409.55 L1203.44,2409.53 L1204.36,2409.5 L1205.29,2409.48 L1206.21,2409.44 L1207.13,2409.41 L1208.06,2409.38 L1208.98,2409.34 L1209.9,2409.3 L1210.83,2409.25 L1211.75,2409.2 L1212.67,2409.15 L1213.6,2409.09 L1214.52,2409.02 L1215.44,2408.96 L1216.37,2408.88 L1217.29,2408.8 L1218.21,2408.71 L1219.14,2408.62 L1220.06,2408.52 L1220.98,2408.41 L1221.91,2408.29 L1222.83,2408.17 L1223.75,2408.03 L1224.67,2407.88 L1225.6,2407.72 L1226.52,2407.55 L1227.44,2407.37 L1228.37,2407.17 L1229.29,2406.96 L1230.21,2406.73 L1231.14,2406.48 L1232.06,2406.22 L1232.98,2405.94 L1233.91,2405.64 L1234.83,2405.32 L1235.75,2404.97 L1236.68,2404.6 L1237.6,2404.21 L1238.52,2403.79 L1239.45,2403.34 L1240.37,2402.86 L1241.29,2402.35 L1242.22,2401.81 L1243.14,2401.23 L1244.06,2400.62 L1244.99,2399.97 L1245.91,2399.27 L1246.83,2398.54 L1247.76,2397.76 L1248.68,2396.93 L1249.6,2396.06 L1250.53,2395.14 L1251.45,2394.16 L1252.37,2393.13 L1253.3,2392.04 L1254.22,2390.9 L1255.14,2389.69 L1256.07,2388.42 L1256.99,2387.09 L1257.91,2385.68 L1258.84,2384.21 L1259.76,2382.67 L1260.68,2381.05 L1261.61,2379.36 L1262.53,2377.6 L1263.45,2375.75 L1264.38,2373.83 L1265.3,2371.83 L1266.22,2369.75 L1267.15,2367.58 L1268.07,2365.34 L1268.99,2363.02 L1269.92,2360.61 L1270.84,2358.12 L1271.76,2355.56 L1272.68,2352.92 L1273.61,2350.2 L1274.53,2347.42 L1275.45,2344.56 L1276.38,2341.64 L1277.3,2338.67 L1278.22,2335.64 L1279.15,2332.56 L1280.07,2329.45 L1280.99,2326.3 L1281.92,2323.14 L1282.84,2319.96 L1283.76,2316.79 L1284.69,2313.64 L1285.61,2310.53 L1286.53,2307.47 L1287.46,2304.48 L1288.38,2301.59 L1289.3,2298.08 L1290.23,2294.92 L1291.15,2292.35 L1292.07,2290.42 L1293,2289.16 L1293.92,2288.6 L1294.84,2288.74 L1295.77,2289.58 L1296.69,2291.11 L1297.61,2293.3 L1298.54,2296.11 L1299.46,2299.5 L1300.38,2303.41 L1301.31,2307.77 L1302.23,2312.53 L1303.15,2317.6 L1304.08,2322.91 L1305,2328.4 L1305.92,2333.98 L1306.85,2339.58 L1307.77,2345.16 L1308.69,2350.63 L1309.62,2355.95 L1310.54,2361.08 L1311.46,2365.98 L1312.39,2370.62 L1313.31,2374.96 L1314.23,2379.01 L1315.16,2382.74 L1316.08,2386.16 L1317,2389.27 L1317.93,2392.07 L1318.85,2394.58 L1319.77,2396.81 L1320.69,2398.77 L1321.62,2400.5 L1322.54,2402 L1323.46,2403.29 L1324.39,2404.41 L1325.31,2405.35 L1326.23,2406.16 L1327.16,2406.83 L1328.08,2407.4 L1329,2407.86 L1329.93,2408.25 L1330.85,2408.57 L1331.77,2408.82 L1332.7,2409.03 L1333.62,2409.2 L1334.54,2409.33 L1335.47,2409.44 L1336.39,2409.52 L1337.31,2409.59 L1338.24,2409.64 L1339.16,2409.68 L1340.08,2409.71 L1341.01,2409.73 L1341.93,2409.75 L1342.85,2409.76 L1343.78,2409.77 L1344.7,2409.78" fill="none" stroke="#cdb42a" stroke-width="3.1" stroke-linejoin="round"/>
<line x1="1197.9" y1="2409.8" x2="1344.7" y2="2409.8" stroke="#cdb42a" stroke-width="3.6" stroke-linecap="round"/>
<path d="M1295.4,2544.4 L1295.4,2496.45 L1295.56,2495.57 L1296.29,2491.34 L1297.02,2486.97 L1297.75,2482.48 L1298.48,2477.92 L1299.22,2473.3 L1299.95,2468.66 L1300.68,2464.04 L1301.41,2459.47 L1302.15,2455.01 L1302.88,2450.68 L1303.61,2446.53 L1304.34,2442.61 L1305.07,2438.95 L1305.81,2435.59 L1306.54,2432.57 L1307.27,2429.93 L1308,2427.69 L1308.73,2425.88 L1309.47,2424.51 L1310.2,2423.62 L1310.93,2423.2 L1311.66,2423.29 L1312.39,2424.01 L1313.13,2425.35 L1313.86,2427.3 L1314.59,2429.81 L1315.32,2432.86 L1316.05,2436.39 L1316.79,2440.37 L1317.52,2444.72 L1318.25,2449.39 L1318.98,2454.31 L1319.72,2459.43 L1320.45,2464.68 L1320.5,2465.06 L1320.5,2544.4Z" fill="#e5d68a"/>
<line x1="1308.4" y1="2544.4" x2="1308.4" y2="2426.65" stroke="#d2bd55" stroke-width="1.3"/>
<path d="M1250.9,2544.4 L1251.63,2544.4 L1252.36,2544.4 L1253.1,2544.4 L1253.83,2544.4 L1254.56,2544.4 L1255.29,2544.4 L1256.02,2544.4 L1256.76,2544.4 L1257.49,2544.4 L1258.22,2544.4 L1258.95,2544.4 L1259.68,2544.39 L1260.42,2544.39 L1261.15,2544.39 L1261.88,2544.39 L1262.61,2544.38 L1263.35,2544.38 L1264.08,2544.37 L1264.81,2544.36 L1265.54,2544.35 L1266.27,2544.33 L1267.01,2544.31 L1267.74,2544.29 L1268.47,2544.26 L1269.2,2544.23 L1269.93,2544.18 L1270.67,2544.13 L1271.4,2544.06 L1272.13,2543.98 L1272.86,2543.89 L1273.59,2543.77 L1274.33,2543.62 L1275.06,2543.45 L1275.79,2543.25 L1276.52,2543.01 L1277.25,2542.72 L1277.99,2542.39 L1278.72,2542 L1279.45,2541.54 L1280.18,2541 L1280.92,2540.39 L1281.65,2539.68 L1282.38,2538.86 L1283.11,2537.94 L1283.84,2536.89 L1284.58,2535.7 L1285.31,2534.36 L1286.04,2532.86 L1286.77,2531.2 L1287.5,2529.35 L1288.24,2527.32 L1288.97,2525.08 L1289.7,2522.64 L1290.43,2519.99 L1291.16,2517.12 L1291.9,2514.04 L1292.63,2510.75 L1293.36,2507.24 L1294.09,2503.54 L1294.82,2499.64 L1295.56,2495.57 L1296.29,2491.34 L1297.02,2486.97 L1297.75,2482.48 L1298.48,2477.92 L1299.22,2473.3 L1299.95,2468.66 L1300.68,2464.04 L1301.41,2459.47 L1302.15,2455.01 L1302.88,2450.68 L1303.61,2446.53 L1304.34,2442.61 L1305.07,2438.95 L1305.81,2435.59 L1306.54,2432.57 L1307.27,2429.93 L1308,2427.69 L1308.73,2425.88 L1309.47,2424.51 L1310.2,2423.62 L1310.93,2423.2 L1311.66,2423.29 L1312.39,2424.01 L1313.13,2425.35 L1313.86,2427.3 L1314.59,2429.81 L1315.32,2432.86 L1316.05,2436.39 L1316.79,2440.37 L1317.52,2444.72 L1318.25,2449.39 L1318.98,2454.31 L1319.72,2459.43 L1320.45,2464.68 L1321.18,2469.99 L1321.91,2475.31 L1322.64,2480.59 L1323.38,2485.78 L1324.11,2490.82 L1324.84,2495.69 L1325.57,2500.35 L1326.3,2504.77 L1327.04,2508.94 L1327.77,2512.83 L1328.5,2516.44 L1329.23,2519.77 L1329.96,2522.82 L1330.7,2525.59 L1331.43,2528.09 L1332.16,2530.33 L1332.89,2532.32 L1333.62,2534.09 L1334.36,2535.65 L1335.09,2537.01 L1335.82,2538.19 L1336.55,2539.21 L1337.28,2540.08 L1338.02,2540.83 L1338.75,2541.46 L1339.48,2542 L1340.21,2542.44 L1340.95,2542.81 L1341.68,2543.12 L1342.41,2543.38 L1343.14,2543.58 L1343.87,2543.75 L1344.61,2543.89 L1345.34,2544 L1346.07,2544.09 L1346.8,2544.16 L1347.53,2544.21 L1348.27,2544.26 L1349,2544.29 L1349.73,2544.32 L1350.46,2544.34 L1351.19,2544.35 L1351.93,2544.36 L1352.66,2544.37 L1353.39,2544.38 L1354.12,2544.39 L1354.85,2544.39 L1355.59,2544.39 L1356.32,2544.39 L1357.05,2544.4 L1357.78,2544.4 L1358.52,2544.4 L1359.25,2544.4 L1359.98,2544.4 L1360.71,2544.4 L1361.44,2544.4 L1362.18,2544.4 L1362.91,2544.4 L1363.64,2544.4 L1364.37,2544.4 L1365.1,2544.4 L1365.84,2544.4 L1366.57,2544.4 L1367.3,2544.4" fill="none" stroke="#cdb42a" stroke-width="3.1" stroke-linejoin="round"/>
<line x1="1250.9" y1="2544.4" x2="1367.3" y2="2544.4" stroke="#cdb42a" stroke-width="3.6" stroke-linecap="round"/>
<line x1="1181.25" y1="2280" x2="1181.25" y2="2585.8" stroke="#000" stroke-width="2.7"/>
<line x1="1179.95" y1="2584.5" x2="1429.15" y2="2584.5" stroke="#000" stroke-width="2.7"/>
<line x1="1174.25" y1="2409.8" x2="1181.25" y2="2409.8" stroke="#333" stroke-width="2"/>
<line x1="1174.25" y1="2544.4" x2="1181.25" y2="2544.4" stroke="#333" stroke-width="2"/>
<line x1="1230" y1="2584.5" x2="1230" y2="2591.5" stroke="#333" stroke-width="2"/>
<text x="1230" y="2617.2" font-size="25" text-anchor="middle" fill="#4d4d4d" stroke="#4d4d4d" stroke-width="0.5">−0.2</text>
<line x1="1305" y1="2584.5" x2="1305" y2="2591.5" stroke="#333" stroke-width="2"/>
<text x="1305" y="2617.2" font-size="25" text-anchor="middle" fill="#4d4d4d" stroke="#4d4d4d" stroke-width="0.5">0</text>
<line x1="1380" y1="2584.5" x2="1380" y2="2591.5" stroke="#333" stroke-width="2"/>
<text x="1380" y="2617.2" font-size="25" text-anchor="middle" fill="#4d4d4d" stroke="#4d4d4d" stroke-width="0.5">0.2</text>
<text x="1304.8" y="2656.5" text-anchor="middle" stroke="#000" stroke-width="0.5"><tspan style="font-family:'Liberation Serif', 'Times New Roman', serif" font-size="32" stroke="#000" stroke-width="0.6">Δω</tspan><tspan font-size="22.8" dy="4">rational</tspan></text>
<line x1="1631.25" y1="2280" x2="1631.25" y2="2584.5" stroke="#bdbdbd" stroke-width="1.3"/>
<path d="M1585.8,2409.8 L1585.8,2351.49 L1585.98,2350.84 L1586.92,2347.41 L1587.87,2343.9 L1588.82,2340.33 L1589.76,2336.71 L1590.71,2333.06 L1591.65,2329.39 L1592.6,2325.73 L1593.54,2322.08 L1594.49,2318.47 L1595.43,2314.93 L1596.38,2311.47 L1597.32,2308.13 L1598.27,2304.93 L1599.21,2301.91 L1600.16,2299.08 L1601.1,2296.2 L1602.05,2293.64 L1602.99,2291.58 L1603.94,2290.04 L1604.88,2289.04 L1605.83,2288.6 L1606.78,2288.75 L1607.72,2289.59 L1608.67,2291.1 L1609.61,2293.27 L1610.56,2296.04 L1611.5,2299.38 L1612.45,2303.24 L1613.39,2307.55 L1614.34,2312.24 L1615.28,2317.25 L1616.23,2322.5 L1617.17,2327.92 L1617.6,2330.41 L1617.6,2409.8Z" fill="#e5d68a"/>
<line x1="1601.7" y1="2409.8" x2="1601.7" y2="2294.53" stroke="#d2bd55" stroke-width="1.3"/>
<path d="M1521.7,2409.77 L1522.65,2409.76 L1523.59,2409.76 L1524.54,2409.75 L1525.48,2409.74 L1526.43,2409.73 L1527.37,2409.72 L1528.32,2409.71 L1529.26,2409.69 L1530.21,2409.68 L1531.15,2409.66 L1532.1,2409.63 L1533.04,2409.61 L1533.99,2409.58 L1534.93,2409.55 L1535.88,2409.51 L1536.82,2409.47 L1537.77,2409.42 L1538.72,2409.36 L1539.66,2409.3 L1540.61,2409.23 L1541.55,2409.15 L1542.5,2409.06 L1543.44,2408.96 L1544.39,2408.85 L1545.33,2408.72 L1546.28,2408.58 L1547.22,2408.42 L1548.17,2408.24 L1549.11,2408.04 L1550.06,2407.82 L1551,2407.57 L1551.95,2407.3 L1552.89,2406.99 L1553.84,2406.66 L1554.78,2406.28 L1555.73,2405.88 L1556.68,2405.42 L1557.62,2404.93 L1558.57,2404.39 L1559.51,2403.79 L1560.46,2403.14 L1561.4,2402.43 L1562.35,2401.65 L1563.29,2400.81 L1564.24,2399.9 L1565.18,2398.9 L1566.13,2397.83 L1567.07,2396.67 L1568.02,2395.43 L1568.96,2394.09 L1569.91,2392.65 L1570.85,2391.11 L1571.8,2389.46 L1572.75,2387.7 L1573.69,2385.83 L1574.64,2383.85 L1575.58,2381.75 L1576.53,2379.53 L1577.47,2377.18 L1578.42,2374.72 L1579.36,2372.13 L1580.31,2369.43 L1581.25,2366.6 L1582.2,2363.66 L1583.14,2360.61 L1584.09,2357.45 L1585.03,2354.19 L1585.98,2350.84 L1586.92,2347.41 L1587.87,2343.9 L1588.82,2340.33 L1589.76,2336.71 L1590.71,2333.06 L1591.65,2329.39 L1592.6,2325.73 L1593.54,2322.08 L1594.49,2318.47 L1595.43,2314.93 L1596.38,2311.47 L1597.32,2308.13 L1598.27,2304.93 L1599.21,2301.91 L1600.16,2299.08 L1601.1,2296.2 L1602.05,2293.64 L1602.99,2291.58 L1603.94,2290.04 L1604.88,2289.04 L1605.83,2288.6 L1606.78,2288.75 L1607.72,2289.59 L1608.67,2291.1 L1609.61,2293.27 L1610.56,2296.04 L1611.5,2299.38 L1612.45,2303.24 L1613.39,2307.55 L1614.34,2312.24 L1615.28,2317.25 L1616.23,2322.5 L1617.17,2327.92 L1618.12,2333.45 L1619.06,2339 L1620.01,2344.53 L1620.95,2349.97 L1621.9,2355.27 L1622.85,2360.38 L1623.79,2365.27 L1624.74,2369.9 L1625.68,2374.26 L1626.63,2378.32 L1627.57,2382.08 L1628.52,2385.52 L1629.46,2388.66 L1630.41,2391.5 L1631.35,2394.05 L1632.3,2396.32 L1633.24,2398.33 L1634.19,2400.09 L1635.13,2401.63 L1636.08,2402.97 L1637.02,2404.12 L1637.97,2405.1 L1638.92,2405.94 L1639.86,2406.64 L1640.81,2407.23 L1641.75,2407.72 L1642.7,2408.13 L1643.64,2408.47 L1644.59,2408.74 L1645.53,2408.96 L1646.48,2409.14 L1647.42,2409.29 L1648.37,2409.4 L1649.31,2409.49 L1650.26,2409.56 L1651.2,2409.62 L1652.15,2409.66 L1653.09,2409.7 L1654.04,2409.72 L1654.98,2409.74 L1655.93,2409.76 L1656.88,2409.77 L1657.82,2409.78 L1658.77,2409.78 L1659.71,2409.79 L1660.66,2409.79 L1661.6,2409.79 L1662.55,2409.8 L1663.49,2409.8 L1664.44,2409.8 L1665.38,2409.8 L1666.33,2409.8 L1667.27,2409.8 L1668.22,2409.8 L1669.16,2409.8 L1670.11,2409.8 L1671.05,2409.8 L1672,2409.8" fill="none" stroke="#cdb42a" stroke-width="3.1" stroke-linejoin="round"/>
<line x1="1521.7" y1="2409.8" x2="1672" y2="2409.8" stroke="#cdb42a" stroke-width="3.6" stroke-linecap="round"/>
<path d="M1586.4,2544.4 L1586.4,2477.75 L1586.7,2476.27 L1587.48,2472.45 L1588.26,2468.62 L1589.03,2464.8 L1589.81,2461.02 L1590.58,2457.29 L1591.36,2453.65 L1592.14,2450.1 L1592.91,2446.69 L1593.69,2443.43 L1594.46,2440.34 L1595.24,2437.44 L1596.02,2434.76 L1596.79,2432.32 L1597.57,2430.14 L1598.34,2428.23 L1599.12,2426.61 L1599.9,2425.29 L1600.67,2424.28 L1601.45,2423.59 L1602.23,2423.22 L1603,2423.2 L1603.78,2423.68 L1604.55,2424.7 L1605.33,2426.23 L1606.11,2428.27 L1606.88,2430.79 L1607.66,2433.74 L1608.43,2437.1 L1609.21,2440.82 L1609.99,2444.87 L1610.76,2449.17 L1611.54,2453.7 L1611.9,2455.88 L1611.9,2544.4Z" fill="#e5d68a"/>
<line x1="1599.8" y1="2544.4" x2="1599.8" y2="2425.43" stroke="#d2bd55" stroke-width="1.3"/>
<path d="M1531.6,2544.4 L1532.38,2544.4 L1533.15,2544.4 L1533.93,2544.4 L1534.7,2544.4 L1535.48,2544.4 L1536.26,2544.39 L1537.03,2544.39 L1537.81,2544.39 L1538.58,2544.39 L1539.36,2544.39 L1540.14,2544.38 L1540.91,2544.38 L1541.69,2544.37 L1542.47,2544.37 L1543.24,2544.36 L1544.02,2544.35 L1544.79,2544.34 L1545.57,2544.32 L1546.35,2544.31 L1547.12,2544.28 L1547.9,2544.26 L1548.67,2544.23 L1549.45,2544.2 L1550.23,2544.15 L1551,2544.11 L1551.78,2544.05 L1552.55,2543.98 L1553.33,2543.9 L1554.11,2543.81 L1554.88,2543.7 L1555.66,2543.57 L1556.44,2543.42 L1557.21,2543.25 L1557.99,2543.06 L1558.76,2542.83 L1559.54,2542.57 L1560.32,2542.28 L1561.09,2541.94 L1561.87,2541.56 L1562.64,2541.13 L1563.42,2540.65 L1564.2,2540.1 L1564.97,2539.49 L1565.75,2538.8 L1566.52,2538.04 L1567.3,2537.19 L1568.08,2536.25 L1568.85,2535.21 L1569.63,2534.08 L1570.41,2532.83 L1571.18,2531.46 L1571.96,2529.97 L1572.73,2528.36 L1573.51,2526.61 L1574.29,2524.72 L1575.06,2522.7 L1575.84,2520.53 L1576.61,2518.22 L1577.39,2515.75 L1578.17,2513.15 L1578.94,2510.39 L1579.72,2507.5 L1580.49,2504.47 L1581.27,2501.3 L1582.05,2498.01 L1582.82,2494.6 L1583.6,2491.09 L1584.37,2487.49 L1585.15,2483.81 L1585.93,2480.06 L1586.7,2476.27 L1587.48,2472.45 L1588.26,2468.62 L1589.03,2464.8 L1589.81,2461.02 L1590.58,2457.29 L1591.36,2453.65 L1592.14,2450.1 L1592.91,2446.69 L1593.69,2443.43 L1594.46,2440.34 L1595.24,2437.44 L1596.02,2434.76 L1596.79,2432.32 L1597.57,2430.14 L1598.34,2428.23 L1599.12,2426.61 L1599.9,2425.29 L1600.67,2424.28 L1601.45,2423.59 L1602.23,2423.22 L1603,2423.2 L1603.78,2423.68 L1604.55,2424.7 L1605.33,2426.23 L1606.11,2428.27 L1606.88,2430.79 L1607.66,2433.74 L1608.43,2437.1 L1609.21,2440.82 L1609.99,2444.87 L1610.76,2449.17 L1611.54,2453.7 L1612.31,2458.4 L1613.09,2463.23 L1613.87,2468.12 L1614.64,2473.04 L1615.42,2477.94 L1616.19,2482.78 L1616.97,2487.52 L1617.75,2492.13 L1618.52,2496.58 L1619.3,2500.85 L1620.08,2504.91 L1620.85,2508.76 L1621.63,2512.37 L1622.4,2515.75 L1623.18,2518.89 L1623.96,2521.78 L1624.73,2524.43 L1625.51,2526.86 L1626.28,2529.05 L1627.06,2531.03 L1627.84,2532.81 L1628.61,2534.4 L1629.39,2535.81 L1630.16,2537.05 L1630.94,2538.14 L1631.72,2539.09 L1632.49,2539.92 L1633.27,2540.64 L1634.05,2541.25 L1634.82,2541.78 L1635.6,2542.23 L1636.37,2542.61 L1637.15,2542.93 L1637.93,2543.19 L1638.7,2543.42 L1639.48,2543.6 L1640.25,2543.76 L1641.03,2543.88 L1641.81,2543.99 L1642.58,2544.07 L1643.36,2544.14 L1644.13,2544.19 L1644.91,2544.24 L1645.69,2544.27 L1646.46,2544.3 L1647.24,2544.32 L1648.02,2544.34 L1648.79,2544.35 L1649.57,2544.37 L1650.34,2544.37 L1651.12,2544.38 L1651.9,2544.38 L1652.67,2544.39 L1653.45,2544.39 L1654.22,2544.39 L1655,2544.4" fill="none" stroke="#cdb42a" stroke-width="3.1" stroke-linejoin="round"/>
<line x1="1531.6" y1="2544.4" x2="1655" y2="2544.4" stroke="#cdb42a" stroke-width="3.6" stroke-linecap="round"/>
<line x1="1468.75" y1="2280" x2="1468.75" y2="2585.8" stroke="#000" stroke-width="2.7"/>
<line x1="1467.45" y1="2584.5" x2="1716.65" y2="2584.5" stroke="#000" stroke-width="2.7"/>
<line x1="1461.75" y1="2409.8" x2="1468.75" y2="2409.8" stroke="#333" stroke-width="2"/>
<line x1="1461.75" y1="2544.4" x2="1468.75" y2="2544.4" stroke="#333" stroke-width="2"/>
<line x1="1480.45" y1="2584.5" x2="1480.45" y2="2591.5" stroke="#333" stroke-width="2"/>
<text x="1480.45" y="2617.2" font-size="25" text-anchor="middle" fill="#4d4d4d" stroke="#4d4d4d" stroke-width="0.5">−0.2</text>
<line x1="1631.25" y1="2584.5" x2="1631.25" y2="2591.5" stroke="#333" stroke-width="2"/>
<text x="1631.25" y="2617.2" font-size="25" text-anchor="middle" fill="#4d4d4d" stroke="#4d4d4d" stroke-width="0.5">0</text>
<line x1="1706.65" y1="2584.5" x2="1706.65" y2="2591.5" stroke="#333" stroke-width="2"/>
<text x="1706.65" y="2617.2" font-size="25" text-anchor="middle" fill="#4d4d4d" stroke="#4d4d4d" stroke-width="0.5">0.1</text>
<text x="1592.7" y="2656.5" text-anchor="middle" stroke="#000" stroke-width="0.5"><tspan style="font-family:'Liberation Serif', 'Times New Roman', serif" font-size="32" stroke="#000" stroke-width="0.6">Δω</tspan><tspan font-size="22.8" dy="4">lottery</tspan></text>
<text x="1661.7" y="2483" font-size="34" text-anchor="middle" font-weight="bold" style="font-family:'Liberation Serif', 'Times New Roman', serif" stroke="#000" stroke-width="0.3">*</text>
<line x1="1819.7" y1="2280" x2="1819.7" y2="2584.5" stroke="#bdbdbd" stroke-width="1.3"/>
<path d="M1838.7,2409.8 L1838.7,2318.58 L1839.41,2314.91 L1840.33,2310.33 L1841.25,2306.07 L1842.17,2302.15 L1843.09,2298.66 L1844.01,2295.62 L1844.93,2293.08 L1845.85,2291.09 L1846.77,2289.66 L1847.69,2288.83 L1848.61,2288.6 L1849.53,2288.89 L1850.45,2289.63 L1851.38,2290.82 L1852.3,2292.45 L1853.22,2294.5 L1854.14,2296.93 L1855.06,2299.74 L1855.98,2302.26 L1856.9,2304.67 L1857.82,2307.17 L1858.74,2309.73 L1859.66,2312.34 L1860.58,2314.98 L1861.5,2317.65 L1862.42,2320.34 L1863.35,2323.04 L1864.27,2325.74 L1865.19,2328.43 L1866.11,2331.1 L1867.03,2333.76 L1867.95,2336.39 L1868.87,2338.98 L1869.79,2341.55 L1870.71,2344.07 L1871.63,2346.55 L1872.55,2348.98 L1873,2350.14 L1873,2409.8Z" fill="#e5d68a"/>
<line x1="1855.5" y1="2409.8" x2="1855.5" y2="2301.03" stroke="#d2bd55" stroke-width="1.3"/>
<path d="M1808.1,2408.83 L1809.02,2408.6 L1809.94,2408.31 L1810.86,2407.97 L1811.78,2407.55 L1812.7,2407.06 L1813.62,2406.48 L1814.55,2405.8 L1815.47,2405 L1816.39,2404.07 L1817.31,2402.99 L1818.23,2401.75 L1819.15,2400.32 L1820.07,2398.71 L1820.99,2396.88 L1821.91,2394.83 L1822.83,2392.54 L1823.75,2390 L1824.67,2387.2 L1825.59,2384.13 L1826.52,2380.8 L1827.44,2377.19 L1828.36,2373.31 L1829.28,2369.18 L1830.2,2364.81 L1831.12,2360.22 L1832.04,2355.43 L1832.96,2350.48 L1833.88,2345.4 L1834.8,2340.23 L1835.72,2335.03 L1836.64,2329.84 L1837.56,2324.72 L1838.48,2319.72 L1839.41,2314.91 L1840.33,2310.33 L1841.25,2306.07 L1842.17,2302.15 L1843.09,2298.66 L1844.01,2295.62 L1844.93,2293.08 L1845.85,2291.09 L1846.77,2289.66 L1847.69,2288.83 L1848.61,2288.6 L1849.53,2288.89 L1850.45,2289.63 L1851.38,2290.82 L1852.3,2292.45 L1853.22,2294.5 L1854.14,2296.93 L1855.06,2299.74 L1855.98,2302.26 L1856.9,2304.67 L1857.82,2307.17 L1858.74,2309.73 L1859.66,2312.34 L1860.58,2314.98 L1861.5,2317.65 L1862.42,2320.34 L1863.35,2323.04 L1864.27,2325.74 L1865.19,2328.43 L1866.11,2331.1 L1867.03,2333.76 L1867.95,2336.39 L1868.87,2338.98 L1869.79,2341.55 L1870.71,2344.07 L1871.63,2346.55 L1872.55,2348.98 L1873.47,2351.36 L1874.39,2353.69 L1875.32,2355.97 L1876.24,2358.19 L1877.16,2360.36 L1878.08,2362.47 L1879,2364.52 L1879.92,2366.5 L1880.84,2368.43 L1881.76,2370.3 L1882.68,2372.11 L1883.6,2373.86 L1884.52,2375.55 L1885.44,2377.18 L1886.36,2378.75 L1887.28,2380.27 L1888.21,2381.72 L1889.13,2383.12 L1890.05,2384.47 L1890.97,2385.76 L1891.89,2387 L1892.81,2388.18 L1893.73,2389.32 L1894.65,2390.41 L1895.57,2391.45 L1896.49,2392.44 L1897.41,2393.39 L1898.33,2394.3 L1899.25,2395.16 L1900.18,2395.98 L1901.1,2396.76 L1902.02,2397.51 L1902.94,2398.22 L1903.86,2398.89 L1904.78,2399.53 L1905.7,2400.13 L1906.62,2400.71 L1907.54,2401.25 L1908.46,2401.77 L1909.38,2402.26 L1910.3,2402.72 L1911.22,2403.16 L1912.15,2403.57 L1913.07,2403.96 L1913.99,2404.33 L1914.91,2404.67 L1915.83,2405 L1916.75,2405.31 L1917.67,2405.6 L1918.59,2405.87 L1919.51,2406.13 L1920.43,2406.37 L1921.35,2406.6 L1922.27,2406.82 L1923.19,2407.02 L1924.12,2407.2 L1925.04,2407.38 L1925.96,2407.55 L1926.88,2407.7 L1927.8,2407.85 L1928.72,2407.98 L1929.64,2408.11 L1930.56,2408.23 L1931.48,2408.34 L1932.4,2408.44 L1933.32,2408.54 L1934.24,2408.63 L1935.16,2408.72 L1936.08,2408.79 L1937.01,2408.87 L1937.93,2408.94 L1938.85,2409 L1939.77,2409.06 L1940.69,2409.11 L1941.61,2409.17 L1942.53,2409.21 L1943.45,2409.26 L1944.37,2409.3 L1945.29,2409.34 L1946.21,2409.37 L1947.13,2409.4 L1948.05,2409.44 L1948.98,2409.46 L1949.9,2409.49 L1950.82,2409.51 L1951.74,2409.54 L1952.66,2409.56 L1953.58,2409.58 L1954.5,2409.59" fill="none" stroke="#cdb42a" stroke-width="3.1" stroke-linejoin="round"/>
<line x1="1808.1" y1="2409.8" x2="1954.5" y2="2409.8" stroke="#cdb42a" stroke-width="3.6" stroke-linecap="round"/>
<path d="M1821.2,2544.4 L1821.2,2438.37 L1821.23,2438.19 L1821.9,2434.68 L1822.57,2431.57 L1823.23,2428.9 L1823.9,2426.71 L1824.57,2425.03 L1825.23,2423.87 L1825.9,2423.26 L1826.57,2423.2 L1827.23,2423.59 L1827.9,2424.42 L1828.57,2425.68 L1829.23,2427.35 L1829.9,2429.41 L1830.57,2431.84 L1831.23,2434.62 L1831.9,2437.02 L1832.57,2439.38 L1833.23,2441.83 L1833.9,2444.33 L1834.57,2446.87 L1835.23,2449.46 L1835.9,2452.07 L1836.57,2454.69 L1837.23,2457.33 L1837.9,2459.96 L1838.57,2462.59 L1839.23,2465.21 L1839.9,2467.8 L1840.57,2470.38 L1841.23,2472.92 L1841.9,2475.43 L1842.57,2477.91 L1843.23,2480.34 L1843.9,2482.73 L1844.57,2485.08 L1845.23,2487.38 L1845.9,2489.62 L1846.57,2491.82 L1847.23,2493.96 L1847.9,2496.04 L1847.9,2496.04 L1847.9,2544.4Z" fill="#e5d68a"/>
<line x1="1834.8" y1="2544.4" x2="1834.8" y2="2447.77" stroke="#d2bd55" stroke-width="1.3"/>
<path d="M1793.9,2543.86 L1794.57,2543.72 L1795.23,2543.56 L1795.9,2543.36 L1796.57,2543.13 L1797.23,2542.84 L1797.9,2542.5 L1798.57,2542.1 L1799.23,2541.62 L1799.9,2541.06 L1800.57,2540.41 L1801.23,2539.64 L1801.9,2538.76 L1802.57,2537.75 L1803.23,2536.59 L1803.9,2535.27 L1804.57,2533.77 L1805.23,2532.09 L1805.9,2530.2 L1806.57,2528.1 L1807.23,2525.78 L1807.9,2523.22 L1808.57,2520.42 L1809.23,2517.38 L1809.9,2514.09 L1810.57,2510.55 L1811.23,2506.77 L1811.9,2502.76 L1812.57,2498.53 L1813.23,2494.11 L1813.9,2489.51 L1814.57,2484.77 L1815.23,2479.91 L1815.9,2474.97 L1816.57,2470 L1817.23,2465.03 L1817.9,2460.12 L1818.57,2455.32 L1819.23,2450.67 L1819.9,2446.24 L1820.57,2442.06 L1821.23,2438.19 L1821.9,2434.68 L1822.57,2431.57 L1823.23,2428.9 L1823.9,2426.71 L1824.57,2425.03 L1825.23,2423.87 L1825.9,2423.26 L1826.57,2423.2 L1827.23,2423.59 L1827.9,2424.42 L1828.57,2425.68 L1829.23,2427.35 L1829.9,2429.41 L1830.57,2431.84 L1831.23,2434.62 L1831.9,2437.02 L1832.57,2439.38 L1833.23,2441.83 L1833.9,2444.33 L1834.57,2446.87 L1835.23,2449.46 L1835.9,2452.07 L1836.57,2454.69 L1837.23,2457.33 L1837.9,2459.96 L1838.57,2462.59 L1839.23,2465.21 L1839.9,2467.8 L1840.57,2470.38 L1841.23,2472.92 L1841.9,2475.43 L1842.57,2477.91 L1843.23,2480.34 L1843.9,2482.73 L1844.57,2485.08 L1845.23,2487.38 L1845.9,2489.62 L1846.57,2491.82 L1847.23,2493.96 L1847.9,2496.04 L1848.57,2498.07 L1849.23,2500.04 L1849.9,2501.96 L1850.57,2503.82 L1851.23,2505.62 L1851.9,2507.36 L1852.57,2509.05 L1853.23,2510.68 L1853.9,2512.26 L1854.57,2513.77 L1855.23,2515.24 L1855.9,2516.65 L1856.57,2518 L1857.23,2519.31 L1857.9,2520.56 L1858.57,2521.76 L1859.23,2522.91 L1859.9,2524.02 L1860.57,2525.08 L1861.23,2526.09 L1861.9,2527.06 L1862.57,2527.99 L1863.23,2528.87 L1863.9,2529.71 L1864.57,2530.52 L1865.23,2531.29 L1865.9,2532.02 L1866.57,2532.71 L1867.23,2533.38 L1867.9,2534.01 L1868.57,2534.6 L1869.23,2535.17 L1869.9,2535.71 L1870.57,2536.22 L1871.23,2536.71 L1871.9,2537.17 L1872.57,2537.6 L1873.23,2538.01 L1873.9,2538.4 L1874.57,2538.77 L1875.23,2539.12 L1875.9,2539.45 L1876.57,2539.76 L1877.23,2540.05 L1877.9,2540.33 L1878.57,2540.59 L1879.23,2540.83 L1879.9,2541.06 L1880.57,2541.28 L1881.23,2541.48 L1881.9,2541.68 L1882.57,2541.86 L1883.23,2542.03 L1883.9,2542.18 L1884.57,2542.33 L1885.23,2542.47 L1885.9,2542.6 L1886.57,2542.73 L1887.23,2542.84 L1887.9,2542.95 L1888.57,2543.05 L1889.23,2543.15 L1889.9,2543.23 L1890.57,2543.32 L1891.23,2543.39 L1891.9,2543.46 L1892.57,2543.53 L1893.23,2543.59 L1893.9,2543.65 L1894.57,2543.71 L1895.23,2543.76 L1895.9,2543.8 L1896.57,2543.85 L1897.23,2543.89 L1897.9,2543.93 L1898.57,2543.96 L1899.23,2544 L1899.9,2544.03" fill="none" stroke="#cdb42a" stroke-width="3.1" stroke-linejoin="round"/>
<line x1="1793.9" y1="2544.4" x2="1899.9" y2="2544.4" stroke="#cdb42a" stroke-width="3.6" stroke-linecap="round"/>
<line x1="1757.2" y1="2280" x2="1757.2" y2="2585.8" stroke="#000" stroke-width="2.7"/>
<line x1="1755.9" y1="2584.5" x2="2005.1" y2="2584.5" stroke="#000" stroke-width="2.7"/>
<line x1="1750.2" y1="2409.8" x2="1757.2" y2="2409.8" stroke="#333" stroke-width="2"/>
<line x1="1750.2" y1="2544.4" x2="1757.2" y2="2544.4" stroke="#333" stroke-width="2"/>
<line x1="1819.7" y1="2584.5" x2="1819.7" y2="2591.5" stroke="#333" stroke-width="2"/>
<text x="1819.7" y="2617.2" font-size="25" text-anchor="middle" fill="#4d4d4d" stroke="#4d4d4d" stroke-width="0.5">0</text>
<line x1="1906.4" y1="2584.5" x2="1906.4" y2="2591.5" stroke="#333" stroke-width="2"/>
<text x="1906.4" y="2617.2" font-size="25" text-anchor="middle" fill="#4d4d4d" stroke="#4d4d4d" stroke-width="0.5">0.2</text>
<line x1="1993.1" y1="2584.5" x2="1993.1" y2="2591.5" stroke="#333" stroke-width="2"/>
<text x="1993.1" y="2617.2" font-size="25" text-anchor="middle" fill="#4d4d4d" stroke="#4d4d4d" stroke-width="0.5">0.4</text>
<text x="1881" y="2656.5" text-anchor="middle" stroke="#000" stroke-width="0.5"><tspan style="font-family:'Liberation Serif', 'Times New Roman', serif" font-size="32" stroke="#000" stroke-width="0.6">Δω</tspan><tspan font-size="22.8" dy="4">surebet</tspan></text>
<text x="1911.4" y="2343.2" font-size="34" text-anchor="middle" font-weight="bold" style="font-family:'Liberation Serif', 'Times New Roman', serif" stroke="#000" stroke-width="0.3">*</text>
<text x="600" y="2420" font-size="25.2" text-anchor="end" fill="#4d4d4d" transform="rotate(-57.5 600 2420)" stroke="#4d4d4d" stroke-width="0.5">Bi–PPC–40</text>
<text x="600" y="2554.5" font-size="25.2" text-anchor="end" fill="#4d4d4d" transform="rotate(-57.5 600 2554.5)" stroke="#4d4d4d" stroke-width="0.5">Uni–PPC–40</text>
</svg></body></html>
